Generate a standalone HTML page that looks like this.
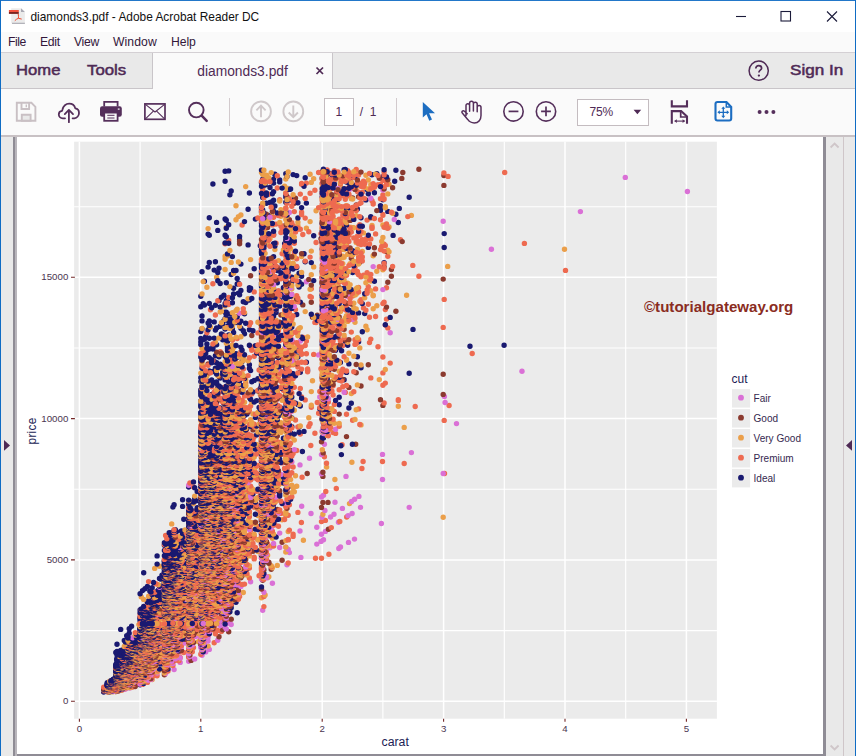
<!DOCTYPE html>
<html><head><meta charset="utf-8"><title>diamonds3.pdf - Adobe Acrobat Reader DC</title>
<style>
*{box-sizing:border-box;margin:0;padding:0}
html,body{width:856px;height:756px;overflow:hidden;background:#fff;font-family:"Liberation Sans",sans-serif}
.a{position:absolute}
.t{position:absolute;white-space:nowrap;line-height:1}
#win{position:absolute;left:0;top:0;width:856px;height:756px;overflow:hidden;background:#fff}
</style></head><body>
<div id="win">
<!-- title bar -->
<div class="a" style="left:0;top:0;width:856px;height:32px;background:#fff"></div>
<svg class="a" style="left:8px;top:7px" width="18" height="18" viewBox="8 7 18 18">
<path d="M11.200 8.200h9.800l3.900 3.900v11.200h-13.700z" fill="#ebebeb"/>
<path d="M21 8.200v3.900h3.900z" fill="#a9a9b3"/>
<path d="M12 23.300h12.900" stroke="#8c8c96" stroke-width=".800"/>
<rect x="8.900" y="10" width="9.900" height="2" fill="#f0503c"/><rect x="8.900" y="12" width="9.900" height="1.900" fill="#7a2420"/>
<path d="M18.200 13.900c.300 1.600 .400 3 .200 4.400-1.300 .500-2.700 1.300-3.600 2.400M18.400 18.300c1 .300 2.100 .600 3.300 .800" fill="none" stroke="#ee4a2e" stroke-width="1"/>
</svg>
<div class="t" style="left:30.5px;top:11.8px;font-size:11.9px;color:#111">diamonds3.pdf - Adobe Acrobat Reader DC</div>
<svg class="a" style="left:730px;top:6px" width="112" height="20" viewBox="0 0 112 20" fill="none" stroke="#1b1b3a" stroke-width="1.1">
<path d="M6 10.500h10"/><rect x="51" y="5.500" width="9.500" height="9.500"/><path d="M97 5.500l10 10M107 5.500l-10 10"/>
</svg>
<!-- menu bar -->
<div class="a" style="left:0;top:32px;width:856px;height:21px;background:#fafafa;border-bottom:1px solid #d4d0d4"></div>
<div class="t" style="left:8px;top:36px;font-size:12.2px;color:#33173a;letter-spacing:-.45px">File</div>
<div class="t" style="left:40px;top:36px;font-size:12.2px;color:#33173a;letter-spacing:-.3px">Edit</div>
<div class="t" style="left:74px;top:36px;font-size:12.2px;color:#33173a;letter-spacing:-.3px">View</div>
<div class="t" style="left:113px;top:36px;font-size:12.2px;color:#33173a;letter-spacing:.07px">Window</div>
<div class="t" style="left:171px;top:36px;font-size:12.2px;color:#33173a;letter-spacing:-.1px">Help</div>
<!-- tab bar -->
<div class="a" style="left:0;top:53px;width:856px;height:36px;background:#e9e9e9;border-bottom:1px solid #c9c5c9"></div>
<div class="a" style="left:152px;top:53px;width:181px;height:36px;background:#fafafa;border-left:1px solid #c9c5c9;border-right:1px solid #c9c5c9"></div>
<div class="t" style="left:16px;top:62.900px;font-size:14.600px;color:#4f2a55;-webkit-text-stroke:.5px #4f2a55;transform:scaleX(1.14);transform-origin:0 0">Home</div>
<div class="t" style="left:86.500px;top:62.900px;font-size:14.600px;color:#4f2a55;-webkit-text-stroke:.5px #4f2a55;transform:scaleX(1.15);transform-origin:0 0">Tools</div>
<div class="t" style="left:197.300px;top:65.200px;font-size:13.800px;color:#4f2a55">diamonds3.pdf</div>
<svg class="a" style="left:315px;top:66px" width="10" height="10" viewBox="0 0 10 10"><path d="M1.500 1.500l6.500 6.500M8 1.500l-6.500 6.500" stroke="#4f2a55" stroke-width="1.750"/></svg>
<svg class="a" style="left:747px;top:59px" width="24" height="24" viewBox="0 0 24 24"><circle cx="11.700" cy="11.700" r="9.600" fill="none" stroke="#4f2a55" stroke-width="1.500"/><path d="M8.800 9.400c0-1.700 1.300-2.700 2.900-2.700s2.900 1 2.900 2.500c0 2-2.700 2-2.700 4.200" fill="none" stroke="#4f2a55" stroke-width="1.700"/><circle cx="11.900" cy="16.600" r="1.150" fill="#4f2a55"/></svg>
<div class="t" style="left:789.500px;top:62.900px;font-size:14.600px;color:#4f2a55;-webkit-text-stroke:.5px #4f2a55;transform:scaleX(1.17);transform-origin:0 0">Sign In</div>
<!-- toolbar -->
<div class="a" style="left:0;top:89px;width:856px;height:48px;background:#fafafa;border-bottom:2px solid #c8c1c4"></div>
<!-- save (disabled) -->
<svg class="a" style="left:14px;top:100px" width="24" height="24" viewBox="14 100 24 24" fill="none" stroke="#c9c0c4" stroke-width="1.9">
<path d="M16.8 102.8h14.6l4 4v14h-18.6z"/><path d="M21.5 102.8v6.2h7.6v-6.2"/><path d="M26.3 104.4v2.8" stroke-width="1.4"/><path d="M21.8 120.8v-6h8.8v6z" fill="#e9e9e9"/>
</svg>
<!-- cloud upload -->
<svg class="a" style="left:56px;top:100px" width="26" height="24" viewBox="56 100 26 24" fill="none" stroke="#552f5b" stroke-width="1.8" stroke-linecap="round" stroke-linejoin="round">
<path d="M65 118.3h-2.200c-2.300 0-4-1.700-4-3.800 0-1.900 1.400-3.500 3.300-3.700 .1-.3 .2-.700 .300-1 .9-3.500 3.500-6.200 6.800-6.200 3 0 5.400 2 6.100 4.800 2.200 .300 3.700 2.200 3.700 4.500 0 2.700-2 5-4.600 5.400h-1.800"/>
<path d="M68.900 122.200v-11.800M64.800 114.100l4.100-4.200 4.100 4.200"/>
</svg>
<!-- print -->
<svg class="a" style="left:98px;top:99px" width="26" height="25" viewBox="98 99 26 25">
<path d="M104.200 106.500v-4.600h13.400v4.600" fill="none" stroke="#552f5b" stroke-width="1.800"/>
<rect x="100" y="106.300" width="21.800" height="10.400" rx="2.200" fill="#552f5b"/>
<rect x="104.200" y="112.600" width="13.400" height="8.200" fill="#fafafa" stroke="#552f5b" stroke-width="1.800"/>
<path d="M107.300 115.300h7.200M107.300 118h7.200" stroke="#552f5b" stroke-width="1"/>
<rect x="117.800" y="108.500" width="1.800" height="1.200" fill="#fafafa"/>
</svg>
<!-- mail -->
<svg class="a" style="left:142px;top:101px" width="26" height="22" viewBox="142 101 26 22" fill="none" stroke="#552f5b">
<rect x="144.900" y="103.900" width="20.100" height="15.400" stroke-width="1.700"/>
<path d="M145.400 104.400l9.600 7.600 9.600-7.600M145.400 118.800l8-7.600M164.600 118.800l-8-7.600" stroke-width="1.100"/>
</svg>
<!-- search -->
<svg class="a" style="left:185px;top:100px" width="25" height="24" viewBox="185 100 25 24" fill="none" stroke="#552f5b" stroke-linecap="round">
<circle cx="196.300" cy="110.100" r="7.300" stroke-width="1.900"/><path d="M201.700 115.700l5 5.200" stroke-width="2.500"/>
</svg>
<div class="a" style="left:229px;top:98px;width:1px;height:28px;background:#d2cacd"></div>
<!-- up / down -->
<svg class="a" style="left:249px;top:100px" width="57" height="23" viewBox="249 100 57 23" fill="none" stroke="#cfc8ca" stroke-width="1.900">
<circle cx="261" cy="111.400" r="9.900"/><path d="M261 117.200v-11.200M256.400 110.300l4.600-4.600 4.600 4.600"/>
<circle cx="293.300" cy="111.400" r="9.900"/><path d="M293.300 105.600v11.200M288.700 112.500l4.600 4.600 4.600-4.600"/>
</svg>
<div class="a" style="left:324px;top:98px;width:30px;height:27.500px;background:#fff;border:1px solid #c4bcc0"></div>
<div class="t" style="left:335.500px;top:105.500px;font-size:12px;color:#4f2a55">1</div>
<div class="t" style="left:359.800px;top:105.500px;font-size:12px;color:#4f2a55;word-spacing:3.400px">/ 1</div>
<div class="a" style="left:396px;top:98px;width:1px;height:28px;background:#d2cacd"></div>
<!-- arrow -->
<svg class="a" style="left:421px;top:100px" width="16" height="23" viewBox="421 100 16 23"><path d="M422.800 102.100v15.400l3.700-3.300 2.800 6.600 2.700-1.200-2.900-6.400h5.900z" fill="#1c6dc1"/></svg>
<!-- hand -->
<svg class="a" style="left:458px;top:99px" width="26" height="26" viewBox="458 99 26 26" fill="none" stroke="#552f5b" stroke-width="1.500" stroke-linecap="round" stroke-linejoin="round">
<path d="M466 115.400V105.600a1.800 1.800 0 0 1 3.600 0V111.300M469.600 111V103.100a1.900 1.900 0 0 1 3.800 0V111M473.400 111V104.100a1.900 1.900 0 0 1 3.800 0V111.400M477.200 111.800V107.400a1.900 1.900 0 0 1 3.800 0V115.600c0 4.500-2.700 7.300-6.700 7.300-3.200 0-5-1.200-6.600-3.500l-5.400-6.300c-1.300-1.600 .700-3.200 2.200-1.900l2.700 2.600"/>
</svg>
<!-- minus / plus -->
<svg class="a" style="left:501px;top:99px" width="58" height="25" viewBox="501 99 58 25" fill="none" stroke="#552f5b" stroke-width="1.600">
<circle cx="513.500" cy="111.400" r="9.700"/><path d="M508.600 111.400h9.800" stroke-width="1.700"/>
<circle cx="546" cy="111.400" r="9.700"/><path d="M541.100 111.400h9.800M546 106.500v9.800" stroke-width="1.700"/>
</svg>
<!-- zoom box -->
<div class="a" style="left:577px;top:98.500px;width:72px;height:27px;background:#fff;border:1px solid #c4bcc0"></div>
<div class="t" style="left:589.500px;top:106px;font-size:12px;color:#4f2a55;letter-spacing:-.2px">75%</div>
<svg class="a" style="left:633px;top:109px" width="9" height="6" viewBox="0 0 9 6"><path d="M.6 .7h7.600l-3.800 4.600z" fill="#4f2a55"/></svg>
<!-- fit width -->
<svg class="a" style="left:669px;top:99px" width="22" height="26" viewBox="669 99 22 26" fill="none" stroke="#552f5b" stroke-width="2.100">
<path d="M671.800 100.200v6.200h15.200v-6.200"/><path d="M671.800 123.800v-12.700h9.300l5.900 5.400v7.300"/><path d="M680.700 111.400v5.600h6" stroke-width="1.700"/>
<path d="M674.600 121.100h10.200" stroke-width="1.100"/><path d="M676.800 119.200l-2.400 1.900 2.400 1.900zM682.600 119.200l2.400 1.900-2.400 1.900z" fill="#552f5b" stroke="none"/>
</svg>
<!-- blue page -->
<svg class="a" style="left:713px;top:100px" width="21" height="23" viewBox="713 100 21 23" fill="none" stroke="#1c6dc1">
<path d="M715.500 104v14.500c0 1.200 .800 2 2 2h11.700c1.200 0 2-.800 2-2v-11.600l-4.700-4.900h-9c-1.200 0-2 .800-2 2z" stroke-width="2.100"/>
<path d="M726.300 102.300v4.800h4.700" stroke-width="1.500"/>
<path d="M723.300 108v8.600M719 112.300h8.600" stroke-width="1.300"/>
<path d="M721.300 108.800l2-2.400 2 2.400zM721.300 115.800l2 2.400 2-2.400zM719.800 110.300l-2.400 2 2.400 2zM726.800 110.300l2.400 2-2.400 2z" fill="#1c6dc1" stroke="none"/>
</svg>
<svg class="a" style="left:756px;top:108px" width="22" height="8" viewBox="756 108 22 8" fill="#552f5b"><circle cx="759.600" cy="111.900" r="2"/><circle cx="766.500" cy="111.900" r="2"/><circle cx="773.400" cy="111.900" r="2"/></svg>

<!-- doc area -->
<div class="a" style="left:0;top:137px;width:856px;height:619px;background:#e9e9e9"></div>
<div class="a" style="left:13px;top:137px;width:813px;height:619px;background:#8f8c95"></div>
<div class="a" style="left:15px;top:137px;width:2px;height:619px;background:#b9b6bc"></div>
<div class="a" style="left:16.500px;top:137px;width:806px;height:617px;background:#fff"></div>
<div class="a" style="left:843px;top:137px;width:1px;height:619px;background:#cfc6c9"></div>
<svg class="a" style="left:0;top:0" width="856" height="756" viewBox="0 0 856 756">
<rect x="74.1" y="141.7" width="642.8" height="577" fill="#ebebeb"/>
<path d="M140.1 141.7V718.7M261.5 141.7V718.7M382.9 141.7V718.7M504.3 141.7V718.7M625.7 141.7V718.7M74.1 630.6H716.9M74.1 489.2H716.9M74.1 348H716.9M74.1 206.7H716.9" stroke="#fff" stroke-width="1.15" fill="none"/>
<path d="M79.4 141.7V718.7M200.8 141.7V718.7M322.2 141.7V718.7M443.6 141.7V718.7M565 141.7V718.7M686.4 141.7V718.7M74.1 701.2H716.9M74.1 559.9H716.9M74.1 418.6H716.9M74.1 277.3H716.9" stroke="#fff" stroke-width="1.5" fill="none"/>
<style>.f{stroke:#DA70D6}.g{stroke:#8B3A2F}.v{stroke:#EB9F4A}.p{stroke:#EE6A50}.i{stroke:#191970}</style><g fill="none" stroke-width="5.4" stroke-linecap="round">
<path class=v d="M185 622.5h0"/>
<path class=p d="M195.9 622.5h0"/>
<path class=f d="M228.7 623.1h0"/>
<path class=v d="M188.7 621.6h0"/>
<path class=g d="M182.6 621.5h0m37.6 0h0"/>
<path class=v d="M200.8 621.8h0"/>
<path class=i d="M140.1 620.8h0"/>
<path class=v d="M200.8 620.5h0"/>
<path class=g d="M221.4 620h0"/>
<path class=f d="M220.2 620.8h0"/>
<path class=v d="M217.8 619.5h0"/>
<path class=p d="M214.2 619.9h0"/>
<path class=f d="M188.7 620.5h0m3.6-.6h0m25.5-.5h0m-1.2 .9h0"/>
<path class=p d="M226.3 619.7h0m-37.6 0h0"/>
<path class=v d="M159.5 619.5h0m48.6 .7h0m-49.8-.3h0"/>
<path class=i d="M188.7 619.3h0"/>
<path class=g d="M157.1 619.2h0m68 .5h0"/>
<path class=f d="M215.4 619h0"/>
<path class=g d="M231.2 619.3h0"/>
<path class=i d="M200.8 619.4h0m-44.9-.1h0"/>
<path class=p d="M208.1 618.7h0m2.4 1.2h0m-69.2-.9h0"/>
<path class=v d="M191.1 619.6h0m-7.3-.1h0m27.9-.7h0m6.1 .2h0m-57.1-.4h0"/>
<path class=p d="M205.7 618.9h0m-7.3-.5h0m2.4 .3h0m-55.8 .2h0m43.7 .1h0m36.4-.8h0"/>
<path class=g d="M177.7 618.7h0m4.9 0h0"/>
<path class=p d="M155.9 618.9h0m24.3-.3h0m-15.8 .7h0m15.8-1h0m-25.5 .7h0"/>
<path class=f d="M191.1 618.7h0m-7.3-.8h0m30.4 .8h0m12.1-.6h0"/>
<path class=i d="M200.8 618.4h0m-54.6 .8h0m55.8-.2h0m-61.9-.2h0m0-.9h0"/>
<path class=g d="M176.5 618.8h0"/>
<path class=v d="M188.7 618.7h0m-11-.6h0m8.5-.3h0m-37.6 .6h0m52.2-.6h0"/>
<path class=i d="M140.1 617.8h0m30.4 .4h0m9.7-.1h0m-26.7 .5h0m23-.4h0m19.4 .3h0m-41.2-1h0m-8.5 .4h0"/>
<path class=p d="M164.4 618.8h0m8.5-.5h0m29.1-.1h0m-24.3-.3h0m13.4 .3h0m-26.7-.2h0"/>
<path class=g d="M168 618.3h0m27.9-1h0m-44.9 1.1h0"/>
<path class=p d="M208.1 617.9h0m-40.1 .3h0m30.4-.4h0m-29.2 .1h0m42.5 .3h0m8.5-.8h0"/>
<path class=f d="M175.3 618.3h0"/>
<path class=g d="M209.3 617.5h0m-7.3 .4h0m-12.1-.1h0m1.2-.4h0"/>
<path class=i d="M149.8 617h0m0-.3h0m-2.4 1.1h0"/>
<path class=v d="M165.6 618h0m-3.6-.4h0m15.7-.4h0m-13.3 .5h0m24.3 .1h0m-21.9 .4h0m35.2-.7h0m2.4 .5h0m-32.7-.1h0m-6.1-.1h0m-4.9-.8h0m9.8 1h0m21.8-.4h0m-1.2-.9h0"/>
<path class=p d="M204.4 617.6h0m-14.5-.4h0m14.5-.5h0m-31.5 .6h0m36.4-.5h0"/>
<path class=i d="M188.7 617.5h0m-7.3-.1h0m-37.7 .7h0m2.5-.8h0m49.7-.4h0m-29.1 .3h0m4.9 .2h0"/>
<path class=f d="M200.8 617.4h0"/>
<path class=i d="M180.2 616.3h0m-37.7 .6h0m31.6-.1h0m27.9 .5h0m-13.3-.2h0m-45-.2h0m57.1-.4h0m2.4-.4h0"/>
<path class=v d="M185 616.3h0m4.9 .5h0m12.1 .1h0m-26.7-.2h0m-6.1 .7h0m-1.2-.4h0"/>
<path class=g d="M226.3 616.3h0"/>
<path class=p d="M140.1 616.4h0m17 .7h0m7.3 .4h0m1.2-.4h0m-6.1 0h0m18.2 0h0m30.4-.5h0m-51-1.1h0m7.3 1.5h0m-19.4-.2h0m70.4 .1h0m-42.5-.1h0m15.8-.4h0"/>
<path class=v d="M172.9 616.5h0m-18.2 .3h0m10.9 .1h0m35.2-.8h0m0-.1h0"/>
<path class=g d="M208.1 615.9h0"/>
<path class=p d="M164.4 616.7h0m-13.4-.3h0m25.5 .5h0m-9.7-.1h0m-21.8-.5h0m43.7-.1h0"/>
<path class=i d="M171.7 616.8h0m-25.5-.5h0m55.8 .5h0m-41.3-.6h0m-15.7-.4h0m4.8 .3h0m21.9 .2h0m1.2-.1h0m40-.5h0m-47.3 .9h0m23.1-.6h0"/>
<path class=p d="M189.9 616.1h0"/>
<path class=v d="M176.5 616h0m-24.3-.1h0m15.8 .9h0m3.7-.8h0m37.6 .2h0m-68-.9h0m25.5 1.1h0m35.2-.4h0m-35.2 .1h0m12.1-.1h0"/>
<path class=i d="M172.9 616.1h0m15.8-.1h0m-38.9-.5h0m14.6 .6h0m18.2 .2h0m-10.9-.9h0m-24.3 .6h0m18.2 .1h0"/>
<path class=g d="M193.5 615.8h0m-2.4 .2h0m-24.3-.1h0m7.3-.3h0"/>
<path class=i d="M164.4 615.7h0m18.2-.6h0m-21.9 .6h0m31.6-.8h0m-40.1 .6h0"/>
<path class=v d="M170.5 615.3h0m43.7 .1h0m-34 .3h0m21.8 0h0m-36.4 .4h0"/>
<path class=g d="M210.5 615.6h0m-23.1-.2h0"/>
<path class=p d="M154.7 616.1h0m23-1.1h0m28 .2h0m-17 .5h0m12.1-.2h0m-9.7-.6h0m9.7 .5h0m-4.9 .2h0m-27.9-.3h0m21.9 .4h0m-13.4-.3h0m-10.9 .3h0m42.5-.1h0m-12.2-.4h0m0-.5h0m-19.4 .2h0m32.8-.4h0m-69.2-.4h0"/>
<path class=i d="M164.4 615.6h0m-21.9 .2h0m11-.9h0m41.2-.2h0m-36.4-.1h0m10.9 .8h0m-19.4-.3h0m21.9 0h0m8.5-.4h0m-36.5 .2h0"/>
<path class=f d="M212.9 614.7h0"/>
<path class=v d="M188.7 615.5h0m3.6-1.2h0m-21.8 .7h0m-3.7 .4h0m-24.3-1.3h0m61.9 .3h0m-2.4 .9h0"/>
<path class=p d="M165.6 615.1h0m24.3 0h0m-8.5-.3h0m-23.1-.3h0m18.2 .2h0m-15.8 0h0"/>
<path class=g d="M214.2 614.1h0m-41.3 1h0m-8.5 .1h0m2.4-.4h0"/>
<path class=v d="M182.6 614.3h0m-10.9-.2h0m18.2 .9h0m-24.3-.2h0m13.3-.2h0m-14.5 .3h0m27.9-.7h0"/>
<path class=f d="M225.1 614h0"/>
<path class=i d="M206.9 614.3h0m-6.1 .8h0m-8.5-1.1h0m-37.6 .5h0m0-.9h0m-9.7 1.4h0m4.8-.6h0m-2.4 .3h0"/>
<path class=p d="M169.2 615h0m28-.8h0m-26.7-.1h0m3.6 .2h0m14.6 .2h0m26.7-.5h0m-9.7 0h0m-28 .1h0"/>
<path class=v d="M164.4 614.6h0m3.6-.1h0m14.6-.6h0m6.1 .5h0m15.7-.7h0m-2.4 .8h0m-35.2 .1h0"/>
<path class=f d="M157.1 614.1h0m69.2-.4h0"/>
<path class=i d="M143.7 614.4h0m3.7-.3h0m53.4 .6h0m-31.6-.5h0m19.5-.2h0m1.2 .1h0m-25.5 .2h0m-21.9-.9h0m25.5 .4h0"/>
<path class=g d="M208.1 614.3h0m-6.1-.5h0m19.4 0h0m-46.1 .5h0"/>
<path class=f d="M200.8 614h0m8.5-.5h0"/>
<path class=g d="M172.9 613.7h0m-8.5 .5h0"/>
<path class=v d="M206.9 613.4h0m-18.2 .6h0m-11-.5h0m-7.2 .4h0m9.7-.2h0m-11-.1h0m26.7 .4h0m8.5-.5h0m-57-.8h0"/>
<path class=p d="M165.6 614.1h0m44.9-.7h0m-7.3 .2h0m-37.6 .2h0m1.2 0h0m-10.9-.3h0m30.3-.5h0m-18.2 .5h0m9.7-.4h0m35.2 .6h0m-21.8-.2h0m-10.9-.1h0m27.9 0h0m-6.1-.1h0m-1.2 .3h0m-12.1 .1h0"/>
<path class=i d="M164.4 613.7h0m-12.2 .3h0m20.7-.3h0m34-.6h0m-58.3 .1h0m25.5 .4h0m49.8-.2h0"/>
<path class=v d="M153.5 612.7h0m47.3 .5h0m-29.1 .4h0m17 0h0"/>
<path class=i d="M176.5 613.2h0m-3.6-.2h0m-23.1 .4h0m14.6-.1h0"/>
<path class=f d="M226.3 613.1h0m-14.6 0h0"/>
<path class=p d="M228.7 613h0m-70.4 .4h0m8.5 .3h0m20.6-.3h0m-38.8-.8h0m34 1h0m18.2-.8h0"/>
<path class=g d="M170.5 613.2h0m9.7 .1h0m-13.4-.2h0"/>
<path class=p d="M191.1 612.7h0m-34 .4h0m70.4-.7h0m-52.2 .6h0m-30.3-.5h0m17-.8h0"/>
<path class=f d="M188.7 613.1h0"/>
<path class=i d="M149.8 612.9h0m0-.7h0m52.2 1.1h0m-61.9-.6h0m37.6-.1h0m0-.3h0m34 .7h0m25.5-.3h0m-29.1-.4h0m-59.5-.3h0m30.3 .1h0"/>
<path class=g d="M204.4 612.7h0m2.5-.2h0"/>
<path class=v d="M188.7 612.9h0m-14.6-.4h0m27.9 .7h0m-31.5-.4h0m40-.4h0m-37.6 .3h0m15.8 0h0m-24.3 .5h0m0-.4h0m3.6-.1h0m15.8 .2h0m19.4-.1h0m-43.7-.8h0m52.2 .3h0"/>
<path class=p d="M169.2 613h0m12.2-.2h0m6-.1h0m-7.2-.7h0m-15.8 .6h0m36.4 0h0m3.6-.3h0m14.6-.8h0m-30.3 .9h0"/>
<path class=g d="M163.2 611.6h0"/>
<path class=i d="M205.7 612.6h0m-40.1 .4h0m3.6-.3h0m2.5-.4h0m-18.2-.3h0m38.8 .4h0m-24.3-.3h0m3.7 0h0m-20.7-.9h0"/>
<path class=g d="M155.9 612.2h0m35.2-.4h0"/>
<path class=f d="M222.7 612.1h0m-14.6-.4h0"/>
<path class=v d="M210.5 612.2h0m-58.3-.1h0m70.5-.7h0m-26.8 .3h0m25.5-.7h0m-48.5 1.4h0"/>
<path class=p d="M176.5 611.5h0m-12.1 1h0m36.4-.3h0m10.9 .1h0m-26.7-1.2h0m-21.8 .3h0m12.1 .4h0"/>
<path class=i d="M168 611.8h0m-2.4 1.1h0m-24.3-1.7h0m24.3 1h0m24.3-.2h0m-9.7-.1h0m8.5-.1h0m-43.7 .1h0m84.9-.1h0m-55.8-.2h0m37.6-.6h0m-47.3 1.3h0m-12.2-.8h0m-4.8 .3h0m-1.2-.6h0m71.6 .6h0m-70.4-.9h0m23.1 .6h0m-18.3-.1h0"/>
<path class=f d="M225.1 611.1h0"/>
<path class=v d="M166.8 611.6h0m31.6-.1h0m2.4 .3h0"/>
<path class=g d="M193.5 611.3h0m-2.4-.2h0m-7.3 .6h0"/>
<path class=p d="M202 612.4h0m-32.8-.9h0m34 .3h0m-27.9-.8h0m31.6 .4h0m-28 .2h0m-2.4-.3h0m24.3 .2h0m-25.5-.9h0m14.6 .6h0m15.8 .3h0m1.2-.9h0"/>
<path class=g d="M168 611.3h0"/>
<path class=v d="M171.7 611.1h0m23-.3h0m-21.8 .2h0m7.3-.1h0m-9.7 .2h0m-6.1 .6h0"/>
<path class=i d="M148.6 610.6h0m40.1 .8h0m-45-.1h0m21.9 .1h0m-10.9-.5h0m46.1 .2h0m-24.3-.5h0m31.6 .1h0m-55.9 .1h0m53.5-.4h0m8.5-.1h0m-36.5 .2h0"/>
<path class=p d="M188.7 611.3h0m-24.3 .2h0m19.4-.4h0m-19.4-.1h0m18.2 0h0m26.7 0h0m-29.1-.3h0m-4.9-.4h0m17 .7h0"/>
<path class=g d="M215.4 610.5h0m-46.2 .3h0m30.4-.4h0m1.2 .6h0"/>
<path class=p d="M164.4 610.8h0m-10.9-.2h0m64.3 .2h0m-40.1-.8h0m-8.5 .4h0m3.7 .5h0"/>
<path class=v d="M166.8 611h0m-1.2 .1h0m-7.3-.1h0m13.4-.2h0m-7.3-.2h0m18.2-.2h0m32.8-.3h0m-11-.3h0"/>
<path class=f d="M200.8 610.6h0m26.7 .2h0m35.2-.5h0"/>
<path class=i d="M181.4 610.5h0m7.3 .4h0m-45-.2h0m48.6-.5h0m9.7 .7h0m-35.2-.5h0"/>
<path class=v d="M176.5 610.2h0m25.5 .3h0m1.2-.3h0m0-.4h0m-12.1 .1h0"/>
<path class=i d="M194.7 610.1h0m-29.1 .5h0m3.6-.3h0m-14.5 .1h0m52.2-.4h0m-4.9 .2h0m-53.4 .1h0m21.9 .2h0m-30.4-.6h0m48.6 .2h0m-37.7 .2h0m-4.8-.3h0"/>
<path class=g d="M217.8 609.6h0m10.9 0h0m-26.7 .4h0"/>
<path class=p d="M180.2 610.3h0m-9.7 0h0m26.7-.6h0m-32.8 .9h0m1.2-.4h0m36.4-.3h0m-12.1-.1h0m10.9 .3h0m-55.8-.4h0m72.8-.3h0m-41.3 .5h0"/>
<path class=i d="M147.4 609.7h0m-2.4-.7h0m43.7 .9h0m-36.5-.4h0m-2.4 .2h0"/>
<path class=f d="M193.5 609.2h0"/>
<path class=v d="M165.6 610h0m-1.2 .1h0m61.9-.7h0m-61.9 .5h0m14.5 .2h0m-1.2-.2h0"/>
<path class=p d="M151 609.2h0m51 .5h0m3.7-.1h0m-32.8 .5h0m-31.6-.7h0m63.1 .2h0m-23-.3h0m23-.2h0m-15.7 .7h0"/>
<path class=g d="M146.2 609.1h0m63.1 .1h0m-20.6 .4h0"/>
<path class=i d="M146.2 608.8h0m21.8 1h0m-23-.8h0m13.3-.4h0m-17 .4h0"/>
<path class=v d="M191.1 609.3h0m4.8 .3h0m-24.2 .3h0m17-.4h0m-6.1-.8h0m-6.1 .6h0m20.7-.4h0"/>
<path class=p d="M169.2 609.8h0m-3.6 0h0m-1.2-.3h0m26.7-.5h0m-18.2 .4h0m1.2 0h0m36.4 .4h0m3.7-1.2h0m-37.7 .6h0m-1.2 0h0m37.6 .1h0m-41.2 0h0m4.8-.4h0m-9.7 .8h0m0-.6h0"/>
<path class=g d="M188.7 609.4h0m12.1-.3h0m2.4 .2h0m-1.2 .2h0"/>
<path class=v d="M202 609h0m1.2-.1h0"/>
<path class=g d="M226.3 608.9h0m-8.5-.5h0m-9.7-.2h0"/>
<path class=i d="M151 609h0m18.2-.2h0m-3.6 .6h0m-1.2-.3h0m4.8-.4h0"/>
<path class=f d="M228.7 608.2h0m-7.3 .1h0"/>
<path class=p d="M178.9 608.8h0m-10.9-.2h0m36.4 .1h0m-20.6-.4h0m-18.2 .5h0m24.3 .2h0m4.8 .1h0m-6-.4h0m-12.2 0h0m-12.1-.1h0m24.3 .1h0m-15.8 .2h0"/>
<path class=v d="M171.7 608.2h0m17 .4h0m-12.2-.2h0"/>
<path class=p d="M157.1 607.7h0m-8.5 .1h0m43.7 .8h0"/>
<path class=i d="M166.8 608.7h0m6.1-.3h0m18.2-.3h0m-14.6-.1h0m27.9 .6h0m21.9-.5h0m-61.9 .4h0m10.9-.1h0m-2.4-.1h0"/>
<path class=g d="M164.4 608.4h0m15.8 .1h0m-19.5 .4h0m54.7-1h0m-28-.5h0"/>
<path class=v d="M166.8 608.2h0m-17-.9h0m38.9 1h0m-31.6-.8h0m44.9 .7h0m-10.9-.3h0"/>
<path class=i d="M231.2 607.7h0m-65.6 .3h0m23.1 .1h0"/>
<path class=p d="M181.4 607.5h0m-14.6 .3h0m-12.1 .5h0m46.1 .2h0m1.2-.7h0m-21.8-.3h0m20.6 .3h0m-47.3-.1h0m58.2 .5h0m-47.3 0h0m-19.4-1.2h0m33.9 .4h0m38.9-.3h0"/>
<path class=f d="M175.3 607.9h0"/>
<path class=v d="M212.9 606.7h0m-23 .9h0m19.4-.2h0m-32.8 .2h0m1.2 0h0m-6 .1h0"/>
<path class=i d="M168 608h0m10.9-.8h0m-13.3 .5h0m43.7-.6h0m-52.2-.1h0m12.1 .9h0"/>
<path class=g d="M226.3 607h0m-49.8 .6h0"/>
<path class=p d="M203.2 607.5h0m-29.1-.1h0m-20.6-.2h0m14.5 .5h0m32.8-.3h0m-19.4-.3h0m26.7 .2h0m-43.7 .3h0m0-.2h0m40 0h0m59.5-.8h0"/>
<path class=g d="M194.7 606.5h0"/>
<path class=i d="M174.1 607.1h0m-23.1 .1h0m-7.3-.8h0m38.9 .6h0"/>
<path class=p d="M170.5 607.2h0m9.7 0h0m10.9 .2h0m-19.4-.8h0m27.9 .5h0"/>
<path class=v d="M166.8 607.4h0m-2.4-.3h0m12.1 .3h0m25.5 .2h0m9.7-.8h0m-8.5 .2h0m-35.2 .4h0m23.1-.7h0m-10.9-.2h0m8.5 1h0m-11-.6h0"/>
<path class=g d="M229.9 606.6h0m-21.8 .2h0"/>
<path class=p d="M200.8 607.2h0m-1.2-1h0m21.8 0h0m-57 .7h0m24.3-.3h0m-24.3 0h0m3.6-.3h0m32.8 .1h0m19.4-.1h0m-18.2 0h0"/>
<path class=v d="M176.5 606.7h0m26.7-.2h0m12.2-.2h0m-59.5-.2h0m34 .8h0m-20.7-.5h0m41.3 .5h0m-14.6-.2h0m24.3-.9h0m-43.7-.1h0m-6 .6h0m33.9-.3h0"/>
<path class=i d="M172.9 606.8h0m-7.3-.1h0m1.2-.2h0m-2.4 0h0m14.5-.7h0"/>
<path class=g d="M225.1 606h0"/>
<path class=v d="M166.8 606.1h0m4.9 .1h0m36.4-.5h0m-34 .8h0m-12.1-.9h0m21.8-.2h0"/>
<path class=f d="M223.9 606.1h0m-58.3 .3h0"/>
<path class=i d="M202 606.3h0m-35.2-.4h0m-10.9-.2h0m8.5 .3h0"/>
<path class=p d="M180.2 605.9h0m13.3 .3h0m-20.6-.4h0m32.8 .4h0m6-.3h0m13.4-.1h0m-59.5 .3h0m8.5-.4h0m17 .3h0m-2.4 .2h0m-7.3 0h0m-10.9-.4h0m31.5 .1h0m-6.1-.6h0m-23 0h0"/>
<path class=g d="M214.2 604.9h0m-60.7 1h0m20.6-.7h0"/>
<path class=v d="M188.7 605.8h0m-15.8-.5h0m34 .4h0m0-.4h0m-29.2-.2h0m19.5 .2h0m-6.1 .2h0m-10.9-.3h0m-11 .3h0m15.8-.4h0"/>
<path class=p d="M208.1 605.5h0m-42.5 .3h0m36.4-.1h0m23.1-.3h0m-36.4 0h0m-19.5-.2h0m38.9-.4h0m-19.4 .4h0"/>
<path class=i d="M168 605.1h0m4.9 0h0m27.9 .7h0m-36.4 0h0m7.3-1.1h0m-6.1 .8h0m-1.2-.1h0m-13.4-.6h0m15.8 .6h0m43.7-.8h0m-53.4 0h0m40.1 .2h0"/>
<path class=v d="M192.3 605.3h0m3.6-.8h0m4.9 .3h0m-9.7 0h0m-21.9 0h0m7.3 .6h0m41.3 0h0m-34-.7h0m-13.3 .1h0m33.9 .6h0m-23-.6h0m-8.5 .1h0"/>
<path class=p d="M166.8 605.3h0m35.2 .3h0m2.4-.5h0m-14.5 0h0m25.5-.3h0m-30.4-.3h0m18.2 .7h0m-30.3-.9h0m1.2 .5h0m29.1 .2h0m-36.4-.3h0"/>
<path class=g d="M164.4 605.4h0m37.6-.3h0m3.7-.1h0m25.5-.3h0m-62-.2h0m14.6 0h0"/>
<path class=i d="M192.3 604.2h0m-40.1 .3h0m0-.3h0"/>
<path class=g d="M189.9 604.9h0m-15.8-.4h0m-15.8-1.2h0"/>
<path class=p d="M203.2 604.6h0m-37.6 .1h0m23.1 .3h0m-21.9-.5h0m3.7-.5h0m21.8-.1h0m-7.3 0h0m26.7 0h0"/>
<path class=v d="M200.8 604.2h0m24.3 .8h0m-60.7 .1h0m0-.8h0m15.8 .7h0m-14.6-.8h0m57.1 .1h0m-7.3-.3h0m-46.2 .4h0m37.7-.2h0"/>
<path class=f d="M208.1 603.7h0m18.2-.3h0m2.4 .8h0"/>
<path class=v d="M219 603.7h0"/>
<path class=p d="M210.5 604.4h0m-61.9 .3h0m21.9-1.2h0m4.8 .6h0m55.9-.4h0m-42.5 1.1h0m-24.3-.5h0m53.4-.6h0m-43.7 0h0m3.6 .7h0m11-.6h0m15.7 .6h0m3.7-.9h0"/>
<path class=i d="M164.4 603.7h0m-13.4 0h0"/>
<path class=g d="M189.9 604.2h0m0-.4h0m-1.2-.3h0m-8.5 0h0"/>
<path class=p d="M227.5 603.3h0m-54.6-.2h0m29.1 1.1h0m21.9-.6h0m-76.5-.9h0m27.9 1.2h0m1.2-.5h0m10.9-.6h0m-15.7 .1h0"/>
<path class=i d="M160.7 603.4h0m13.4-.5h0m36.4 .3h0m-41.3 .9h0m1.3-1.1h0m-13.4 .3h0m52.2-.1h0"/>
<path class=g d="M192.3 602.8h0"/>
<path class=f d="M204.4 603.5h0"/>
<path class=v d="M168 604.1h0m32.8-.1h0m15.8 .1h0m-25.5-.6h0m-1.2 0h0m-24.3 .4h0m-1.2-.4h0m4.8 .3h0m26.7-.7h0m1.3-.4h0m-31.6 .9h0m4.9-1.1h0"/>
<path class=p d="M177.7 603.2h0m11-.3h0m36.4-.1h0m-21.9 .3h0m-38.8 .2h0m24.3-.5h0m6-.9h0m-35.2 .5h0m0-1h0"/>
<path class=v d="M205.7 603.3h0m-54.7-.4h0m-1.2 .1h0m31.6-.3h0"/>
<path class=i d="M176.5 603.2h0m13.4-.3h0m-24.3 .5h0m2.4-.3h0m-3.6-.2h0m-13.4-.2h0m18.2 0h0m-18.2-.3h0m18.2 0h0"/>
<path class=f d="M227.5 602.6h0m-25.5 .2h0"/>
<path class=g d="M221.4 603.1h0m-14.5 .4h0"/>
<path class=f d="M205.7 602.2h0m6 0h0m8.5-.5h0"/>
<path class=v d="M170.5 602.2h0m44.9 0h0m-2.5 .3h0m-6-.8h0m-37.7 .3h0"/>
<path class=p d="M188.7 602.6h0m14.5 0h0m-30.3-.4h0m36.4 .3h0m-54.6-.5h0m70.4 0h0m-54.6 0h0m-3.7 .5h0m0-.1h0"/>
<path class=g d="M180.2 602.8h0m12.1-.7h0m9.7 .5h0"/>
<path class=i d="M165.6 602.7h0m0-.3h0m0-.2h0m-18.2 0h0m20.6-.6h0m32.8 1.1h0m35.2-.5h0m-61.9-.5h0"/>
<path class=v d="M176.5 602h0m-12.1 .5h0m29.1-.9h0m35.2-.4h0"/>
<path class=p d="M189.9 602.4h0m36.4-.7h0m-64.3-.5h0m63.1 .2h0m-42.5 .3h0m1.2 .2h0"/>
<path class=f d="M197.2 601h0m29.1 .3h0"/>
<path class=i d="M164.4 602h0m36.4 .1h0m-10.9-.1h0m-7.3-1.6h0m25.5 1h0m-35.2 .6h0m-7.3 0h0m12.1-.3h0m41.3-.3h0"/>
<path class=g d="M176.5 601.6h0m3.7-.1h0m8.5 .9h0m0-.5h0"/>
<path class=f d="M203.2 601.8h0m2.5-.4h0"/>
<path class=i d="M153.5 601.4h0m71.6-.6h0m-76.5-.1h0m47.3 .6h0"/>
<path class=g d="M168 601.4h0"/>
<path class=p d="M158.3 601.6h0m68-.8h0m-24.3 .9h0m0-.2h0m2.4 0h0m-25.5-.2h0m-4.8 0h0m14.6 .2h0m6-.6h0m-18.2 .5h0"/>
<path class=v d="M200.8 601.4h0m-34 .3h0m19.4-.3h0m-21.8 0h0m2.4 .1h0m3.7 0h0m2.4-.1h0m30.3 .2h0"/>
<path class=g d="M200.8 601.4h0m-10.9-.3h0"/>
<path class=p d="M164.4 600.9h0m57-.6h0m-54.6 1h0m3.7-.6h0m30.3 .5h0m-31.6-.4h0m-8.5-.3h0m28 .7h0m35.2-.9h0"/>
<path class=i d="M154.7 601.2h0m12.1-.3h0m24.3 .2h0m-18.2 .2h0"/>
<path class=v d="M181.4 600.8h0m20.6 .3h0m-29.1-.2h0m3.6-.1h0m26.7-.2h0m-40-.2h0m38.8 .4h0m-36.4 0h0m36.4-.1h0"/>
<path class=p d="M212.9 600.4h0m-3.6 .4h0m-30.4 .1h0m-9.7-.3h0m7.3-.2h0m32.8-.1h0m29.1-1h0"/>
<path class=v d="M192.3 600.8h0m-15.8-.6h0m6.1-.1h0m-6.1-.1h0m57.1 .1h0m-27.9 1.1h0m-40.1-.7h0m35.2-.1h0m-32.8 .4h0m34-.4h0m-23.1-.3h0m17-.4h0"/>
<path class=i d="M188.7 600.8h0m-24.3-.1h0m0-.3h0m20.6 .4h0m-14.5-.7h0m55.8-.1h0m-25.5 .3h0m-40.1-.7h0"/>
<path class=g d="M174.1 600.4h0m17 .1h0"/>
<path class=f d="M186.2 599.5h0"/>
<path class=g d="M202 600.2h0m27.9-.5h0m-63.1 .6h0m68-.8h0m-25.5 .2h0"/>
<path class=p d="M225.1 599.7h0m-49.8 .7h0m27.9-.3h0m8.5-.9h0m-36.4 .4h0m38.9-.1h0m-4.9 0h0"/>
<path class=v d="M192.3 599.6h0m-3.6 .6h0m-14.6-.3h0m26.7 0h0m-13.4-.8h0m-9.7 .3h0m-6 .7h0m17-.1h0"/>
<path class=i d="M182.6 599.2h0m8.5 1h0m15.8-.2h0m-3.7-.4h0m-46.1 .8h0m7.3-.3h0m2.4-.2h0m49.8-.9h0m-58.3 0h0"/>
<path class=p d="M200.8 599.5h0m-32.8 .2h0m38.9-.4h0m-26.7 1.1h0m32.7-1h0m-40-.4h0m57-.1h0m-9.7 .4h0"/>
<path class=g d="M215.4 599h0"/>
<path class=v d="M192.3 599.5h0m32.8-.5h0m-55.9 .6h0m32.8 0h0m25.5-.2h0m-12.1-.7h0m-26.7 .8h0m-19.5-.2h0m-25.5 .1h0m35.2-.4h0"/>
<path class=i d="M171.7 599.2h0m-9.7-.1h0m2.4 .4h0m25.5 .8h0m-17-1.4h0m4.8 .4h0m-24.2-.1h0m21.8 0h0m15.8-.1h0"/>
<path class=v d="M166.8 599.6h0m42.5-.4h0m-17 0h0m18.2-.5h0m-21.8 .3h0m17 .2h0m2.4-.2h0m-18.2-.1h0"/>
<path class=i d="M203.2 599.2h0m-52.2-.8h0m13.4 .7h0m0-.4h0m-10.9-.8h0"/>
<path class=g d="M212.9 599.1h0m11-.9h0m-41.3 .6h0m27.9-.4h0"/>
<path class=f d="M212.9 598.8h0m-4.8-.2h0m12.1 .2h0m-43.7 .1h0"/>
<path class=p d="M202 599.2h0m-27.9-.6h0m3.6 .2h0m23.1 .1h0m-12.1 .1h0m0-.2h0m-14.6-.5h0m3.6-.2h0m-8.5 .8h0m1.3-.2h0m25.4 0h0m9.8-.3h0m-26.8-.5h0m23.1 .8h0m-20.6-.6h0m-8.5-.2h0m-4.9 .8h0"/>
<path class=i d="M165.6 598.7h0m1.2 .1h0m36.4-.2h0m-47.3 .5h0m4.8-1h0m64.4 .4h0m6.1-.2h0"/>
<path class=v d="M200.8 598.8h0m-24.3-.6h0m-12.1 .5h0m24.3 0h0m-11-.9h0m-12.1 .7h0m51-.4h0m-51 .2h0m2.4 .2h0m4.9-.8h0m29.1 .9h0m59.5-.9h0"/>
<path class=p d="M214.2 597.7h0m-43.7 .1h0m-6.1 .4h0m41.3-.3h0m20.6-.3h0m-72.8 .1h0m83.7 .1h0m-41.3 .4h0m-8.5-.5h0m3.7 .6h0m-26.7-.2h0m36.4 .2h0m17-.6h0m-25.5-.2h0m-26.7 .3h0"/>
<path class=g d="M204.4 598.3h0m-36.4-.3h0m21.9 .4h0m25.5-.5h0"/>
<path class=i d="M153.5 596.9h0m10.9 1h0m6.1-.6h0m20.6 0h0"/>
<path class=f d="M209.3 597.7h0"/>
<path class=v d="M202 598.3h0m-25.5-.3h0m24.3-.1h0m-36.4-.1h0m-9.7-.2h0m34 .8h0m14.5-.3h0m-7.3-1.2h0m-20.6 1.1h0m47.4-1h0"/>
<path class=p d="M188.7 597.8h0m19.4 .1h0m7.3-.8h0m-41.3 .3h0m65.5-.9h0"/>
<path class=i d="M204.4 597.5h0m-1.2 .1h0m4.9-.5h0m-42.5 .6h0m12.1-.2h0"/>
<path class=g d="M223.9 596.9h0m-43.7 .7h0"/>
<path class=v d="M210.5 597.4h0m-54.6-.5h0m53.4 .2h0m-27.9 .2h0m24.3-.1h0m23 0h0m-38.8 .1h0m10.9 .4h0m1.2-.4h0m-27.9-.1h0m-2.4 0h0m36.4-.4h0m-41.3 .7h0m14.6-.9h0m-13.4 .6h0m17-.1h0m30.4-.5h0"/>
<path class=g d="M176.5 597h0"/>
<path class=i d="M204.4 597.3h0m-35.2-.7h0m31.6 .2h0"/>
<path class=p d="M164.4 597.4h0m61.9-1.9h0m-20.6 1.3h0m-25.5-.3h0m9.7 .4h0m2.4-.3h0m12.1 .1h0"/>
<path class=v d="M206.9 596.4h0m-65.6 .5h0m59.5-.4h0m-30.3 .4h0m8.4-.1h0m31.6 0h0m-36.4 .2h0m3.6-1h0"/>
<path class=f d="M192.3 596.3h0m-3.6 1.2h0"/>
<path class=p d="M165.6 597h0m47.3 .5h0m0-.7h0m-4.8-.7h0"/>
<path class=g d="M198.4 596h0m-23.1 .6h0"/>
<path class=i d="M165.6 596.5h0m24.3 .1h0m-29.2 .3h0"/>
<path class=v d="M188.7 597.1h0m0-.1h0m31.5-1h0m-18.2 1.1h0m25.5-1h0m-31.6 .5h0m11-.4h0m-42.5 1h0m8.5-.5h0m-1.2-.1h0m37.6-1h0m-44.9 .4h0"/>
<path class=p d="M263.9 596.6h0m-46.1-.1h0m-29.1 .2h0m41.2-.8h0m-2.4-.1h0m-47.3-.2h0"/>
<path class=g d="M169.2 596.4h0m7.3 .1h0m52.2-1.1h0"/>
<path class=v d="M194.7 595.7h0m11 0h0m-3.7 .5h0m-19.4-.7h0m52.2 .7h0m-86.2 .1h0"/>
<path class=i d="M165.6 596.3h0m46.1-.6h0m-9.7 .4h0m-1.2-.2h0m-30.3 0h0m-4.9-.2h0m-7.3-.3h0m21.9-.4h0m8.5 1.1h0"/>
<path class=g d="M188.7 595.8h0m42.5-.9h0"/>
<path class=v d="M222.7 595.1h0m15.7-.3h0"/>
<path class=f d="M180.2 594.8h0m17 .3h0"/>
<path class=p d="M189.9 595.6h0m12.1 .1h0m10.9-.2h0m-43.7 .3h0m38.9-.3h0m8.5 .4h0m8.5-1h0"/>
<path class=i d="M189.9 595.3h0m-14.6 .6h0m1.2-.1h0m-12.1 0h0m0-.4h0m8.5 .8h0m0-.8h0m31.5 .5h0m-13.3-1h0m-26.7 .3h0m1.2 .2h0m-7.3-.9h0m46.1 .6h0m-38.8 .1h0m37.6 .1h0m-38.8-.5h0m51 .6h0m-49.8-.4h0m-8.5-.1h0"/>
<path class=f d="M206.9 595.5h0"/>
<path class=v d="M175.3 595.4h0m-7.3-.2h0m46.2 .2h0m50.9-.4h0m-64.3 .6h0m-12.1 0h0m2.4-.8h0m38.8-.5h0m-18.2 .7h0m-40 .1h0"/>
<path class=g d="M200.8 595.4h0m14.6-1.1h0m-40.1 .7h0m30.4 0h0"/>
<path class=p d="M166.8 595.5h0m9.7-.3h0m31.6-.2h0m-19.4-.3h0m13.3 .7h0m-29.1-.9h0m-4.9 0h0m12.2-.1h0m27.9 .2h0m4.8 .5h0"/>
<path class=i d="M204.4 594.8h0m-13.3-.2h0m-25.5 .2h0m40.1-.3h0m-15.8 .3h0m-12.2 .7h0m-25.5-1h0m19.5-.1h0"/>
<path class=g d="M195.9 594.2h0m-6 .3h0m27.9 0h0"/>
<path class=v d="M170.5 594.7h0m7.2-.1h0m23.1 .1h0m-12.1-.2h0m24.2 .3h0m-48.5-.4h0m2.4 .3h0m42.5 .4h0m-30.4-.7h0m-9.7-.1h0m0-.4h0m52.2-.2h0m-26.7 .6h0"/>
<path class=p d="M178.9 594h0m-3.6 .2h0m17 .1h0m9.7 .6h0m-21.8-1.2h0m-6.1 .7h0m14.6-.1h0m-2.5-.9h0m42.5 .4h0m-9.7 .7h0m-35.2-.7h0m49.8-.1h0m-7.3 .3h0"/>
<path class=g d="M234.8 593.7h0m-54.6-.1h0"/>
<path class=v d="M188.7 594.1h0m9.7 .1h0m25.5-.3h0m-34 .3h0m14.5 .3h0m3.7-.4h0m-26.7-.3h0m-9.7 0h0"/>
<path class=i d="M165.6 594.6h0m35.2-.5h0m-60.7-.4h0m24.3 .6h0m37.6 .1h0m-1.2-.7h0m-36.4 .4h0m24.3-.2h0m37.6-.1h0m-59.5 .7h0"/>
<path class=p d="M164.4 593.7h0m41.3-.4h0m10.9-.2h0m-2.4 .9h0m-2.5-.2h0m-3.6-.2h0m-19.4 .2h0m-12.2-.5h0m20.7 0h0m37.6-.9h0"/>
<path class=v d="M168 594.1h0m-1.2-.2h0m24.3 .2h0m-13.4-.7h0m11 .1h0m-20.7 .2h0m46.2-.6h0m-13.4 .2h0m-10.9 .7h0m-25.5-.5h0m25.5-.2h0m-20.7-.1h0"/>
<path class=g d="M233.6 592.4h0m-31.6 1.8h0m-13.3-1h0m-7.3 .1h0"/>
<path class=f d="M194.7 592.8h0"/>
<path class=i d="M185 593.4h0m-13.3 .1h0m48.5-.6h0m-17 1.5h0m-37.6-1.2h0m8.5 .9h0m-1.2-.4h0"/>
<path class=v d="M171.7 593.2h0m54.6 .3h0m-21.9-.7h0m-31.5-.3h0m7.3 .7h0m40-.9h0m-7.3 1.3h0m-12.1-.4h0m37.6-.8h0"/>
<path class=f d="M239.6 592.7h0"/>
<path class=i d="M170.5 593h0m33.9-.3h0m-35.2 .1h0m3.7-.5h0m-2.4 .6h0m-6.1 .5h0m14.5-.4h0m-12.1-.1h0"/>
<path class=g d="M210.5 593h0m3.7 .1h0m10.9 0h0m-18.2-.5h0"/>
<path class=p d="M226.3 592.7h0m-37.6 .4h0m0-.1h0m13.3 .5h0m29.2 0h0m-40.1-.6h0m-6.1-.7h0m8.5 .3h0m32.8 0h0m-75.3 .2h0m30.4-.3h0m20.6 .5h0m-12.1-.2h0m31.5 .2h0m-15.7-.3h0m-28 .6h0m-25.5-1.1h0m14.6 .6h0m34 .1h0m25.5-.8h0m-3.6 .4h0m-45 0h0m-8.5-.1h0"/>
<path class=g d="M210.5 592.8h0m-18.2-.7h0m27.9-.2h0"/>
<path class=i d="M162 592.1h0m2.4 1h0m3.6-.6h0m-12.1-.6h0m18.2 .5h0m-3.6-.6h0m63.1 0h0m-75.3-.3h0"/>
<path class=v d="M189.9 592.4h0m53.4 .1h0m-66.8-.3h0m-9.7 .2h0m58.3-.6h0m-23.1 .7h0m-27.9-.7h0m37.6 .7h0m-3.6-.5h0m-43.7 .4h0m60.7-.8h0"/>
<path class=f d="M188.7 592.8h0m14.5-.7h0m60.7 .1h0m-63.1 .5h0m-26.7-1h0"/>
<path class=g d="M176.5 591.9h0"/>
<path class=p d="M191.1 592h0m12.1-.2h0m-1.2 .3h0m10.9-.4h0m-7.2 .5h0m-51 0h0m19.4-.8h0m3.6 .2h0m15.8 .4h0m-13.3-.3h0m26.7 .1h0"/>
<path class=i d="M151 592.1h0m20.7-.4h0m59.5 .3h0m-59.5-.6h0m-3.7 .9h0"/>
<path class=v d="M166.8 591.7h0m21.9 .4h0m25.5-.4h0m-37.7 0h0m-3.6-.2h0m49.8 .1h0m-43.8 .1h0m45-.1h0m-19.5-.2h0"/>
<path class=i d="M202 591.7h0m-36.4 .1h0m0-.3h0m-15.8-.6h0m18.2 .7h0m-2.4-.2h0m-2.4 0h0m41.2-.4h0m-46.1-.7h0"/>
<path class=f d="M189.9 591.6h0m12.1 0h0"/>
<path class=g d="M223.9 591.3h0"/>
<path class=v d="M164.4 591.8h0m3.6-1h0m31.6 1.4h0"/>
<path class=p d="M200.8 591.5h0m-8.5 .3h0m19.4-.1h0m-41.2-.3h0m12.1-.3h0m18.2 .2h0m-15.8 .1h0m24.3-.4h0m0-.2h0m-12.1 .5h0m4.8-.1h0m-13.3 .7h0m31.5-.6h0m-38.8 0h0m-8.5-.1h0m17 .2h0m-9.7-.6h0m13.3-.6h0m-15.8 .7h0m36.5 .1h0m-19.5-.7h0m-30.3 .4h0m55.8-.5h0m-26.7-.3h0m36.4 .8h0"/>
<path class=i d="M142.5 590.6h0m23.1 .5h0m8.5-.3h0m1.2 0h0m29.1 .1h0m-3.6 .1h0m-35.2-.3h0m23.1 .3h0m-2.5-.6h0m-2.4 0h0m-6.1-.3h0"/>
<path class=f d="M217.8 590.4h0"/>
<path class=v d="M202 590.9h0m-32.8-.2h0m1.3-.2h0m53.4-.4h0m-59.5 .5h0m4.8-.1h0m57.1 .1h0m0-.2h0"/>
<path class=g d="M211.7 590.3h0m26.7 .1h0m-35.2 0h0m-1.2 .2h0"/>
<path class=i d="M164.4 590.3h0m4.8-.3h0m55.9-.1h0m-12.2 .5h0"/>
<path class=g d="M187.4 590.3h0m21.9-.4h0m-13.4 .3h0"/>
<path class=p d="M200.8 590.8h0m-19.4-.7h0m9.7 .4h0m14.6 .2h0m-30.4-.1h0m3.6-.4h0m-13.3 .3h0m0-.2h0m38.8 0h0m-25.5-.3h0m32.8-.2h0"/>
<path class=v d="M171.7 590h0m35.2 .7h0m21.8-.5h0m-64.3-.4h0m42.5 .5h0m-13.4-.8h0m7.3 .7h0m-10.9 .2h0"/>
<path class=f d="M202 590h0"/>
<path class=v d="M188.7 590.4h0m30.3-.7h0"/>
<path class=f d="M182.6 589.5h0"/>
<path class=p d="M172.9 590h0m29.1-.2h0m13.4 .2h0m-26.7-.3h0m41.2 .4h0m-29.1-.3h0m-9.7 0h0m0-.5h0m13.3 .4h0m-2.4-.3h0m12.2-.3h0"/>
<path class=i d="M175.3 590h0m3.6-.1h0m-8.4-.4h0m-1.3 .4h0m-3.6-.5h0m12.1 0h0m48.6 .5h0m-23.1-.3h0m-29.1-.5h0m-9.7 .6h0m3.6 .1h0m3.7-.8h0"/>
<path class=g d="M183.8 589.5h0"/>
<path class=f d="M225.1 588.9h0"/>
<path class=p d="M170.5 589h0m19.4 .8h0m29.1-1.2h0"/>
<path class=v d="M228.7 589.6h0m-27.9-.5h0m-12.1 .3h0m-19.5 .1h0m41.3-.1h0m-3.6 .4h0m-30.4-.7h0m47.4-.7h0m-7.3 .4h0m-29.2 .6h0m13.4-.4h0m-31.6 .2h0"/>
<path class=g d="M189.9 589.1h0m24.3-.2h0m-41.3-.4h0"/>
<path class=i d="M164.4 589.6h0m2.4-.5h0m1.2 0h0m12.2 .8h0m-13.4-1h0m-2.4 .5h0m-19.4-.7h0m27.9-.7h0"/>
<path class=p d="M225.1 588.8h0m-52.2-.8h0m36.4 .4h0m-31.6 .5h0m-12.1-.2h0m4.9-.8h0m10.9 .6h0m36.4-.3h0"/>
<path class=f d="M227.5 587.9h0"/>
<path class=i d="M197.2 588.1h0m-32.8 .7h0m53.4-.9h0m-53.4 .7h0m10.9-.2h0m13.4 .9h0m-24.3-.7h0"/>
<path class=v d="M188.7 588.8h0m19.4-.3h0m18.2-.1h0m-36.4 0h0m19.4-.2h0m-8.5 .4h0m1.2 .6h0m1.2-.6h0m30.4-.6h0m-64.4 0h0m28-.4h0m-29.2 .8h0m38.9 .4h0"/>
<path class=g d="M204.4 589h0m3.7-1.1h0m53.4 1.1h0m-68-.9h0m-3.6 .2h0m-1.2 .4h0"/>
<path class=i d="M152.2 587.6h0m13.4 .7h0m18.2 .1h0m-19.4-.4h0m1.2-.1h0m13.3 .2h0"/>
<path class=p d="M200.8 588.3h0m7.3-.7h0m17-.1h0m7.3 .8h0m-65.6-.5h0m1.2 .2h0m41.3-.2h0"/>
<path class=v d="M225.1 586.9h0m-34 .6h0m-8.5 0h0m-1.2 .4h0m21.8 .1h0m-21.8-.3h0m-6.1 .3h0"/>
<path class=g d="M176.5 587.9h0m35.2-.5h0m26.7 .3h0m-42.5 0h0m6.1 .4h0"/>
<path class=p d="M164.4 587.3h0m63.1 .1h0m-26.7 .4h0m-23.1 0h0m18.2-.5h0m25.5-.4h0m-47.3 .3h0m26.7 .3h0"/>
<path class=v d="M188.7 587.8h0m14.5-.1h0m-1.2 .1h0"/>
<path class=i d="M210.5 588h0m-21.8-.5h0m-8.5 .3h0m-9.7-.4h0m1.2 0h0m-3.7-.4h0m9.7 .4h0m1.2-.4h0m48.6 .4h0m-61.9 .2h0"/>
<path class=f d="M159.5 587.3h0m71.7-.1h0"/>
<path class=g d="M189.9 588h0m15.8-.1h0"/>
<path class=v d="M186.2 586.5h0m24.3 .7h0m-23.1-.6h0"/>
<path class=f d="M232.4 586.5h0m8.5 0h0"/>
<path class=g d="M226.3 587.3h0"/>
<path class=p d="M189.9 587.8h0m-15.8-1.1h0m27.9 .6h0m6.1-.2h0m-31.6-.1h0m18.2 .2h0m12.2-.2h0m-29.2-.2h0"/>
<path class=i d="M198.4 587.3h0m-15.8-.7h0m29.1 .4h0m-4.8-.1h0m-28-.3h0m-14.5 .5h0m40-.1h0m-24.2-.8h0"/>
<path class=v d="M188.7 587.3h0m-23.1-.1h0m51-.9h0m-29.2-.2h0m-18.2 .5h0m55.9-.4h0m-26.7 .4h0"/>
<path class=i d="M191.1 586.8h0m70.4 .1h0m-114.1-.4h0m71.6 .1h0m6.1-.6h0m-60.7 .9h0m25.5-.1h0m3.6 .1h0m42.5-1.6h0"/>
<path class=p d="M188.7 586.8h0m6 .2h0m7.3 0h0m-37.6-.7h0m14.5 .3h0m9.8-.4h0"/>
<path class=g d="M165.6 586.5h0m35.2 .7h0m3.6-.5h0m-2.4-.3h0m29.2 .4h0m-59.5 .1h0m55.8-.4h0"/>
<path class=v d="M214.2 586.2h0m-25.5-.1h0m3.6-.6h0m4.9-.3h0m-28 .5h0"/>
<path class=i d="M180.2 585.7h0m-15.8 .3h0m9.7 0h0m-8.5 .3h0m7.3-.6h0m27.9 .6h0m-34 0h0m21.9-.3h0m-29.2 .2h0"/>
<path class=f d="M237.2 584.9h0"/>
<path class=p d="M208.1 586.8h0m-4.9-.5h0m-37.6-.3h0m1.2-.3h0m41.3 .5h0m-7.3 0h0m-34-.6h0m10.9 0h0m26.7 .5h0m-27.9 0h0m25.5-.3h0m1.2-.1h0"/>
<path class=v d="M171.7 585.5h0m3.6 .1h0m53.4-.5h0m-60.7 .1h0m37.7 .3h0m-25.5-.5h0"/>
<path class=f d="M204.4 585.6h0"/>
<path class=p d="M188.7 585.8h0m-24.3 0h0m7.3-.4h0m29.1 .4h0m-10.9 0h0m6-.6h0m15.8 .5h0m-7.3-.5h0m4.9 0h0"/>
<path class=g d="M202 585.5h0m-31.5-.8h0"/>
<path class=i d="M222.7 585.9h0m-6.1-.1h0m-24.3-.7h0m-19.4 .1h0m30.3 .4h0m-15.8-.5h0m-12.1-.5h0m-8.5 .6h0m-2.4 .4h0m36.4-.4h0"/>
<path class=f d="M233.6 584.4h0"/>
<path class=p d="M206.9 585.1h0m8.5-.5h0m-20.7-.3h0m-6 1.3h0m42.5-1.1h0m-2.5 .1h0m15.8-.5h0m-29.1 .1h0m-38.9 .7h0m7.3-.4h0"/>
<path class=v d="M189.9 584.8h0m-31.6-.1h0m20.6 0h0m13.4 .2h0m15.8 .1h0m-4.9 .3h0m-1.2-.5h0m3.7-.1h0m0 0h0"/>
<path class=i d="M171.7 584.7h0m-3.7 0h0m42.5 .2h0m-21.8 .2h0m-19.5-.5h0m-4.8 .4h0m2.4-.2h0m52.2-.4h0m3.7 .1h0m-20.7 .1h0"/>
<path class=g d="M200.8 584.9h0m25.5 .2h0m-21.9-.4h0m15.8-.7h0m-9.7 .6h0"/>
<path class=f d="M214.2 584.7h0"/>
<path class=p d="M200.8 584.8h0m-10.9-.3h0m34 0h0m18.2-.1h0m-60.7-.6h0m-17 .9h0m13.3-.2h0m-3.6-.3h0"/>
<path class=g d="M191.1 584.3h0"/>
<path class=v d="M222.7 584.1h0m-25.5-.1h0m14.5 .6h0m14.6-.7h0m-25.5 .7h0m1.2-.5h0m-2.4-.3h0m1.2 .3h0m12.1 .9h0m-9.7-.9h0"/>
<path class=i d="M188.7 584.5h0m17-.2h0m-29.2-.2h0m12.2 .3h0m-19.5-.6h0m42.5 0h0m-40 .7h0m-4.9 .1h0"/>
<path class=g d="M225.1 584h0m-32.8 .1h0"/>
<path class=v d="M189.9 584.3h0m32.8-.5h0"/>
<path class=p d="M228.7 584h0m-27.9-.2h0m3.6 .2h0m-48.5-.2h0m24.3-.3h0m23 .3h0m-14.5 .1h0m3.6-.2h0m24.3-.3h0m-38.9 .6h0m46.2 0h0m-55.9-.5h0m6.1-.4h0"/>
<path class=i d="M208.1 583.9h0m-43.7-.3h0m24.3 0h0m-21.9-.1h0m38.9 .5h0m-17-.7h0m-12.2-.2h0m26.7 .5h0"/>
<path class=f d="M272.4 583.3h0"/>
<path class=p d="M209.3 583.5h0m2.4-.2h0m6.1-.7h0m2.4 .3h0m-13.3 .4h0m-26.7 0h0m4.8-1.1h0m-12.1 .7h0"/>
<path class=f d="M208.1 583.1h0m-8.5 .2h0"/>
<path class=v d="M231.2 583h0m-29.2 .8h0m7.3-.7h0m9.7-.2h0m-29.1 .3h0m14.5 0h0"/>
<path class=i d="M192.3 583h0m-23.1 .2h0m-4.8 .1h0m0-.1h0m0-.5h0m63.1 .8h0"/>
<path class=g d="M210.5 583h0m3.7 .8h0m-11-.9h0m2.5 0h0m-8.5 .1h0"/>
<path class=p d="M226.3 583.1h0m-52.2-.6h0m20.6 1.1h0m7.3-.4h0m-31.5-.4h0m59.4-.4h0m-21.8 .6h0m30.3-.2h0"/>
<path class=f d="M225.1 583.3h0m25.5-1.5h0"/>
<path class=i d="M165.6 583.2h0m-12.1-.7h0m53.4 0h0m-34 .2h0m8.5 .1h0m-14.6 0h0m3.7-.6h0m-4.9 .7h0"/>
<path class=v d="M188.7 583.1h0m-11-.2h0m43.7-.3h0m-20.6 .8h0m-24.3-.6h0m25.5-.1h0m-1.2 .4h0m9.7-.4h0m-19.4-.7h0m23.1 .8h0"/>
<path class=g d="M203.2 582.7h0m29.2-.1h0m-13.4-.8h0"/>
<path class=p d="M194.7 582.1h0m3.7 .6h0m-19.5-.4h0m9.8 .1h0m7.2 0h0m-47.3-.8h0"/>
<path class=v d="M211.7 581.9h0m-9.7 .7h0m25.5-.5h0m-18.2 .4h0m7.3-.5h0m1.2-.2h0m7.3 .3h0m-29.2-.4h0"/>
<path class=f d="M206.9 582.1h0"/>
<path class=i d="M200.8 582.8h0m-10.9-.3h0m-1.2-.5h0m-23.1 .7h0m2.4-.6h0m-3.6 .3h0m0-.2h0m40 .4h0m-33.9-.7h0"/>
<path class=f d="M219 581.5h0"/>
<path class=i d="M237.2 581.1h0m-71.6 1.4h0m44.9-.5h0m9.7-.2h0m-37.6-.7h0m-14.6 .6h0"/>
<path class=p d="M164.4 582h0m37.6 .3h0m-15.8 .2h0m15.8-.3h0m-25.5-.2h0m20.7 0h0m25.5-.8h0m-36.5 .2h0"/>
<path class=v d="M226.3 581.9h0m-25.5 .3h0m6.1-.5h0m-14.6-.1h0m-3.6 .3h0m17-.1h0m1.2-.3h0m-15.8 .1h0m-18.2 .4h0m-8.5-.7h0m15.8 .2h0"/>
<path class=g d="M182.6 581h0m7.3 .7h0"/>
<path class=i d="M172.9 581.2h0m-4.9 .3h0"/>
<path class=f d="M236 580.6h0"/>
<path class=v d="M203.2 582h0m9.7-.6h0m-47.3 0h0m12.1 .9h0m0-.4h0m-13.3-.7h0m36.4 .6h0m-12.1-.1h0m37.6-.1h0m-1.2-.4h0"/>
<path class=p d="M180.2 581.3h0m27.9 .2h0m6.1-.1h0m-3.7 .3h0m-42.5-.3h0m64.4-1.2h0m-26.7 1.1h0m-4.9 .2h0m-35.2-.2h0"/>
<path class=g d="M262.7 580.3h0"/>
<path class=f d="M204.4 581.3h0"/>
<path class=v d="M228.7 580.7h0m-40 .6h0m-14.6-.4h0m17-.2h0m25.5 .6h0"/>
<path class=i d="M164.4 580.7h0m36.4 .4h0m7.3-.2h0m-36.4-.2h0m1.2-.2h0m-8.5 0h0m10.9 .2h0m-6.1-.3h0m37.7 .3h0m19.4-.3h0"/>
<path class=p d="M237.2 580.2h0m-35.2 1h0m-13.3-.2h0m-4.9-.2h0m25.5-.2h0m-31.6-.2h0m14.6 .4h0m15.8-.2h0m-7.3 .1h0m2.4 .2h0m2.5-.5h0m12.1-.7h0m-36.4 .4h0m20.6 .9h0m27.9-.3h0m-7.2-.9h0m-42.5 .4h0m17-.2h0m8.5 .4h0m-15.8 .2h0m6-.5h0"/>
<path class=f d="M200.8 580.6h0m1.2 .2h0"/>
<path class=v d="M172.9 580.2h0m-9.7 .1h0m10.9-.5h0m29.1 .5h0m-14.5 .2h0m24.2-.3h0m-8.5-.2h0"/>
<path class=i d="M225.1 580.4h0m-59.5 .4h0m35.2-.3h0m-32.8-.1h0m46.2-.3h0m-37.7-.1h0m24.3 .3h0m-29.1 0h0m3.6-.6h0"/>
<path class=g d="M228.7 580.3h0m-49.8 .1h0m21.9-.4h0m4.9 .1h0m1.2-.5h0"/>
<path class=p d="M202 580.1h0m0-.1h0m-15.8-.3h0m36.5-.2h0m-34 .6h0m-7.3-.4h0m7.3 .3h0"/>
<path class=v d="M215.4 579.8h0m-24.3-.1h0m34 .5h0m-34-.8h0m-2.4 .3h0m-24.3-.1h0m51 .1h0m-19.5-.4h0m18.3 .8h0m-6.1-.6h0m3.6 .3h0m-35.2-.2h0m3.7 0h0m8.5-.1h0m-24.3 0h0m0-.1h0m12.1 0h0"/>
<path class=i d="M166.8 579.5h0m26.7 .6h0m-20.6-.7h0m-12.2-.3h0m42.5 .8h0"/>
<path class=p d="M177.7 579.8h0m-3.6-.6h0m89.8 0h0m-81.3-.7h0m29.1 .6h0m8.5 .6h0m-25.5-.5h0"/>
<path class=g d="M225.1 579h0"/>
<path class=i d="M164.4 579.3h0m2.4-.2h0m21.9 .2h0m-20.7 0h0m21.9 .1h0m2.4-.7h0m-21.8 .1h0"/>
<path class=v d="M205.7 579h0m-2.5 .6h0m26.7-1.1h0m-58.2 .1h0m37.6 .7h0m-1.2-.4h0m-7.3 .9h0m18.2-.9h0m-8.5 .2h0m-23.1-.3h0m-7.2 .1h0m12.1-.2h0m9.7 .4h0"/>
<path class=f d="M261.5 579h0"/>
<path class=v d="M188.7 579.2h0m34 0h0m-41.3-.5h0m20.6 .3h0m14.6-.9h0m-46.1 0h0"/>
<path class=g d="M225.1 578.4h0m-18.2 .4h0"/>
<path class=p d="M189.9 578.8h0m8.5 .1h0m12.1-.4h0m52.2 .2h0m-34-.2h0m-57-.5h0m60.7 .6h0m-6.1-.5h0m-12.1 .9h0m-30.4-1h0m23.1 .1h0m-6.1 .8h0m4.9-.7h0m14.5 .1h0"/>
<path class=i d="M164.4 578.6h0m3.6-.2h0m-2.4 .3h0m10.9-.2h0m24.3-.1h0m3.6 .3h0m-1.2-.1h0m-14.5 .2h0m13.3-.4h0m-32.8-.1h0m15.8-.4h0m-18.2 .1h0m-7.3 .5h0m14.6 .2h0m-9.7-.2h0m32.8-.4h0"/>
<path class=g d="M208.1 578h0m32.8-.3h0m-36.5 .5h0"/>
<path class=v d="M215.4 577.5h0m-35.2 .4h0m30.3 .2h0m-3.6-.4h0m-2.5 .1h0m59.5-.3h0"/>
<path class=i d="M174.1 578.3h0m14.6 .1h0m-19.5-.6h0m34 .3h0m-38.8-.2h0m2.4-.2h0m17-.2h0m-10.9 0h0m37.6 .4h0"/>
<path class=f d="M228.7 578.1h0m38.9-.3h0"/>
<path class=p d="M191.1 578.2h0m9.7 0h0m-12.1 0h0m6-1h0m-15.8 1h0m-1.2-.1h0m26.7-.4h0m-15.7 .1h0m-18.2 0h0m54.6 .4h0m-3.7-1.1h0m-14.5 .3h0m-40.1 .1h0m-2.4 .2h0m24.3 0h0"/>
<path class=i d="M223.9 577.5h0m-46.2 .1h0m-7.2 0h0m3.6-.4h0m-9.7-.1h0"/>
<path class=v d="M200.8 577.7h0m-8.5-.3h0m-24.3 .4h0m34 .5h0m66.8-1.5h0m-88.6 .4h0m37.6 0h0m-10.9 0h0"/>
<path class=p d="M211.7 577.9h0m-3.6-.5h0m41.3 .5h0m-23.1-.4h0m-40.1-.5h0m38.9 .4h0m-46.2-.4h0m24.3 .6h0m-6-.8h0m-26.7-.1h0"/>
<path class=f d="M265.1 577.1h0m1.3-.3h0"/>
<path class=g d="M188.7 577.6h0m13.3-.1h0m-12.1 .3h0"/>
<path class=i d="M221.4 577h0m11-.4h0m-30.4 .8h0m-36.4-.4h0m59.5-.2h0m-17 .2h0m-34-.5h0"/>
<path class=g d="M210.5 577.5h0"/>
<path class=p d="M223.9 577h0m-12.2 0h0m-10.9 .2h0m-21.9-.3h0m17-.2h0m6.1 .6h0m-12.1 .2h0"/>
<path class=v d="M211.7 576.8h0m-7.3 .5h0m23.1-.3h0m-44.9 .2h0m27.9 .1h0m-17 .2h0m15.8-.5h0m-32.8 .2h0m86.2-.8h0m-88.6-.1h0"/>
<path class=g d="M212.9 576.5h0m-44.9 .5h0m74.1-1.3h0m-18.2 .7h0"/>
<path class=v d="M215.4 577.2h0m25.5-1.1h0m-37.7 .7h0m-36.4 .3h0m72.8-.4h0m-52.2-.8h0m6.1 .2h0"/>
<path class=p d="M166.8 576.5h0m49.8 .8h0m17-1.1h0m-6.1 .2h0m-19.4 .1h0m-6.1 .3h0m4.9-.1h0m-6.1 .2h0"/>
<path class=i d="M228.7 576.4h0m34-.5h0m-70.4 1.3h0m-17-.4h0m14.6-.3h0m-7.3 .1h0m20.6-.1h0m36.4-.2h0m-75.2 .2h0m0-.2h0m24.3 .9h0m-12.2-.4h0"/>
<path class=g d="M214.2 576.7h0m3.6-.2h0m6.1-.5h0m2.4 .2h0"/>
<path class=v d="M205.7 576.6h0m-3.7-.1h0m-1.2 0h0m38.8-.6h0m-13.3 0h0m-44.9 0h0m30.3-.2h0"/>
<path class=p d="M208.1 576.2h0m-30.4 .1h0m43.7 .1h0m8.5-.6h0m-61.9 .5h0m20.7 .1h0m70.4-.6h0m-30.4 .3h0m-52.2-.1h0"/>
<path class=i d="M176.5 575.8h0m24.3 .6h0m-32.8-.6h0m2.5-.4h0m4.8 .7h0m37.6-.5h0m-32.7 .6h0m-13.4-.6h0m48.6 0h0m-24.3 .2h0m1.2-.1h0"/>
<path class=v d="M165.6 576.2h0m54.6-.9h0m17 .5h0m24.3-1.1h0m-32.8 .4h0m2.5 .1h0m-1.3-.1h0m-49.7 .1h0"/>
<path class=f d="M212.9 575.5h0"/>
<path class=p d="M204.4 576.2h0m4.9-.5h0m-32.8-.2h0m24.3 .5h0m18.2-.4h0m-13.3 .3h0m-18.3-.8h0"/>
<path class=g d="M188.7 576.2h0m13.3 0h0m12.2-.3h0m-6.1 .1h0m-1.2-.2h0m-15.8-.8h0"/>
<path class=i d="M206.9 575h0m-9.7 .8h0m4.8 .4h0m-40-.9h0m42.4 .3h0m-6 .1h0m27.9-.2h0m-59.5-.3h0m23.1 .2h0m10.9 0h0m31.6-.6h0m-55.9 .4h0m18.2-.6h0"/>
<path class=v d="M165.6 575.4h0m25.5-.7h0m55.8 .4h0m-23-.1h0m1.2 .6h0m-4.9-1.3h0m-46.1 .5h0m-8.5-.2h0"/>
<path class=g d="M172.9 575.5h0m65.5-.1h0"/>
<path class=f d="M208.1 575.1h0m17 0h0m-1.2-.6h0m-12.2 .2h0"/>
<path class=p d="M202 575.7h0m7.3-.8h0m-7.3 .7h0m-13.3 .1h0m44.9-.8h0m-32.8 .3h0m2.4-.1h0"/>
<path class=i d="M229.9 574.2h0m-51 .7h0m17-.7h0m12.2 .4h0m54.6 .3h0"/>
<path class=g d="M188.7 574.8h0"/>
<path class=v d="M200.8 574.9h0m-8.5-.1h0m-19.4-.6h0m32.8 1h0m26.7-.9h0m-35.2 .3h0"/>
<path class=f d="M202 575.2h0m15.8 0h0m7.3-1.4h0m-8.5 .8h0"/>
<path class=p d="M189.9 574.6h0m14.5-.2h0m-35.2 .6h0m19.5-.4h0m30.3-.2h0m4.9-.2h0m7.3 .2h0m-53.5 .5h0m-2.4-.7h0m31.6 .2h0m-4.9 .3h0m14.6-.5h0"/>
<path class=v d="M182.6 575h0m57-.1h0m-50.9-.7h0m19.4 0h0m3.6 .1h0"/>
<path class=p d="M261.5 574.5h0m-51 .2h0m13.4-1h0m-2.5 .1h0m-19.4 .6h0m60.7-.6h0m-46.1-.1h0m-25.5 .3h0"/>
<path class=g d="M205.7 574.2h0m-1.3 .1h0"/>
<path class=i d="M166.8 574.4h0m-2.4-.4h0m12.1 .5h0m-2.4-.9h0m6.1 .7h0m20.6 .3h0m-35.2-.7h0m24.3 .1h0m-21.9 .1h0m32.8 0h0m-12.1 0h0m3.6 .1h0m-25.5-.3h0m35.2 .2h0m-32.8-.3h0m7.3 0h0m14.6-.2h0m72.8-.2h0"/>
<path class=v d="M211.7 573.8h0m-15.8 0h0m-29.1-.4h0m30.4-.3h0m-26.7 .5h0m38.8 .8h0m-26.7-1.1h0m24.3 .5h0"/>
<path class=g d="M204.4 574.2h0m-6-1.4h0"/>
<path class=f d="M226.3 573.5h0"/>
<path class=p d="M228.7 573.6h0m-25.5 .3h0m43.7-.5h0m14.6-.5h0m-71.6 .6h0m-1.2 .3h0m19.4-.4h0m-19.4 .1h0m18.2 .2h0m-18.2-.7h0m14.5 .3h0m8.5 .1h0m-46.1-.3h0"/>
<path class=i d="M176.5 572.8h0m29.2 .3h0m-15.8 .1h0m-4.9 .2h0m-15.8-.3h0m0-.3h0m14.6-.3h0"/>
<path class=g d="M217.8 573.7h0"/>
<path class=p d="M214.2 574h0m-12.2-.4h0m32.8-.5h0m-20.6 .6h0m25.4-.9h0m-31.5 .4h0m-43.7-.3h0m38.8 .3h0m37.7-.2h0m-30.4 .3h0m19.4-.5h0m-47.3-.6h0"/>
<path class=v d="M200.8 573.9h0m-8.5-.9h0m37.6-.4h0m-14.5 .6h0m-43.7 .3h0m17-.8h0m1.2 .1h0m21.8 .2h0m-4.8 .2h0m32.7-.7h0m-65.5 .5h0"/>
<path class=p d="M212.9 572.3h0m-8.5 .2h0m-3.6 .5h0m24.3-.4h0m12.1-.5h0m-52.2 .1h0m-8.5 .2h0m19.4 0h0m37.7-.2h0m-23.1 1h0m-31.6-1.1h0m17-.3h0"/>
<path class=v d="M206.9 572.5h0m-4.9 .2h0m12.2-.2h0m-36.5-.4h0m23.1 .4h0m-7.3-.3h0m-17 0h0m52.2 .3h0m-55.8-.2h0"/>
<path class=g d="M222.7 572.6h0m-17-.6h0m35.2-.7h0"/>
<path class=i d="M192.3 572.4h0m15.8 .3h0m-37.6 .4h0m20.6-.2h0m-26.7-.5h0m43.7-.2h0m-3.7-.2h0m-60.7 .8h0m23.1 0h0"/>
<path class=f d="M203.2 572.2h0m21.9-.3h0m-36.4 .4h0"/>
<path class=i d="M172.9 572.1h0m44.9 .6h0m-48.6-.9h0m65.6 .2h0m-52.2-.4h0m-6.1 .4h0m30.4 .1h0m-31.6-.4h0m-2.4 .2h0"/>
<path class=p d="M237.2 571.9h0m-21.8-.1h0m-12.2 .3h0m-29.1-.4h0m32.8 0h0m-9.7-.1h0m-17 .1h0"/>
<path class=g d="M226.3 572.6h0"/>
<path class=v d="M191.1 571.8h0m-2.4 .3h0m1.2 .4h0m9.7-.1h0m2.4-.2h0m-24.3-.4h0m49.8 .6h0m-21.8-.8h0m6 .6h0m15.8-.1h0m-27.9-.7h0m-32.8 .2h0m76.5 0h0m-20.6-.3h0m-11 0h0"/>
<path class=i d="M211.7 571.1h0m-25.5 .2h0m58.3 .2h0m-36.4 .1h0m21.8-.8h0m-54.6 .6h0m6.1-.2h0m38.8-.1h0m-24.3-.1h0"/>
<path class=p d="M200.8 571.8h0m-10.9 .3h0m46.1-1.2h0m-10.9 .4h0m-24.3 .1h0m17 .2h0m-15.8 0h0"/>
<path class=g d="M209.3 571.8h0m-32.8-.8h0"/>
<path class=p d="M170.5 571.8h0m7.2-1.4h0m23.1 .9h0"/>
<path class=f d="M226.3 571.3h0m-14.6-.5h0"/>
<path class=g d="M220.2 570.8h0m-31.5 .6h0m26.7-.4h0"/>
<path class=v d="M166.8 571.3h0m21.9-.2h0m17 .1h0m1.2 .1h0m24.3-.6h0m-26.8 .2h0m-35.2 .5h0m45-.1h0m2.4-.9h0m-27.9 .3h0m-11-.4h0m25.5 1.1h0"/>
<path class=i d="M164.4 571.5h0m4.8-.5h0m24.3 .1h0m-15.8-1.1h0m-9.7 .8h0m34 .1h0m-9.7-.5h0m-13.4-.2h0m-9.7 .6h0m20.7 .1h0m42.5 0h0m-66.8-.4h0m48.6-.1h0m4.8-.1h0m-49.8 .2h0m26.7 .2h0"/>
<path class=f d="M233.6 570.9h0"/>
<path class=i d="M233.6 570.2h0m-8.5 .4h0m-52.2 .4h0m60.7-1.6h0m-29.2 1.3h0"/>
<path class=g d="M225.1 570.1h0"/>
<path class=p d="M177.7 569.9h0m30.4 1h0m-19.4-.3h0m20.6-.3h0m-35.2 .5h0m46.1-.6h0m4.9-.2h0m3.6 .3h0m-21.8-.1h0m12.1-.4h0m15.8-.1h0m-43.7 .4h0"/>
<path class=v d="M165.6 570.3h0m23.1 .1h0m50.9 .3h0m-37.6-.2h0m-1.2 .5h0m29.1-1.4h0m-34 .5h0m30.4 .1h0m-25.5 .6h0m3.6-.3h0m-15.7-.5h0m18.2 .1h0"/>
<path class=f d="M215.4 569.8h0m-24.3 .1h0m19.4 0h0m52.2-.1h0"/>
<path class=g d="M203.2 570.3h0m60.7-.6h0m-38.8-.3h0"/>
<path class=i d="M170.5 570.4h0m33.9-.3h0m-27.9-.3h0m35.2 0h0m35.2-.7h0m-70.4 .1h0"/>
<path class=p d="M185 570.2h0m36.4-.7h0m-53.4 .8h0m10.9-.6h0m63.2 .4h0m-55.9-.2h0m75.3-.2h0m-60.7 .1h0"/>
<path class=v d="M227.5 569.1h0m-30.3 .3h0m4.8 .7h0m10.9 0h0m-34-.4h0m26.8 .3h0m-17 0h0m21.8-.5h0m-8.5 .3h0"/>
<path class=g d="M271.2 569.2h0m-102 0h0"/>
<path class=f d="M240.9 569.4h0"/>
<path class=v d="M214.2 570.2h0m2.4-1h0m-35.2-.1h0m29.1-.1h0m-2.4 .3h0m-53.4-.9h0"/>
<path class=p d="M205.7 569.4h0m-11 .1h0m35.2-.1h0m-63.1-.7h0m41.3 .5h0m-23.1 .1h0m3.7 .4h0m34-.2h0m-19.5 .2h0"/>
<path class=i d="M192.3 569.8h0m20.6-.5h0m8.5 0h0m-32.7 0h0m-24.3 .1h0m24.3-.3h0m14.5 .4h0m-29.1 0h0"/>
<path class=p d="M188.7 568.9h0m46.1-.6h0m-6.1 .5h0m-38.8 .2h0m15.8 .3h0m40-.7h0m0-1h0"/>
<path class=i d="M200.8 569.5h0m8.5-1h0m-44.9 .2h0m75.2-1.1h0m-50.9 1.1h0m-24.3-.3h0m7.3 .7h0m20.6-.1h0"/>
<path class=g d="M217.8 569.4h0m23.1-.5h0m-75.3-.2h0"/>
<path class=v d="M189.9 568.7h0m-11 .8h0m35.3-.4h0m25.4-.3h0m-26.7 .3h0m-9.7 .2h0m15.8-.7h0m-8.5 .2h0m-9.7 .2h0m23.1-.8h0m-28 .2h0m3.7-.4h0m-6.1 .3h0m-10.9 .1h0m31.6 .2h0m15.7 .1h0m3.7 .2h0m-38.9-1h0m77.7-.1h0"/>
<path class=f d="M232.4 569h0m-6.1 .1h0"/>
<path class=v d="M206.9 568.4h0m8.5 .3h0m-14.6-.3h0m-9.7 .5h0m-15.8-1.1h0m-3.6-.3h0m36.4 .6h0m4.8 0h0"/>
<path class=i d="M216.6 567.8h0m-40.1 .7h0m34 .1h0m-24.3-.5h0"/>
<path class=f d="M262.7 568.3h0"/>
<path class=p d="M204.4 568.8h0m20.7-.1h0m-23.1-.3h0m13.4 0h0m4.8 .2h0m-19.4-.3h0m19.4-.5h0m-17 .6h0m58.3-.1h0m-72.8 .1h0m24.2-.5h0m36.5 .2h0m-70.5 .3h0"/>
<path class=g d="M195.9 568.2h0m20.7-.8h0m-10.9 1h0m4.8-.3h0"/>
<path class=i d="M181.4 567.9h0m-15.8 .2h0m65.6 .5h0m-62-1.3h0m7.3 .6h0m12.2 0h0"/>
<path class=v d="M164.4 567.6h0m27.9 .2h0m12.1 .5h0m-21.8-.9h0m44.9 .7h0"/>
<path class=p d="M209.3 568.4h0m-31.6-.9h0m23.1 .8h0m-9.7-.1h0m-14.6-.5h0m34 .3h0m4.9 .2h0m1.2-1h0m-14.6 1.1h0m-18.2-.5h0"/>
<path class=v d="M231.2 567.6h0m-59.5-.8h0m19.4 .7h0m-6.1-.6h0m8.5 0h0"/>
<path class=g d="M203.2 567.8h0"/>
<path class=f d="M245.7 566.9h0"/>
<path class=p d="M206.9 567.8h0m13.3-.4h0m-6 0h0m-4.9 .4h0m-8.5-.3h0m-10.9-.2h0m14.5 .4h0m-3.6-.5h0m10.9 .5h0m-15.8-.5h0m-7.2 .1h0m0 0h0m40-.1h0m-1.2 0h0m-10.9-.6h0m-10.9 .7h0m-29.2 .3h0m-4.8-1.2h0m35.2 .6h0m64.3-.3h0"/>
<path class=i d="M164.4 567.3h0m68 .5h0m-64.4-.1h0m-2.4 .1h0m10.9-.6h0m35.2-.3h0m-43.7 0h0m4.9-.4h0m65.5 1.3h0m-37.6-.7h0"/>
<path class=v d="M209.3 567.4h0m-4.9 0h0m-2.4 0h0m-26.7-1.4h0m53.4 .7h0"/>
<path class=f d="M245.7 565.7h0"/>
<path class=p d="M238.4 566.9h0m-30.3 .3h0m-4.9 .3h0m-37.6-.9h0m95.9 1h0m-58.3-.5h0m-24.3-.9h0m17 .4h0m-7.2 .5h0m13.3 0h0m-13.3-.3h0m1.2 0h0m4.8-.9h0m32.8 1h0"/>
<path class=g d="M212.9 566.7h0m12.2 .8h0m-60.7-1h0"/>
<path class=i d="M188.7 566.6h0m25.5 .2h0m-46.2-.3h0m23.1 0h0m6.1-.3h0m21.8 .1h0m-49.8-.5h0m11 1.3h0"/>
<path class=v d="M159.5 566.3h0m32.8 .2h0m10.9 .2h0"/>
<path class=i d="M225.1 566.5h0m-51-.2h0m-2.4-.4h0m41.2 .7h0"/>
<path class=p d="M226.3 566.9h0m-10.9-.3h0m-14.6 .2h0m-12.1-.3h0m26.7-.3h0m-42.5-.4h0m27.9 .4h0m17 0h0"/>
<path class=g d="M217.8 565.8h0m-15.8 .7h0m12.2 .1h0m-12.2-.4h0"/>
<path class=v d="M271.2 565.8h0m-61.9 .2h0m-3.6 .7h0m43.7-1.1h0m-1.3-.5h0m-58.2 1h0m40-.6h0"/>
<path class=p d="M165.6 565.9h0m51-.1h0m44.9-.3h0m-34 .4h0m-38.8 .1h0m1.2-.2h0m17 .4h0m-26.7 .2h0m48.5-.8h0m-36.4 .2h0m40.1-.9h0"/>
<path class=i d="M164.4 565.7h0m41.3-.4h0m-40.1 .1h0m59.5 .3h0m-21.9-.1h0m-7.3 .2h0m-21.8-.3h0m2.4 .1h0m-4.8-.4h0m36.4 .9h0"/>
<path class=v d="M223.9 565.9h0m-4.9-.7h0m-4.8 .3h0m63.1-.1h0m-68 .4h0m-43.7-.5h0m23.1 .3h0m12.1 .3h0"/>
<path class=p d="M227.5 565.4h0m-49.8 0h0m40.1-.3h0m-41.3-.3h0m70.4-.4h0m-20.6 .8h0m1.2-.5h0"/>
<path class=f d="M206.9 565.2h0"/>
<path class=g d="M262.7 565.2h0"/>
<path class=i d="M168 564.8h0m34 1.1h0m9.7 .3h0m-47.3-1.1h0m0-.3h0m38.8 .6h0m-12.1 0h0m1.2-.7h0m-13.4 .5h0m1.3-.8h0m-1.3 .5h0m9.8 .5h0m0-.4h0"/>
<path class=f d="M287 564.7h0m-71.6-.2h0"/>
<path class=p d="M212.9 564h0m21.9 1.1h0m-17-.6h0"/>
<path class=v d="M216.6 564.6h0m-8.5 .6h0m-4.9 0h0m-20.6-.7h0m43.7 0h0m-37.6 .2h0m18.2-.6h0m3.6 .8h0m17-1h0m-26.7 1h0m3.6-.3h0m-14.5 .2h0"/>
<path class=i d="M157.1 564.1h0m47.3 .5h0m-27.9-.1h0m26.7 .2h0m-25.5-.5h0m53.5 0h0m-54.7-.6h0m13.4 .9h0m-20.7 .3h0"/>
<path class=g d="M202 564.9h0m27.9-.7h0m-4.8 .8h0m-14.6-.5h0"/>
<path class=f d="M211.7 564.5h0"/>
<path class=p d="M212.9 563.9h0m-24.2 .7h0m35.2-.6h0m-43.7-.4h0m19.4 .9h0m37.6-.7h0m-36.4 .4h0m-19.4-.9h0m53.4 .2h0m-15.8 0h0"/>
<path class=g d="M216.6 564.1h0m52.2-.9h0m-77.7 .8h0m31.6-.2h0"/>
<path class=v d="M191.1 563.7h0m-13.4-.1h0m30.4 .6h0m-30.4-.7h0m48.6 .3h0m-37.6 .6h0m13.3 .1h0m-10.9-1h0m13.3 .9h0m20.7-.4h0"/>
<path class=i d="M205.7 563.9h0m-4.9 .1h0m-34 .6h0m-2.4-.2h0m8.5-.8h0m29.1 .9h0m9.7-.2h0m-2.4-.4h0m-7.3 .2h0m9.7-1h0"/>
<path class=v d="M203.2 564h0m-25.5-.7h0m60.7-.4h0m-48.5 .7h0m35.2-.4h0"/>
<path class=i d="M187.4 564h0m74.1-.7h0m-87.4 .4h0m4.8-.3h0m-14.5 .2h0m14.5-.6h0m-2.4-.1h0m24.3 .7h0"/>
<path class=p d="M228.7 563.6h0m-40 .6h0m99.5-1.2h0m-85 .7h0m13.4 .1h0m-51-.5h0m36.4 .4h0m6.1 .1h0m-9.7-.2h0m6-.2h0m18.3-.3h0m-8.5 .4h0m19.4 .3h0m-32.8-.6h0m1.2 .3h0m1.2-.2h0"/>
<path class=g d="M220.2 563.2h0m-13.3 .3h0m-14.6-.3h0m-24.3-.2h0m6.1 .2h0"/>
<path class=p d="M214.2 563.1h0m-6.1 .1h0m54.6-.3h0m-21.8-.3h0m-63.2 .1h0m12.2 .3h0m12.1 .2h0m-29.1-1.2h0"/>
<path class=v d="M227.5 562.7h0m-14.6 .4h0m-12.1 0h0"/>
<path class=f d="M211.7 562.5h0m2.5 .2h0m15.7 .4h0"/>
<path class=g d="M209.3 563.5h0m7.3-.3h0m9.7-.6h0"/>
<path class=i d="M188.7 563.5h0m17-.1h0m-8.5-.5h0m-25.5-.4h0m12.1 .6h0m-17-.1h0m9.7-.9h0m42.5 1.1h0m-51-.7h0"/>
<path class=g d="M268.8 562.2h0m-63.1 .5h0m21.8-.1h0"/>
<path class=v d="M232.4 562.5h0m-66.8-.9h0"/>
<path class=i d="M169.2 562.4h0m37.7 .2h0m-24.3-.6h0m81.3-.1h0m-93.4 .9h0m6-1h0m1.2 .8h0m23.1 .2h0m15.8-.8h0"/>
<path class=p d="M195.9 562.6h0m13.4 .6h0m7.3-1.3h0m-21.9 .1h0m2.5 .1h0m17 .4h0m-12.2 .6h0m27.9-.9h0m-20.6 .3h0m0-.4h0m-27.9 .4h0m21.8 .1h0m26.7-.7h0m-29.1 .7h0"/>
<path class=i d="M236 561.1h0m-29.1 .9h0m-1.2 .2h0m-35.2-.3h0m42.4 .5h0m-36.4-.9h0m14.6 .3h0m-10.9-.9h0"/>
<path class=v d="M244.5 561.5h0m-31.6 .1h0m11-.2h0m6-.1h0m-29.1 .6h0m25.5-.2h0"/>
<path class=g d="M233.6 561.6h0m31.5-.6h0"/>
<path class=p d="M228.7 561.9h0m-25.5 .1h0m-1.2-.3h0m-8.5 .5h0m-4.8 .5h0m31.5-.7h0m-30.3-.2h0m10.9-.3h0m8.5 .2h0m19.4-.3h0m-40 1h0m40-1.4h0m-40 .8h0m-11-.6h0m25.5 .4h0m12.2-.2h0m-11-.3h0m-14.5 .3h0m44.9-.4h0"/>
<path class=i d="M217.8 561.5h0m7.3-.1h0m-60.7 .6h0m32.8-1h0m-25.5 .8h0m71.6-1.4h0m-69.2 .5h0m-2.4-.5h0m55.8 .3h0"/>
<path class=g d="M169.2 561.1h0m37.7 .5h0"/>
<path class=v d="M192.3 560.9h0m14.6 .5h0m-18.2-.2h0m75.2-.8h0m-85 .1h0m24.3 .6h0m17 .5h0m-4.8-.8h0m-2.5 .4h0"/>
<path class=p d="M200.8 561.3h0m-9.7-.2h0m14.6-.3h0m-3.7 .6h0m-1.2-.7h0m-18.2-.1h0m25.5 .4h0m-13.4 0h0m-17-.5h0m11 .5h0"/>
<path class=i d="M212.9 560.8h0m-44.9 .1h0m34 0h0m42.5-.3h0m-29.1-.3h0m-17 .2h0m-34 .5h0m1.2-1h0"/>
<path class=v d="M209.3 560.9h0m-6.1 .1h0m6.1-.7h0m9.7 .3h0m-25.5-.5h0m18.2 .2h0m15.8 .3h0m-53.4-.7h0"/>
<path class=f d="M206.9 560.4h0m59.5 0h0m0-.4h0"/>
<path class=g d="M205.7 560.5h0m-15.8 .3h0m23-.6h0m-24.2 .5h0m49.7-.5h0m-3.6-.2h0m-36.4-.7h0"/>
<path class=i d="M164.4 560.4h0m46.1-.6h0m-21.8 .8h0m-12.2-.5h0m15.8-.3h0m19.4-.8h0"/>
<path class=p d="M189.9 560.5h0m35.2-.3h0m-15.8-.4h0m-8.5 .4h0m4.9-.2h0m-35.2-.7h0m52.2 .5h0"/>
<path class=g d="M282.1 560.3h0"/>
<path class=f d="M262.7 560.2h0"/>
<path class=v d="M202 560.8h0m6.1-.6h0m-17-.1h0m25.5-.4h0m15.8 .8h0m-6.1-.1h0m-44.9-.4h0m29.1-1h0m-8.5 1.3h0m18.2 0h0m19.4 .1h0m-37.6-.4h0m-24.3-.1h0m3.7-.6h0m-6.1 .2h0"/>
<path class=f d="M263.9 559.5h0"/>
<path class=g d="M188.7 560.3h0m57-.8h0"/>
<path class=v d="M188.7 559.8h0m4.8-.2h0m32.8-.1h0m-4.9 0h0m6.1 .1h0m-23.1-.2h0"/>
<path class=p d="M254.2 558.9h0m-40 .9h0m14.5-.2h0m1.2-1h0m-6 .9h0m13.3-.1h0m-64.3-.8h0m49.8 .5h0m-26.8 .2h0"/>
<path class=i d="M200.8 560h0m4.9-.7h0m-4.9 .4h0m18.2 .5h0m-10.9-.4h0m-1.2-.3h0m-6.1-.1h0m2.4 .2h0m-32.7-1h0"/>
<path class=v d="M188.7 558.8h0m38.8-.1h0"/>
<path class=g d="M239.6 558.9h0m-27.9 0h0"/>
<path class=i d="M169.2 559.2h0m53.5-.3h0m-20.7 .4h0m-21.8-.6h0m-13.4-.5h0m20.6 0h0m7.3-.1h0m-4.8 1.2h0"/>
<path class=p d="M222.7 558.7h0m-13.4-.1h0m-44.9 .8h0m53.4-.3h0m10.9-.3h0m-59.5-.2h0m45 1h0m-4.9-1.2h0m10.9-.1h0m-18.2 .8h0m4.9 .1h0m8.5-.8h0m51 .5h0m-62-.2h0m-30.3 .1h0m87.4-.5h0m60-.1h0m-125.6 .3h0m32.8-.3h0m-37.6 .6h0m17-.5h0"/>
<path class=i d="M244.5 558.4h0m-65.6 .2h0m-3.6-.1h0m43.7-.3h0m-46.1-.3h0m89.8-.1h0m-93.5 .3h0m31.6 .8h0"/>
<path class=f d="M300.9 557.4h0m-39.4-.4h0m0 1.1h0"/>
<path class=g d="M189.9 558.8h0"/>
<path class=v d="M202 558.9h0m35.2-.2h0m-36.4-.1h0m24.3 .4h0m-36.4-.8h0m-7.3-.3h0m36.4 .2h0m-6.1 .3h0m18.2-.4h0m-27.9 .2h0m-13.3-.1h0m15.7 .4h0m6.1-.6h0"/>
<path class=p d="M204.4 558.2h0m49.8-.9h0m-35.2 .4h0m7.3 .7h0m89.2-.2h0m-95.3-.9h0m11 .6h0m0-.6h0"/>
<path class=g d="M191.1 557.7h0m9.7 .7h0m27.9-.7h0m-24.3 0h0m2.5 0h0"/>
<path class=v d="M204.4 557.5h0m-14.5 .4h0m37.6-.1h0m10.9 0h0m-54.6-1.4h0"/>
<path class=f d="M214.2 558.2h0m8.5-.7h0"/>
<path class=i d="M168 557.7h0m29.2 .1h0m-3.7 0h0m-23-.2h0m18.2 .2h0m-11-.5h0m24.3 .5h0m9.7 .3h0m-9.7-.8h0m-29.1 .3h0"/>
<path class=g d="M165.6 557.3h0m59.5 .5h0m-6.1-.3h0"/>
<path class=i d="M189.9 557.6h0m-23.1-1.1h0m52.2 .6h0m-30.3 0h0m-12.2-.3h0"/>
<path class=p d="M231.2 556.9h0m-3.7 .5h0m10.9-.2h0m-46.1 .5h0m24.3 .4h0m-3.7-.8h0m-9.7 0h0m59.5-.3h0m-25.5-.3h0m0-.6h0m-47.3 .8h0"/>
<path class=v d="M216.6 557.1h0m-8.5 .7h0m-2.4-.5h0m-4.9 .1h0m3.6-.4h0m21.9 .4h0m0-.1h0m-46.1-.8h0m8.5 .4h0m15.7 0h0m36.5-.1h0m-40.1 .1h0m2.4 .2h0m-14.5-.3h0m24.2 0h0m12.2-.1h0m-9.7-.3h0m34-.5h0m13.3 0h0"/>
<path class=g d="M172.9 555.8h0m88.6-.4h0"/>
<path class=f d="M226.3 556.4h0m40.1-.5h0"/>
<path class=p d="M188.7 556.7h0m19.4-.7h0m-38.9 0h0m43.7 .6h0m30.4 .1h0m-36.4-.5h0m24.3-.1h0m-31.6 .6h0m-29.1-.8h0m52.2 .1h0m-3.7-.1h0m-2.4 .4h0"/>
<path class=i d="M205.7 556.5h0m29.1-.2h0m-57.1 .3h0m23.1 .1h0m-43.7-.8h0m14.6 .4h0m38.8 .3h0m-38.8-1h0m-7.3 .2h0"/>
<path class=p d="M200.8 556.6h0m-8.5-.3h0m9.7 .3h0m29.2-.9h0"/>
<path class=v d="M227.5 556.6h0m-24.3-.2h0m3.7-.5h0m32.7-1h0m-35.2 1.1h0m-2.4 .1h0m-18.2-.6h0m52.2-.3h0m-26.7 .7h0m-20.6 .3h0m2.4-.8h0"/>
<path class=g d="M223.9 555.7h0m-9.7 .2h0m3.6 .3h0m-13.4-.4h0"/>
<path class=i d="M210.5 556h0m4.9-.1h0m-14.6 .3h0m-12.1-.1h0m40-.2h0m-60.7-.7h0m49.8 .1h0m-27.9 .3h0m23-.2h0m-12.1 .4h0"/>
<path class=f d="M228.7 555.7h0m-34-.8h0"/>
<path class=p d="M191.1 555.2h0m42.5 .2h0m-3.7-.4h0m-27.9 .8h0m10.9-.6h0m-24.2 .3h0m2.4-.7h0m-20.6 .4h0m67.9 0h0m-29.1-.2h0m-1.2 0h0m7.3 .6h0"/>
<path class=v d="M225.1 555.2h0m-35.2 .1h0m6 .1h0m71.7-.1h0m-65.6 .3h0m-26.7-.1h0m24.3-1h0m15.8 .3h0m-9.7 1h0"/>
<path class=i d="M261.5 554.9h0m-44.9 1h0m-13.4-.4h0m-2.4-.2h0m1.2 0h0m-13.3 0h0m57-1.1h0m-37.6 .6h0m-35.2 0h0"/>
<path class=g d="M226.3 554.9h0"/>
<path class=v d="M221.4 554.3h0m-20.6 .8h0m30.4-.4h0m-30.4 .1h0m7.3-.4h0m24.3 .2h0m-43.7 .2h0m23 .3h0m18.2-.6h0"/>
<path class=p d="M200.8 554.7h0m2.4 .2h0m8.5-.5h0m35.2-.3h0m-30.3 .8h0m-12.2-.2h0m62-.7h0m-76.5 .5h0m139-.2h0m-137.8 .1h0m47.3 .2h0m-8.5-.4h0"/>
<path class=i d="M180.2 554.9h0m21.8-.1h0m-10.9-.5h0m15.8 .2h0m-32.8-.3h0m-6.1-.3h0"/>
<path class=f d="M203.2 554.4h0m63.2-.5h0m-47.4 .4h0"/>
<path class=i d="M200.8 554.3h0m-21.9 .4h0m9.8-.2h0m4.8-.8h0m8.5 .8h0m-36.4-1.3h0m53.4 .2h0m-29.1 .7h0m0-.2h0m-18.2-1h0m10.9 1h0"/>
<path class=f d="M265.1 553.9h0"/>
<path class=p d="M205.7 554.5h0m43.7-.9h0m-35.2 .2h0m-9.8 .4h0m-8.5 0h0m-3.6-.5h0m32.8 .7h0m-34-.7h0m43.7-.8h0"/>
<path class=g d="M200.8 554.2h0m14.6-.6h0m12.1 .3h0"/>
<path class=v d="M186.2 554.3h0m17-.2h0m6.1 .2h0m-1.2-.5h0m0-.1h0m23.1 .8h0m-4.9-.8h0m3.6-.7h0m-41.2 .7h0m15.7 .2h0m-2.4 0h0m59.5 0h0m-78.9-.9h0m48.6 .7h0m-29.2 0h0m-13.3-.3h0m15.7 .4h0m18.3-1h0m-37.7 0h0"/>
<path class=i d="M178.9 553.6h0m52.3-.4h0m-58.3 .3h0m15.8-.4h0m-20.7-.6h0m20.7 .3h0m-14.6-1h0"/>
<path class=p d="M210.5 553h0m-15.8 0h0m25.5 .1h0m24.3 .2h0m-12.1-.1h0m-6.1 .4h0m0-1h0m-23.1 .9h0"/>
<path class=g d="M225.1 553.8h0m-27.9-.1h0m10.9-.1h0m54.6 .3h0"/>
<path class=f d="M262.7 553.2h0m26.7-.6h0m-78.9 .2h0m51 .2h0"/>
<path class=g d="M233.6 552.5h0m-2.4 .2h0m-42.5-.2h0m52.2 .4h0"/>
<path class=p d="M202 553.5h0m14.6 0h0m-26.7-.7h0m4.8-.4h0m24.3-.2h0m30.4-.3h0m-24.3 .7h0m-32.8 .1h0"/>
<path class=v d="M200.8 553.5h0m7.3-.8h0m35.2-.3h0m-52.2 .4h0m0-.1h0m47.3 .4h0m-32.7 0h0m80.1-1.1h0"/>
<path class=i d="M178.9 553.2h0m-2.4-.7h0m88.6 .3h0m-53.4 .4h0m6.1-.2h0m-15.8 .3h0m-12.1-.8h0m6-.2h0m18.3 .6h0m-9.8 0h0m-24.2-1.2h0m23 .8h0m9.7-.2h0m-35.2-.4h0m-7.2-.1h0m55.8 .2h0m-29.1-.4h0"/>
<path class=f d="M266.4 551.4h0"/>
<path class=p d="M200.8 552.4h0m15.8 .1h0m-14.6 .1h0m6.1-.1h0m3.6 0h0m-20.6-.1h0m13.3-.1h0m62-.1h0m-41.3 0h0m-19.4 .1h0"/>
<path class=v d="M217.8 552.1h0m-15.8 .1h0m2.4-.1h0m31.6 .2h0m-35.2-.1h0m24.3-.1h0m0-.1h0m36.4-.2h0m-71.6 .3h0m-1.2 .1h0m0 0h0"/>
<path class=g d="M265.1 551.6h0m-63.1 .2h0m10.9 0h0m48.6-.2h0m-53.4 .7h0"/>
<path class=v d="M229.9 550.9h0m-34 1h0m48.6-.4h0m-43.7 .5h0m21.9 .1h0m-7.3-.1h0m-6.1 .3h0m-10.9-1.5h0m-6.1 1.4h0m65.6-.6h0m-31.6 0h0m-6.1-.6h0"/>
<path class=p d="M210.5 551.5h0m52.2 .5h0m-49.8-.5h0m-24.2 .1h0m61.9-.6h0m-43.7 1.1h0m-4.9-.6h0m-1.2-.1h0m7.3 .2h0m29.1-.4h0m-53.4-.7h0m77.7 .8h0"/>
<path class=i d="M210.5 551.4h0m-21.8 0h0m25.5 .5h0m-9.8 .2h0m-1.2-.8h0m-31.5-.3h0m54.6 .5h0m-6.1-.9h0m-55.8-.2h0m41.3 1.1h0m-17-.3h0m36.4 0h0m0-1.1h0m-10.9 1.6h0m36.4-1.1h0m-72.9 0h0"/>
<path class=v d="M200.8 551.1h0m1.2 0h0"/>
<path class=f d="M261.5 551h0"/>
<path class=g d="M194.7 551.4h0m-1.2-.4h0m59.5 .2h0m-63.1 .2h0m26.7-.6h0"/>
<path class=p d="M204.4 551h0m24.3-.6h0m-27.9 .6h0m29.1-.4h0m-18.2 .3h0m37.7-.3h0m-59.5 .4h0m10.9-.2h0m6.1-.3h0m32.7-.3h0m-44.9 .3h0m35.2 0h0m-34-.6h0m47.4 .5h0m-35.2 .3h0m-42.5-.4h0m31.6 .4h0"/>
<path class=g d="M204.4 550.8h0"/>
<path class=v d="M192.3 550.1h0m17 .8h0m8.5 .1h0m-17-.6h0m24.3-.4h0m-44.9-.1h0m36.4 .2h0m-8.5 .3h0"/>
<path class=f d="M262.7 550.5h0m-19.4-.6h0"/>
<path class=i d="M188.7 550.8h0m29.1-1h0m-12.1 .3h0m-24.3 .4h0m-6.1-.1h0m-1.2-.7h0m38.8 .3h0m-24.2 .2h0"/>
<path class=p d="M191.1 550.3h0m71.6 .1h0m-60.7 .4h0m41.3-.9h0m-35.2 .2h0m34-.2h0m-36.4-.1h0m1.2-.4h0m30.3 .4h0m-34 .6h0"/>
<path class=i d="M262.7 550h0m-6.1 .1h0m-70.4-.5h0m-17 0h0m40.1 .1h0m14.6-.4h0"/>
<path class=p d="M168 550.3h0m61.9-.1h0m-25.5-.1h0m-13.3-.4h0m43.7 .1h0m-34 .5h0m26.7-.2h0m-19.4-1h0m53.4 .8h0m-65.6-.4h0"/>
<path class=f d="M237.2 549.6h0"/>
<path class=v d="M225.1 549.4h0m-23.1 1.2h0m-13.3-.7h0m14.5 .2h0m-2.4-.5h0m3.6-.1h0"/>
<path class=g d="M216.6 549.8h0m44.9-.1h0m-32.8 .5h0m14.6-.8h0m2.4-.7h0"/>
<path class=f d="M288.2 549.5h0"/>
<path class=v d="M203.2 549.5h0m35.2-.8h0"/>
<path class=g d="M188.7 549.5h0m31.5-.9h0"/>
<path class=i d="M202 549.7h0m-7.3-.8h0m-6 .4h0m23 .5h0m2.5 .4h0m-23.1-.7h0m-15.8-.9h0m13.4 .5h0m3.6-.7h0"/>
<path class=p d="M209.3 549.1h0m-41.3 1.1h0m13.4-1h0m43.7-.1h0m-9.7 .8h0m31.5-1.2h0m-20.6 .6h0m-36.4 0h0m25.5-.6h0m-24.3 .3h0m14.6 .1h0m20.6-.7h0m15.8-.1h0m-41.3 .9h0m32.8-.3h0m-31.6 .8h0m9.7-1h0m-4.8 .3h0m-3.7 .1h0"/>
<path class=i d="M217.8 548.6h0m13.4 .4h0m-52.3-.1h0m69.2 0h0m-76.4-.9h0m17 1h0m24.2-.1h0m-12.1 .2h0m4.9-.3h0m21.8-.4h0m-2.4 0h0m-57.1-.6h0"/>
<path class=v d="M212.9 548.5h0m-3.6 .5h0m31.6-.7h0m-3.7-.2h0m-12.1-.1h0m-17 .5h0m3.6-.1h0"/>
<path class=g d="M232.4 548.8h0m-9.7-.1h0"/>
<path class=f d="M221.4 548.7h0"/>
<path class=p d="M204.4 548.4h0m-2.4 1.2h0m60.7-.9h0m-55.8-.2h0m19.4-.2h0m-36.4 .6h0m24.3-1h0m-21.9 .3h0m18.2 0h0m25.5 0h0m-47.3 .6h0m2.4-1.2h0m32.8 .2h0m38.8 .7h0m-53.4-.6h0m24.3 0h0"/>
<path class=f d="M338.8 548.5h0m-53-1.3h0m-6.1 .3h0"/>
<path class=g d="M220.2 548.3h0m-20.6-.5h0"/>
<path class=v d="M203.2 548.6h0m29.2-1.1h0m-43.7 .5h0m42.5-.4h0m-23.1 .1h0"/>
<path class=p d="M221.4 547.5h0m-18.2 .8h0m-2.4 .4h0m15.8-.2h0m-48.6-1h0m44.9 .2h0m14.6 .1h0m-37.6 0h0m23-.1h0m4.9 .3h0m20.6-.2h0m-10.9-.5h0"/>
<path class=i d="M209.3 547.7h0m-20.6 .2h0m17 .4h0m-26.8-.5h0m14.6-.3h0m31.6 0h0"/>
<path class=f d="M270 547.7h0m-89.8-.1h0m160.3-.6h0"/>
<path class=p d="M206.9 547.7h0m-6.1 .5h0m54.6-.8h0m-48.5 .1h0m-17 .2h0m44.9 .2h0m2.4-.2h0m-36.4 .2h0m-18.2-1.7h0"/>
<path class=g d="M228.7 547.6h0m-8.5-.1h0m12.2-.3h0"/>
<path class=i d="M203.2 547.8h0m31.6-.2h0m-49.8-.4h0m9.7 .4h0m2.5-.5h0m17 .3h0m-2.5-.3h0m18.2 0h0m-37.6-.2h0"/>
<path class=v d="M202 547.4h0m46.1 .4h0m-4.8-.3h0m18.2-.1h0m-60.7 .1h0m40.1-.6h0m-36.5 .1h0m26.8-.2h0m-6.1 .6h0m60.7-.3h0m-14.6-1h0m-4.8 .5h0m-47.4 .7h0"/>
<path class=i d="M225.1 546.8h0m-21.9 .4h0m-7.3-.6h0m-12.1 .2h0m-14.6-.4h0m8.5 0h0m37.7 .3h0m-19.5-.5h0"/>
<path class=g d="M174.1 546.6h0m64.3 .6h0m-41.2-.8h0m-8.5 .8h0"/>
<path class=p d="M205.7 547h0m-17 .1h0m34-.5h0m12.1 .4h0m-13.4 .1h0m-17-.4h0m42.5-.7h0m-58.2 .7h0m17-.4h0m-3.7 .7h0m71.6-1h0"/>
<path class=v d="M211.7 546.3h0m-10.9 .9h0m8.5 .2h0m18.2-.6h0m-23.1-.2h0m-19.4 .2h0m17-.4h0m-12.1 .2h0"/>
<path class=g d="M220.2 546.4h0m-17-.1h0"/>
<path class=v d="M223.9 546.2h0m-11 .2h0m-3.6-.4h0m-6.1 0h0m-9.7-.3h0m48.6 .3h0"/>
<path class=f d="M263.9 546h0"/>
<path class=i d="M206.9 546.2h0m8.5 .1h0m-3.7-.8h0m26.7 .6h0m-72.8-.5h0m64.3 .6h0"/>
<path class=p d="M226.3 547.1h0m2.4-.7h0m-14.5 .1h0m10.9-.7h0m-24.3 .7h0m26.7 0h0m-52.2-.4h0m87.4-.6h0m-36.4 .4h0m-37.6 .7h0m14.5-.6h0m-2.4-.2h0m1.2 .2h0m12.2-.5h0"/>
<path class=f d="M248.1 545.1h0"/>
<path class=i d="M262.7 545.4h0m-61.9 .2h0m-36.4-.4h0m41.3 .2h0m-1.3 .2h0"/>
<path class=g d="M262.7 545h0"/>
<path class=p d="M222.7 545.4h0m-34 .5h0m29.1-.6h0m27.9 .1h0m-10.9 .2h0m-6.1 .2h0m0-.5h0m-20.6-.2h0m18.2 .3h0m-36.4 .4h0m24.3-.5h0m-13.4 .1h0m8.5 .1h0m-25.5-.7h0m81.3 .4h0m-13.3 0h0m15.8-.1h0m-54.7 .4h0"/>
<path class=v d="M192.3 545.6h0m-25.5 0h0m60.7-.5h0m-18.2 .1h0m-8.5-.1h0m32.8 .5h0m3.6-.6h0m-20.6 .5h0m-14.6-.2h0m-7.3 0h0m8.5 .4h0m18.2-1.4h0m7.3 .6h0"/>
<path class=p d="M203.2 545.5h0m7.3-1h0m-21.8 .8h0m72.8-.3h0m-97.1-.6h0m51 .7h0m34-.5h0m-40.1 0h0m58.3-.8h0m-29.2 1h0"/>
<path class=f d="M261.5 544.6h0m55.3-.5h0m-78.4-.4h0"/>
<path class=i d="M219 544.9h0m-13.3 .2h0m-20.7 0h0m29.2-.7h0m-13.4 .4h0"/>
<path class=g d="M231.2 544.8h0m-23.1 0h0m0-.4h0m53.4-.5h0"/>
<path class=v d="M206.9 544.6h0m23 1h0m-4.8-.2h0m-24.3-.7h0m-12.1 .1h0m14.5 .5h0m-27.9 0h0m57.1-1.1h0m-7.3 1.1h0"/>
<path class=p d="M219 544.8h0m-30.3-.4h0m31.5-.2h0m32.8-.7h0m-60.7 .8h0m46.1-.9h0"/>
<path class=f d="M273.6 543.4h0m-36.4 .5h0"/>
<path class=g d="M238.4 543h0"/>
<path class=v d="M248.1 543.8h0m-36.4 .5h0m11 .2h0m6-.8h0m-34 .3h0m-8.5-.7h0m80.2 .5h0m-49.8 0h0m-40.1-.2h0"/>
<path class=i d="M202 544.7h0m-29.1-.3h0m24.3 1h0m25.5-1.7h0m-57.1 .6h0m59.5-.5h0m2.4 0h0m-57 .8h0m55.8-.3h0m-37.6-.1h0m2.4 .4h0m74-1h0m-58.2 .1h0m-4.9 .7h0"/>
<path class=f d="M263.9 544h0"/>
<path class=i d="M174.1 544.1h0m26.7-.3h0m29.1-.4h0m-58.2-.3h0m9.7-.1h0"/>
<path class=p d="M210.5 544.2h0m-6.1-.6h0m-13.3-.1h0m-1.2 .1h0m18.2 .5h0m9.7-.4h0m10.9-.4h0"/>
<path class=v d="M233.6 544.1h0m-25.5-.7h0m-4.9 .2h0m12.2 .1h0m8.5-.6h0m-21.9 .9h0m27.9-.8h0m-21.8-.2h0m2.4 .4h0"/>
<path class=g d="M188.7 543.8h0m25.5-.1h0"/>
<path class=p d="M210.5 543.2h0m4.9 .1h0m-25.5 0h0m10.9 .2h0m60.7-.1h0m-49.8-.1h0m7.3-.9h0m17 .3h0m26.7 0h0m-66.8-.5h0"/>
<path class=f d="M348.5 542.4h0"/>
<path class=i d="M191.1 543.1h0m10.9 .4h0m-9.7-.6h0m6.1 0h0m-32.8 .2h0m3.6-1.1h0"/>
<path class=v d="M200.8 542.9h0m20.6 .6h0m-31.5-.8h0m12.1 .1h0m23.1 .2h0m-19.4-.5h0m36.4-.2h0m-4.9-.2h0m-27.9 .9h0m3.6 .2h0m13.4 0h0m-21.9 0h0"/>
<path class=g d="M231.2 543.6h0m-28-.9h0m12.2-.2h0m66.7-.3h0m-37.6 .1h0m-52.2 .2h0"/>
<path class=f d="M321 541.4h0"/>
<path class=v d="M210.5 542.4h0m-9.7-.1h0m12.1 .3h0m-10.9-.1h0"/>
<path class=i d="M226.3 542.6h0m-24.3-.6h0m15.8 0h0m3.6 0h0m-6-.3h0m13.3 .5h0m-12.1-.4h0m-4.9 .3h0m-47.3 .7h0m25.5-.8h0m71.6 .6h0m-87.4-.7h0"/>
<path class=p d="M188.7 542.9h0m36.4-.1h0m4.8-.4h0m-12.1-.6h0m-9.7 .3h0m55.8-.1h0m-58.2-.2h0m35.2 .6h0m-40.1-.3h0m-12.1 .4h0m24.2-.2h0m4.9-.8h0m26.7-.5h0m-17 1h0"/>
<path class=f d="M263.9 541.1h0"/>
<path class=v d="M204.4 542.2h0m-1.2-.5h0m15.8-.4h0m-9.7 .3h0m-34-.2h0m55.9 .9h0m-28-1h0m13.4-.4h0m12.1 .6h0m57.1-.9h0m-97.1 1.2h0m17-.3h0m57-.5h0"/>
<path class=i d="M212.9 541.3h0m-1.2 0h0m-10.9 .6h0m37.6-.6h0m-37.6 .3h0m20.6-.3h0m3.7 .4h0m41.3 .2h0m-77.7-.7h0m38.8 .2h0m-3.6-.7h0m-19.5 .6h0"/>
<path class=g d="M199.6 541.5h0m12.1-.4h0m-9.7 .4h0m64.4 .1h0m-63.2-.6h0"/>
<path class=i d="M262.7 540.8h0m-77.7 .9h0m15.8-.7h0m10.9-.3h0m-23 .1h0"/>
<path class=v d="M231.2 541.1h0m-11-.3h0m-6-.1h0m-8.5-.2h0m21.8 .5h0m-18.2-.3h0m55.8-.4h0m-57 .2h0m2.4 0h0m-21.8-.1h0m40 .1h0"/>
<path class=f d="M232.4 540.4h0"/>
<path class=p d="M203.2 540.9h0m15.8 0h0m-20.6-.3h0m3.6 .5h0m-1.2-.2h0m34-.5h0m-8.5 .1h0m-34 .6h0m25.5-.9h0m70.4-.3h0m-64.3 .6h0m-24.3 .1h0m27.9 .3h0m-21.8-.7h0m6-.2h0"/>
<path class=g d="M215.4 540.9h0m-24.3 .1h0m51 .5h0m-40.1-.6h0m59.5-.3h0m-29.1-.4h0m12.1 .5h0m-7.3-.4h0"/>
<path class=f d="M323.5 539.7h0"/>
<path class=p d="M200.8 540.2h0m1.2 .2h0m36.4 .1h0m19.5-.8h0m-43.7-.2h0m6 1.1h0m68-1.2h0"/>
<path class=g d="M189.9 540.3h0m24.3-1h0m24.2 .4h0m25.5 .2h0m-46.1-.3h0"/>
<path class=v d="M198.4 539.8h0m37.6 .5h0m-26.7-.2h0m1.2-.5h0m-2.4 .4h0m95.3 .2h0m-45.5-.4h0m-69.2 .3h0"/>
<path class=i d="M171.7 540.7h0m17-1.1h0m14.5 1h0m-30.3-.4h0m29.1 .1h0m2.4 .2h0m20.7-.9h0m-35.2 .4h0m40-.6h0"/>
<path class=v d="M212.9 539.3h0m-7.2 .4h0m-15.8-.2h0m37.6 .2h0m3.7-.4h0m41.2-1h0m-75.2 .4h0m42.4 .4h0"/>
<path class=i d="M188.7 539.5h0m-20.7-.2h0m20.7 .1h0m36.4 0h0m-55.9-.3h0m11 .5h0"/>
<path class=f d="M221.4 539.8h0"/>
<path class=p d="M219 539.2h0m-40.1 .1h0m72.9-.3h0m-10.9 0h0m-12.2 .4h0m-20.6 .5h0m-6.1-.2h0m-35.2-.9h0m38.9 .7h0m2.4 0h0m54.6-.1h0m-25.5-.5h0m-34 1.1h0m0-.5h0m-2.4 .2h0m-4.9-1h0m-6 .3h0"/>
<path class=g d="M223.9 539.8h0m-17-.7h0m18.2-.1h0"/>
<path class=v d="M212.9 539.1h0m3.7 .2h0m-18.2-.3h0m2.4 .2h0m60.7-.7h0m-35.2 .3h0m-37.6 .1h0m63.1 0h0m-15.8-.9h0m-15.8 .5h0m-29.1-.7h0m10.9 1.4h0"/>
<path class=p d="M202 539.1h0m14.6-.5h0m27.9 .5h0m2.4-.1h0m-20.6-.3h0m-14.6 .3h0m-8.5-.4h0m-17-.6h0m42.5 1.3h0m-10.9-1.2h0m-10.9 .3h0m58.2 .1h0m-61.9-.1h0"/>
<path class=f d="M354.5 539.1h0"/>
<path class=g d="M205.7 538.4h0"/>
<path class=i d="M189.9 538.9h0m24.3 .4h0m18.2 0h0m-19.5-.6h0m-10.9 0h0m60.7 .5h0m-43.7-.4h0m29.1 .1h0m-23-.5h0m-23.1 .1h0"/>
<path class=v d="M250.6 538.2h0m-29.2 .1h0m-31.5-.1h0m17 0h0m12.1-.7h0m-4.8 .9h0m8.5 0h0m0-.4h0"/>
<path class=f d="M265.1 537.6h0"/>
<path class=p d="M228.7 537.8h0m-25.5 .5h0m-7.3 .2h0m14.6 .7h0m-9.7-.4h0m14.6-1.4h0m37.6 .6h0m-20.6 .5h0m-20.7 0h0m12.2 0h0m40-1h0m-64.3 .1h0m17-.2h0"/>
<path class=i d="M188.7 538.4h0m21.8 .2h0m-14.6-1.4h0m9.8 1.1h0m6-.6h0m19.5 .6h0"/>
<path class=g d="M202 538.3h0"/>
<path class=p d="M211.7 537.1h0m51 .8h0m-1.2-.6h0m-26.7 0h0m-20.6 .2h0m78.9-1.1h0m-66.8 1.4h0"/>
<path class=f d="M223.9 538.2h0m-15.8-.7h0"/>
<path class=g d="M175.3 537.2h0m26.7 .8h0m44.9-.9h0m-46.1 .6h0m37.6-.9h0"/>
<path class=i d="M220.2 537.3h0m-17 .6h0m-20.6-.5h0m93.5-.4h0"/>
<path class=v d="M227.5 537.7h0m-21.8 0h0m3.6 .1h0m-20.6-.5h0m36.4-.2h0m-7.3 .6h0m0-.4h0m-15.8 .4h0m-21.8-1.4h0m42.5 .4h0m-21.9 1h0m-10.9 .1h0m34-1.1h0m37.6 .2h0m-72.8 .3h0m29.1-.5h0m-14.6 .9h0m29.2-.8h0m-35.2 .4h0m46.1-1h0m-4.9 .5h0m-17 0h0m-13.3-.3h0m4.8 .7h0m24.3-.7h0"/>
<path class=i d="M191.1 536.5h0m43.7-.1h0m-46.1-.1h0"/>
<path class=p d="M206.9 536.4h0m-2.5 .8h0m-4.8-.9h0m10.9 .1h0m2.4 .4h0m7.3 .1h0m-30.3-.3h0m6 0h0m31.6 .5h0m6.1-1.2h0m-24.3 .2h0m6.1 .7h0m-11 .2h0m28-.4h0m31.5-.5h0m-48.5 .4h0m-9.7 .1h0"/>
<path class=g d="M214.2 536.5h0m3.6-.1h0m10.9 .7h0m-26.7 .1h0m42.5-.9h0m-14.6-.8h0m41.3 0h0m-20.6-.1h0"/>
<path class=i d="M217.8 536.2h0m20.6-1.2h0m-48.5 1.3h0m-19.4-1h0"/>
<path class=p d="M203.2 536.3h0m8.5-.1h0m17 0h0m-27.9 .5h0m3.6-.6h0m57.1-.1h0m-7.3 0h0m15.8 0h0m-60.7-.2h0m-43.7-.3h0m60.7 .6h0m-35.2-.5h0m1.2-.3h0m31.6 .7h0m1.2-.4h0"/>
<path class=f d="M220.2 536.2h0"/>
<path class=v d="M202 536.2h0m-1.2 .3h0m12.1-.3h0m13.4-.5h0m-25.5 .2h0m7.3 .2h0m12.1-.5h0m-8.5 .3h0m-15.8-.1h0m-7.2 0h0m38.8 .2h0"/>
<path class=p d="M175.3 535.1h0m87.4 .8h0m-60.7 .1h0m23.1-.7h0m-18.2 .4h0m34-.3h0m-11-.2h0m2.5-.1h0m9.7-.3h0m-3.7-.1h0m-32.7 1h0m43.7-.7h0"/>
<path class=g d="M204.4 535.5h0m-8.5-.8h0m15.8 .4h0"/>
<path class=i d="M216.6 536.1h0m-14.6-.3h0m6.1-.3h0m13.3-.3h0m-30.3-.1h0m38.8-.2h0m-17 .3h0m-4.8 .1h0m17-.2h0m-36.4 .3h0m1.2-.6h0"/>
<path class=v d="M200.8 535.6h0m17 0h0m15.8-.1h0m-4.9 0h0m-21.8-.2h0m59.5-.4h0m-74.1 .1h0m9.7 .7h0"/>
<path class=f d="M321.5 534.2h0"/>
<path class=g d="M244.5 534.4h0"/>
<path class=f d="M262.7 534.5h0"/>
<path class=i d="M233.6 534.7h0m-23.1 .1h0m59.5 .3h0m-81.3-.4h0m32.7 .1h0"/>
<path class=v d="M204.4 534.7h0m1.3 .1h0m12.1 .4h0m-9.7-.6h0m53.4-.4h0m-32.8-.1h0m-24.3 .5h0m60.7-.4h0m-24.2 0h0m21.8-.3h0"/>
<path class=p d="M202 535.1h0m-1.2-.1h0m61.9-1.4h0m-57 .8h0m-3.7 .6h0m-13.3-.4h0m31.5 .7h0m-6-.8h0m-15.8 .8h0m-2.5-1h0m7.3 .2h0m-10.9-.3h0m19.4 .7h0m81.4-.8h0m-104.4 .2h0m72.8-.2h0m-59.5 .5h0m35.2-.6h0"/>
<path class=v d="M225.1 533.9h0m9.7 .1h0m-4.9 .4h0m-29.1-.3h0m14.6 .2h0m58.2-.2h0m-99.5 .2h0"/>
<path class=i d="M189.9 534.3h0m72.8-.9h0m-36.4 .7h0m-35.2-.1h0m-8.5-.4h0m6.1 .2h0m1.2 .3h0"/>
<path class=p d="M222.7 534h0m4.8 0h0m17-.1h0m-70.4-.4h0m47.3 .3h0m11 .1h0m2.4-.4h0m4.8 .3h0m-7.2-.1h0"/>
<path class=g d="M217.8 534.3h0m-14.6 0h0m2.5-.7h0"/>
<path class=f d="M279.7 533.1h0"/>
<path class=p d="M209.3 534.1h0m4.9-.2h0m-25.5-.4h0m53.4-.3h0m-34 0h0m-21.9-.5h0m42.5 .3h0m-17 .6h0m-4.8-.3h0"/>
<path class=f d="M262.7 533h0"/>
<path class=g d="M204.4 533.6h0m-12.1-.8h0m30.4 .7h0m3.6 0h0"/>
<path class=v d="M210.5 533.3h0m43.7 .8h0m-63.1-1.2h0m14.6 .4h0m15.7-.1h0"/>
<path class=i d="M200.8 533.9h0m18.2-1.2h0m-18.2 .3h0m24.3 .6h0m7.3-.6h0m29.1 .2h0m-18.2 .3h0m-26.7-.5h0m-14.6 .3h0m-1.2-.3h0m-12.1 .2h0m-19.5-.5h0"/>
<path class=p d="M189.9 532.5h0m40 .8h0m8.5-.5h0m-41.2-.8h0m-1.3-.5h0m42.5 .9h0"/>
<path class=i d="M214.2 533h0m49.7-.4h0m-92.2 0h0m2.4-.4h0m89.8 .1h0m-87.4-.7h0"/>
<path class=g d="M215.4 533.2h0m4.8-.5h0m20.7 .3h0"/>
<path class=v d="M229.9 532.9h0m-20.6-.3h0m20.6-.2h0m-14.5 .1h0m-25.5-.1h0m15.8 .4h0m9.7-.4h0m-8.5-.6h0m4.8 .8h0m15.8 .1h0m0-.9h0m-1.2 .5h0"/>
<path class=f d="M223.9 531.8h0m-20.7 .7h0m122.2-1.1h0m-25.4-.4h0"/>
<path class=p d="M200.8 532.7h0m-26.7-.9h0m44.9 0h0m-7.3 .2h0m13.4 .4h0m36.4 0h0m2.4-.2h0m-63.1-.5h0m2.4 .7h0m66.8-.6h0m-61.9-.4h0m12.1 .2h0m52.2-.5h0"/>
<path class=i d="M232.4 531.9h0m-43.7 .4h0m21.8-.5h0m15.8-.4h0m-36.4 .7h0m24.3 0h0m53.4-1.6h0m-75.3 1.5h0"/>
<path class=v d="M205.7 532.1h0m38.8 .4h0m-36.4-1.3h0m23.1 .9h0m-40.1 .1h0m97.1-.6h0m-71.6 .1h0m46.1-.6h0m-1.2-.2h0m-69.2 1.1h0m71.6-.6h0m-75.2 .7h0m48.5-.1h0"/>
<path class=g d="M204.4 531.5h0m20.7 .1h0m0-.2h0m-21.9-.1h0"/>
<path class=f d="M217.8 531.4h0"/>
<path class=v d="M209.3 531.2h0m3.6 .8h0m57.1-.7h0m-81.3 .1h0m21.8-.1h0m24.3 .2h0m-7.3-.8h0m-31.6-.2h0"/>
<path class=p d="M212.9 530.8h0m12.2 .4h0m-18.2-.3h0m54.6-.5h0m-35.2 .5h0m-13.4-.5h0m2.5 .6h0m74-.9h0m-72.8 .7h0m1.2-.5h0"/>
<path class=i d="M188.7 531.3h0m1.2-.3h0m7.3-.7h0m3.6 1.2h0m30.4-.6h0m-29.2 .9h0m-27.9-1.4h0m14.6 .7h0m-7.3-.2h0m43.7 .1h0m-1.2-.4h0m-20.7 .1h0"/>
<path class=g d="M266.4 530.4h0m-52.2 .4h0"/>
<path class=p d="M188.7 530.7h0m25.5-.5h0m7.2 .2h0m49.8 .4h0m-20.6-.5h0"/>
<path class=i d="M200.8 531.2h0m61.9-.2h0m-53.4 0h0m-6.1-.6h0m12.2-.3h0m-14.6 .5h0m-25.5-.8h0"/>
<path class=f d="M236 530.5h0"/>
<path class=v d="M223.9 530.3h0m40 .3h0m-38.8-.3h0m-19.4 .5h0m19.4-.9h0m3.6 .6h0m-19.4-.3h0m6.1-.3h0m24.2 .2h0m-9.7 .3h0m-23-.3h0m59.5-.2h0m-60.7 .1h0m24.2-.3h0m-13.3 .1h0m-24.3 .2h0m17-.1h0m-2.4 .1h0m13.3 .4h0"/>
<path class=f d="M249.4 529.4h0"/>
<path class=p d="M219 530.4h0m-4.8-.7h0m9.7-.4h0m-11 .6h0m8.5-.4h0m40.1 .3h0m-87.4 0h0m88.6 0h0"/>
<path class=v d="M240.9 529.8h0m-55.9 .1h0m43.7 .2h0m-24.3 0h0m23.1-.1h0m-2.4-.5h0m18.2 .3h0m-3.7-.3h0m-25.4-.3h0m-25.5 1.2h0m48.5-1.1h0m7.3-.1h0m-42.5 1.4h0m23.1-1.5h0"/>
<path class=i d="M232.4 529.7h0m-13.4 .6h0m-18.2-.2h0m2.4-.5h0m-1.2-.1h0m55.9 .1h0m-69.2 .3h0m25.5-1h0m-4.9 .6h0m3.6 0h0m48.6-.7h0m-60.7 .4h0m27.9 0h0m26.7-.1h0"/>
<path class=g d="M238.4 530.4h0m-17-1.2h0m12.2 .1h0m-30.4 0h0m-2.4-.2h0m61.9 .4h0"/>
<path class=f d="M271.2 528.1h0"/>
<path class=p d="M210.5 529.3h0m21.9-.3h0m-3.7-.3h0m-7.3 .1h0m-9.7-.3h0m-6 1.2h0m31.5-1.3h0m-2.4-.3h0m27.9 .5h0m-34 0h0m-2.4 .1h0m-1.2 .3h0"/>
<path class=g d="M328.4 529.3h0m-119.1-.4h0"/>
<path class=i d="M188.7 529.6h0m1.2-.6h0m40-.4h0m-24.2 .5h0m-11 .1h0m12.2-.3h0m1.2 .1h0m-15.8 .1h0m10.9-.1h0m58.3-1.1h0m-32.8 .1h0m-10.9 .1h0"/>
<path class=v d="M233.6 528.6h0m-19.4 0h0m-4.9 0h0m17 .1h0m-25.5 .3h0m-12.1 .3h0m34-.5h0m44.9-.5h0m-61.9 0h0m-17 .3h0"/>
<path class=i d="M214.2 528.3h0m-23.1 .1h0m-2.4-.1h0m12.1-.3h0m13.4-.1h0m-19.5 .3h0m26.7 .2h0"/>
<path class=g d="M226.3 528.5h0m-14.6-.5h0m47.4-1.1h0"/>
<path class=f d="M316.8 527.3h0"/>
<path class=p d="M215.4 528h0m46.1-.4h0m-36.4 .8h0m-9.7-.8h0m-13.4 1.1h0m3.7-.7h0m6-.2h0m11-1h0m2.4 .8h0m-18.2 .4h0"/>
<path class=v d="M203.2 528.5h0m35.2-.4h0m-36.4-.1h0m7.3 .2h0m-4.9-.3h0m29.2 .5h0m34-.5h0m-6.1-.7h0m-51 .6h0m17-.1h0m-24.3-.1h0m11-.1h0m17-.1h0m-18.3-.1h0"/>
<path class=f d="M217.8 527.8h0"/>
<path class=v d="M228.7 527.9h0m-27.9-.1h0m41.3 .1h0m-53.4-.2h0m36.4-.3h0m-20.7 0h0"/>
<path class=i d="M227.5 527.4h0m-20.6 .5h0m55.8-.3h0m-55.8-.1h0m1.2-.2h0m60.7-.1h0m-51-.1h0m-27.9 .3h0"/>
<path class=g d="M236 526.9h0m-26.7 .4h0m17-.1h0m-12.1-.6h0m3.6 .3h0"/>
<path class=p d="M200.8 527.7h0m1.2-.2h0m-10.9-.1h0m74 .5h0m-58.2-1.2h0m-13.4 .6h0m46.1 .5h0m91.7-.2h0m-89.2-.6h0m-9.7-.2h0m46.1-.5h0m-15.8 .6h0m-66.8 .1h0m6.1 .2h0m57.1-.6h0m-66.8-.1h0m8.5 .8h0m1.2-.4h0"/>
<path class=i d="M212.9 527.1h0m-17-1h0m15.8 .5h0m51-.2h0m-68 .4h0m-6-.2h0m15.7-.3h0m-15.7-.2h0m0-.8h0m54.6-.1h0"/>
<path class=g d="M226.3 526.9h0m23.1-.5h0m-12.2 .2h0m-2.4-.9h0"/>
<path class=p d="M212.9 526.7h0m12.2 .2h0m-24.3-.1h0m0-.2h0m10.9-.4h0m15.8 .3h0m-15.8-.7h0m-6 .5h0m55.8 .5h0m-38.8-1.1h0m43.7 .4h0m-48.6-.1h0m32.8-.5h0"/>
<path class=v d="M261.5 526.2h0m-53.4 .6h0m20.6-.4h0m1.2-.7h0m-29.1 .8h0m24.3-.3h0m7.3-.6h0m32.7 .7h0m-60.7-.6h0m12.2 .2h0m49.8-.5h0m-52.2 .4h0m2.4 .1h0"/>
<path class=f d="M189.9 525.9h0"/>
<path class=g d="M220.2 525.6h0m-3.6-.6h0"/>
<path class=v d="M205.7 525.6h0m4.8 .4h0m44.9-1.9h0m-59.5 .3h0"/>
<path class=p d="M242.1 525.3h0m-6.1-.3h0m-25.5 .8h0m0-.4h0m15.8 .6h0m19.4-.3h0m-7.3-.3h0m-26.7-.4h0m17 .5h0m-8.5-.3h0m0-.5h0m54.7 0h0m-70.5 .1h0m57.1 .3h0"/>
<path class=i d="M265.1 525.4h0m-47.3-.7h0m8.5 .9h0m-12.1 .1h0m-7.3-.6h0m-4.9 1.2h0m63.1-1.6h0m-61.9 .3h0m-2.4 .3h0m-6.1 .1h0m32.8-.2h0m-38.8-.5h0m41.2 .5h0m-21.8 0h0m-18.2-.8h0m71.6 .3h0m-42.5-.3h0m9.7 .7h0"/>
<path class=p d="M208.1 525.1h0m20.6-.3h0m-23-.1h0m25.5-.4h0m-29.2 1h0m35.2-1.4h0m36.4 1.2h0m-41.2-.6h0m34-.6h0m-32.8 .1h0"/>
<path class=v d="M227.5 524.8h0m19.4-.5h0m-31.5 .5h0m1.2-.3h0m-4.9 0h0m31.6-.2h0m-40.1 .4h0m6.1-.2h0m3.6-.5h0m49.8 .6h0m-32.8-.3h0m-4.8 .3h0m-53.4-.7h0"/>
<path class=g d="M191.1 524.1h0m71.6 0h0"/>
<path class=i d="M265.1 524.6h0m-76.4 0h0m36.4-.3h0m-10.9 .4h0m18.2-.7h0m-30.4 .7h0m-13.3-.5h0m17-.5h0m24.2 .4h0m-21.8 .6h0m7.3-.4h0m-26.7-.2h0m84.9-.8h0m-58.2 .6h0"/>
<path class=f d="M200.8 524.7h0m0-.6h0m180.6-.6h0"/>
<path class=g d="M242.1 524.6h0"/>
<path class=p d="M262.7 523.8h0m-74 .2h0m30.3 0h0m24.3-.2h0m8.5-1.2h0m-25.5 1h0m18.2-.4h0m-15.8 .5h0m-3.6 0h0m-32.8-.6h0m21.9 0h0m-23.1-.1h0m35.2 .1h0"/>
<path class=i d="M202 523.7h0m-13.3 .2h0m31.5 .5h0m26.7-1.1h0m-13.3 .5h0m-21.9-1h0m-10.9 .6h0m20.6-.2h0m-31.5 .1h0m10.9 0h0m-12.1-.2h0"/>
<path class=v d="M237.2 523.5h0m-7.3 .4h0m-24.2-.6h0m63.1-.3h0m-60.7 .6h0m-2.4-.3h0m19.4-.5h0m-8.5 .5h0m-13.4 .3h0m35.2-.6h0m-3.6 0h0m-30.4 .3h0"/>
<path class=p d="M229.9 523.1h0m-20.6-.1h0m-20.6-.5h0m27.9 .4h0m84.8-.4h0m-38.7 .5h0m-35.2 0h0m-25.5 0h0"/>
<path class=f d="M338.5 522.2h0"/>
<path class=v d="M237.2 522.9h0m-8.5-.2h0m41.3 .3h0m-34-.3h0m-23.1-.4h0m-6 .5h0m43.7-.5h0"/>
<path class=i d="M188.7 522.4h0m25.5 0h0m12.1 .4h0m0-.2h0m-36.4-.6h0m37.6 .5h0m-26.7 .4h0m1.2-.5h0m2.4 .6h0m0-.9h0m29.2 .9h0m27.9-1h0m-63.1-.5h0m-6.1 .8h0m41.3-.2h0m27.9-.3h0m-60.7 .4h0m42.5 .1h0"/>
<path class=g d="M255.4 522.3h0m-26.7-.1h0m32.8-.5h0"/>
<path class=p d="M234.8 521.9h0m-9.7 .5h0m37.6-.2h0m-42.5-.4h0m43.7 0h0m-53.4 .4h0m129.3-.8h0m-132.9 .3h0m19.4 .3h0m95.2-.4h0m-102.5 .4h0m-29.1-.6h0m38.8 0h0"/>
<path class=v d="M240.9 522.6h0m-23.1-.6h0m-12.1-.1h0m3.6 .2h0m-3.6-.4h0m10.9 .3h0m10.9-.5h0"/>
<path class=g d="M226.3 521.7h0m-10.9-.2h0m6 .2h0m4.9-.1h0"/>
<path class=i d="M212.9 521.9h0m6.1-.6h0m43.7 .6h0m-74 .2h0m12.1 0h0m2.4 .2h0m20.7 .3h0m-23.1-1.5h0m-8.5 0h0m3.6 .1h0m-2.4 .1h0m25.5-.2h0"/>
<path class=f d="M206.9 521.6h0m-1.2-.2h0"/>
<path class=g d="M271.2 520.2h0"/>
<path class=v d="M209.3 522h0m52.2-.8h0m-13.4-.9h0m14.6 .5h0m-44.9 0h0m0-.4h0m12.1 .9h0"/>
<path class=p d="M234.8 521.7h0m-9.7-.4h0m1.2-.3h0m-13.4 .6h0m-18.2-.6h0m66.8-.5h0m-37.6 .4h0m-7.3-.3h0"/>
<path class=i d="M225.1 520.9h0m-24.3 .1h0m8.5 .4h0m-20.6 .4h0m0-1.1h0m42.5 .9h0m-34-.7h0m-7.3 0h0m18.2 .3h0m-4.9-.1h0m-7.3-.4h0m1.3-.3h0m-8.5-.2h0"/>
<path class=v d="M217.8 520h0m-8.5 .4h0m18.2 .7h0m-21.8-.5h0m76.4-.9h0m-43.7 .2h0"/>
<path class=f d="M237.2 520.7h0"/>
<path class=i d="M211.7 520.5h0m-9.7 1h0m74.1-1.8h0m-52.2 .7h0m-23.1 .1h0m-12.1-.5h0m31.5-.1h0m41.3 0h0m-72.8 0h0m1.2-.2h0m88.6-.4h0m-60.7 .6h0m12.1 .3h0"/>
<path class=p d="M228.7 520.1h0m-30.3 .3h0m6 .3h0m20.7-.4h0m-19.4 .1h0m9.7 .9h0m-2.5-.7h0m13.4-.4h0m99.1 .2h0m-124.6-.4h0m3.6 .4h0m68-.1h0m-58.2-.8h0m20.6 .6h0"/>
<path class=g d="M227.5 520.4h0m-21.8-.5h0m61.9-.1h0m-58.3 .1h0m53.4 .5h0"/>
<path class=p d="M284.6 519.5h0m-66.8-.3h0m-13.4 .2h0m3.7 .2h0m14.6-.3h0m2.4 .7h0m8.5-.6h0m-25.5 0h0m17 .5h0m13.3-.9h0m-8.5 .7h0m31.6-.5h0m-41.3-.1h0m20.7 0h0m-34-.1h0"/>
<path class=f d="M231.2 519.5h0"/>
<path class=i d="M202 520h0m25.5 0h0m-38.8-.6h0m0-.8h0m43.7 1h0m-24.3-.3h0m-4.9 .1h0m20.7-.5h0m-40.1 .4h0m52.2-.5h0m-26.7 .1h0m10.9-.1h0"/>
<path class=v d="M215.4 519.7h0m-3.7 .1h0m17 0h0m-23-.9h0m-4.9 .8h0m3.6-.9h0m30.4-.1h0m-8.5 .3h0m-9.7 .3h0"/>
<path class=g d="M202 519.4h0m20.7-.3h0m42.4 .1h0m-63.1-.4h0m12.2 0h0m47.3 0h0m-41.3-.7h0"/>
<path class=v d="M194.7 518.3h0m35.2 .3h0m-20.6-.2h0m-2.4 0h0m24.3 0h0m-30.4 .1h0m65.6-1h0"/>
<path class=p d="M195.9 518.6h0m14.6 0h0m17 .4h0m-12.1-.4h0m25.5-.2h0m-52.2-.3h0m17 .2h0m-14.6 .4h0m37.6-.4h0m-19.4-.2h0m-14.6 0h0m26.7-.2h0m4.9 0h0m-1.2 .2h0m13.3-.3h0"/>
<path class=i d="M215.4 518.4h0m26.7 .1h0m21.8 0h0m-26.7-.2h0m-35.2 .5h0m0-.4h0m31.6 .3h0m-2.4-.5h0m-28 .1h0m11 .2h0m-12.2-.3h0m2.4-.2h0m-1.2-.4h0"/>
<path class=v d="M200.8 517.9h0m19.4-.3h0m-10.9-.2h0m27.9 0h0m-35.2 .3h0m241.2-.4h0m-204.8-.3h0m-41.2-.1h0"/>
<path class=i d="M205.7 517.8h0m8.5-.1h0m-11-.4h0m-14.5 .1h0m34 .1h0m41.2-.7h0m-58.2 .8h0m31.5-.3h0"/>
<path class=p d="M261.5 518.2h0m-44.9-.6h0m57 .1h0m-64.3-.5h0m40.1-.5h0m-24.3 .6h0m-8.5-.2h0m130.1-.1h0m-118 0h0m-24.3 .2h0m-2.4 0h0m-1.2 .5h0m61.9-1.3h0"/>
<path class=g d="M211.7 518.1h0m18.2-.8h0m-15.7 .2h0"/>
<path class=f d="M206.9 517.7h0m115.1-.4h0m-81.1-1.1h0m89.7 .8h0"/>
<path class=p d="M211.7 516.3h0m-14.5-.2h0m4.8 1h0m-9.7-1.1h0m25.5 1h0m21.8-.5h0m-9.7-.1h0m-2.4-.1h0m3.7-.4h0m1.2-.5h0m55.8-.1h0"/>
<path class=i d="M219 516.2h0m-4.8 .4h0m0-.5h0m-9.8 .5h0"/>
<path class=g d="M234.8 516h0m-18.2 0h0m58.3-.4h0"/>
<path class=f d="M348.1 515.6h0"/>
<path class=v d="M225.1 516.6h0m-35.2 .5h0m13.3-.8h0m11-.4h0m49.7 .5h0m-61.9 .2h0m59.5-.1h0m-37.6-.6h0m-18.2 .5h0m-4.9 .1h0m1.2-.1h0m38.9-.4h0m-9.7-.5h0m6 .7h0m-30.3 .2h0m21.8-.7h0m34 .3h0m-4.8-.5h0m-40.1 .8h0m23.1-1.3h0m-13.4 .4h0m36.4 0h0m-48.5-.1h0m-6.1 1.2h0m8.5-.9h0m-29.1-.7h0m41.2 .7h0m14.6-.7h0m-8.5 .2h0"/>
<path class=i d="M202 515.7h0m6.1-.2h0m35.2 .9h0m-42.5-.5h0m-7.3-1.7h0m2.4 .4h0m26.8 .8h0m10.9-.3h0"/>
<path class=g d="M195.9 515.9h0m66.8-.1h0m-61.9-.7h0"/>
<path class=p d="M211.7 516h0m13.4 0h0m-20.7-.4h0m30.4-.4h0m26.7 .3h0m-36.4-.1h0m44.9-.3h0m-40.1 .4h0m-3.6 .1h0m-17-.4h0m4.9-.4h0m71.6 .5h0m-77.7-.6h0m4.8 .5h0m12.2 .1h0m18.2-.7h0m-37.6 .7h0m0-.3h0"/>
<path class=v d="M200.8 514.9h0m34-.7h0m-18.2 .3h0m23-.3h0m-32.7 .5h0m57 .5h0m-55.8-.6h0m-7.3-.2h0m48.6-.9h0"/>
<path class=i d="M215.4 514.5h0m49.7 .4h0m-59.4-.6h0m49.7-.1h0m-35.2 .1h0m-15.8 .4h0m-2.4 0h0"/>
<path class=g d="M261.5 515.1h0m-59.5-.4h0"/>
<path class=f d="M267.6 514.1h0m66.4 .1h0m-23-.7h0"/>
<path class=p d="M226.3 515.1h0m7.3-.6h0m27.9 .1h0m-58.3 .1h0m21.9 0h0m3.6 .2h0m35.2-.4h0m-36.4 .1h0m-4.8-.1h0m-1.3-.5h0m-12.1-.1h0m20.6 .3h0m-10.9 .2h0m6.1 0h0m-36.4 0h0m38.8-.4h0m-15.8-.1h0"/>
<path class=i d="M188.7 513.5h0m14.5 .3h0m2.5 .3h0m20.6-.3h0m-23.1-.1h0m-10.9-.6h0m54.6-.1h0m-52.2 .2h0"/>
<path class=p d="M265.1 513.6h0m-48.5 .1h0m64.3-.3h0m-18.2 .3h0m-43.7-.6h0m-10.9-.3h0m34 .6h0m31.5-.8h0m-82.5 .6h0"/>
<path class=f d="M278.5 513.1h0m73.6 .4h0"/>
<path class=g d="M200.8 514h0m6.1-1.1h0m18.2 .8h0m-36.4-1.3h0"/>
<path class=v d="M228.7 514.1h0m94.2 .1h0m-133-.3h0m95.9 .2h0m-24.3 .2h0m2.4-1.2h0m-51 1h0m19.5-.7h0m1.2-.7h0m-14.6 .3h0m-13.3-.1h0m0-.4h0m7.2 .9h0"/>
<path class=p d="M208.1 512.4h0m14.6 .3h0m12.1-.3h0m1.2-.4h0m-10.9 1.1h0m37.6-.3h0m-53.4-.1h0m88.6-.3h0m-69.2-.1h0m12.2 .4h0"/>
<path class=i d="M238.4 513.3h0m-34-.5h0m17-.1h0m-19.4 .5h0m1.2-.2h0m68-.3h0m-70.4 .2h0m60.7 0h0m-35.2-.5h0m-17 .1h0m37.6 .4h0m-17-.5h0m-27.9 0h0m19.4-.5h0m7.3 .3h0"/>
<path class=f d="M261.5 512.5h0m2.4-.3h0m-30.3-.4h0m32.8 0h0m-3.7 .5h0"/>
<path class=v d="M204.4 512.8h0m24.3-.8h0m-3.6 1h0m-20.7-.4h0m14.6 .2h0m-6.1 .2h0m3.7-.9h0m20.6-.6h0m-36.4 1.2h0m85-.8h0"/>
<path class=g d="M215.4 513.1h0"/>
<path class=v d="M261.5 512.4h0m-47.3-.5h0m25.4-.2h0m-33.9 .5h0m-3.7 .1h0m14.6-1.3h0m9.7 1h0m3.6-.3h0m-20.6 0h0m58.3-1h0"/>
<path class=p d="M233.6 511.6h0m7.3 .8h0m-46.2-1.2h0m46.2 .3h0m-1.3 .1h0m21.9-.1h0m-35.2 .2h0m-9.7-.8h0"/>
<path class=f d="M232.4 511.4h0"/>
<path class=g d="M225.1 512.2h0m-10.9-1.1h0m47.3 0h0m2.4 .3h0"/>
<path class=i d="M211.7 511.9h0m8.5 0h0m42.5-.6h0m-59.5 .6h0m11-.9h0m10.9 .6h0m0-.6h0m18.2-.1h0m-41.3 .8h0m4.9-.4h0m23 0h0m12.2 .1h0m-34 .4h0m-4.9-.1h0m-2.4-.2h0m27.9-.4h0m-38.8-.3h0m-1.2-.5h0m29.1 .5h0m-20.6-1.1h0"/>
<path class=v d="M231.2 511h0m1.2-.2h0"/>
<path class=g d="M238.4 510.1h0m29.2 .2h0"/>
<path class=f d="M324.9 510.4h0"/>
<path class=p d="M262.7 511.1h0m-13.3 .4h0m-46.2-.2h0m-1.2-.6h0m17 .1h0m12.2 0h0m-30.4 .4h0m12.1-.2h0m49.8-.3h0m-51 .4h0m4.9-.6h0m1.2 .1h0m60.7 .8h0m-47.3-.8h0m-8.5-.7h0m-20.7 .4h0m23.1 .5h0m35.2 .2h0m-35.2-.5h0m4.8 0h0m31.6-.1h0m-59.5-.2h0m24.3 .3h0m-17 .2h0m-4.9-.6h0"/>
<path class=v d="M261.5 509.8h0m17 .5h0m-58.3 0h0m-18.2-.3h0m41.3-1.7h0m2.4 .9h0"/>
<path class=g d="M277.3 509.4h0m-71.6 .3h0"/>
<path class=p d="M212.9 510.7h0m66.8-.8h0m-40.1-.1h0m-13.3 .2h0m-24.3-.2h0m59.5-.3h0m6.1 .4h0m-64.4-.3h0m32.8 .5h0m-26.7-.1h0m23.1-.6h0m7.2-.3h0m-32.7 .4h0m-4.9 0h0"/>
<path class=i d="M212.9 510.4h0m-12.1-.3h0m29.1 .2h0m-4.8-.5h0m-23.1-.4h0m61.9 .8h0m-43.7-.3h0m20.7-.9h0m-40.1 .8h0m-12.1-.6h0m8.5 .4h0m30.3-.4h0m-10.9 .9h0m-25.5-.6h0m77.7 0h0m-58.3-.6h0m23.1-.3h0"/>
<path class=p d="M257.9 509.1h0m-49.8 0h0m17-.5h0m-19.4 .1h0m-17-.7h0m78.9 .7h0m-6.1 .6h0m8.5-.6h0m-15.8-1.5h0"/>
<path class=i d="M200.8 509.4h0m15.8-.3h0m-14.6-.1h0m10.9-.4h0m49.8 .4h0m-57-.6h0m-2.5 .2h0m-6-.8h0m50.9 .2h0m-18.2 .5h0m-32.7-.8h0m76.4 .6h0"/>
<path class=g d="M200.8 509.2h0m6.1-.8h0m8.5 .1h0m13.3 .2h0m92.8-1.2h0"/>
<path class=v d="M223.9 508.8h0m-14.6 0h0m10.9 .1h0m7.3-.5h0m34 .4h0m2.4-.2h0m-41.2-.8h0m8.5 .1h0m-28 .2h0m11 0h0m20.6 .3h0m21.8-.6h0"/>
<path class=f d="M342.4 508.4h0"/>
<path class=v d="M208.1 507.8h0m18.2-.1h0m-15.8-.5h0m55.9 .3h0"/>
<path class=i d="M200.8 508.5h0m1.2-.5h0m-29.1-.9h0m72.8 1.2h0m-42.5-.5h0m-13.3-.2h0m-7.3-1.2h0"/>
<path class=f d="M237.2 508h0m172-.6h0m-138-.4h0m89.3 .4h0"/>
<path class=p d="M216.6 507.9h0m-3.7-.3h0m52.2-.2h0m-64.3 .4h0m32.8 .6h0m1.2-.9h0m26.7-.5h0m-32.8 .8h0m-1.2-.6h0m-13.3 .7h0m10.9-.1h0m-20.7-.2h0m28-1.1h0m6 0h0"/>
<path class=g d="M262.7 507.9h0m-54.6-.2h0m59.5-.5h0m19.4 1h0m-57.1-.7h0m14.6 .1h0m-25.5-.3h0m7.3 .1h0m-21.9-.3h0m30.4-.3h0m-4.9 .2h0m31.6-.3h0m-53.4 .2h0m19.4-.1h0m29.1 0h0"/>
<path class=i d="M216.6 506.9h0m14.6-.7h0"/>
<path class=p d="M226.3 506.7h0m59.5 .1h0m-83.8 .6h0m35.2-.9h0m-8.5 .2h0m38.9 .1h0m-59.5-.3h0m17 .2h0m0-.1h0m3.6-.2h0m-10.9 .1h0m44.9-.1h0"/>
<path class=v d="M226.3 506.6h0m-25.5 1.1h0m21.9-1.1h0m-9.8 .6h0m-7.2-.2h0m66.7-.4h0m-65.5 .4h0m13.3-.3h0m-13.3-.6h0m20.6 .5h0m36.4 .5h0m-47.3-.7h0m-15.8-.3h0m65.6 .3h0m-23.1-.2h0m-34-.6h0m-8.5 .2h0m29.1 .2h0m31.6-.1h0m-60.7-.5h0"/>
<path class=f d="M301.7 506.2h0m-65.7 .2h0m-24.3-.2h0"/>
<path class=g d="M227.5 505.4h0"/>
<path class=p d="M256.6 505.4h0m-40 .1h0m15.8 .4h0m9.7-.9h0m-17 1h0m-23.1-.1h0m9.7-.5h0m-3.6-.1h0m58.3-.2h0m-45 .4h0m-6-.1h0m6-.2h0m43.7-.1h0m24.3-.4h0m-82.5 .5h0"/>
<path class=v d="M263.9 505.9h0m-34 0h0m-9.7-.4h0m-9.7-.2h0m51 .2h0m-18.2-.8h0"/>
<path class=i d="M202 505.7h0m61.9 0h0m-61.9-.1h0m35.2 .1h0m-34-.2h0m21.9 .4h0m25.5 .2h0m10.9-1.1h0m-55.8 .7h0m23-.3h0m-23-.2h0m8.5 .6h0m-40.1-1h0m26.7 .3h0m19.4-1h0m13.4 1h0m-44.9-.9h0"/>
<path class=f d="M231.2 506h0"/>
<path class=p d="M262.7 505.4h0m-36.4-.3h0m-10.9-.6h0m-9.7 .6h0m59.4-.1h0m-35.2-.4h0m-1.2 .1h0m55.9-.6h0m-75.3 0h0m8.5 .9h0m-4.9-1.1h0m24.3 .2h0m34 .4h0m-1.2-.8h0m-35.2 0h0m36.4 .5h0"/>
<path class=i d="M225.1 504.8h0m-24.3 0h0m72.8-.8h0m-44.9 .1h0m12.2 .3h0m-2.5 .3h0m-37.6-.1h0m-12.1-1h0m17 1.1h0m20.6-.6h0m-34-.3h0"/>
<path class=v d="M219 504.9h0m-2.4 0h0m15.8-.1h0m-4.9-.7h0m-24.3 0h0m-1.2 0h0m147.5-.5h0m-145.1 .6h0m20.7-.3h0m-13.4 .2h0m2.5-.5h0m-13.4 .4h0m42.5-1h0"/>
<path class=f d="M261.5 504.8h0m3.6-.5h0"/>
<path class=v d="M208.1 503.9h0m55.8-.2h0m-70.4-.2h0m51 .1h0m18.2-.6h0m-49.8 .1h0"/>
<path class=g d="M322.9 502.4h0m-119.7 1.2h0"/>
<path class=f d="M285.8 503h0"/>
<path class=p d="M226.3 503.8h0m9.7-.8h0m2.4 .4h0m35.2-.6h0m-25.5 .1h0m26.8-.6h0m-65.6 .9h0"/>
<path class=i d="M229.9 502.9h0m-29.1 .6h0m60.7 .1h0m4.9-.7h0m-63.2 .4h0m13.4 .6h0m-14.6-.7h0m12.2-.9h0m6 .7h0m4.9 .7h0m0-.9h0m-20.7 .4h0m77.7 .4h0m-49.7-.2h0m-31.6-.5h0m2.4-.1h0m3.7 .5h0"/>
<path class=v d="M240.9 502.5h0m10.9 .1h0m-51-.5h0m10.9 .3h0m3.7 0h0m23 0h0m-27.9 .1h0m3.7-.9h0m59.4 .1h0"/>
<path class=g d="M328 502.4h0"/>
<path class=f d="M335 502.2h0m-68.6-.5h0"/>
<path class=p d="M223.9 502.8h0m44.9 0h0m-4.9-.6h0m-35.2 .3h0m23.1-.1h0m-20.6-.5h0m-3.7 .8h0m-9.7-.3h0m21.8-.3h0m23.1 .6h0m-30.3-.2h0m4.8-.3h0m8.5 .3h0m-23-.1h0m-9.8-.6h0m3.7-.4h0m26.7 .5h0m-37.6 .5h0"/>
<path class=i d="M210.5 502.2h0m-6.1 .4h0m57.1 0h0m-6.1-.5h0m-47.3 .8h0m20.6-1h0m-27.9 .1h0m1.2 .5h0m86.2-.1h0m-94.7-.4h0m48.6-.2h0m-49.8 .1h0"/>
<path class=g d="M202 502.3h0m26.7-.7h0m-14.5-.2h0"/>
<path class=i d="M221.4 502.3h0m-25.5-1.4h0m9.8 1.2h0m-1.3-.2h0m63.2-.4h0m-49.8-.2h0m-9.7 .4h0m17 .4h0m20.6-.7h0m-38.8-.4h0m1.2 .1h0m34 .3h0m-36.4-.7h0"/>
<path class=v d="M263.9 501.5h0m-61.9-.2h0m70.4-.3h0m-41.2 .7h0m-17-.4h0m41.2-.9h0m20.7 .6h0m-34-.5h0"/>
<path class=p d="M228.7 501.1h0m3.7 .5h0m-4.9 0h0m-15.8-.1h0m1.2 0h0m1.3-.5h0m47.3 .2h0m2.4 .1h0m-29.1-.6h0m-9.7 .7h0m12.1-.8h0m43.7 .6h0m-68-.5h0m37.7 1h0m12.1-.1h0m-60.7-.6h0"/>
<path class=f d="M351.5 501.5h0"/>
<path class=p d="M266.4 501h0m-47.4-.5h0m8.5 .2h0m-23.1 .2h0m60.7-.2h0m-31.5-.6h0m-7.3 .9h0m-23.1-.6h0m32.8 0h0m25.5-.5h0m12.1 .3h0"/>
<path class=v d="M267.6 500.9h0m2.4-.5h0m-46.1 .5h0m-12.2 0h0m13.4 .1h0m6.1-.8h0m-18.3 .4h0m-24.2 .3h0m40-.3h0m-13.3-.2h0m-9.7 0h0m1.2-.2h0m19.4 0h0m8.5-1h0m53.4 .1h0m-65.5 .6h0"/>
<path class=i d="M188.7 500.1h0m12.1 1h0m8.5 .6h0m-8.5-1.2h0m27.9-.5h0m-24.3 .1h0m9.8 .4h0m48.5-.3h0m-61.9-.3h0m24.3 .1h0m-23.1 .4h0m13.4-.9h0"/>
<path class=g d="M239.6 501h0m-21.8-.5h0m-6.1-.4h0m40.1 .5h0m-43.7-.3h0m57-.3h0m-27.9-.2h0m-12.1-.2h0m23-.6h0"/>
<path class=p d="M226.3 499.7h0m18.2-.5h0m-35.2 .3h0m12.1-.3h0m43.7 .3h0m-25.5-.1h0m47.4-.2h0m-38.9-.9h0m-35.2 .8h0m63.2-.1h0m-35.2-.3h0"/>
<path class=f d="M354.6 499.3h0"/>
<path class=v d="M262.7 499.1h0m-61.9 .7h0m31.6-.9h0m-6.1 .6h0m-21.9 .3h0m-1.2-.1h0m30.4-1h0m9.7 0h0m-4.9 .9h0m-25.5-.7h0m3.7 .2h0m19.4-.1h0m-26.7 0h0"/>
<path class=i d="M261.5 499.7h0m-41.3-.8h0m-18.2 1h0m-1.2-.5h0m89.8-.2h0m-86.2 .2h0m24.3-.2h0m-27.9-.1h0m14.6 .2h0m-20.7-1.3h0m68 .5h0m-43.7 .8h0m-36.4 .4h0m85-.3h0m-63.2-.5h0m-2.4 .3h0m21.9-.1h0m-21.9-.5h0m4.9-.2h0m-6.1 .4h0m29.1 0h0m1.3-.3h0m32.7-.2h0"/>
<path class=g d="M237.2 499h0m-9.7-.2h0m-26.7-1.2h0m19.4 .3h0m47.4-.2h0"/>
<path class=f d="M321.5 497h0"/>
<path class=v d="M223.9 499.1h0m0-.3h0m2.4 0h0m-14.6-.7h0m-6 .7h0m26.7-.6h0m13.3 .1h0m10.9 .2h0m-31.5-.5h0m-6.1-.2h0m7.3-.4h0m24.3 .2h0m13.3 .3h0m-36.4 0h0m18.2-.5h0"/>
<path class=p d="M237.2 498.9h0m-21.8-.3h0m72.8-.7h0m-78.9 .4h0m3.6 .1h0m-8.5-.1h0m57.1 .1h0m-20.6-.2h0m0-.3h0m-7.3 0h0m-30.4 .1h0m26.7 .1h0m-14.5-.8h0m-13.4 .9h0m25.5-.9h0m-21.8 .4h0m54.6-.4h0"/>
<path class=v d="M257.9 497.4h0m-41.3 .2h0m14.6-.1h0m7.2-.5h0m40.1-.2h0m-47.3-.2h0"/>
<path class=p d="M244.5 497h0m18.2 .6h0m-40 0h0m-7.3-.9h0m17-.3h0m-4.9 .7h0m36.4 .2h0m-46.1-.3h0m-3.6-.2h0m1.2-.4h0m26.7 .4h0m-18.2 0h0m12.1-.3h0m-20.6-.3h0m21.8 .5h0"/>
<path class=i d="M220.2 497.4h0m41.3-.5h0m-51 .2h0m-3.6 .3h0m1.2-.4h0m-3.7 0h0m59.5 0h0m-42.5 .2h0m-13.3-.5h0m-6.1 .7h0m2.4-.7h0m4.9 .1h0m-7.3-.2h0m4.9 .3h0"/>
<path class=f d="M276.1 497.1h0m-8.5-1h0m-17 1.3h0"/>
<path class=g d="M211.7 497.5h0m58.3-.2h0m-27.9-.7h0m21.8 0h0m-63.1-.4h0"/>
<path class=i d="M205.7 496.4h0m74-.3h0m-68 .5h0m-3.6-.2h0m40-.8h0m-10.9 .9h0"/>
<path class=v d="M212.9 497.1h0m-9.7-.7h0m3.7-.6h0m-12.2 .3h0m66.8 .1h0m-13.4-.2h0m-13.3-.6h0m51-.4h0"/>
<path class=g d="M219 496.5h0m-18.2-.8h0m21.9 .6h0"/>
<path class=p d="M272.4 496.6h0m-52.2-.5h0m71.6 .6h0m-40-.9h0m12.1 .7h0m-34 0h0m1.3-.4h0m-3.7 .8h0m44.9-1.1h0m-47.3 1h0m14.5-.4h0m24.3-.3h0m-1.2 .5h0m-53.4-.8h0m21.9-.1h0m32.7-.3h0m-37.6 .7h0m34-.5h0m-31.6 0h0m-24.3 .5h0m68-.4h0m-55.8 0h0m-2.4 .4h0m0-.3h0m47.3-.3h0"/>
<path class=f d="M271.2 496h0m-20.6 .2h0m-48.6-.5h0m156.9 .7h0"/>
<path class=g d="M219 495.6h0"/>
<path class=i d="M216.6 495.5h0m-14.6-.1h0m3.7 .4h0m-2.5-.2h0m58.3-.3h0m-24.3 0h0m-30.3-.1h0m27.9-.2h0m-31.6 .1h0"/>
<path class=f d="M323.5 495.3h0"/>
<path class=p d="M215.4 495.2h0m-2.5 .8h0m6.1-.9h0m-18.2 .1h0m13.4-.1h0m-12.2 .2h0m61.9-.8h0"/>
<path class=v d="M226.3 495.1h0m14.6 .6h0m-19.5-.9h0m-8.5 .8h0m-12.1-.4h0m24.3 .1h0m7.3 .2h0m38.8-.6h0m-42.5 .2h0m9.7 0h0m-8.5-.2h0m-7.2 .2h0m-14.6-.3h0m4.8 .6h0m-12.1-.6h0m2.4 0h0m11-.3h0m-9.8 0h0m12.2 .1h0m-15.8-.2h0m70.4 .5h0m-44.9-.1h0m35.2-.7h0"/>
<path class=i d="M202 494.5h0m51-.7h0m-43.7 .8h0m52.2-.7h0"/>
<path class=v d="M237.2 494.4h0m1.2-.2h0m-32.7 .3h0m32.7-1.1h0m25.5 .5h0m-47.3 .1h0"/>
<path class=p d="M268.8 494.2h0m-37.6 1h0m-30.4-1.2h0m24.3 .2h0m-4.9-.2h0m13.4 .4h0m0-.6h0m-4.9 .4h0m-21.8 .6h0m2.4-1.5h0m17 .9h0m-24.3 .2h0m13.4-.8h0m-1.2-.4h0m-11 1.1h0m25.5-.3h0m-24.3-.7h0m29.2 .2h0m-20.7-.4h0m48.6 .4h0m-19.4 0h0m-30.4-.1h0m53.4-.6h0m-37.6 .7h0m35.2 .9h0m-59.5-1h0"/>
<path class=v d="M202 493.8h0m14.6-.3h0m-7.3-.5h0m52.2 .3h0m-24.3-.8h0m54.6 .1h0m-74 .2h0"/>
<path class=p d="M228.7 493.1h0m-2.4 .2h0m25.5-.5h0m-40.1-.2h0m8.5-.2h0m4.9 .4h0m-12.2-.1h0m52.2-.2h0m-31.5 .4h0m-18.2-.3h0m-1.2-.3h0"/>
<path class=i d="M200.8 493.8h0m30.4-.6h0m8.4-.5h0m40.1 1.3h0m-52.2-1.2h0m-25.5 .2h0m17-.4h0m-13.3 .2h0m3.6-.4h0m3.6 .2h0m57.1-.2h0m-8.5 .5h0m-51-.8h0m53.4 .7h0m-51-.4h0m-12.1 0h0m17-.1h0"/>
<path class=f d="M236 492.8h0m30.4-1h0"/>
<path class=g d="M226.3 493h0m6.1 0h0m54.6-.7h0m-24.3 .4h0m4.9-1.2h0m-44.9 .7h0m63.1-.7h0"/>
<path class=v d="M225.1 492.3h0m-3.7 0h0m-13.3 .2h0m64.3-.8h0m-21.8 0h0m18.2-.5h0m-57.1 .9h0m49.8-.3h0m32.8 0h0m-49.8-.4h0m-32.8-.3h0m17 .2h0"/>
<path class=p d="M203.2 492.8h0m13.4-.6h0m36.4-1.1h0m-51 1.3h0m71.6-.5h0m-35.2 .4h0m-13.3-.5h0m24.3 0h0m12.1-.2h0m1.2 .5h0m-21.8-.4h0m15.7-.4h0m-41.2 0h0m110.4 .2h0m-86.2-.2h0m2.5-.1h0"/>
<path class=i d="M233.6 492.2h0m-36.4-.6h0m12.1 .2h0m-2.4-.3h0m30.3-.3h0m-35.2 .6h0m7.3-.4h0m-7.3 .3h0m60.7-.1h0m-48.5-.3h0m6 .1h0m-13.3-.4h0m57 1.3h0m-61.9-1h0m76.5 0h0m-77.7 .4h0"/>
<path class=f d="M261.5 490.9h0"/>
<path class=g d="M236 490.7h0m30.4-.5h0m-65.6 .7h0m78.9-.2h0"/>
<path class=v d="M216.6 491.6h0m-1.2-.8h0m-4.9 .4h0m14.6-.5h0m14.5 0h0m46.2-.6h0m-24.3 .1h0m-8.5-.5h0m-19.4 .7h0"/>
<path class=p d="M236 490.6h0m-30.3 .1h0m13.3 .5h0m46.1-.7h0m-64.3 .1h0m31.6 0h0m31.5-.1h0m9.7-.4h0m-31.5-1h0m-10.9 1.6h0m8.4-1h0m-6 .4h0"/>
<path class=i d="M202 490.8h0m12.2-.1h0m4.8-.2h0m43.7 .6h0m-25.5-.4h0m-8.5 .3h0m-7.3-.1h0m-6-.4h0m23-.6h0m-12.1 .2h0m36.4 .7h0m-53.4-.2h0m15.8-.4h0m-13.4 .1h0m-8.5 .5h0m0-.7h0m70.4-.2h0m-9.7 0h0m-44.9-.1h0m-10.9 .2h0m-6.1 .2h0"/>
<path class=f d="M272.4 489.3h0"/>
<path class=v d="M209.3 489.9h0m66.8-.3h0m-48.6 0h0m-9.7-.4h0m-15.8 .2h0m49.8-.5h0m-38.9 .3h0m18.3-.5h0"/>
<path class=p d="M287 489.4h0m-24.3 .6h0m-15.8-.6h0m15.8 .1h0m-46.1-.6h0m-8.5 .3h0m55.8 0h0m-35.2 0h0m-6 .2h0m2.4 .5h0m49.8-.7h0m-58.3-.6h0m60.7 .5h0m-34 0h0m29.1-.1h0m-34-.2h0"/>
<path class=i d="M261.5 489.6h0m24.3 .2h0m-74.1 .1h0m-9.7-.6h0m24.3 .6h0m-21.9-.3h0m20.7 0h0m46.1-.1h0m-63.1-.5h0m31.5-.8h0m-14.5 .7h0m-3.7 .1h0m42.5-.3h0m-6 .6h0m-32.8-.6h0m-23.1 .3h0m3.7-.1h0m-4.9-.1h0m30.4-.3h0m-28 .1h0m29.2-.2h0m29.1 .8h0m-60.7-.6h0m66.8-.5h0m-44.9 .4h0m-34-1.4h0m99.5 0h0"/>
<path class=g d="M205.7 488.1h0"/>
<path class=p d="M208.1 488.6h0m128.2-.1h0m-73.6-.3h0m-46.1 .1h0m18.2 0h0m30.3-.3h0m-47.3-.2h0m13.4 .4h0m-24.3 0h0m6 .1h0m13.4 .5h0m10.9-1h0m-43.7-.9h0m40.1 .6h0"/>
<path class=v d="M209.3 488.2h0m-7.3 .2h0m23.1-.1h0m26.7 .2h0m-40.1 .6h0m32.8-1.2h0m6.1 1.3h0m-23.1-1.3h0m-7.3-.2h0m-19.4 .7h0m29.1 .1h0m32.8-.8h0m30.4 .1h0m-64.4-.4h0m-20.6 .4h0m27.9 .1h0m41.3-.3h0m-12.2-.4h0m-41.2 .3h0m10.9-.7h0m61.9-.6h0m-66.8 1h0m40.1-.1h0"/>
<path class=g d="M204.4 486.9h0m57.1 1h0m10.9-.3h0m3.7-1h0"/>
<path class=p d="M200.8 487.3h0m86.2-.4h0m-60.7 .2h0m7.3-.6h0m40 .5h0m-57 .6h0m18.2-1.1h0m-14.6 .2h0m9.7 .3h0m-2.4 .4h0m23.1-1.3h0m-15.8 .1h0"/>
<path class=i d="M212.9 487.6h0m-18.2 .1h0m19.5-.9h0m48.5 .6h0m-60.7-.1h0m8.5 .2h0m30.4 .3h0m26.7-.4h0m-66.8-.8h0m42.5 .3h0m-42.5-.3h0m61.9 .4h0m-55.8-.1h0m58.2 .1h0m-53.4-.4h0m49.8 0h0"/>
<path class=f d="M228.7 486.7h0m34 .2h0"/>
<path class=g d="M217.8 485.2h0"/>
<path class=f d="M188.7 485.2h0"/>
<path class=p d="M266.4 485.8h0m-52.2 .2h0m0-.3h0m50.9-.1h0m-37.6 1h0m12.1-1.3h0m-8.4 .1h0m10.9-.8h0m19.4 .5h0"/>
<path class=i d="M202 486.3h0m4.9-.4h0m-4.9 .3h0m0-.4h0m23.1 .5h0m48.5-.8h0m-59.4 .1h0m-1.3 0h0m7.3-.7h0"/>
<path class=v d="M227.5 485.6h0m6.1 .4h0m13.3-.5h0m-20.6-.1h0m-18.2 .5h0m17-.2h0m-1.2 .5h0m40 0h0m-59.5-.6h0m7.3-.1h0m26.7-.3h0m28-.1h0m20.6 .2h0m-51-.2h0m40.1 .8h0m-51-.6h0m4.8-.1h0m34 0h0m27.9-.1h0m-59.4-.3h0m53.4-.2h0m-24.3 .1h0m-31.6-.3h0"/>
<path class=i d="M203.2 485.1h0m12.2-.6h0m23 .2h0m-29.1 .2h0m58.3-.1h0m-32.8 .4h0m-20.6-.4h0m-13.4 .3h0m10.9-.4h0m25.5-.8h0m32.8-.7h0"/>
<path class=g d="M227.5 484.8h0m-23.1-.5h0m3.7 .4h0"/>
<path class=f d="M261.5 484.5h0m24.3-.9h0"/>
<path class=v d="M263.9 484.6h0m-61.9 .6h0m23.1-.5h0m-12.2 0h0m-3.6-.3h0m15.8 .1h0m3.6-.3h0m-21.8 .1h0m54.6-.2h0m17 .8h0m-54.6-.4h0m-6.1-.4h0m-17-.2h0m8.5 .2h0m20.6 .2h0"/>
<path class=p d="M208.1 483.9h0m18.2 .3h0m-24.3 .8h0m40.1-1h0m-38.9 .4h0m59.5-.4h0m-42.5 .7h0m43.7-.3h0m-24.3-.2h0m-15.7 .1h0m-21.9-.7h0m-1.2 .1h0m31.6 .5h0m-31.6-.7h0m70.4 .2h0m-37.6 .2h0m-15.8 .1h0m46.1-.2h0"/>
<path class=v d="M282.1 483.3h0m-65.5-.1h0m-9.7-.1h0m59.5-.5h0m-29.2 .5h0m-35.2 .2h0m17-.6h0"/>
<path class=i d="M225.1 483.6h0m10.9 .6h0m25.5-.5h0m-57.1-.3h0m7.3 .1h0m63.2-.6h0m-74.1 .3h0m82.6-.5h0m-40.1 0h0m-34 .7h0m-3.6-.6h0"/>
<path class=g d="M202 482.8h0"/>
<path class=f d="M285.8 483.1h0m-37.7-.3h0"/>
<path class=p d="M265.1 484h0m-60.7-1.1h0m17 .1h0m41.3 .1h0m15.8 .2h0m-69.2-.9h0m20.6 1.2h0m-4.8-.3h0m3.6-.7h0m57.1 .1h0m-95.9 .3h0m71.6 .4h0m-34 0h0m-9.7-.8h0m-14.6 .4h0m12.2-.9h0m-14.6 .5h0m12.1 .4h0"/>
<path class=g d="M263.9 481.9h0m-37.6 .2h0m38.8-.1h0m-1.2-.7h0"/>
<path class=p d="M210.5 481.9h0m-8.5 .5h0m42.5 .6h0m-15.8-.8h0m-6 .4h0m23-1.1h0m-44.9 .6h0m10.9 .1h0m-6-.4h0m32.7 .1h0m-10.9 .4h0m1.2-.6h0"/>
<path class=v d="M210.5 481.5h0m59.5 .8h0m-48.6 0h0m40.1-.1h0m-24.3 0h0m31.6-.4h0m-6.1-.4h0m-53.4-.2h0m77.7 .5h0m-49.8-.3h0m-19.4 .3h0"/>
<path class=i d="M233.6 483.1h0m34-1.6h0m-65.6 .5h0m41.3-.6h0m-49.8 .5h0m20.7 .3h0m13.3-.1h0m14.6 .2h0m-14.6-.4h0m34-.5h0m-58.3 .3h0m28-.3h0m-30.4 .4h0m71.6-.8h0m-60.7 .3h0m-6-.4h0m32.7 .4h0m-15.7-.7h0m-19.5 .6h0m21.9 .1h0m17-.6h0"/>
<path class=f d="M382.5 479.5h0"/>
<path class=p d="M214.2 481.3h0m48.5-.4h0m-43.7-.3h0m51-.5h0m-43.7 .9h0m24.3-1h0m-46.2 .7h0m29.2 .2h0m1.2-.7h0m-1.2-.1h0m-20.7 .3h0m32.8-.1h0"/>
<path class=g d="M206.9 480.9h0m60.7-.6h0m-37.7 0h0"/>
<path class=v d="M225.1 480.7h0m6.1-.5h0m54.6 .7h0m-71.6-.2h0m27.9 0h0m-24.3-.4h0m-10.9-.4h0m128-.4h0"/>
<path class=i d="M200.8 481.1h0m63.1-.3h0m-63.1-.2h0m68 .2h0m-6.1-.1h0m-61.9-.4h0m2.4 .4h0m21.9-.2h0m1.2 .2h0m-25.5-.4h0m4.9-.4h0m31.5 .2h0m3.7 .2h0m-40.1-1.5h0m82.6 .8h0m-63.2 0h0m-8.5-.2h0m23.1-.2h0m-21.9-.5h0m54.7 .6h0m7.3-.4h0m-57.1-.3h0m60.7 .2h0"/>
<path class=g d="M263.9 479.4h0m-30.3-.5h0m-32.8-.7h0m55.8 .1h0"/>
<path class=p d="M209.3 479.9h0m32.8-.3h0m26.7 .1h0m-7.3-.1h0m-35.2 .2h0m31.6-.1h0m27.9-.7h0m-68-.5h0m36.4-.6h0m-23 .8h0m31.5 .3h0m-41.3-.3h0m43.7 .1h0m-2.4-.1h0m-38.8-.1h0m40-.3h0"/>
<path class=v d="M205.7 479.7h0m-2.5 .3h0m35.2 0h0m2.5-1.4h0m38.8 .6h0m-77.7 .5h0m27.9-1h0m60.7 .7h0m-65.5 .1h0m-23.1 0h0m66.8 .2h0m-40.1-.2h0m-1.2-.6h0m38.9-.2h0m-58.3-.1h0m7.3-.1h0m-4.9 .4h0m-3.6-.6h0m64.3 .6h0m-31.6-.4h0m-15.7-.4h0m-21.9 .9h0m30.4-.8h0m-25.5-.1h0m26.7-.3h0m29.1 .1h0m-31.5-.6h0m-8.5 .6h0m14.5-.7h0m-9.7 .6h0"/>
<path class=i d="M261.5 478.1h0m-52.2 .2h0m-8.5-.5h0m15.8-.3h0m-12.2 .3h0m46.2-.3h0m-34-.5h0m-14.6 1.3h0"/>
<path class=p d="M266.4 478.3h0m-45-.6h0m-7.2 .8h0m-12.2-.5h0m42.5 .3h0m-8.5 .1h0m29.1-.4h0m4.9-.3h0m-44.9 .3h0m10.9-.9h0m26.7 .4h0m-34-.5h0m32.8 .8h0m24.3 .1h0m-53.4-.6h0m-20.7 .2h0m-8.5 .1h0m24.3-.3h0m34 .3h0m6.1-.3h0m-6.1 .1h0m-29.1-.8h0m31.5 .4h0"/>
<path class=g d="M200.8 477.6h0m34-.5h0m-32.8-.4h0m59.5-.3h0m2.4 .4h0m59-.4h0m-50.5-1.4h0"/>
<path class=p d="M215.4 476.4h0m48.5 .2h0m-38.8 .6h0m19.4-.9h0m32.8 0h0m-14.6 .8h0m-61.9-1h0m101.3 1.2h0m-80.7-1.1h0m28-1.2h0m37.6 .9h0"/>
<path class=f d="M346 476.4h0"/>
<path class=i d="M283.4 476.9h0m-80.2 .1h0m8.5 .3h0m30.4-.5h0m-25.5-.2h0m-13.4-.1h0m6.1 .3h0m54.6-1h0m-43.7 .6h0m-12.1-.2h0m31.5-.6h0m-2.4-.1h0m-30.3 0h0m14.5-.4h0"/>
<path class=v d="M226.3 477.8h0m-14.6-1.1h0m-7.3 .3h0m25.5-.3h0m-4.8 .2h0m-10.9-1h0m54.6 .7h0m-42.5 .2h0m1.2-.6h0m-12.1-.5h0m46.1 .1h0m1.2 .1h0m-60.7-.1h0m52.2-.2h0m12.2 0h0m-31.6 .5h0m27.9-.3h0m-52.2 0h0m61.9-1.2h0"/>
<path class=g d="M214.2 475.3h0"/>
<path class=i d="M227.5 474.8h0m-25.5 .3h0m3.7 .1h0m2.4 0h0m31.5-.9h0m-37.6 .5h0m40.1 0h0m-21.9-.7h0m65.6 1h0m-71.6-.8h0m35.2 .2h0m-43.7-.2h0"/>
<path class=f d="M225.1 475.3h0m55.8-.8h0"/>
<path class=p d="M200.8 475.5h0m64.3-.8h0m13.4 .4h0m7.3-.3h0m-60.7-.2h0m64.3 .6h0m-65.5-1.1h0m-8.5 .7h0m59.5-1.1h0m12.1 .6h0m-58.3 .4h0m58.3-.1h0m-38.9-.9h0m-4.8 .6h0"/>
<path class=v d="M295.5 475.8h0m-68-1.3h0m3.7 1.1h0m32.7-.9h0m-27.9 .5h0m-14.6-.3h0m40.1 0h0m8.5-1h0m-29.1 .1h0m-14.6 .7h0m-23.1-.6h0m34 .3h0m-7.3-.5h0m-1.2 .2h0m27.9 .4h0m-30.3-.2h0m-24.3 0h0m7.3-.2h0m24.3-.2h0m27.9-.1h0m-60.7 .5h0m13.4-1h0m17 .2h0m-24.3 .1h0m-3.7 0h0m32.8 .6h0m34-.6h0"/>
<path class=g d="M307.2 473.5h0m-37.2-.6h0m-3.6 0h0m-28 .2h0"/>
<path class=p d="M261.5 473.3h0m-44.9 .4h0m24.3-.2h0m-15.8 0h0m31.5 0h0m-10.9 .2h0m-19.4-.1h0m37.6 .3h0m-20.6-1h0m201.2 .6h0m-175.7-.3h0m-58.3-.3h0m35.2-.1h0m3.7-.1h0m29.1 0h0m-44.9-.2h0m58.2 .2h0"/>
<path class=i d="M228.7 473.8h0m-23-.8h0m25.5 .4h0m-2.5-.3h0m47.4-.4h0m-75.3 .6h0m61.9-.2h0m-60.7-.1h0m25.5 .2h0m3.7-.6h0m-28 .3h0m21.9 .4h0m-12.2-.1h0m-10.9-.9h0m27.9 .4h0m-2.4 0h0m-8.5-.1h0m6.1 0h0m-17-.3h0m44.9 .2h0"/>
<path class=f d="M321.5 473.8h0m121.7-.3h0"/>
<path class=i d="M205.7 472.8h0m55.8-.1h0m-24.3-.7h0m7.3-.2h0m-40.1 .2h0m13.4-.5h0m14.6 .2h0m-13.4-.3h0m-15.8 .1h0m14.6-.1h0m-14.6-.2h0"/>
<path class=p d="M225.1 472.2h0m30.3-.1h0m6.1-.5h0m-60.7 .5h0m75.3 .3h0m-58.3-1.3h0m-3.6 .6h0m-8.5-.6h0m31.5 .3h0m-14.5 .1h0m9.7-.4h0"/>
<path class=g d="M322.9 472.3h0m-111.2-.4h0m53.4-.4h0m-63.1-.7h0m4.9 .1h0m25.5 0h0"/>
<path class=v d="M262.7 472.5h0m7.3-.4h0m-44.9-.2h0m-20.7-1h0m20.7 .3h0m1.2 .5h0m1.2 .5h0m2.4-.2h0m-18.2-.5h0m15.8-.3h0m-12.1 .2h0m24.2-.3h0m-10.9-.3h0m32.8 .2h0m-51 .2h0m26.7-.5h0m40.1 .6h0m-52.2-.3h0"/>
<path class=f d="M285.8 470.7h0"/>
<path class=p d="M214.2 470.6h0m31.5 .7h0m-24.3-.6h0m42.5-.1h0m-57-.7h0m25.5 0h0m19.4-.3h0m-15.8 .4h0m-2.4-1.2h0m51-.1h0m-40.1 1h0"/>
<path class=v d="M204.4 470.5h0m14.6-.1h0m-2.4-.3h0m26.7-.5h0m-32.8-.8h0"/>
<path class=g d="M287 470.6h0m-46.1-.5h0m37.6 .6h0m-41.3-.9h0m37.7-.7h0"/>
<path class=i d="M285.8 470.6h0m-55.9 .7h0m-4.8-.7h0m37.6 .8h0m23.1-1.1h0m-85 1h0m19.4-1.3h0m4.9-.2h0m52.2 .1h0m-75.3 0h0m25.5 .3h0m34-.3h0m-55.8 .4h0m9.7-.1h0m53.4 .5h0m-52.2-.8h0m48.5-.5h0m-23 .6h0m-40.1-.4h0m29.2-.4h0m7.2 .3h0m11-.3h0m-48.6 .3h0m60.7 .1h0m-29.1-.3h0m-26.7-.3h0"/>
<path class=p d="M271.2 468.8h0m-69.2-.2h0m159.9-.1h0m-138 .1h0m60.7-.2h0m-80.2-.7h0m21.9 .8h0m66.8-1.5h0"/>
<path class=v d="M239.6 468.6h0m21.9 .4h0m-36.4-.5h0m30.3-.9h0m12.2 .8h0m-31.6-.6h0m-9.7 .5h0m-13.4-.9h0"/>
<path class=i d="M200.8 468.7h0m48.6 .4h0m-41.3-.2h0m0-.3h0m23.1 .2h0m42.4 .1h0m-54.6-.5h0m-17 0h0m42.5 .5h0m-14.6-.7h0m19.5-.4h0m13.3 .9h0m-60.7-.9h0m-1.2-.4h0m2.4 .2h0m4.9 .9h0m19.4-.6h0"/>
<path class=g d="M263.9 469.2h0m-47.3-1h0m12.1-.3h0"/>
<path class=p d="M223.9 467.5h0m-23.1-.2h0m60.7 .8h0m15.8-.7h0m-29.2 0h0m17 0h0m2.5-.4h0m-21.9-.6h0m42.5 .7h0m-52.2 0h0m-8.5 .4h0m3.7-.4h0m36.4-.2h0m-1.2 .1h0m7.2-.9h0m-35.2 0h0m-9.7 .8h0m21.9-.5h0"/>
<path class=i d="M204.4 467.4h0m12.2 .5h0m-8.5 0h0m10.9-.7h0m43.7 .8h0m-61.9-1.1h0m61.9 .6h0m-60.7-.3h0m69.2-.7h0m-70.4-.3h0m70.4-.2h0m-51-.1h0m-19.4-.2h0"/>
<path class=v d="M234.8 467.6h0m27.9-.2h0m-47.3 .1h0m-3.7 .2h0m53.4-.6h0m61.5 0h0m-85.7 0h0m-28-.2h0m20.7 .5h0m32.8-1.1h0m-53.5-.3h0m52.2 .7h0m-21.8 .5h0m-18.2 0h0m-23.1-.3h0"/>
<path class=g d="M203.2 467.4h0m58.3 0h0m-24.3-1.2h0m-12.1 .7h0m-9.7 .1h0m47.3-.3h0m-44.9-.4h0"/>
<path class=i d="M227.5 466.1h0m10.9-.5h0m4.9 .4h0m7.3-1.1h0m-36.4 .7h0m1.2-.2h0"/>
<path class=p d="M257.9 465.5h0m-47.4 .3h0m51 .1h0m3.6 .2h0m-2.4-.1h0m-37.6-.6h0m63.1 .4h0m-48.6-.3h0m-32.7 .5h0m42.5-1.1h0m7.2 .9h0m-20.6-.1h0m25.5-.1h0m0-.2h0m14.6-.2h0m-2.5 0h0m-48.5 .1h0m-8.5 0h0m29.1-.5h0m-25.5-.5h0"/>
<path class=g d="M228.7 466.6h0m32.8-1.5h0m-29.1 .2h0m30.3 .1h0"/>
<path class=v d="M210.5 465.5h0m55.9 .5h0m3.6 .1h0m-68 0h0m1.2 .1h0m9.7-.9h0m-4.8-.3h0m32.8 1.1h0m-9.7-.3h0m31.5-1h0m-60.7 .6h0m26.7 .1h0m-6-.3h0"/>
<path class=f d="M228.7 465h0"/>
<path class=i d="M229.9 464.3h0m-24.2-.1h0m1.2-.3h0m57 .5h0m-52.2 0h0m4.9 .2h0m-8.5-.5h0m12.1-.7h0"/>
<path class=g d="M203.2 463.8h0"/>
<path class=f d="M300 464.9h0"/>
<path class=v d="M270 465.2h0m-35.2-1.3h0m-15.8 .4h0m30.4-.1h0m15.7 .4h0m-37.6-.4h0m-15.8-.5h0m54.7-1h0m4.8 1.4h0m-48.5-1h0m129.2-.8h0"/>
<path class=p d="M261.5 464.5h0m-43.7-.3h0m7.3 .5h0m13.3-.5h0m-2.4 .1h0m-10.9-.1h0m36.4 0h0m-59.5-.3h0m47.4-.3h0m-20.7 .5h0m175.5-.6h0m-190 .9h0m17 0h0m50.9-1.5h0m-48.5 .3h0m-7.3 .2h0m35.2 .4h0m2.4 .4h0m-21.8-.6h0m-17 .2h0m36.4-.2h0m-58.3-.3h0m58.3 .3h0m65-.4h0m-58.9-.9h0m-28 .8h0m29.2-.6h0m-54.6 .9h0m59.4-.8h0m-25.5-.4h0m-27.9 .6h0m142.9-1.3h0m-128.3 .7h0"/>
<path class=v d="M262.7 462.8h0m-29.1 .2h0m31.5-.2h0m-1.2 .1h0m-23 .7h0m20.6-.9h0m-38.8-.8h0m26.7 .4h0m12.1 .4h0m-17-.6h0m8.5-.8h0m-37.6 .6h0m71.6-.2h0m-38.9 0h0"/>
<path class=f d="M291.8 462h0"/>
<path class=i d="M210.5 463.4h0m54.6-.7h0m15.8-.1h0m-42.5-.1h0m15.8 1h0m-27.9-.3h0m0-.6h0m1.2-.1h0m40.1-.3h0m-43.7 .4h0m-23.1 .3h0m31.6-.8h0m-6.1 0h0m-14.6 .8h0m52.2-1h0m-27.9-.3h0m-31.6 1.1h0m12.2-1.6h0m10.9 1.2h0m-25.5-.7h0"/>
<path class=g d="M208.1 463.8h0m77.7-1.2h0m-8.5-.7h0m-63.1-.1h0m48.5 0h0m-23.1 .4h0"/>
<path class=p d="M245.7 461h0m136.8 .5h0m-117.4-.2h0m7.3-.3h0m18.2 .1h0m-65.5 0h0m41.3-.3h0m-38.9-.1h0m40.1-.6h0"/>
<path class=g d="M262.7 461.6h0m-19.4 .3h0m-21.9-.7h0m9.8-.1h0m14.5-.2h0m-29.1-.7h0"/>
<path class=v d="M287 460.7h0m-43.7 .8h0m-4.9-1.4h0m47.4 0h0m1.2-.3h0"/>
<path class=f d="M265.1 460.6h0m-3.6 .4h0"/>
<path class=i d="M249.4 461.2h0m-14.6-.4h0m-8.5 .5h0m17 .1h0m-42.5 .7h0m7.3-.4h0m12.1-.6h0m51-.1h0m-66.8-.4h0m21.9 .6h0m-23.1-.3h0m8.5-.4h0m49.8 .4h0m1.2-.1h0m-37.6-.6h0m-24.3-.2h0m69.2 .4h0m-34-.2h0m-3.6 .1h0m-23.1-.1h0"/>
<path class=f d="M309.5 458.2h0m-20.1-.2h0"/>
<path class=i d="M214.2 460.2h0m65.5-.9h0m-65.5 .1h0m-4.9 .5h0m81.3 .1h0m-72.8-.5h0m-15.8-.2h0m38.9-.9h0m-30.4 .8h0m38.9-.3h0m-30.4-.8h0"/>
<path class=v d="M274.9 459.5h0m-66.8-.1h0m57 .6h0m-60.7-.3h0m25.5-.6h0m-21.8-.6h0m26.7-.1h0m-1.2 .3h0"/>
<path class=g d="M268.8 459h0m-43.7 .5h0m-8.5-.1h0m12.1 .4h0m41.3-1h0m-34-.7h0"/>
<path class=p d="M239.6 459.7h0m21.9 .5h0m1.2-.3h0m1.2-1h0m-61.9-.1h0m60.7 0h0m-13.3-.4h0m-35.2 .8h0m72.8-.2h0m-61.9 0h0m48.5-.1h0m-47.3 .1h0m-1.2-.5h0m-3.7-.4h0m-9.7-.3h0m19.5 .7h0m-9.8-.9h0m-7.2 .1h0m47.3 .3h0m-10.9 0h0m15.8-.2h0m-53.5-.2h0m8.5-.7h0m64.4 0h0m38.6-.2h0"/>
<path class=i d="M242.1 457.7h0m-13.4-.1h0m46.2 .3h0m-58.3 .3h0m-14.6 0h0m3.7-.7h0m3.6-.9h0m-6.1 1.3h0m12.2-.7h0m-4.9-.1h0m-8.5 .5h0m-1.2-.1h0m3.6-.7h0m9.8 0h0m7.2-.3h0m19.5-.2h0m-31.6 .1h0m-3.6 .2h0m9.7 0h0"/>
<path class=g d="M211.7 457.2h0m24.3-.1h0m31.6-.1h0"/>
<path class=v d="M261.5 457.8h0m-36.4 .4h0m60.7 .7h0m-20.7-1h0m-37.6 .3h0m36.4-.8h0m-31.5 1h0m32.7-2h0m-63.1-.2h0m52.2 .9h0m-53.4-.3h0m70.4-.4h0m-40-.1h0m46.1 1h0m-44.9-.2h0m31.5-.1h0m-21.8-.4h0m-24.3-.6h0m44.9 .7h0m-37.6-.3h0m17-.3h0m-35.2-.6h0m57 .1h0m6.1-.3h0m-27.9 .5h0m25.5-.6h0m-18.2-.1h0m-20.7 .3h0m40.1-.5h0m-51 .1h0m48.6 0h0m-62 .3h0"/>
<path class=i d="M209.3 456.2h0m7.3-.1h0m46.1-.1h0m-27.9 0h0m-34-.8h0m10.9 .2h0m2.5 .1h0m-6.1-.2h0m-7.3-1h0"/>
<path class=f d="M321.5 454.6h0"/>
<path class=g d="M261.5 456.7h0m-36.4-1.4h0m10.9-.3h0m35.2 0h0m9.7-.6h0"/>
<path class=p d="M202 456.1h0m89.8 0h0m-54.6 .2h0m24.3-.2h0m-30.3-.1h0m-4.9 .2h0m36.4-.8h0m-34-.4h0m17 .1h0m-2.4-.2h0m29.1 .2h0m13.4-.8h0m-35.2 .1h0m1.2-.2h0"/>
<path class=f d="M382.5 454.4h0m28.9-1.8h0"/>
<path class=p d="M272.4 454.2h0m-55.8 .1h0m71.6-.3h0m-31.6-.3h0m-25.4 .5h0m31.5 .3h0m-6.1-.5h0m-37.6-.2h0m-14.6 .6h0m23.1-.4h0m59.5 0h0m-81.3-.7h0m38.8 .3h0m48.6-.1h0m-55.9-.5h0"/>
<path class=i d="M202 454.6h0m74.1-.2h0m65.3 .2h0m-117.5 0h0m37.6-.5h0m-43.7 .3h0m-2.4-.8h0m35.2 .6h0m-25.5-.4h0m7.3 1.1h0m1.2-.6h0m-31.6 0h0m30.4-1h0m-14.6 .9h0m13.4-1.2h0m-15.8 .4h0m65.5-.9h0m-69.2 .4h0m-7.3-.2h0m57.1 .3h0m-57.1-.8h0"/>
<path class=v d="M267.6 454.3h0m-3.7 .5h0m8.5-1h0m-70.4 0h0m60.7 .2h0m-19.4-.2h0m-15.8-.3h0m35.2-.2h0m-61.9 .2h0m29.1 .1h0m4.9-.5h0m-13.4 .1h0"/>
<path class=i d="M225.1 452.1h0m-19.4-.5h0m-3.7 1.4h0m65.6-.7h0m-58.3-.3h0m-7.3 .6h0m0-1.1h0m61.9 1.1h0m38.5-1.1h0m-90.7-.5h0m-1.2 .4h0m-1.2 .4h0m0-1.1h0"/>
<path class=g d="M287 452.2h0m36.2 .7h0m-53.2-.7h0m15.8-1.7h0m4.8-.1h0"/>
<path class=p d="M229.9 451.8h0m31.6 .8h0m-24.3 0h0m26.7-.5h0m2.5-.1h0m-42.5-1.2h0m26.7 .4h0m23-.8h0m-59.4 .5h0m46.1 .4h0m-23.1-.2h0m59.5-.6h0"/>
<path class=v d="M228.7 452.4h0m-10.9 .4h0m8.5 0h0m14.6-.9h0m29.1-.3h0m-41.3 .1h0m38.9-.2h0m-34 .4h0m27.9 .3h0m-55.8-.7h0m59.4 .5h0m-47.3-.1h0m21.8-.2h0m26.8-1h0m-20.7 .1h0m15.8 .5h0m-13.4 .3h0m23.1-1.3h0m51.1-.5h0m-121.5 .5h0m52.2-1.5h0"/>
<path class=f d="M294.3 449.6h0"/>
<path class=g d="M261.5 450.5h0"/>
<path class=i d="M272.4 450.7h0m-38.8-.2h0m-29.2-.3h0m21.9 .1h0m-7.3 .3h0m-18.2-.9h0m40.1 .7h0m-40.1-1.2h0m36.4 1.4h0m-9.7-.3h0m-21.8-.9h0m9.7-.1h0m-4.9-.1h0m-7.3 .5h0m6.1-.9h0"/>
<path class=p d="M228.7 450.6h0m7.3 .4h0m41.3-.6h0m7.3 .4h0m-20.7-.2h0m-61.9 .1h0m60.7 .1h0m-1.2-.8h0m-18.2 0h0m-14.6 0h0m1.2 .3h0m8.5-.4h0m-24.2 0h0m50.9 .3h0m-57-.7h0m77.7 .4h0m-23.1-.6h0m-26.7-.1h0m52.2 .4h0m-61.9-.5h0m-4.9 0h0m40.1 0h0m-41.3-.7h0m-6 1.2h0m9.7-.3h0m2.4-.4h0"/>
<path class=g d="M266.4 450.1h0m20.6-2h0m-18.2 .7h0m7.3-.4h0m9.7 0h0"/>
<path class=v d="M263.9 449.5h0m-25.5-.8h0m25.5 0h0m-43.7-.4h0m47.4-.7h0"/>
<path class=i d="M255.4 449h0m7.3-.5h0m23.1-.4h0m-20.7 .1h0m-18.2-.5h0m-37.6 .8h0m63.1-.7h0m-55.8 .4h0m47.3-.6h0m-43.7 0h0m-10.9-.6h0m9.7 .7h0m17 .3h0"/>
<path class=f d="M200.8 448.6h0"/>
<path class=p d="M274.9 449.1h0m-49.8 .3h0m37.6-1h0m-13.3 .4h0m-15.8-.2h0m-30.4 .3h0m58.3-.5h0m-29.1 0h0m-4.9 .1h0m-25.5-.6h0m23.1 .6h0m-21.9-.6h0m35.2-.1h0m23.1 0h0m-2.4-.3h0m-34 .4h0m37.6-.3h0m0-.3h0m-36.4 0h0m-9.7 .3h0m10.9 .1h0m58.3-.5h0m-57.1-.4h0m58.3-.1h0m-6.1 .3h0m-19.4-.3h0m18.2-1.1h0m-26.7-.3h0m57.8 .2h0m31.3-.7h0"/>
<path class=v d="M273.6 447.4h0m-48.5-1h0m60.7 .6h0m-59.5 0h0m7.3 .2h0m-32.8 .3h0m38.8-1.3h0m-8.4-.1h0m-6.1-.3h0m31.5-1.3h0m-36.4 .2h0m31.6 .3h0m34 .5h0"/>
<path class=i d="M204.4 447.6h0m42.5-.7h0m-9.7 .4h0m-34-.6h0m32.8-.3h0m32.8 .6h0m-60.7-.3h0m14.6-.5h0m-6.1 .3h0m46.1 0h0m78.2-.8h0m-64.8 .3h0m-3.7-.1h0m-2.4 .1h0m-68-.8h0m25.5 .5h0m-26.7-.4h0m60.7 .6h0m-57.1-.8h0m58.3 .6h0m-60.7-.7h0m1.2-.4h0"/>
<path class=g d="M265.1 446.7h0m-35.2 .1h0m46.2 .1h0m-13.4-1.7h0m93-.9h0m-79.6-.2h0"/>
<path class=v d="M233.6 444.5h0m7.3 .1h0m29.1 0h0m-49.8-.2h0m61.9-.6h0m-59.4-.5h0m52.2 0h0"/>
<path class=i d="M265.1 444.7h0m-47.3-.2h0m17 .3h0m-34 .3h0m6.1 .1h0m61.9-.7h0m-4.9-.1h0m-54.6 .1h0m143.1-.2h0m-134.6 0h0m68 .5h0m-53.4-1h0m-26.7 .1h0m48.5 .3h0m-25.5 .8h0m7.3-1.3h0m-17-.1h0m-4.8 0h0m37.6-.4h0m-40.1 1h0"/>
<path class=f d="M267.6 445.1h0m4.8-.5h0"/>
<path class=p d="M261.5 445.6h0m-23.1-.4h0m-13.3 .2h0m64.3-.1h0m-64.3-.4h0m23-.4h0m-21.8-.3h0m0-.2h0m17 .4h0m20.6-.3h0m-61.9-.1h0m64.4 .5h0m7.2-.8h0m-46.1 .3h0m35.2-.4h0m-42.5-.6h0m-10.9 .4h0m-6.1 .1h0"/>
<path class=i d="M210.5 443.5h0m15.8-.3h0m-1.2-.4h0m-7.3 .1h0m-8.5-.2h0m59.5-.2h0"/>
<path class=f d="M324.4 444.3h0"/>
<path class=p d="M208.1 443.3h0m53.4 .4h0m6.1-.1h0m-40.1 0h0m8.5-.3h0m30.4-.6h0m-29.2 0h0m-7.3 .5h0m-10.9-.5h0m71.6 .6h0m-64.3-.6h0m-12.1-.5h0m65.5 .2h0m-59.5-.2h0m25.5-.7h0m3.7 .5h0m-35.2-.7h0"/>
<path class=v d="M261.5 442.2h0m-30.3 1.3h0m12.1-.1h0m-9.7-1.1h0m-8.5 .2h0m13.3 .4h0m-37.6 .4h0m37.6-1.6h0m34 .8h0m-69.2 .1h0m64.4-.7h0m14.5 .8h0m-80.1-1.3h0m7.3 .5h0m66.8 0h0"/>
<path class=g d="M229.9 442.8h0m55.9 .1h0m-23.1 .7h0m-31.5-1.2h0m6-.5h0m-10.9-.2h0m-25.5-.4h0"/>
<path class=f d="M270 441.4h0"/>
<path class=v d="M266.4 441h0m-36.5 .4h0m37.7-.5h0m-65.6 .3h0m36.4-.2h0m2.5-.5h0m53.4-.4h0m-7.3-.4h0"/>
<path class=i d="M263.9 441.5h0m-32.7 0h0m30.3 0h0m-37.6-.5h0m3.6 0h0m42.5 0h0m-7.3 .1h0m-60.7 0h0m59.5 .1h0m3.6-.3h0m-48.5 0h0m-3.7-.2h0m34-.7h0m-46.1 0h0"/>
<path class=p d="M243.3 441.7h0m-9.7 .1h0m9.7-.5h0m29.1 0h0m-52.2 .6h0m49.8-1.3h0m-61.9 .9h0m55.8-.6h0m-54.6 0h0m54.6-.1h0m-2.4 .3h0m6.1-1h0m-4.9-.2h0m-34 .7h0m-6-1h0m-8.5 1h0m-8.5-.3h0m47.3-.5h0m14.6 0h0m-20.7-.2h0"/>
<path class=g d="M321.5 441.7h0m-96.4-.5h0m-8.5-.6h0m9.7 .5h0m47.3-.8h0"/>
<path class=p d="M261.5 440.4h0m-58.3-.2h0m72.9-.8h0m9.7 0h0m-59.5-.4h0m-1.2-.7h0m47.3 .6h0m-6 .3h0m-1.3-.1h0m11-1.2h0m-25.5 .5h0"/>
<path class=g d="M261.5 439.8h0m-48.6-1.2h0m25.5 .3h0m23.1 .5h0"/>
<path class=i d="M215.4 439.5h0m-9.7 .1h0m25.5-.4h0m-13.4-.9h0m65.6 0h0m-18.3 .7h0m-35.2-.3h0m9.7-.1h0m-27.9-.5h0m37.7 .1h0m-31.6-.1h0m105.6 0h0m-100.7 .5h0m-18.3 .4h0"/>
<path class=v d="M202 440h0m0-1h0m26.7-.4h0m34 .9h0m-61.9-.1h0m8.5-.9h0m61.9 .3h0m-8.5 .1h0m-24.3-.2h0m-3.6 .3h0m-10.9-.2h0m-2.5-.7h0m7.3 .2h0m14.6 .1h0m18.2 .2h0m24.3-.3h0m-44.9-.3h0m34-.1h0m-72.9 .4h0m46.1-.1h0m-44.9 .1h0m-1.2-.4h0m-1.2-.8h0m21.9 .4h0m69.1-.5h0m-91-.2h0m38.8-.4h0m47.4-.4h0"/>
<path class=p d="M244.5 437.5h0m-34-.3h0m-6.1 .6h0m58.3 .2h0m-35.2-.4h0m-18.2 .1h0m15.8-.1h0m12.1 .2h0m24.3 .5h0m0-.4h0m-47.3-.4h0m15.7-.3h0m24.3-.5h0m-1.2-.4h0"/>
<path class=i d="M231.2 438h0m-12.2-.2h0m13.4 .4h0m-6.1-.8h0m36.4 .6h0m-46.1-.4h0m46.1-.7h0m-13.3 .3h0m-23.1-.1h0m19.4 .6h0m-41.3-.6h0m117.8 .4h0m-121.4-1h0m122.6 .3h0m-95.9-.3h0m14.6 .2h0m-6.1 .2h0m-19.4-1.1h0m10.9 .5h0m-24.3-.6h0"/>
<path class=g d="M265.1 437.2h0m-23-.5h0m35.2-.6h0m-40.1-.5h0"/>
<path class=i d="M233.6 436h0m-32.8-.5h0m25.5 .1h0m-7.3 .7h0m-9.7-.6h0m-7.3 .1h0m15.8-.4h0m7.3-.2h0m38.8 .5h0m-63.1-.6h0m2.4-.2h0m68-.7h0m-58.3 .9h0m110.5 .2h0m-66.8-.4h0m18.3-.7h0m-74.1-.3h0"/>
<path class=g d="M288.2 435.6h0m-25.5 .1h0m4.9 .1h0m78.9 .8h0"/>
<path class=f d="M265.1 435.2h0"/>
<path class=v d="M209.3 435.6h0m21.9-.5h0m19.4 1h0m-31.6-.9h0m-7.3-.7h0m-9.7 .4h0m125.1 .5h0m-112.9-.5h0m13.3 .4h0"/>
<path class=p d="M288.2 436.9h0m-37.6-1.5h0m77.7 .4h0m-85-.3h0m23.1-.2h0m-31.6-.6h0m12.1 .6h0m-6-.8h0m24.2 .5h0m-35.2 .5h0m1.3-1.5h0m-14.6 .2h0m29.1 .4h0m15.8 .8h0m13.4-1.6h0m-54.7 1h0m4.9 .3h0m38.8-.8h0m-1.2 .3h0m37.6-.6h0"/>
<path class=f d="M323.4 433.5h0m-35.2-1.2h0"/>
<path class=g d="M239.6 433.8h0"/>
<path class=v d="M263.9 433.5h0m-60.7 .6h0m15.8-.2h0m24.3-.7h0m-25.5 .7h0m58.3-.8h0m4.8-.5h0m41.3-.8h0m-64.3 .3h0"/>
<path class=p d="M261.5 433.9h0m-36.4 .2h0m15.8-.3h0m74-.6h0m20.7 .2h0m-68 .4h0m-6.1 .1h0m-20.6-.4h0m7.2 .4h0m-47.3-.1h0m132.3-1.2h0m-61.9 .5h0m-66.8-.2h0m-1.2-.2h0m24.3 .4h0m10.9 .2h0m25.5-.2h0m-61.9 0h0m43.7-.6h0"/>
<path class=i d="M214.2 434.2h0m80.1-.1h0m-87.4-.7h0m54.6 .2h0m4.9 .2h0m-45 .3h0m40.1-.6h0m0-.6h0m29.1 .1h0m-66.7-.1h0m44.9 .3h0m-26.7-.4h0m-41.3-.2h0m1.2-.4h0m25.5 .6h0m37.6-.4h0m1.3 0h0m-65.6 0h0m98.3-.2h0m-89.8 .2h0m63.1-.2h0m-9.7 .3h0"/>
<path class=p d="M262.7 432.4h0m-20.6-.2h0m-3.7-.6h0m6.1-.6h0m78.9 0h0m-108-.2h0m74-.3h0"/>
<path class=g d="M273.6 432.7h0m51-1.5h0"/>
<path class=f d="M328.3 431.2h0m-6.1-.2h0"/>
<path class=i d="M226.3 432.1h0m-25.5-.4h0m87.4 0h0m38.9-.2h0m-95.9 .5h0m-13.4-.1h0m-17-.3h0m18.2-.4h0m3.7 .4h0m-15.8 0h0m21.8-.8h0m75.3 .6h0m19.4-.7h0m-89.8 .2h0m32.8 .6h0m-38.9-.7h0m-10.9-.7h0m52.2 .5h0m8.5-.4h0m-75.3 .7h0m63.1-.3h0m-55.8-.4h0"/>
<path class=v d="M261.5 432.4h0m-36.4-.3h0m60.7-.3h0m-13.4-.2h0m-8.5 .3h0m8.5-1h0m-69.2 .5h0m60.7-.3h0m-38.8-.5h0m-4.9-.1h0m-8.5-.2h0m66.8 .3h0m-34 .2h0m26.7-.6h0m-6.1 .1h0m15.8-.7h0m-42.5 .4h0m0-.6h0m91.1 .1h0"/>
<path class=g d="M287 430.5h0m-34-.6h0m-27.9-.7h0m-4.9-1h0m26.7 .5h0"/>
<path class=p d="M236 430.4h0m52.2 .2h0m-23.1-.8h0m-53.4 0h0m19.5-.1h0m92.2 .3h0m-37.6-1.4h0m43.7 .2h0"/>
<path class=i d="M226.3 429.7h0m37.6 .9h0m9.7 0h0m-64.3-.5h0m1.2 .3h0m-6.1-.4h0m-3.6-.5h0m63.1 .7h0m-2.4-.2h0m7.3-.5h0m-23.1 .5h0m15.8-.8h0m-58.3 .5h0m28-1.2h0m-25.5 .7h0m-3.7 .2h0m7.3-.5h0m53.4 .8h0m1.2-1.2h0m-63.1-.1h0m31.6-.3h0m37.6 .4h0m55.8-.3h0m-123.8 .5h0m32.8-.5h0"/>
<path class=f d="M325.8 430.2h0m-2.4-1h0m12.2 0h0"/>
<path class=v d="M237.2 428.4h0m52.2-.7h0m-27.9 .5h0m-15.8 .2h0m158.5-1h0m-148.8 0h0m-19.4-.5h0"/>
<path class=g d="M266.4 428.2h0"/>
<path class=i d="M263.9 428.3h0m-61.9 0h0m6.1 .1h0m57 .2h0m-23-.3h0m-34-.6h0m8.5 .3h0m70.4 .1h0m-17-.3h0m-43.7 0h0m-12.1-.7h0m109.2 .7h0m-31.6-1.2h0m-72.8 .2h0m25.5 .4h0m54.6-.2h0m-10.9-.6h0m-74 .4h0m3.6 .2h0m-3.6-.6h0m-2.5 .4h0m38.9-.5h0"/>
<path class=p d="M263.9 427.9h0m-36.4-.5h0m58.3 .8h0m-85-.2h0m60.7 0h0m13.4-.3h0m-41.3 .1h0m29.1 0h0m-59.5-.2h0m3.7 .2h0m84.9 .1h0m-57-1h0m-4.9 1.2h0m68-1.1h0m-12.1-.1h0m-53.4 .9h0m98.3-.4h0m-63.1 .2h0m-49.8-1.3h0m105.6 .6h0m-69.2-.3h0m-35.2 0h0"/>
<path class=v d="M270 427h0m30.3-1h0m-27.9-.7h0m-1.2 0h0m89.8-.4h0m-156.6 .5h0"/>
<path class=i d="M222.7 426.6h0m-2.5-.4h0m6.1 .1h0m-1.2 .4h0m-4.9-.7h0m65.6-.5h0m-29.2 .6h0m-47.3-.9h0m-6.1 .2h0m8.5 .6h0m18.2 0h0m43.7-.8h0m-50.9 .3h0m-8.5 .7h0m60.7-.1h0m-60.7-1.1h0"/>
<path class=p d="M290.6 426.2h0m-65.5-.3h0m41.3 .2h0m-3.7 .9h0m76.5-.8h0m-100.8-.3h0m-12.1 .2h0m82.5 .3h0m-41.2-.4h0m58.2-.2h0m-89.8 .9h0m30.4-1.4h0m-36.5 .1h0m-29.1 .2h0m30.4 .4h0m47.3-.3h0m7.3-.4h0m-36.4-.9h0m23 .2h0m-20.6 .5h0"/>
<path class=g d="M282.1 426.3h0m-20.6 .2h0m1.2-.1h0m-1.2-1.2h0m15.8 .2h0m-58.3 .8h0m-4.8-1.9h0m-12.2 .9h0m29.2-.4h0"/>
<path class=p d="M223.9 424.4h0m49.7 .4h0m86.2-.3h0m-91-.2h0m-26.7 .5h0m42.5-.3h0m-68 0h0m51-.7h0m4.8 .1h0m-18.2 .2h0m14.6-.2h0m41.3-.1h0m-66.8 .4h0m-8.5-.6h0m36.4-.3h0m-48.5 .4h0"/>
<path class=v d="M287 425h0m-27.9-1h0m-32.8 0h0m25.5 .3h0m13.3-.5h0m-48.5 0h0m122.6-.3h0m-70.4 .1h0m-37.6 .2h0m-14.6-.1h0m53.4-.4h0m-43.7 .7h0m108-.8h0"/>
<path class=f d="M285.8 424.5h0m170.7-.9h0"/>
<path class=i d="M261.5 424.6h0m-57.1-.2h0m57.1-.3h0m27.9 1h0m-83.7-.4h0m23-.1h0m35.2-.1h0m-58.2-.4h0m36.4-.1h0m-1.2-.6h0m21.8 1h0m-54.6-.7h0m115.3-.6h0m-95.9 0h0m44.9 .1h0m-47.3 .4h0m-8.5-.3h0m58.3 1h0m-52.2-1.3h0m-8.5 .2h0"/>
<path class=g d="M285.8 423.2h0m-10.9 2.1h0m-12.2-.9h0m-60.7-.5h0m65.6-1h0"/>
<path class=f d="M285.8 421.3h0"/>
<path class=g d="M329.5 423.3h0m0-.3h0m-64.4-.2h0"/>
<path class=i d="M228.7 422.9h0m41.3-.7h0m-65.6 .7h0m18.3 0h0m-9.8-.5h0m116.6-.1h0m-121.4-.1h0m-1.2-.5h0m-3.7 .4h0m20.7 .3h0m-8.5-1.7h0m6-.1h0"/>
<path class=v d="M280.9 422.8h0m-17 .7h0m-37.6-.7h0m104.4-.9h0m-78.9 .5h0m-20.6-.4h0m8.4 .8h0m-21.8-.7h0m-12.1-.1h0m4.8 .4h0m77.7-.4h0m-77.7-.1h0m35.2-.3h0m-44.9-1h0"/>
<path class=p d="M287 422.9h0m-24.3 .3h0m-1.2-.2h0m-36.4-.6h0m10.9 .7h0m87.4-.1h0m-94.7-.3h0m36.4-.4h0m4.9-.2h0m-1.2 .7h0m-2.4-.9h0m8.5 .3h0m-13.4-.4h0m26.7 0h0m-86.2-.2h0m121.4-.1h0m1.2-.4h0m-99.5 .8h0m36.4-.5h0"/>
<path class=g d="M237.2 420.8h0m23.1-1.4h0m61.9 .4h0"/>
<path class=p d="M262.7 421.6h0m1.2-.2h0m9.7 0h0m-34-.2h0m204.6-.8h0m-182.7 .4h0m4.9 .1h0m20.6-.4h0m-81.3-.3h0m35.2-.1h0m111.7 .2h0m-86.2-.3h0m-4.9 .4h0m-20.6-.5h0m54.6 .1h0m37.6-.8h0m-89.8 .5h0"/>
<path class=f d="M324.6 420.8h0m-63.1-.8h0"/>
<path class=v d="M225.1 421.1h0m-13.4-.8h0m15.8 .7h0m94.7-1.3h0m1.2 1.2h0m31.6-1.5h0m-104.4 .3h0m35.2 .5h0m-71.6-.5h0"/>
<path class=i d="M225.1 420.8h0m46.1-.7h0m-2.4 1.1h0m-34-.1h0m29.1-1h0m-61.9-.1h0m32.8 .1h0m-15.8 .3h0m44.9-.4h0m-59.5-.6h0m58.3 1.1h0m-47.3-1h0m47.3 .3h0m-31.5-.7h0m-7.3 .6h0m-11-.5h0m114.2-.1h0m-95.9-.3h0m38.8 1.7h0m-7.3-1h0m0-.2h0m-52.2-.5h0m66.8 .9h0"/>
<path class=g d="M287 418.9h0m42.5-.4h0m-59.5 .3h0m-7.3 .2h0m-47.3-.5h0m106.8-.3h0"/>
<path class=i d="M266.4 419.2h0m-46.2-.6h0m102 .4h0m-121.4 0h0m60.7-.2h0m61.9-.4h0m-105.6-.6h0m7.3 .9h0m-18.2-.7h0m6 .4h0m-1.2-.4h0m80.1 0h0m-36.4-.6h0"/>
<path class=p d="M271.2 419.6h0m-37.6-1.2h0m2.4 .5h0m26.7-.1h0m2.4-.4h0m-3.6 .3h0m1.2-.5h0m-1.2-.5h0m-44.9 .3h0m74 .5h0m-82.5-.8h0m53.4-.2h0m3.6 0h0"/>
<path class=v d="M287 418.6h0m-78.9 .7h0m31.5-.7h0m-14.5-.3h0m3.6-.4h0m43.7 .8h0m19.4-.3h0m17-.6h0m-31.5 0h0m-7.3 .2h0m-7.3 0h0m23.1 0h0m-21.9 0h0m-44.9-.9h0m51-.2h0"/>
<path class=i d="M323.4 417.4h0m-121.4-.2h0m17-.6h0m8.5-.1h0m34 .2h0m10.9-.2h0m-7.3 .3h0m-49.7-.6h0m-14.6-.2h0m1.2 .7h0m19.4-.4h0m23.1-.7h0m-1.2 .3h0m-19.4-.5h0m54.6 .4h0m-65.6-.5h0"/>
<path class=p d="M284.6 417h0m-59.5-.1h0m7.3 0h0m31.5-.6h0m3.7 .8h0m19.4-.3h0m-10.9-1.4h0m-6.1 1.2h0m-60.7-.3h0m17 .5h0m42.5-.4h0m-64.4-1.3h0m62 .5h0"/>
<path class=g d="M289.4 416.1h0m-55.8 .6h0m27.9-.4h0m-47.3-.6h0m108-.2h0"/>
<path class=f d="M324.6 416.1h0m-59.5-.9h0"/>
<path class=v d="M231.2 417.1h0m95.9-.3h0m-89.9 .3h0m-1.2-.4h0m26.7-.5h0m-36.4 .1h0m-25.5 .7h0m1.2-.4h0m121.4-1.5h0m-80.1 .7h0m18.2-.2h0m21.9-.2h0m-81.4-.3h0m30.4 .5h0m97.1-.4h0m-66.8 .4h0m-49.8-.7h0m49.8-.1h0m23.1 .4h0m1.2-.3h0m-72.8-.4h0m109.2-1h0m-70.4 .4h0m-51-.6h0m4.9 .6h0m-3.7-.2h0m25.5 0h0m49.8-.1h0m-76.5-.6h0"/>
<path class=f d="M288.2 413.8h0"/>
<path class=p d="M274.9 415h0m-11-.2h0m21.9-.5h0m60.7 0h0m-132.3-.1h0m3.6 .3h0m7.3 .2h0m30.3-.4h0m6.1 .2h0m-23.1-.2h0m-1.2 .4h0m-24.3-.9h0m52.2 .4h0m-40 .3h0m93.5-1.2h0m7.2 .6h0m-55.8-.4h0m-12.1-.1h0m-21.9-1.1h0"/>
<path class=i d="M210.5 414.3h0m55.9-.2h0m-38.9 .5h0m34-.4h0m-14.6-.1h0m38.9-.1h0m-46.2-.1h0m85 .2h0m-99.5 0h0m36.4-.5h0m1.2 1h0m13.4-1.2h0m-6.1-.2h0m-51 .6h0m23.1-.3h0m-40.1-.6h0m23.1 .3h0m-24.3-.2h0m15.8 .3h0m-12.2-1h0m20.7 .3h0m54.6 .7h0"/>
<path class=g d="M339.2 414.1h0m-112.9-1.3h0m59.5 .5h0m-71.6-1.4h0m24.2 .2h0"/>
<path class=i d="M222.7 412.6h0m-21.9 .1h0m31.6-.8h0m89.8 .9h0m-109.3-1.2h0m-7.2 .1h0m69.2 .5h0m-68-.9h0m14.5-.4h0m-6 .9h0m71.6-.2h0m-69.2 .1h0m10.9 .1h0m53.4-1.1h0m-70.4-.3h0"/>
<path class=v d="M278.5 412.8h0m44.9-.3h0m-65.5-.1h0m-32.8-.5h0m9.7-.6h0m26.7 0h0m12.1-.2h0"/>
<path class=f d="M266.4 412.9h0m19.4-1.5h0m6-.2h0"/>
<path class=p d="M270 412.8h0m-31.6-.9h0m28 .3h0m-63.2-.3h0m28-.5h0m9.7-.1h0m93.4 .1h0m-93.4-.7h0m83.7 .8h0m-63.1-1.2h0m-25.5 .6h0m-7.3 .5h0m61.9-.5h0m-14.5-.5h0"/>
<path class=g d="M262.7 413h0m6.1-.6h0m59.5 .3h0m-91.1-1.1h0m27.9 .6h0m-17-.2h0m-4.8 .1h0m20.6-1.6h0m-36.4-.1h0"/>
<path class=p d="M262.7 410.2h0m3.7 .6h0m-25.5-.3h0m0-.4h0m8.5 0h0m-23.1 .7h0m0-.5h0m4.9-.1h0m32.7-.1h0m-26.7-1h0m53.4 .9h0m68-1.1h0m-138.4 .5h0m-14.5-1h0"/>
<path class=v d="M330.7 410.4h0m-95.9-.5h0m59.5 .4h0m31.5 .2h0m-40-.4h0m-20.7-.2h0m-18.2 .3h0m109.3-.5h0m-81.3 .2h0m-47.4-.7h0m104.4-.3h0m-110.5-.1h0m24.3-.3h0m-25.5 .6h0"/>
<path class=g d="M225.1 410.5h0m97.1-.8h0m-41.3 .5h0"/>
<path class=f d="M262.7 409.9h0"/>
<path class=i d="M217.8 410.7h0m49.8 .2h0m-52.2-1h0m55.8 .7h0m57.1-.7h0m-41.3 .2h0m-25.5-.2h0m-29.1 0h0m29.1-.2h0m-18.2 .3h0m-17-.7h0m43.7 .2h0m-40.1-.8h0m61.9 1.6h0m-30.3-.7h0m-59.5-.4h0m60.7 0h0m2.4 0h0m-53.4 .3h0m112.9 .1h0m-38.8-.1h0m34-.8h0m-80.2 .1h0m24.3-.1h0m-53.4 0h0m4.9-.6h0"/>
<path class=v d="M330.7 408.8h0m-125-.6h0m57 .5h0m59.5-.6h0m-72.8 0h0m-3.7-.7h0m20.7 .6h0m55.8-.8h0m-121.4-.1h0"/>
<path class=g d="M270 408.7h0"/>
<path class=i d="M282.1 408.5h0m-72.8 .6h0m51 .1h0m88.6-1.2h0m-81.3-.1h0m1.2 .4h0m-27.9-1.4h0m-2.5 1.3h0m-18.2-.2h0m11 .5h0m-24.3-.8h0m19.4-.7h0m65.5 1h0m-76.4-.6h0m-11-.4h0m6.1 .4h0m48.6 0h0m-58.3-1h0"/>
<path class=p d="M272.4 408.7h0m-69.2-.6h0m83.8 .1h0m-25.5 .6h0m-42.5-.5h0m29.1-.4h0m15.8-.3h0m-18.2 .3h0m74.1-.2h0m-57.1-.3h0m-37.6 .5h0m7.3-1.1h0m34 .6h0m3.6 .4h0m-32.8-.4h0m29.2-.9h0m-4.9 .4h0m3.6 .3h0m8.5-.2h0m37.7 .2h0m15.8 .2h0m-47.4-.7h0m135.5-.2h0m33.9-1h0m-162.1 .8h0m-21.9 0h0m6.1-.1h0m-37.6 .3h0m30.3 0h0"/>
<path class=i d="M263.9 406.1h0m36.4-.1h0m-13.3-.6h0m35.2 .7h0m-106.8-.3h0m0-.5h0m12.1 .2h0m-26.7-.7h0m76.5 .7h0m-68-.2h0m2.4-.8h0m74.1-.4h0m12.1 .4h0m24.3 .3h0m-97.1-.4h0m114.1 .3h0m-53.4-1.4h0m-52.2 .2h0"/>
<path class=v d="M398.3 406.3h0m-125.9 .1h0m-65.5-1.1h0m83.7 1.3h0m-1.2-1h0m21.9-.3h0m-108.1-.4h0m95.9-.5h0m-6-.5h0m-69.2-.1h0m-8.5-.2h0"/>
<path class=g d="M382.9 405.4h0m-60.7-1.5h0"/>
<path class=p d="M271.2 405.9h0m-9.7 .3h0m2.4-.5h0m4.9 0h0m-18.2 .3h0m13.3-.8h0m59.5 0h0m2.4-.1h0m-84.9 .4h0m-14.6-.9h0m51 .7h0m-13.4-.5h0m-60.7-.2h0m58.3 1h0m0-1h0m6.1 .4h0m-6.1-.8h0m-19.4 .7h0m-37.7-1.3h0m58.3 .8h0m71.6 0h0m-92.2-.4h0m-13.4 .3h0m-12.1-.8h0m-13.4 .7h0m61.9-.7h0m119-.6h0"/>
<path class=v d="M228.7 403.5h0m37.7-.1h0m-30.4-.6h0m52.2 .3h0m-26.7 .5h0m24.3-.7h0m-34-.7h0m41.3-.2h0m-48.6 .2h0"/>
<path class=i d="M274.9 403.2h0m49.7 .7h0m-61.9-.1h0m-37.6-.1h0m1.2-.4h0m125-.1h0m-149.3 .1h0m21.9 0h0m-9.7-1h0m81.3 .9h0m-61.9-1h0m20.6-.1h0m-46.1 .1h0m66.8 .1h0m14.5 0h0m-74 .2h0m46.1-.7h0m-44.9-.4h0"/>
<path class=g d="M236 402.1h0m-10.9 .4h0m0-.3h0"/>
<path class=f d="M445.1 402.5h0"/>
<path class=p d="M229.9 402.9h0m36.5 .3h0m27.9 .2h0m-26.7 .3h0m-4.9-.5h0m0-.1h0m-47.3 .2h0m108 0h0m-49.8-.8h0m18.2 .2h0m-64.3 .2h0m37.6-1.1h0m6.1 .4h0m46.1 .3h0m-94.6-.6h0m19.4-.3h0m20.6 1.1h0m23.1 0h0m-48.6-.7h0m91.1 0h0m-65.6 .1h0m24.3-.1h0m-85-.8h0m85-.8h0m111.3 0h0m-170.8 1.4h0m36.4 0h0m63.2-.6h0m-36.5-.3h0m-51-.2h0m2.5-.6h0m63.1-.2h0m93.1-.2h0m-71.2-.3h0"/>
<path class=f d="M276.1 400.2h0"/>
<path class=i d="M324.6 401.4h0m-61.9 .1h0m25.5-.1h0m-53.4-.4h0m36.4 .3h0m64.4-.8h0m-79 .1h0m-31.5 .2h0m36.4 .8h0m1.2-.9h0m-32.8-.1h0m-29.1 .4h0m63.1-.9h0m9.7-.3h0m-71.6 .6h0m86.2-.4h0m-23.1-.8h0m21.9 .3h0m-85 .4h0m83.8-1.2h0m36.4 .8h0m-60.7-.9h0m-48.6 .2h0"/>
<path class=v d="M322.2 401.3h0m-121.4-.1h0m23.1-.3h0m51 .5h0m-36.5-.8h0m43.7-.4h0m-20.6 .5h0m1.2-.2h0m6.1 .1h0m0-.8h0m7.3-.2h0m-64.4-.6h0m-9.7 .2h0"/>
<path class=g d="M261.5 400.6h0m61.9-.3h0m-104.4-.5h0m55.9 .2h0m105.6-.3h0m-103.2-1h0"/>
<path class=v d="M267.6 398.9h0m-47.4-.2h0m54.7-.7h0m-12.2 .5h0m-1.2-.7h0m23.1-1.6h0m-82.6 .7h0m12.2-.3h0"/>
<path class=p d="M222.7 399.5h0m67.9-1h0m-21.8 .4h0m-53.4-.5h0m4.8-.2h0m53.4 0h0m-35.2-.4h0m88.7-.3h0m-25.5-.6h0m-98.4-.4h0m82.6 0h0"/>
<path class=f d="M323.4 399.2h0m4.9-.4h0m-8.5-1.8h0m124.6-.5h0m-172-.1h0"/>
<path class=g d="M270 399.5h0m-4.9-.5h0m-15.7-1.3h0m74 .3h0m2.4-.5h0"/>
<path class=i d="M265.1 398.3h0m-59.4 .9h0m44.9 0h0m-43.7 .1h0m21.8-.6h0m3.7 .2h0m69.2-.7h0m-75.3 .5h0m-1.2-.3h0m0-.5h0m38.8-.1h0m-31.5-.4h0m29.1 .4h0m0-.9h0m-59.5-.1h0m89.8 .2h0m-4.8-.6h0m52.2 .9h0m-77.7-.8h0m3.6 1.1h0m2.5-.8h0m-65.6-.1h0m60.7 .1h0m-32.8-.6h0m4.9-.7h0m44.9 .4h0"/>
<path class=v d="M322.2 396.7h0m-31.6-.7h0m-23-.9h0m10.9-.3h0m-31.6 .3h0m104.4-1.5h0m-126.2-.1h0m35.2 1h0"/>
<path class=i d="M270 396.2h0m-8.5-.1h0m-47.3-.2h0m-13.4-.6h0m125 1.1h0m-60.7-1.4h0m-64.3-.2h0m1.2 .2h0m31.6-.5h0m-3.7 .5h0m-18.2-.6h0m87.4-.8h0m-83.7-.1h0m17 .6h0"/>
<path class=g d="M273.6 396.1h0m12.2-.8h0m-24.3 .4h0m-43.7-1.5h0m225.4 .2h0"/>
<path class=p d="M209.3 395.3h0m53.4 1h0m14.6 .3h0m2.4-1h0m-15.8 .4h0m-38.8 .5h0m98.3-.1h0m-78.9-.3h0m24.3-.8h0m3.6-.6h0m49.8-.2h0m-60.7 .4h0m71.6 .1h0m-85 .5h0m-20.6-.2h0m35.2-.6h0m60.7 .3h0m-59.5-1.1h0m-1.2 .2h0m-36.4 .4h0m44.9-.4h0m2.4 .6h0m2.5-.8h0m-48.6 .1h0m24.3 0h0m-14.6-.2h0m25.5 .1h0m-36.4-.4h0m8.5-.7h0m88.6 1.2h0m-104.4-1.6h0m126.3 0h0m-53.5 .6h0m62-1.2h0m-131.1-.1h0m97.1-.2h0m-42.5-.7h0m-44.9 .1h0m7.2 1.2h0m-25.4 .2h0m117.7-1.3h0"/>
<path class=i d="M285.8 393.6h0m-60.7-1.2h0m42.5 .6h0m-49.8 .1h0m43.7 .1h0m-36.4-.9h0m48.5 0h0m-49.7-.3h0m29.1-.1h0m-10.9 .3h0m-41.3 0h0m41.3-1.7h0"/>
<path class=v d="M205.7 392.8h0m55.8 .1h0m-35.2-.5h0m59.5 .6h0m2.4-.7h0m23.1-.7h0m-41.3 .5h0m-40.1-.6h0m31.6 .3h0"/>
<path class=f d="M325.8 393.8h0m-2.4-.9h0m20.7-.7h0m-72.9-1.3h0"/>
<path class=g d="M263.9 393.2h0m26.7-.7h0m37.7-.4h0m-6.1 .5h0m-74.1 .2h0m1.3-.8h0m13.3-.2h0m-4.8-.8h0m15.7-.3h0"/>
<path class=p d="M215.4 391.2h0m114.1-.2h0m-52.2-.3h0m-8.5-.4h0m-10.9 .2h0m32.7-.5h0m32.8 .5h0m-40-.2h0m-17 .3h0m-1.3-.3h0m-31.5-.3h0m105.6-.2h0m-53.4 .3h0m-54.6-.2h0m37.6-.3h0m31.5-1.2h0m-82.5-.2h0m65.6-.5h0m-6.1-.4h0"/>
<path class=f d="M261.5 390.5h0m64.3-.7h0m-2.4 .3h0m-35.2-.6h0m35.2-.9h0"/>
<path class=g d="M238.4 391h0m83.8-2.6h0"/>
<path class=i d="M274.9 390.5h0m-49.8 .7h0m63.1-.3h0m-81.3-.3h0m21.8-.5h0m-27.9-.1h0m25.5 .1h0m0-.3h0m102-.8h0m-122.6 .1h0m27.9-.3h0m-3.7 .7h0m30.4-1h0m-42.5-.5h0m63.1 .2h0m-57-.2h0m6 .2h0"/>
<path class=v d="M262.7 390.4h0m-37.6 .4h0m42.5 0h0m-31.6 .1h0m25.5-.9h0m-44.9 0h0m34-.2h0m35.2-.2h0m-8.5 .8h0m-14.6-.9h0m-19.4 .1h0m18.2-.2h0m0-.6h0m2.4-.9h0m-61.9 .9h0m66.8-.5h0m55.8-.4h0m1.2-.2h0m-58.2-.5h0m-24.3-.4h0m2.4-.6h0m-43.7-1.1h0m120.2-.1h0"/>
<path class=f d="M323.4 387.1h0"/>
<path class=p d="M271.2 387.5h0m14.6 0h0m36.4 .7h0m-91-.3h0m6-.9h0m-35.2 .9h0m78.9-.3h0m-55.8-.7h0m36.4 .8h0m1.2-.1h0m31.6-.3h0m-24.3-.3h0m72.8-.2h0m-131.1 0h0m31.6-.8h0m25.5 .2h0m61.9 0h0m-8.5-.1h0m10.9-.3h0m-104.4-.7h0m2.5 .4h0m151.7-.3h0"/>
<path class=g d="M348.9 387.4h0m-86.2-.5h0m23.1 0h0m37.6-.7h0m37.6-.2h0"/>
<path class=i d="M225.1 388.6h0m41.3-1h0m55.8-.3h0m-120.2 .1h0m71.6 .5h0m-12.1-.4h0m14.6-.8h0m-9.7-.3h0m-46.2 .6h0m70.4-.6h0m-18.2 .8h0m55.9-.6h0m-65.6-.4h0m-1.2-.4h0m-59.5 .7h0m4.9-.6h0m12.1 .1h0m-17 .1h0m60.7-.7h0m9.7 1.1h0m-46.1-.4h0m48.6-.4h0m10.9 .5h0m-20.7-.9h0m-21.8 .3h0"/>
<path class=p d="M346.5 385.5h0m-60.7-.1h0m-24.3 .2h0m-29.1-1.2h0m6 .1h0m34 .1h0m54.7-.8h0m-52.2-.2h0m110.4-.5h0m-139.6 0h0"/>
<path class=f d="M265.1 384.5h0"/>
<path class=i d="M211.7 385.2h0m55.9-.1h0m-6.1-.1h0m0-1.5h0m9.7 1.6h0m-31.6-1h0m31.6 .6h0m-7.3-.2h0m6.1-.8h0m20.6 .1h0m-1.2 0h0m-57-.2h0m-15.8-.2h0m14.6 .4h0m41.2-1.3h0m-38.8-.4h0m37.6 .2h0m-70.4-.7h0m10.9 .7h0m49.8 .1h0m0-.3h0"/>
<path class=v d="M245.7 385.2h0m17-.4h0m94.7 .1h0m-94.7-.8h0m60.7 .7h0m-85-.9h0m86.2 .2h0m-116.5-.5h0m58.3 .3h0m20.6-.6h0m4.8 .1h0m-63.1-.9h0m35.2 .1h0m-2.4-1h0m20.6 1.1h0m-17-.9h0m-63.1 .2h0"/>
<path class=g d="M333.1 384.5h0m-7.3-1.2h0m-1.2 .4h0m4.9-.1h0m-4.9-.2h0m-49.7-.3h0m-3.7-1.3h0"/>
<path class=v d="M330.7 381.7h0m-7.3 .3h0m-57-.9h0m46.1-.3h0m-66.8-.5h0m133.6-.7h0"/>
<path class=i d="M251.8 381.8h0m-35.2 .1h0m53.4-.1h0m-41.3 .3h0m-26.7-.7h0m61.9 0h0m-31.5-1h0m-24.3 .7h0m46.1-.7h0m-14.6 .2h0m-37.6-.2h0m23.1-.5h0m-13.4 .1h0m21.9 .7h0m-27.9-.3h0m138.4-.7h0m-108.1 .2h0m91.1-.5h0m-100.8 .7h0m10.9-1.3h0"/>
<path class=g d="M328.3 382h0m-4.9-.2h0m-46.1-1.8h0m65.5-.5h0m-8.5 .4h0m-60.7-.6h0"/>
<path class=f d="M287 381.4h0"/>
<path class=p d="M323.4 381.3h0m-35.2 .6h0m-20.6-.7h0m13.3-.1h0m2.5-.4h0m58.2 .4h0m-69.2 .4h0m-9.7 .3h0m24.3-1.1h0m-23.1-.1h0m-58.2-.3h0m57 .3h0m60.7 .5h0m-61.9-.8h0m3.6-.3h0m2.5 .2h0m4.8 .5h0m-6-.8h0m58.2 0h0m14.6 .3h0m-76.5-.3h0m59.5 .4h0m1.2-.3h0m-36.4-.1h0m-19.4 0h0m6-1.1h0m-10.9 .7h0"/>
<path class=i d="M285.8 379.4h0m-24.3 0h0m61.9-.6h0m-37.6 .1h0m-41.3-.5h0m-12.1 .2h0m25.5 .1h0m-57.1-.9h0m32.8 .3h0m102-.3h0m-115.4 .3h0m49.8-.1h0m-8.5-.2h0m65.6 .2h0m-88.7-.5h0m100.8-.3h0"/>
<path class=v d="M284.6 378.3h0m37.6 .5h0m12.1-.5h0m-47.3-.2h0m-24.3 .5h0m-59.5 1.2h0m38.9-1.8h0m34 .3h0m-3.7-.8h0"/>
<path class=p d="M267.6 379h0m-29.2 .2h0m-4.8 .5h0m30.3-1.1h0m-1.2-.2h0m63.1-.1h0m-36.4 .7h0m-85 .3h0m38.9-1h0m127.5-.4h0m-108.1-.3h0m1.2 .3h0m29.2 .5h0m-3.7-.4h0m-26.7-.6h0m59.5 .4h0m-60.7-.8h0m-35.2 .4h0m8.5-.6h0m26.7-.1h0m17-.2h0m57.1 .5h0"/>
<path class=g d="M284.6 379.1h0m40-.9h0m-58.2-.3h0m55.8-.5h0m-77.7-.8h0"/>
<path class=p d="M262.7 376.9h0m8.5-.6h0m14.6-.4h0m-80.1 .2h0m21.8 .3h0m112.9-1.1h0m-18.2 .2h0m-42.5-.9h0m-31.6 1h0m80.2-.9h0m-36.5 0h0m-18.2-.6h0m109.3-1.2h0"/>
<path class=g d="M323.4 376.4h0m-104.4 0h0m69.2-1.1h0m155-1h0m-165.9-1h0"/>
<path class=v d="M226.3 376.6h0m35.2-.7h0m-54.6 .2h0m59.5 .1h0m-23.1-.7h0m86.2-.8h0m2.4 .8h0m-114.1 0h0m106.8 .3h0m-2.4-.5h0m-49.8-.8h0m7.3 0h0m-49.8 0h0m31.6-.6h0m-19.4-.1h0m-14.6-.5h0"/>
<path class=i d="M262.7 376h0m21.9-.1h0m10.9-.2h0m-26.7 .6h0m-6.1-.4h0m1.2-.8h0m21.9 .2h0m-81.4-.4h0m-2.4 .6h0m23.1-1h0m37.6 .7h0m3.7-1.7h0m-4.9 1h0m-44.9-.5h0m46.1 .3h0m-37.6-.6h0m98.3 .5h0m-121.4-.6h0m65.6 .5h0m-44.9-.1h0m2.4-.7h0m37.6 0h0m-59.5 .4h0m35.2-.5h0m54.7 .5h0m-6.1-.8h0m3.6 .3h0m-26.7-.3h0m27.9 .5h0m-7.2 .1h0m-59.5-.5h0m184.1 .3h0m-62.7-.9h0m-111.7 0h0m-31.6-.6h0m58.3-.1h0m38.8 .6h0m-77.6-.3h0m-17 .1h0m7.2-.6h0m-3.6-.5h0m24.3 .7h0m74-1.2h0"/>
<path class=f d="M522 371.3h0"/>
<path class=v d="M322.2 373.3h0m-121.4-.2h0m24.3-1.1h0m99.5 .5h0m-1.2-.3h0m4.9 .2h0m10.9-1.1h0m-17-.2h0"/>
<path class=g d="M356.2 372.8h0m-146.9 0h0m59.5-.4h0m7.3 .3h0"/>
<path class=p d="M297.9 373h0m-18.2 .3h0m-6.1-.7h0m-34 .6h0m46.2-.6h0m-23.1 .4h0m65.6-.7h0m13.3 .2h0m-17-.4h0m-60.7 .2h0m63.2-.5h0m-116.6 .9h0m60.7-.8h0m-41.3-.1h0m123.9-.1h0m-64.4-.6h0m57.1-.1h0m-85 .7h0m9.7-.8h0m36.4 .8h0m-35.2-.7h0m-9.7 .4h0m18.2 0h0m-17-.2h0m-35.2-.3h0"/>
<path class=g d="M323.4 369.9h0m10.9-.6h0m-4.8 0h0"/>
<path class=i d="M262.7 371.1h0m2.4-.6h0m-40 .2h0m-9.7-.5h0m35.2 .4h0m13.3-.3h0m0-.1h0m65.6-1.2h0m-80.1-.6h0m111.6-.7h0m-145.6 .4h0m-13.4-.1h0"/>
<path class=f d="M268.8 370h0m8.5-.5h0"/>
<path class=p d="M285.8 369.8h0m-57.1 .8h0m32.8 0h0m-25.5-.4h0m-30.3 .5h0m67.9 .3h0m-7.2-.2h0m-7.3-.8h0m3.6 .1h0m2.4-.8h0m-40 .2h0m82.5-.6h0m-36.4 .5h0m-27.9-.5h0m58.3 .2h0m24.2-.7h0m17 .9h0m-77.7-.3h0m2.5-.5h0m-1.2-.2h0m54.6 .4h0m-53.4-.6h0"/>
<path class=v d="M327.1 370.3h0m-110.5 .1h0m59.5 0h0m-3.7-.3h0m-9.7-.3h0m59.5 .5h0m-92.3-.8h0m4.9-.5h0m150.5 .5h0m-60.7-.3h0m-1.2-1.3h0m-95.9 1.1h0m35.2-.5h0m-1.2 .3h0m-41.3-.9h0m42.5 0h0m-31.5 .5h0m7.2-.4h0"/>
<path class=g d="M279.7 366.2h0m3.7-.8h0m84.9-.6h0m-160.2-.8h0"/>
<path class=i d="M271.2 368.6h0m-4.8-.8h0m58.2-.7h0m-38.8 .8h0m-24.3-.6h0m-43.7 .1h0m60.7-.6h0m-55.8 .2h0m19.4-.1h0m-17-1.9h0m1.2 1h0m0-.9h0m-4.9 0h0m17 .3h0m11-.7h0m82.5 .3h0"/>
<path class=v d="M261.5 367h0m-31.6-.5h0m31.6-.4h0m8.5 .6h0m19.4-.9h0m-59.5-.3h0m46.2 .5h0m-14.6-.1h0m99.5-.9h0"/>
<path class=p d="M330.7 368.2h0m-43.7 0h0m10.9-1.2h0m24.3 .1h0m0 .7h0m-57.1 0h0m-2.4-.9h0m72.9-.4h0m-63.2 0h0m52.2 .2h0m-54.6-.3h0m-1.2-.1h0m-65.6 .5h0m68-.9h0m-6.1-.7h0m-2.4 .9h0m60.7 .2h0m-121.4-.5h0m121.4-.4h0m-61.9 .3h0m-53.4-.5h0m85-.4h0m-25.5-.1h0m19.4 .2h0m-24.3-.1h0m63.1 .6h0m-2.4-.3h0"/>
<path class=f d="M232.4 366.5h0m60.7-4.5h0"/>
<path class=g d="M356.2 364.5h0m-59.5-.7h0m-12.1-.6h0"/>
<path class=i d="M261.5 365.3h0m-41.3-1.2h0m8.5 0h0m120.2-.2h0m-18.2 0h0m-3.6-.1h0m-58.3 .3h0m-3.7-.5h0m21.9 .9h0m53.4-2h0m-112.9 1.1h0m-15.8-.9h0m3.7-.4h0m1.2 .3h0m25.5-1h0m30.3 .3h0m-58.2-.5h0m92.2 .8h0m-94.7-.7h0"/>
<path class=p d="M226.3 364.1h0m64.3 .3h0m-27.9-.6h0m-23.1 .3h0m150.6-1h0m-104.4-.2h0m12.1-.1h0m7.3-.3h0m30.4 .8h0m-34-1.1h0m-24.3 .3h0m-6.1-.4h0m-40-.5h0m108-.1h0"/>
<path class=v d="M287 364.2h0m35.2-.4h0m-85-.1h0m24.3 .2h0m31.6 0h0m29.1-.7h0m-53.4-.6h0m-66.8 .4h0m38.9 0h0m20.6-.6h0m3.6 .2h0m-63.1 .1h0m34 0h0m87.4-.4h0m-35.2 0h0m-21.8-.1h0m15.7 .1h0m57.1 .9h0m-77.7-.9h0m-32.8-.4h0m94.7 .1h0m-98.3-.3h0m23-1h0"/>
<path class=p d="M289.4 361.2h0m-20.6-.2h0m54.6-.6h0m-1.2-.6h0m-109.3 .6h0m110.5-.4h0m6.1 .2h0m2.4-.9h0m-9.7 .2h0m-36.4 .6h0m0-.4h0m-54.6-.8h0m94.6 .3h0m-32.7 .5h0m36.4-.6h0m-126.3-.4h0m32.8-.1h0m46.1 .3h0m9.7-.5h0"/>
<path class=f d="M291.8 360.7h0"/>
<path class=v d="M289.4 361.1h0m-24.3-.3h0m-2.4 .4h0m24.3-.3h0m-25.5-.1h0m-18.2-.4h0m103.2-.2h0m0-.7h0m-74.1-1.1h0m-29.1-.4h0"/>
<path class=g d="M202 360.8h0m87.4-1.9h0m32.8 .2h0"/>
<path class=i d="M211.7 361.3h0m15.8-.2h0m109.3-.9h0m-70.4 .2h0m-64.4-.7h0m59.5 .5h0m-26.7-1.2h0m-23.1 .6h0m119 .4h0m-61.9-.5h0m-4.9 .4h0m60.7-1.1h0m-60.7 .3h0m24.3-.6h0m-23.1 .2h0m7.3-.7h0m-10.9 .7h0m0-.6h0"/>
<path class=p d="M249.4 357.8h0m-13.4-.9h0m146.9 .1h0m-60.7-.1h0m-35.2 .5h0m8.5-1.2h0m48.6 .5h0m-89.9-.4h0m68-1.2h0"/>
<path class=i d="M204.4 357.6h0m4.9 .2h0m27.9-.2h0m41.3-.1h0m19.4-.6h0m-26.7-.3h0m-44.9 .8h0m-1.2-1.3h0m132.3 .6h0m-156.6 .2h0m75.3-.6h0m-57.1 .4h0m57.1-.6h0m-60.7-.3h0m19.4 .2h0m30.3 .1h0m-61.9-.4h0m65.6-1h0m-24.3 0h0m-13.3 .3h0m-3.7-.8h0"/>
<path class=f d="M328.3 357.6h0m1.2-1.4h0m-10.9-1.3h0"/>
<path class=v d="M331.9 358h0m-68-.4h0m60.7 .4h0m-61.9-.2h0m0 1h0m25.5-1.9h0m-48.6 .2h0m83.8 .2h0m30.4-1h0m-57.1 .7h0m-10.9-.1h0m-7.3-1.2h0m51-.7h0m-103.2-.1h0m-7.3-.4h0"/>
<path class=g d="M261.5 358h0m10.9-.1h0m52.2-.9h0m9.7-.2h0m-61.9-.6h0m13.4-.8h0m-24.3 .4h0m15.8-.3h0"/>
<path class=v d="M273.6 355h0m49.8-.7h0m-42.5-.3h0m42.5 .3h0m0-.5h0m-46.1-.6h0m71.6 0h0m-48.6-1.4h0m26.8 .2h0"/>
<path class=i d="M262.7 354.9h0m-1.2 .3h0m2.4-.8h0m1.2-.3h0m-63.1-.3h0m34 0h0m-30.3-.1h0m54.6 .2h0m26.7 0h0m-30.4-.9h0m-25.4-.2h0"/>
<path class=p d="M291.8 354.9h0m-21.8 .6h0m-7.3-1h0m-23.1-.3h0m66.8-.4h0m-4.8 .5h0m12.1 .1h0m-20.6-.2h0m-92.3-.5h0m60.7 .1h0m63.1-.4h0m-60.7 .5h0m-2.4 .3h0m29.1-.7h0m11 0h0m21.8-.1h0m-1.2 .8h0m-36.4-1.1h0m-23.1-.2h0m6.1 .3h0m3.6-.8h0m199.8 1.1h0m-207.1-.3h0m11-.7h0m-46.2-.3h0m32.8-.3h0m-42.5-.3h0m61.9-.7h0m-41.2 .7h0"/>
<path class=g d="M291.8 353.7h0m-70.4-.4h0m100.8-1.2h0m-105.6 0h0"/>
<path class=i d="M277.3 351.5h0m46.1 .8h0m-61.9-1.6h0m35.2 .3h0m38.9-.8h0m-104.4-.1h0m31.5 .9h0m-35.2-.4h0m40.1-.2h0m-4.9-.1h0m-55.8-.4h0m134.7 .8h0m-76.5-.5h0m0-.4h0m-55.8-.8h0m32.8 1.2h0m-29.2-1.1h0m14.6-.5h0m72.8-.7h0"/>
<path class=p d="M280.9 350.5h0m41.3 .7h0m-43.7 .2h0m-21.9 .2h0m68-.2h0m9.7-1.3h0m-10.9 .6h0m-120.2-.2h0m83.8 .7h0m38.8-.8h0m-25.5-.1h0m-1.2 .4h0m-47.3-.5h0m25.5-.2h0m-9.7-.9h0m-4.9 1.1h0m-59.5-.1h0m86.2 .1h0m-24.3-.7h0m64.4-.1h0m-99.6-1.2h0m55.9 .5h0"/>
<path class=g d="M333.1 350.2h0m-58.2-.5h0m54.6-1.4h0"/>
<path class=v d="M323.4 350.7h0m-52.2 .4h0m9.7-.2h0m-48.5-.2h0m29.1-.3h0m61.9-.9h0m-65.5 .4h0m33.9 .3h0m-18.2-1.1h0m48.6 .2h0m1.2-.1h0m36.4-1.3h0m-97.1 1.1h0m59.5-.7h0m-37.6 .1h0m40 .8h0m-122.6-1h0"/>
<path class=f d="M285.8 346.2h0"/>
<path class=g d="M231.2 346.6h0m58.2 .3h0m-23 .1h0"/>
<path class=p d="M251.8 348.5h0m18.2-1.2h0m31.6-.1h0m35.2-1.5h0m41.2 1h0m-127.4-.2h0m37.6-1.1h0m9.7-.2h0m24.3 .3h0m8.5-.3h0m-25.5 .3h0m-32.8-.5h0m70.4 .4h0m-9.7-1h0m-63.1 .1h0m85-.1h0"/>
<path class=v d="M294.3 348h0m41.3-.2h0m-102-.2h0m104.4-.4h0m-10.9 0h0m-52.2-1.6h0m-13.4 .7h0m30.3-.9h0m-27.9-.2h0m-31.5-.3h0m95.9 .3h0m-40.1 .1h0m0-.7h0"/>
<path class=i d="M323.4 347.6h0m-116.5 .6h0m20.6-.9h0m-14.6-.3h0m126.3 .5h0m-75.3 .2h0m-1.2-.1h0m-35.2-.7h0m41.3-.1h0m54.6-.6h0m-82.5 .9h0m21.8-.7h0m0-.3h0m207.3 .2h0m34.1-1h0m-156.4 0h0m-92.3 .3h0m23.1 .7h0m-61.9-1.5h0m19.4 .7h0m13.4-.3h0m12.1 .2h0m60.7-1.1h0m-121.4 .3h0m71.6-.9h0m2.5 .9h0m10.9-.2h0m-78.9-.4h0m78.9-1.1h0m36.4-.8h0m-34-1h0m-87.4 .8h0m26.7-.7h0m131.1 .5h0m-13.3-.8h0m-143.3-1.2h0"/>
<path class=v d="M328.3 343.6h0m-41.3 .7h0m60.7-2.1h0m-121.4 1.1h0m97.1-1.2h0m-108 0h0m76.4-.5h0m-18.2 .2h0m49.8 .2h0m6.1-1.1h0m-51-.1h0m-4.9 .2h0"/>
<path class=g d="M340.4 344.8h0m-77.7 .1h0m59.5-5h0m23.1 .2h0m3.6-.5h0"/>
<path class=f d="M300.3 341.1h0"/>
<path class=p d="M257.9 344.9h0m67.9-.6h0m-63.1-.3h0m-49.8 0h0m143.3-.5h0m-59.5-.8h0m30.4 .6h0m-60.7-1h0m103.1 .3h0m-83.7-.3h0m-10.9-.4h0m18.2 .2h0m30.3-.4h0m-61.9 1.3h0m63.1-1.4h0m-61.9 .2h0m0-.2h0m59.5-.4h0m-57.1 .2h0m75.3-.6h0m-60.7-.2h0m53.4 .1h0m-61.9-.3h0m35.2 .7h0m23.1-.5h0m-97.1-.6h0m122.6-.3h0"/>
<path class=f d="M323.4 340.3h0m-31.6-.5h0"/>
<path class=p d="M285.8 340.2h0m-1.2 .1h0m-23.1 .4h0m97.1-1.2h0m-76.5-.2h0m46.2-.4h0m42.5 .2h0m-133.6-.6h0m106.9-.7h0m-41.3-.7h0"/>
<path class=g d="M287 339.9h0m51-2.8h0"/>
<path class=i d="M227.5 340.9h0m98.3-.8h0m-60.7 .4h0m-37.6-.7h0m63.1-.3h0m32.8 .1h0m-100.7 .1h0m42.4 0h0m-38.8 0h0m52.2-.2h0m48.6-.1h0m-59.5-.5h0m-63.2 .4h0m20.7 .2h0m-10.9-1.4h0m-13.4 .3h0m75.3-.1h0m13.3 .1h0m-80.1-.2h0m125-.9h0m-57 .3h0m25.5 .9h0m-36.4-1.2h0m35.2-.2h0m27.9 .4h0m-64.4-.4h0m-59.4-.5h0m69.2-.3h0"/>
<path class=v d="M262.7 340.4h0m59.5-2.2h0m-58.3-.1h0m-1.2 1.5h0m23.1-.4h0m-54.6-.1h0m30.3-.7h0m61.9-.7h0m34 .1h0m-32.8-.5h0m-105.6 .7h0m17-.9h0m26.7 .1h0m44.9-.2h0m-34-.7h0"/>
<path class=i d="M262.7 336.5h0m74.1-.5h0m-58.3-.8h0m3.6 .2h0m-59.4-.6h0m6 .2h0m-7.3-1h0m23.1-.3h0m-10.9-1.3h0"/>
<path class=f d="M273.6 334.8h0"/>
<path class=v d="M266.4 336h0m-25.5 .8h0m-11-1h0m97.2-.1h0m-36.5-.1h0m53.5-.4h0m-46.2 .6h0m-26.7-.9h0m-2.4-.7h0m53.4-.4h0m-57.1 .5h0m74.1-.5h0m-69.2-.4h0"/>
<path class=p d="M272.4 337.1h0m-9.7-.7h0m59.5-.5h0m1.2 .1h0m-34 0h0m-64.3-.1h0m61.9 .1h0m2.4-.7h0m37.7 .1h0m-3.7-.1h0m2.4-.2h0m4.9 .2h0m0-.6h0m-44.9-.4h0m53.4-.3h0m-75.3 1h0m1.2-1.8h0m26.7 .6h0m-33.9-.9h0"/>
<path class=g d="M261.5 336.1h0m0 1h0m61.9-2.9h0m-71.6 1.3h0m72.8-1.3h0"/>
<path class=v d="M330.7 332.6h0m-69.2 0h0m30.3-.2h0m6.1-.7h0m25.5 .5h0m-32.8-.7h0m-2.4-1.5h0m-26.7 .5h0m105.6-.8h0"/>
<path class=p d="M327.1 333h0m-62-.1h0m12.2-.8h0m-7.3-.3h0m25.5 .4h0m55.8-.1h0m-144.4 .6h0m118.9-1h0m-3.6 .1h0m-48.6 .1h0m12.2-.8h0m41.3-.4h0m-51-.1h0m2.4 .2h0m19.4-.9h0m24.3 .9h0m17-1.7h0m-10.9-.1h0"/>
<path class=g d="M333.1 330.6h0m-1.2 .9h0m4.9-.9h0m-9.7-.2h0m17-1.1h0m-1.3-.2h0"/>
<path class=f d="M390.2 332.8h0m-127.5-.2h0"/>
<path class=i d="M276.1 332.5h0m48.5-.1h0m-59.5 0h0m1.3 .3h0m20.6-.7h0m75.3-.3h0m-85-.3h0m-14.6-.3h0m-61.9 .4h0m69.2-.4h0m52.2-.5h0m-69.2 .2h0m18.2 .2h0m-55.8-.9h0m46.1 .1h0m-18.2 .6h0m34 .4h0m-14.6-.7h0m63.1 .1h0m87.2-1.2h0m-163.6 .3h0m72.8-.1h0m-59.5-.7h0m14.6 .4h0m-15.8 .2h0m-59.5-.5h0m6.1 .8h0m17-.8h0m15.8-.8h0m-8.5 .8h0m0-.5h0m58.2-.6h0m-23 .6h0m-51-.5h0m58.3-.3h0m47.3-.1h0m-57.1-1.8h0m18.3 .5h0m8.4 .8h0m-71.6-.9h0m7.3 .1h0"/>
<path class=g d="M261.5 328.6h0"/>
<path class=f d="M261.5 328.4h0"/>
<path class=p d="M262.7 328.5h0m63.1 .5h0m-2.4 .6h0m9.7-1.5h0m-47.3 1.2h0m55.8-.9h0m-54.6-.1h0m-25.5-.3h0m2.4-.1h0m24.3-.6h0m-60.7 .3h0m160.3 .3h0m-123.9-.2h0m25.5-.4h0m-1.2-.6h0m155 .7h0m-104-.9h0m-9.7-.6h0"/>
<path class=v d="M202 328.5h0m121.4 .6h0m-93.5-.5h0m69.2-.2h0m-21.8-1.1h0m2.4 .2h0m20.6 .1h0m25.5-.3h0m-115.3-.2h0m52.2 .6h0m60.7-.8h0m-53.4-.2h0m-44.9 .8h0m7.3-1.3h0m53.4 .8h0m58.3-1.4h0m-104.5 .6h0m126.3 0h0m-76.5-.6h0m35.2 .7h0"/>
<path class=p d="M270 325.4h0m68-.1h0m-15.8 .5h0m3.6 .2h0m59.5-.9h0m-54.6-.3h0m-6.1 .6h0m-1.2 0h0m-74-.3h0m91-.4h0m-1.2-.1h0m-55.8-.4h0m31.5-1.8h0m19.4 .6h0m-83.7-.2h0m65.5-.3h0"/>
<path class=v d="M322.2 325.4h0m-51-.7h0m55.9 0h0m-4.9 .2h0m-29.1-1h0m-32.8-.2h0m65.5-.4h0m29.2-1.1h0m-13.4-.2h0"/>
<path class=g d="M261.5 326h0m24.3 .1h0m40-.6h0m-64.3-1.4h0m60.7 .3h0m3.6-1.9h0m-46.1-.2h0"/>
<path class=i d="M278.5 326h0m-15.8 .3h0m-53.4-.9h0m176-.6h0m-99.5 1.1h0m-23.1-.4h0m0-.3h0m1.2-.6h0m-32.7 1.1h0m37.6-1.3h0m70.4-.5h0m-49.8 .2h0m-58.2-.4h0m91-.3h0m-58.3 .7h0m9.7-.2h0m-12.1-.4h0m1.2-.2h0m20.7-.5h0m-37.7 .5h0m-23 .3h0m-14.6-.6h0m31.5-.5h0m-3.6 0h0m-21.8-.6h0m116.5 .2h0m-121.4-1.1h0m31.6 .1h0m-17-.5h0m7.3 1h0m-2.5-.2h0m-26.7-.5h0m115.3-.6h0m-89.8-.9h0m3.7-.5h0m-6.1-.3h0"/>
<path class=v d="M323.4 322.4h0m-1.2-.4h0m-100.8 .7h0m111.7-1.3h0m-98.3 .7h0m23.1 .2h0m78.9-1.1h0m10.9 .2h0m-71.6-1.1h0m68-.1h0m-12.2-.4h0m-40.1-.2h0m-66.7-.3h0m100.7-.5h0m19.5-.9h0"/>
<path class=f d="M338 319.4h0m14.6 .1h0"/>
<path class=g d="M324.6 320.2h0m-52.2 0h0"/>
<path class=p d="M262.7 322h0m13.4-.1h0m-4.9 .4h0m-2.4-1.1h0m53.4 .3h0m19.4 .1h0m-80.1-.2h0m1.2-.1h0m59.5-.6h0m-55.8 0h0m24.2 .1h0m-53.4-.5h0m82.6 .3h0m-55.9 0h0m21.9 .2h0m63.1-.7h0m-87.4 .3h0m63.1-1.3h0m-61.9 1.2h0m-1.2-.5h0m24.3 .1h0m100.7-.8h0m-64.3 0h0m-60.7-.3h0m61.9-.4h0m8.5 0h0"/>
<path class=g d="M330.7 318h0m-7.3 0h0m-10.9-.7h0m26.7-.3h0m-21.9-1.7h0m-36.4-.3h0"/>
<path class=f d="M322.2 315.3h0"/>
<path class=i d="M266.4 317.8h0m-2.5 .4h0m0-.2h0m-2.4 .3h0m23.1-.4h0m-18.2-.5h0m123.8 0h0m-104.4 .5h0m-24.3-.7h0m55.8-.8h0m-80.1 .4h0m85-.6h0m-120.2-.3h0m145.7 .2h0m-81.3-1.2h0m7.2 1.2h0m-47.3-1h0m3.6-1h0m66.8 .4h0"/>
<path class=v d="M289.4 318.7h0m-26.7-.2h0m72.9-.5h0m2.4 .1h0m-15.8-.4h0m-8.5-.2h0m-78.9-1.1h0m100.8 0h0m-71.7 .3h0m82.6-1h0m4.8-.6h0m-59.5 .5h0"/>
<path class=p d="M355 318h0m-24.3-.1h0m-59.5 .1h0m20.6 .1h0m30.4-1.1h0m6.1 0h0m-4.9 .7h0m46.1-.4h0m6.1-.8h0m-44.9-.4h0m-43.7-.4h0m-23.1 .2h0m63.2-.3h0m-111.7-.6h0m77.7 .9h0m31.5-.3h0m24.3 .5h0m1.2-.4h0m-26.7-.9h0m-60.7 .7h0m-1.2-.7h0m25.5-.1h0m68-.3h0"/>
<path class=f d="M239.6 313.2h0"/>
<path class=i d="M334.3 314.7h0m-65.5-.6h0m42.5 .1h0m47.3-1.3h0m-82.5-.4h0m88.6 1.1h0m-120.2 .2h0m81.3-.7h0m26.8-.7h0m-127.5-.2h0m1.2 .1h0m35.2-.7h0m69.2 .2h0m-3.6-.1h0"/>
<path class=g d="M395.9 311.3h0"/>
<path class=v d="M333.1 313.4h0m-71.6 .4h0m21.9 .8h0m-20.7-.9h0m-30.3-1h0m99.5-.2h0m-26.7-.9h0m-85 .4h0m24.3 .6h0m-8.5-1.8h0m-14.6 .6h0m119 .2h0"/>
<path class=p d="M324.6 314.4h0m-55.8-.5h0m54.6 .4h0m13.4-.6h0m-49.8 0h0m36.4 0h0m-60.7-.4h0m1.2 .5h0m2.5-.1h0m59.4-.7h0m-82.5-.8h0m80.1 .1h0m-37.6 .8h0m49.8-1.4h0m-49.8 .1h0m37.6 0h0m0 0h0m-52.2-.1h0m51-.2h0m1.2-.4h0m6.1-.6h0m36.4-.2h0m-27.9 .8h0m-12.2-.1h0m-59.4-.7h0m23 1.1h0m-78.9-1.6h0m136 .4h0m-24.3-.3h0m-35.2 .7h0m-2.4-.7h0m4.8 0h0m-27.9 .1h0m24.3-.6h0m-9.7 .2h0m68-.6h0m-48.6 .6h0m89.8 0h0m-142-1h0m120.2-.7h0m-19.4-.4h0m-8.5-.5h0"/>
<path class=v d="M335.6 310.3h0m20.6-1.4h0m17-.1h0m-136 .3h0m30.4-1.1h0m86.2 0h0m-19.5-.7h0m-46.1-.5h0m53.4 .8h0"/>
<path class=g d="M270 308h0m116.5-.9h0"/>
<path class=i d="M285.8 310.1h0m61.9-.6h0m-86.2 .4h0m24.3 .3h0m63.1-.1h0m-72.8-.8h0m-13.4-.1h0m29.1-.8h0m-29.1 .6h0m2.4 .2h0m57.1 .4h0m12.1-.8h0m-72.8 0h0m72.8 .1h0m-12.1-1.2h0m6.1 .1h0m-116.6-.1h0m121.4 .3h0m-46.1-1.5h0m-25.5 .6h0m-41.3-.2h0m-19.4-.1h0m129.9-.4h0"/>
<path class=f d="M323.4 310.7h0m2.4-.9h0m-1.2-1.9h0m-30.3-1.4h0"/>
<path class=p d="M273.6 306.6h0m48.6-1.4h0m24.3-.1h0m-117.8-.5h0m47.4 1h0m92.2-1.4h0m14.6-.6h0m-97.1-.2h0m47.3 .5h0"/>
<path class=g d="M324.6 306.1h0m3.7-.8h0m-25.5-.4h0m48.5-.8h0"/>
<path class=f d="M328.3 304.3h0"/>
<path class=v d="M323.4 306.1h0m-61.9-.3h0m24.3 .3h0m-17-.6h0m-43.7 .5h0m151.7-.3h0m-99.5-.1h0m53.4-.8h0m-60.7-.6h0m3.6 .5h0m58.3-.6h0m21.9-.8h0"/>
<path class=i d="M262.7 305.8h0m27.9 .1h0m-10.9 .1h0m52.2-.3h0m-69.2-.4h0m59.5 .4h0m-35.2-.6h0m-71.6 .1h0m70.4 0h0m-60.7-.3h0m49.8 .1h0m-70.5 .1h0m62-.1h0m2.4-1.4h0m54.6 .6h0m-98.3-.6h0m114.1-.1h0m-72.8 .6h0m-63.2-.4h0m59.5 .1h0m99.6-.2h0m-87.4 .4h0m-13.4-.2h0m13.4-.6h0m50.9 .3h0m-58.2 .8h0m-58.3-.8h0m136-.2h0"/>
<path class=g d="M346.5 303.2h0m-35.2-1h0m-24.3-.4h0m-10.9 .2h0"/>
<path class=i d="M232.4 302.7h0m67.9-.6h0m-26.7 0h0m54.7 1.1h0m-3.7-.8h0m-63.1 .3h0m3.6-.4h0m-19.4 .3h0m21.9-.1h0m-4.9-1h0m1.2 .1h0m-20.6 .1h0m-17-.1h0m42.5-.6h0m-42.5-.2h0m37.6 .4h0m-1.2-.7h0m-43.7 0h0m30.4-.4h0m30.3 0h0m-52.2-1.1h0"/>
<path class=v d="M261.5 301.3h0m70.4 .6h0m-53.4-.4h0m17 0h0m64.3-.3h0m-81.3-.8h0m8.5 .1h0m-1.2 .3h0m-15.8-.7h0m-8.5 .1h0"/>
<path class=p d="M336.8 303.1h0m-14.6 .1h0m-30.4-1h0m92.3 .1h0m-156.6 .7h0m-1.2-.1h0m100.8-.9h0m23 .5h0m-26.7-.4h0m-42.5 0h0m43.7-.1h0m14.6-.9h0m4.9 .3h0m-46.2 .4h0m24.3-.8h0m38.8 .9h0m-143.2-1.1h0m106.8 .4h0m4.9-.7h0m-55.9-.3h0m-10.9-.6h0m1.2 0h0m97.1 0h0m-19.4-.5h0m102.6 .3h0m-120.8-.2h0"/>
<path class=f d="M347.7 296.4h0"/>
<path class=g d="M296.7 298.9h0m36.4-2h0m12.2-1.3h0"/>
<path class=p d="M322.2 300h0m-60.7-.9h0m15.8 0h0m20.6-.8h0m25.5-.3h0m26.7 .6h0m-121.4-1.2h0m82.6-.1h0m19.4-1.1h0m-20.6 .2h0m42.5-.5h0m-55.9-.1h0m38.9-1h0m-4.9 .6h0"/>
<path class=v d="M248.1 298.7h0m28 .2h0m52.2-1.4h0m-1.2 1h0m-60.7-.1h0m55.8 .1h0m42.5-.8h0m-88.6 .3h0m15.7-1.5h0m81.4-.7h0m-18.2-.7h0"/>
<path class=i d="M263.9 299.2h0m-2.4-.6h0m2.4 .1h0m-1.2-.3h0m-30.3-.7h0m53.4 .7h0m-15.8-.4h0m-18.2 .5h0m17-.5h0m-7.3 .2h0m4.9-.8h0m18.2 .2h0m41.2-.6h0m-2.4 .3h0m-48.5 .1h0m-53.5-.2h0m40.1 .3h0m-60.7-1.2h0m121.4 .4h0m-32.8-.1h0m47.4 0h0m-70.4-.9h0m55.8-.3h0m-31.6 .8h0"/>
<path class=v d="M373.2 295.1h0m-110.5-.6h0m0-.2h0m29.1-.1h0m114.8 1.1h0m-204.6-1.4h0m60.7 0h0m93.5 0h0m-24.3-.2h0m12.2-.5h0m-3.7-.7h0m-10.9-.6h0m-48.6-.2h0m89.9-.9h0m-14.6 .7h0"/>
<path class=i d="M223.9 295.2h0m140.8-1.5h0m-95.9 1.6h0m53.4-.5h0m-41.3 0h0m-41.3-.1h0m47.4 .3h0m-53.4-1.1h0m53.4-.2h0m-1.2-.2h0m-47.4-.4h0m24.3 .5h0m4.9 0h0m54.6-2.5h0"/>
<path class=p d="M323.4 295h0m-61.9-.1h0m66.8 .4h0m13.3-.7h0m-80.1-.4h0m18.2 .7h0m42.5-1.3h0m30.4-.3h0m-76.5 .5h0m-14.6-.1h0m105.6-.5h0m-8.5-1.2h0m-104.4-.1h0m19.4-.6h0m64.4 .5h0m29.1-1.5h0"/>
<path class=f d="M291.8 294.4h0m-6-1.9h0"/>
<path class=g d="M272.4 295.3h0m-3.6-.2h0m54.6-.3h0m1.2-.9h0m-1.2-.1h0m3.7-.1h0m-40.1-1.2h0m-21.9-.7h0m83.8 .1h0"/>
<path class=p d="M266.4 291.8h0m2.4-.5h0m9.7-.7h0m55.8-1.1h0m0-1h0m-23 .2h0m64.3 .2h0m-17-1.4h0m-36.4-.1h0m12.1 .6h0m52.2-.3h0m-52.2-.7h0m34-.4h0"/>
<path class=i d="M328.3 290.5h0m-87.4 0h0m98.3 .4h0m-89.8-.7h0m19.4 .1h0m53.4-.2h0m-48.6-1.1h0m77.7 .6h0m-100.7-1.4h0m-17 0h0m49.8-.5h0m-34 .1h0m17-.2h0m77.7 .7h0m-58.3-.2h0m42.5-.6h0m-29.2-.5h0m30.4-.1h0m-68-.3h0"/>
<path class=g d="M322.2 288.3h0m17-.5h0"/>
<path class=v d="M271.2 291h0m54.6-.1h0m-40 0h0m0-1h0m-24.3 .4h0m0-.1h0m2.4-.8h0m76.5-.1h0m-30.3-.1h0m46.1-.6h0m-64.4 .1h0m-18.2-1h0m83.8 0h0m-8.5-.5h0m-81.3 0h0m-60.7 0h0m23-.6h0"/>
<path class=f d="M322.2 289.6h0m2.4 .4h0m58.3-.4h0m-59.5 .2h0m-32.8-1.9h0"/>
<path class=i d="M263.9 285.9h0m23.1 .1h0m-25.5-1.2h0m60.7-.8h0m-20.6 .2h0m-64.4-.2h0m-17-.5h0m57.1-.7h0m-51-.1h0m35.2 .2h0m-23.1 .3h0m53.4-1.1h0m-87.4-.9h0"/>
<path class=v d="M323.4 286.3h0m4.9-.5h0m-36.5-.3h0m-29.1 .1h0m35.2-.6h0m35.2-.8h0m-71.6 .3h0m88.6 .1h0m-18.2-.7h0m34-1.2h0m-27.9 .5h0m9.7 .1h0m-86.2-.1h0m3.6-.8h0m105.7-1.4h0m-41.3 2h0m-61.9-1h0m-64.4-.4h0"/>
<path class=p d="M327.1 286.5h0m-2.5-.1h0m-57 .2h0m1.2-.7h0m17-.2h0m37.6 0h0m0-.6h0m6.1 0h0m-3.7 .4h0m-2.4-1.4h0m-83.8 .2h0m46.2-.5h0m-23.1 .2h0m82.6-.5h0m-132.4 .3h0m109.3-.9h0m-34 .2h0m-18.2-.6h0m55.8-.3h0m7.3 .4h0m11 .1h0m-4.9-.8h0"/>
<path class=f d="M273.6 284.5h0m32.8-2.8h0"/>
<path class=g d="M311.3 285.1h0m-25.5-.6h0m2.4-1.1h0m34-1h0m-51 1.1h0m116.6-1.3h0m-64.4 .2h0"/>
<path class=v d="M340.4 280.6h0m-77.7 .6h0m81.4-1.5h0m-8.5-.6h0m-64.4-1.2h0m-54.6-.6h0"/>
<path class=i d="M323.4 282.1h0m-105.6-1.3h0m81.3 .9h0m24.3-.3h0m-37.6-.1h0m88.6-.1h0m-60.7-.6h0m-49.8-.2h0m70.4 .2h0m-2.4-.2h0m-69.2-1.2h0m78.9-1.6h0m-77.7 .9h0m-26.7 0h0m42.5-1.4h0m12.1 .2h0"/>
<path class=p d="M325.8 281.3h0m-55.8 .2h0m53.4-.5h0m3.7-.4h0m-30.4 .2h0m-24.3-.2h0m13.4-1.1h0m37.6 1.3h0m46.1-1.2h0m-101.9 .4h0m54.6 .1h0m-49.8-.5h0m49.8 1.1h0m6.1-1.6h0m-35.2 .4h0m77.7-.5h0m-89.9-.3h0m-9.7 .5h0m63.1-.8h0m-67.9-.9h0m12.1 1h0m-3.6-.6h0m47.3 .4h0m-40.1-.5h0"/>
<path class=g d="M322.2 281.6h0m2.4-1.5h0m-48.5-.1h0m167.1-.9h0m-181.7 .1h0m47.3 .2h0m-47.3-.6h0m68-1.9h0"/>
<path class=f d="M322.2 277.8h0"/>
<path class=g d="M322.2 277h0m-71.6-1.2h0m140.8 .4h0m-51-.8h0m-72.8-1.2h0"/>
<path class=p d="M322.2 277.4h0m-35.2-.3h0m-24.3 .7h0m63.1-.8h0m-50.9-.5h0m67.9-.5h0m-15.7 .9h0m33.9-.1h0m-35.2-.2h0m11-.4h0m-1.2 .2h0m83.3-.2h0m-157.4-1.3h0m102 .4h0m6-.1h0m-10.9-.4h0m12.2-.4h0m-24.3 .8h0m-6.1-.8h0m-52.2-.1h0m47.4-.1h0m-63.2-.8h0m58.3-.2h0m-44.9 .3h0m1.2-.7h0"/>
<path class=i d="M262.7 277.3h0m60.7-1h0m-37.6 0h0m15.8-.1h0m-70.4-1.7h0m103.1 0h0m-64.3-.4h0m65.6-1.2h0m17-.3h0m-8.5 .7h0m-82.6 .1h0m19.4-.6h0"/>
<path class=v d="M365.9 277.1h0m-104.4-.3h0m3.6 .6h0m31.6-1.3h0m-34-.9h0m63.1 1.1h0m6.1-.7h0m-20.6-.9h0m12.1 .4h0m3.7-.8h0m2.4 .8h0m-95.9-1.8h0m89.8 .6h0m3.7 0h0m18.2 .1h0m-23.1-.1h0m3.6-1h0"/>
<path class=i d="M285.8 273h0m-17-.3h0m30.3 .4h0m-81.3-.5h0m-15.8-.9h0m123.8 .6h0m-89.8-1.8h0m110.5 .3h0m-8.5 .3h0m-49.8 .4h0m-54.6-1h0m27.9 .9h0m15.8-.9h0m44.9 .7h0m-108-1.1h0m78.9-1h0m-38.9-.4h0m24.3-.6h0"/>
<path class=v d="M270 272.7h0m31.6-.3h0m-31.6-.6h0m78.9-.2h0m27.9-.3h0m-42.5-.9h0m-4.8-.2h0m9.7 .7h0m3.6-.7h0m40.1-.4h0m-157.8-.3h0m43.7 .1h0"/>
<path class=f d="M270 271.6h0"/>
<path class=g d="M323.4 273.1h0m1.2-1.1h0m-57 .2h0m123.8-2.7h0"/>
<path class=p d="M367.1 272.6h0m-44.9 .3h0m0-.1h0m35.2 .3h0m-70.4-1.2h0m-24.3 .8h0m63.1-1.7h0m31.6 .4h0m-95.9-.4h0m80.1 1.4h0m-77.7-1.5h0m76.5 .7h0m-18.2 .2h0m-35.2-1h0m36.4-.3h0m242.1-.1h0m-279.7 .2h0m68-.3h0m-80.2 .1h0m63.2 .5h0m3.6-.2h0m-1.2-1.3h0m-3.6 .2h0m-12.2 .7h0m10.9-1.4h0m-12.1-.1h0m-36.4-.3h0m69.2-.7h0"/>
<path class=g d="M277.3 267.8h0m55.8-.7h0m-47.3-.1h0m98.3-.2h0"/>
<path class=v d="M313.7 266.9h0m27.9 .2h0m106.1-.7h0m-158.3-.7h0m-2.4-1.2h0m55.8-.9h0m-49.7 .8h0m57-.8h0"/>
<path class=i d="M296.7 267.5h0m-77.7 .8h0m42.5-.6h0m30.3 .5h0m-8.4-.8h0m-75.3-.3h0m64.3-.3h0m2.5-.8h0m8.5-.3h0m-21.9 .4h0m92.3-.4h0m-92.3-1.2h0m12.1 .2h0m-32.7-.6h0m20.6-.9h0"/>
<path class=f d="M325.8 268.5h0m47.4-1.9h0"/>
<path class=p d="M323.4 268.3h0m7.3 .2h0m-68-.6h0m121.4 .3h0m-38.8 .4h0m-21.9-.5h0m-57-.4h0m55.8-.2h0m8.5-.8h0m48.6 .1h0m-46.2 0h0m-57-.7h0m116.5 .4h0m-95.9 0h0m34-.7h0m-48.6 .1h0m40.1-.6h0m12.1 .6h0m-9.7 .6h0m4.9-1.3h0m3.6 .5h0m-61.9 .4h0m55.9 .1h0m85.7-.8h0m-63.9 .2h0m-12.1 0h0m-13.4-.8h0m0-.1h0m29.2-.9h0"/>
<path class=g d="M333.1 262.9h0m26.7-.6h0m-25.5 .9h0m17-5h0"/>
<path class=i d="M261.5 263.9h0m122.6-1.2h0m-119 .3h0m-1.2 1.3h0m18.2-1.2h0m41.3 .5h0m-114.1-1.1h0m102 .1h0m-48.6-.2h0m-47.3-.6h0m89.8-.1h0m-37.6-2.5h0"/>
<path class=v d="M270 263.3h0m88.6 .8h0m-127.4-1.7h0m61.9 .8h0m-54.7-1.2h0m49.8-.8h0m65.6 .1h0m-75.3-.7h0m7.3-.5h0m-35.2-.5h0m10.9-.5h0m-36.4 .2h0"/>
<path class=p d="M325.8 263.7h0m15.8-.3h0m42.5 .1h0m-55.8-.3h0m-53.4-1.3h0m48.5 1.4h0m6.1-.7h0m-42.5 .2h0m-21.9-1.2h0m62-.3h0m35.2-.4h0m-23.1 1h0m-77.7-.7h0m61.9 .9h0m35.2-1.1h0m-24.3 .4h0m-48.5-.7h0m19.4 .4h0m31.6-.3h0m-66.8 0h0m-4.9-.4h0m58.3 .3h0m-61.9-1h0m68-.4h0m29.1 .4h0m-19.4 .4h0m-13.4-.8h0m-54.6-.1h0m25.5-.5h0"/>
<path class=f d="M324.6 262.3h0m-2.4-2.5h0m2.4 .1h0m-1.2-.2h0"/>
<path class=p d="M322.2 257.8h0m1.2 .3h0m3.7-.5h0m35.2-.7h0m-3.7 .1h0m-94.7 .9h0m94.7-1h0m-19.4 .4h0m-29.1-.2h0m-24.3-1.1h0m102 .2h0m-36.5-.9h0m-69.2-1.6h0m12.2-.9h0"/>
<path class=v d="M341.6 257.7h0m-49.8-.6h0m1.3 .1h0m49.7 .5h0m-6-1h0m-42.5-.1h0m49.8 .7h0m-12.2-1.2h0m-30.3 .4h0m-76.5-.3h0m117.7-.1h0m30.4-.4h0m-51-.6h0m-94.7 .8h0m100.8-.4h0m19.4-1.3h0m4.9 .7h0m-64.4-.9h0m42.5 .6h0m-65.6-1.2h0"/>
<path class=i d="M324.6 258.9h0m-55.8 .2h0m19.4-1.6h0m35.2 .2h0m-91-1.1h0m93.4-.4h0m-52.2 .4h0m49.8 0h0m15.8-2h0m-3.6 .9h0m0-2h0m-48.6 1.5h0m17-1.2h0m-42.5 0h0m71.6 .6h0m-105.6-.5h0"/>
<path class=g d="M271.2 258.3h0m-8.5-.4h0m29.1-1.2h0m41.3-.2h0m6.1-2.1h0m-37.6-.7h0m72.8 .4h0m12.1-2.6h0m-125-.1h0m88.6 .2h0m24.3-3.8h0"/>
<path class=f d="M491.4 249.3h0"/>
<path class=v d="M356.2 253h0m6.1-1.6h0m-74.1-.4h0m23.1 .1h0m77.7 .7h0m-159.1-1.3h0m110.5-.6h0m10.9 .6h0m-7.2-.9h0m43.7 .6h0m-104.4-.2h0m74-.7h0m0 .4h0m207.1-.4h0m-289.6 .3h0m15.7-.8h0"/>
<path class=i d="M355 252.4h0m-19.4-.8h0m-74.1 .7h0m24.3-.7h0m9.7-.4h0m40.1-1h0m17 .4h0m-89.9-.4h0m-1.2-.7h0m60.7-.6h0"/>
<path class=p d="M323.4 253.7h0m-1.2-.4h0m6.1-.2h0m32.7-.1h0m-29.1-.4h0m-9.7-.2h0m34-.1h0m-17-.2h0m-13.4-.6h0m-3.6-.2h0m61.9-.2h0m-60.7 .5h0m-1.2-.7h0m8.5 .1h0m-66.8-1.3h0m116.6-.1h0m-47.4 .5h0m-9.7-.6h0m-36.4-.2h0m63.1-.4h0m-21.8 0h0"/>
<path class=v d="M262.7 247.5h0m23.1-.6h0m59.5-1.3h0m-77.7-1.3h0m60.7 .6h0m10.9-.4h0"/>
<path class=i d="M333.1 247.2h0m13.4 1.1h0m-23.1-.3h0m44.9-.6h0m-32.7-.6h0m108.6 .7h0m-119.6 .2h0m-61.9-.4h0m1.2 .2h0m21.9-1.3h0m-10.9-.2h0m-11 .5h0m-3.6-.7h0m3.6-.7h0m-15.8-.2h0m15.8-.5h0m20.7-.7h0m-11 .1h0"/>
<path class=g d="M350.1 247.9h0m-10.9-1.5h0m-99.6-2.6h0"/>
<path class=p d="M330.7 248.3h0m-1.2 .1h0m-1.2-.1h0m-3.7-1h0m-35.2-.5h0m-27.9-.4h0m60.7 .8h0m21.9-.1h0m-59.5-.7h0m100.7-1h0m-63.1 1h0m59.5 0h0m-59.5-.8h0m60.7-.4h0m-112.9 1h0m52.2-1h0m1.2 .2h0m3.7 .2h0m6 .1h0m-10.9-1.1h0m-36.4 .1h0m-24.3 .3h0m108-1.1h0m14.6 .2h0m-60.7 .8h0m201-1.5h0m-177.9 1.3h0m18.2-.5h0m-139.6-.4h0"/>
<path class=v d="M322.2 242.8h0m-60.7 .1h0m85-.3h0m9.7 0h0m-15.8 .8h0m-1.2-1h0m42.5-1h0m-115.3-1.5h0m24.2-1.1h0m-20.6-.4h0"/>
<path class=p d="M358.6 243.7h0m-82.5-.4h0m12.1 .6h0m72.8 .6h0m-99.5-1h0m32.8-.2h0m-30.4-.7h0m64.4 .2h0m-12.2-.3h0m32.8-1.1h0m-26.7 1h0m15.8-.7h0m-109.3-1.2h0m115.4 1h0m-58.3-.6h0m70.4 .3h0m-17-.4h0m18.2 .1h0m8.5-.9h0m-97.1 .2h0m131.7-.4h0m-34.6-.8h0m4.9-.1h0m-8.5 .8h0"/>
<path class=i d="M225.1 243h0m49.8 .3h0m-46.2 0h0m94.7 .2h0m10.9-.8h0m-10.9 .6h0m0-.5h0m-34-.1h0m34-.5h0m1.2-.1h0m3.7-.5h0m-6.1 .5h0m-27.9-1.1h0m-8.5-.5h0m46.1 .8h0m-1.2-1.2h0m-41.3-.6h0m-25.5 .4h0m-24.3-.1h0m85 .1h0"/>
<path class=g d="M262.7 243.1h0m59.5-1.2h0m-82.6-.7h0m162.6 .4h0m-70.3-.8h0m-8.5-1.6h0m12.2-.4h0m-74.1 .6h0"/>
<path class=f d="M287 238.4h0"/>
<path class=g d="M321 238.7h0"/>
<path class=v d="M335.6 238h0m47.3-.6h0m-88.6-.3h0m40-1.7h0m-42.5-.8h0"/>
<path class=i d="M327.1 239h0m2.4-1.2h0m-43.7-.4h0m51-.2h0m-110.5-.4h0m95.9 0h0m-82.6-.4h0m74.1-.6h0m26.7-.9h0m-131.1 .4h0m122.6 .2h0m36.4-.3h0m24.8 .2h0m-168-.2h0m48.5-.7h0m-6 .5h0m-4.9-.9h0m-54.6 0h0"/>
<path class=p d="M325.8 238.3h0m-3.6 .9h0m-58.3-1.2h0m83.8 .5h0m-15.8 .5h0m13.4-.8h0m8.5-.3h0m-26.7 .2h0m13.3-.4h0m-9.7-.8h0m-68 .6h0m60.7-.7h0m1.2-.4h0m32.8-.1h0m-35.2-1h0m6.1 .4h0m13.3-.4h0m18.2 0h0m-10.9-.1h0m-80.1 .1h0m34-.8h0m23 .5h0m-52.2 .2h0m54.7-1.1h0m-64.4-.5h0"/>
<path class=v d="M327.1 234h0m-64.4-.8h0m69.2-.1h0m31.6-.2h0m-98.4-.7h0m25.5-2.5h0m31.6 .1h0m-114.1-1.2h0m98.3-.4h0"/>
<path class=p d="M348.9 233.8h0m-18.2 .8h0m44.9-.7h0m-54.6-.3h0m27.9-1.4h0m-53.4-.1h0m-14.6 .4h0m80.1-.7h0m-9.7 .3h0m-20.6-.3h0m7.3-.5h0m-54.6 .1h0m61.9-.4h0m-36.5 .8h0m21.9-1.2h0m-44.9-1h0m14.5-.4h0m36.5 1h0m21.8-1.1h0m-60.7 .2h0m-15.8-.2h0m89.9-.7h0"/>
<path class=g d="M322.2 233.6h0m4.9 .1h0m15.7-1.1h0m4.9 .4h0m-12.1-2.5h0m-8.5-.4h0m15.7-1.6h0"/>
<path class=i d="M322.2 233.4h0m-53.4 .3h0m175.4-.1h0m-158.4-.7h0m59.5 .5h0m-7.3-.3h0m-13.4-.3h0m-63.1 .1h0m0-1h0m60.7-.6h0m-35.2 .5h0m-13.4-.5h0m85 .2h0m-35.2-.6h0m-37.6-.3h0m57 1.1h0m-81.3-1.4h0m63.1 .2h0m-106.8-.1h0m126.3-1.1h0m-9.8 .5h0"/>
<path class=g d="M352.6 227.6h0m-85-.1h0m18.2-2.5h0m57-.8h0"/>
<path class=v d="M353.8 227.7h0m-2.5-.3h0m-1.2 .1h0m38.9-.5h0m-66.8 1h0m64.3-.3h0m-160.2-.6h0m111.7 .5h0m1.2-1.4h0m-41.3-.7h0m74.1-.1h0m-36.4 0h0m-1.3-.7h0m48.6 .2h0"/>
<path class=p d="M358.6 228.1h0m-94.7-.4h0m63.2 .1h0m7.2 .1h0m53.5 .4h0m-29.2-.7h0m-60.7 .3h0m24.3 .1h0m7.3-.3h0m-4.9 0h0m25.5 .2h0m21.9-.8h0m12.1 .1h0m-25.5-.8h0m-29.1 .2h0m-48.6-.7h0m47.4 0h0m-3.7 .5h0m-43.7-1h0m8.5-.1h0m-17-.4h0m49.8 .9h0m-29.1-.2h0m-51-.6h0m102-1.5h0m15.7 1.3h0m-83.7-.7h0m46.1-.1h0"/>
<path class=i d="M295.5 228.6h0m-69.2-.3h0m102-.2h0m-65.6-.5h0m99.6-1.4h0m-100.8-.2h0m61.9 .4h0m-59.5-1.2h0m-1.2 .3h0m60.7 .2h0m0-.3h0m36.4 .7h0m-69.2-1.2h0m34 1.1h0m-95.9-1.3h0m34 .2h0m83.8 0h0m-74.1-1.5h0m53.4 0h0m3.7-.1h0m-7.3 .1h0m-60.7-.4h0m136.8-.5h0m-181.7-.1h0m52.2-.4h0m-24.3-.4h0m-18.2-1.3h0m29.1-1.2h0"/>
<path class=p d="M333.1 223.9h0m-41.3-1.1h0m-29.1 .4h0m76.5 .2h0m47.3 .6h0m-47.3-2.6h0m4.9-.3h0m-82.6 .1h0m74.1-.6h0m-4.9-.9h0m13.4 .6h0m-82.6-.6h0m105.6 .4h0m-27.9-.6h0m41.3 .3h0m-41.3-.6h0"/>
<path class=v d="M267.6 223.8h0m55.8-.4h0m1.2 .1h0m11-.8h0m-12.2 .2h0m-36.4 .3h0m59.5-.4h0m-66.8-.4h0m18.2-.2h0m-32.8-.5h0m45-.1h0m-47.4 .3h0m64.4-.5h0m8.5-.3h0m-11-.4h0m-2.4 .1h0m1.2 .4h0m21.9-.4h0m-59.5-1.2h0m-49.8 .1h0m91.1 .2h0m-2.5 .2h0m-2.4-.9h0m-53.4-.3h0m-7.3-.3h0"/>
<path class=g d="M322.2 222.8h0m0-1h0m27.9-1.4h0m-60.7-.8h0"/>
<path class=f d="M443.2 221.3h0m-113.7 .4h0m64.8-2.2h0"/>
<path class=g d="M328.3 218.7h0m42.5-1h0m-104.4-3.5h0"/>
<path class=v d="M348.9 217.4h0m-110.5-.8h0m109.3-1.1h0m-3.6 .4h0m-57.1 .4h0m124.4-.9h0m-55.2 .3h0m-75.3 .5h0m-40-1.2h0"/>
<path class=i d="M353.8 219.4h0m-128.7-.5h0m72.8-1h0m-34 0h0m-1.2 .3h0m-53.4-.5h0m151.7 0h0m9.8-.9h0m-99.6-1.6h0m15.8-.2h0m-3.6-.8h0m-20.7 .1h0m133.2-.1h0"/>
<path class=p d="M323.4 219.3h0m51-.8h0m-51-.1h0m7.3-.1h0m-4.9 .6h0m20.7-1.4h0m-41.3 .6h0m18.2-.5h0m-49.8-.3h0m-12.1 .4h0m-3.6 .3h0m65.5-.5h0m-1.2 .1h0m10.9-1.3h0m26.7 .5h0m-27.9 .1h0m75.9-.3h0m-65-1.1h0m3.7 .7h0m-24.3-.4h0m30.4 0h0m-74.1-.2h0m104.4-.4h0m-98.3-.1h0m98.3-.7h0m-60.7 .5h0m4.9-.3h0m1.2 .1h0m-4.9 .4h0m-21.8-.6h0m23-.1h0m-2.4-.7h0"/>
<path class=f d="M262.7 218.7h0m7.3-1.4h0m19.4-4.8h0m291-.9h0"/>
<path class=i d="M345.3 213.5h0m-81.4-.6h0m13.4 0h0m48.5-.7h0m-40-.2h0m-24.3-.1h0m12.1-.7h0m114.2 .2h0m-60.7-.5h0m53.4-.7h0m-55.9 .3h0m-61.9-.6h0m61.9 .1h0m-76.5-.8h0m94.7-.1h0m14.6-.2h0m23.1 .1h0m-32.8-.5h0m51.6-.1h0"/>
<path class=v d="M285.8 213.8h0m-24.3-.3h0m131.1-.2h0m-120.2-1h0m57.1 .5h0m-66.8-.3h0m83.8-.4h0m-13.4-.1h0m-17-1.3h0m-54.6-.8h0m69.2 .1h0m-49.8-.2h0m43.7 0h0m-38.8-.6h0m0-1.3h0"/>
<path class=g d="M322.2 213.2h0m-41.3 0h0m64.4-.6h0m-72.9-1.2h0m59.5 .1h0m44.9-.9h0m-44.9-1.6h0m20.7-.8h0"/>
<path class=p d="M323.4 212.8h0m27.9 1.3h0m-19.4-1.2h0m-9.7-1.4h0m69.2 .8h0m-40.1 .1h0m-27.9-.5h0m13.4-.8h0m-35.2 1.1h0m40-1.2h0m-80.1-.2h0m61.9-.2h0m-1.2 .2h0m-27.9 .8h0m27.9-1.5h0m10.9-.2h0m23.1 .7h0m-32.8-.7h0m1.2-.4h0m-1.2-1.9h0"/>
<path class=g d="M355 208.2h0m-24.3-1.6h0m25.5-1.7h0m-61.9-1.6h0"/>
<path class=i d="M301.6 207.6h0m-40.1 .2h0m64.3-1.1h0m-1.2 .7h0m-51-.8h0m1.3-.6h0m-13.4-.3h0m119-.1h0m-82.6-2.8h0m-31.5 .5h0m3.6-.9h0m36.4 .7h0m-20.6-.8h0"/>
<path class=v d="M341.6 208.2h0m43.7-.5h0m-60.7-.8h0m-2.4-.2h0m15.8 0h0m47.3-.1h0m-63.1-.6h0m24.3-.3h0m-21.9 .5h0m3.7-.1h0m-92.3-.3h0m26.7-.7h0m68 .2h0m7.3-.3h0m-75.3-1.9h0m72.9 .8h0m-6.1-.8h0"/>
<path class=p d="M285.8 208.2h0m-24.3-.7h0m91.1-.1h0m-11-.8h0m-23 1h0m18.2-1.2h0m-65.6 .9h0m20.6-1h0m55.9-.1h0m-2.4-.1h0m-21.9-.1h0m1.2-1.2h0m9.7 .7h0m-1.2-.1h0m23.1 0h0m-31.6-1.1h0m2.5-.5h0m46.1 .3h0m-51-.2h0m4.9-.3h0m32.7 0h0m-72.8-.4h0m36.4-.9h0m49.8 .8h0m-41.3-1h0m-2.4 .2h0m31.5 .4h0"/>
<path class=i d="M323.4 201.7h0m-51-.2h0m1.2-1.2h0m13.4 .2h0m78.9-.6h0m-76.5 0h0m4.9-.6h0m43.7 0h0m44.9 .4h0m-51-1.8h0m-69.2-.4h0m23.1-.4h0m123.4 .2h0m-87-.6h0m-36.4-1.3h0"/>
<path class=g d="M335.6 199.4h0m17-1.4h0m-57.1 .3h0m63.1-1.5h0m-71.6-.3h0"/>
<path class=p d="M293.1 201.7h0m35.2-.3h0m0-.7h0m6 .3h0m37.7-.2h0m-49.8-.3h0m-42.5-.8h0m104.4-.5h0m-3.6-.5h0m-35.2 .6h0m38.8-.7h0m-78.9-.2h0m34 .3h0m25.5-.1h0m-75.3 .1h0m-25.5-.9h0m72.9 .2h0m-14.6 0h0m40.1-.4h0m-2.5 .1h0m-30.3-.5h0m14.6-1h0m-14.6-.2h0m19.4-.1h0m34-1h0"/>
<path class=v d="M323.4 200.9h0m-43.7 .1h0m44.9-.8h0m2.5-.3h0m-40.1-.2h0m41.3-.7h0m-3.7 .1h0m26.7-.3h0m1.3 .2h0m-30.4 .1h0m6.1-1h0m0-1.4h0m-4.9-1.3h0m-30.3-.7h0"/>
<path class=f d="M370.8 198.2h0m316.6-6.7h0m-304.5-1.5h0"/>
<path class=v d="M336.8 194.5h0m-8.5-.3h0m59.5-.3h0m-102-1.3h0m43.7-2h0m40-1.1h0m-106.8 .3h0m66.8-.1h0"/>
<path class=g d="M331.9 194.8h0m4.9-3h0"/>
<path class=p d="M340.4 194.5h0m-15.8 .2h0m-55.8-.4h0m17-.8h0m40 .3h0m-25.5 .3h0m48.6 .1h0m-4.8 .3h0m-18.3-1.2h0m-3.6 .5h0m-12.1-.5h0m50.9 1h0m-37.6-1.5h0m-1.2 .6h0m40.1-1.2h0m-4.9-.8h0m-94.7-.2h0m59.5-.2h0m14.6 0h0m-12.2-.4h0m-9.7-.4h0m10.9-.9h0"/>
<path class=i d="M323.4 195h0m-57 .2h0m-36.5-.5h0m93.5-.5h0m-51-.4h0m88.6 .3h0m-99.5-.6h0m85 .4h0m21.8-.2h0m-118.9-.7h0m17 0h0m76.4 .2h0m31.6-.4h0m-52.2 .4h0m-48.6-1.4h0m48.6 .4h0m-91-1.3h0m110.4 .4h0m-18.2-.8h0m23.1 0h0m-1.2-.4h0m-55.9-.7h0m77.7 .2h0"/>
<path class=v d="M368.3 189h0m-19.4-.2h0m-61.9-.6h0m35.2-.4h0m42.5-.6h0m-24.3-.5h0m-94.7-.1h0m110.5 .6h0m-71.6-1.1h0m86.2-1.5h0m17-.1h0m1.2-.3h0m-66.8-.5h0m7.3-.6h0"/>
<path class=f d="M350.1 189.1h0m-12.1-.5h0"/>
<path class=g d="M338 189.6h0m17-.2h0m29.1-.5h0m8.5-1.1h0m51.3-2.4h0m-119.3-.8h0m9.7 0h0"/>
<path class=p d="M325.8 188.7h0m45 0h0m-93.5-.7h0m54.6 .6h0m14.6 .4h0m6.1-1.4h0m-89.9-.2h0m111.7-.1h0m-10.9-.8h0m20.6 .3h0m-23.1-.5h0m-37.6 .5h0m54.6-2.2h0m-76.4-.4h0m29.1 .7h0m9.7-1.1h0m46.1 .6h0m-37.6-.8h0m31.6 .8h0m-58.3-1.2h0m-15.8-.1h0m66.8 .7h0"/>
<path class=i d="M324.6 189.6h0m0-.3h0m19.5-.6h0m-53.5 .3h0m31.6-.2h0m-40.1-.7h0m51-.2h0m-9.7-.6h0m25.5 .9h0m-20.6-.6h0m52.2-1h0m-110.5 .9h0m55.8-1h0m25.5 .2h0m-47.3-.5h0m-42.5 0h0m3.6-1.1h0m91.1 .1h0m-3.6-.6h0m-18.3-.6h0m-71.6 .4h0m-49.8-.4h0m60.7-.9h0m75.3 0h0m-83.8 .2h0m-3.6-.5h0m61.9-.3h0m23.1-.5h0m-23.1 .2h0m-43.7-.3h0m-54.6-.6h0m169.6-.1h0m-48.2-.4h0m3.6-.8h0m-70.4-.1h0m-15.8-.5h0m-1.2-.2h0m10.9-.1h0m48.6-1.2h0m-17-.1h0m77.7-1h0"/>
<path class=f d="M625.3 177.4h0"/>
<path class=v d="M265.1 183h0m86.2-.5h0m-40-.1h0m29.1-.1h0m-75.3-1.6h0m103.2-.7h0m-82.5-.9h0m27.9-.3h0m8.5-.7h0m-53.4-.3h0"/>
<path class=p d="M301.6 183.5h0m55.8-.5h0m7.3 .3h0m-4.9-.2h0m-2.4-.9h0m-12.1-.9h0m-3.7 .5h0m-13.3-.9h0m-66.8 .6h0m68 .3h0m34-.6h0m-98.4 .4h0m4.9 .1h0m115.3-1.2h0m-122.6-.3h0m120.2 .2h0m-52.2-.4h0m-8.5-.7h0m13.4-.1h0m-11 0h0m6.1 0h0m13.4-.8h0m4.8 .4h0m4.9-1.2h0m-28 .5h0m7.3-.3h0m6.1-.5h0"/>
<path class=g d="M323.4 182.1h0m64.4-2.4h0m-30.4 .2h0m-34-.8h0m78.4-.7h0m-22.5-.2h0m-43.7-.3h0m7.2-2.2h0m101.1-.2h0m-116.8-.8h0m75.7-2.2h0m-80.6-.9h0"/>
<path class=i d="M386.5 176.9h0m-99.5-.5h0m65.6-1.1h0m-17-.3h0m-38.9 .6h0m59.5-.1h0m-21.9-.9h0m-2.4 0h0m40.1 .2h0m-97.1-.2h0m18.2 0h0m40-.3h0m-47.3-.5h0m47.3-.3h0m43.7 .2h0m-101.9 .5h0m55.8-.8h0"/>
<path class=v d="M347.7 176.9h0m-21.9-.6h0m-38.8 .3h0m78.9-1.3h0m-99.5 0h0m-1.3-.1h0m45-.9h0m29.1 .6h0m-76.5-.4h0m63.1-.7h0m49.8 .3h0m-17-.9h0m-87.4-.6h0m65.6 .3h0m-48.6-.9h0m-26.7 .6h0"/>
<path class=p d="M323.4 177.2h0m25.5-1h0m99.2 .2h0m-124.7-.3h0m35.2-1h0m-35.2 .5h0m30.4 0h0m-76.5 .2h0m100.7-.3h0m6.1-.6h0m-37.6 .2h0m-23.1-.7h0m23.1 .1h0m-12.2-1.5h0m-2.4 .7h0m15.8 .4h0m21.8-.6h0m-46.1 0h0m-1.2 0h0m182.5-1h0m-150.9 .9h0m-29.2-.6h0m1.2-.1h0m118.1 .2h0m-95-.5h0m-30.3 .1h0m65.5-.3h0m-46.1-.2h0m-3.7-1.3h0m13.4-.1h0m-20.6-.7h0m29.1-.5h0m-248.9 522.4h0"/>
<path class=i d="M334.3 172.2h0m-7.2-.5h0m-102-.4h0m3.6-.4h0m32.8-.8h0m82.6-.5h0m51.8 .7h0m-50.6-.8h0m38.8 .3h0m-60.7-.5h0m-219.7 522.7h0m0-.3h0"/>
<path class=g d="M361 172.1h0m-36.4-.2h0m94.3-2.6h0"/>
<path class=v d="M323.4 172h0m20.7 .1h0m9.7-.3h0m-30.4-.3h0m-59.5-1.2h0m-151.7 521.4h0m-1.2 0h0"/>
<path class=i d="M109.8 691.7h0"/>
<path class=p d="M113.4 691.6h0m-9.7-.4h0"/>
<path class=g d="M115.8 691.6h0"/>
<path class=p d="M112.2 691.4h0"/>
<path class=v d="M107.3 691.7h0"/>
<path class=i d="M103.7 691.2h0"/>
<path class=v d="M111 691.3h0"/>
<path class=p d="M104.9 691h0m2.4 .4h0"/>
<path class=v d="M112.2 691.3h0m3.6 .2h0"/>
<path class=g d="M108.5 691.7h0"/>
<path class=p d="M118.2 690.9h0"/>
<path class=f d="M107.3 691.3h0"/>
<path class=p d="M109.8 691.4h0m7.2-.2h0"/>
<path class=v d="M115.8 691.4h0"/>
<path class=f d="M115.8 691.3h0"/>
<path class=p d="M109.8 691.2h0m1.2-.5h0"/>
<path class=v d="M118.2 690.7h0"/>
<path class=i d="M104.9 690.7h0m2.4 .4h0"/>
<path class=f d="M113.4 691.4h0"/>
<path class=v d="M107.3 690.8h0m1.2 .2h0m13.4-1h0"/>
<path class=i d="M117 691h0"/>
<path class=v d="M109.8 690.8h0"/>
<path class=p d="M117 690.7h0"/>
<path class=g d="M113.4 690.6h0m6.1-.1h0"/>
<path class=p d="M107.3 690.5h0m-3.6-.4h0m18.2-.3h0"/>
<path class=v d="M107.3 690.4h0m8.5 .3h0m-12.1-1.2h0m3.6 .6h0"/>
<path class=i d="M112.2 690.7h0"/>
<path class=p d="M120.7 690.1h0m0-.1h0m-4.9 .5h0m-6-.1h0"/>
<path class=v d="M114.6 690.2h0m-3.6 .1h0"/>
<path class=p d="M123.1 689.6h0m-15.8 .4h0"/>
<path class=v d="M118.2 690.2h0m-13.3-.8h0m15.8 .3h0m-3.7 .8h0"/>
<path class=i d="M103.7 689.3h0"/>
<path class=v d="M109.8 690h0"/>
<path class=p d="M111 690.3h0m4.8-.2h0m2.4-.4h0"/>
<path class=i d="M119.5 689.8h0m-9.7 0h0"/>
<path class=g d="M114.6 689.8h0"/>
<path class=i d="M107.3 689.7h0"/>
<path class=v d="M124.3 689.3h0"/>
<path class=p d="M108.5 689.9h0"/>
<path class=v d="M119.5 689.4h0"/>
<path class=g d="M108.5 689.4h0m8.5 .2h0"/>
<path class=p d="M111 689.4h0m10.9 .1h0m-14.6-.1h0"/>
<path class=i d="M112.2 689.4h0m-6.1-.6h0m1.2 .3h0"/>
<path class=f d="M125.5 689h0"/>
<path class=p d="M125.5 688.3h0m-4.8 .8h0"/>
<path class=i d="M107.3 689h0m12.2 .2h0"/>
<path class=v d="M108.5 689.1h0"/>
<path class=p d="M109.8 689.1h0m3.6 .5h0m2.4 .1h0m0-.4h0"/>
<path class=g d="M114.6 689h0"/>
<path class=f d="M123.1 689h0"/>
<path class=p d="M118.2 689.1h0m-7.2 0h0"/>
<path class=g d="M123.1 688.8h0m-19.4 0h0"/>
<path class=f d="M124.3 688.6h0"/>
<path class=v d="M109.8 688.8h0"/>
<path class=i d="M107.3 688.8h0"/>
<path class=p d="M115.8 689.1h0"/>
<path class=v d="M124.3 688.4h0m-12.1 .7h0"/>
<path class=i d="M109.8 688.5h0m13.3 .1h0m-17-.4h0m1.2 .3h0"/>
<path class=p d="M107.3 688.5h0m4.9 0h0"/>
<path class=f d="M115.8 688.8h0m14.6-1.1h0"/>
<path class=g d="M113.4 688.5h0"/>
<path class=i d="M115.8 688.7h0"/>
<path class=v d="M111 688.4h0"/>
<path class=p d="M118.2 688.8h0"/>
<path class=i d="M120.7 688.8h0"/>
<path class=f d="M125.5 687.7h0"/>
<path class=p d="M113.4 688.3h0m19.4-1.3h0"/>
<path class=v d="M118.2 688.3h0"/>
<path class=g d="M129.2 687.6h0"/>
<path class=p d="M109.8 688.2h0"/>
<path class=v d="M126.7 687.8h0m-19.4 .5h0m8.5 .1h0"/>
<path class=f d="M128 687.8h0"/>
<path class=g d="M112.2 688.2h0"/>
<path class=v d="M130.4 687.5h0m-8.5 .4h0m8.5-1.1h0"/>
<path class=p d="M109.8 687.7h0m14.5-.1h0"/>
<path class=g d="M114.6 688.3h0"/>
<path class=v d="M123.1 687.8h0"/>
<path class=p d="M112.2 687.7h0m-8.5-.4h0m9.7 .5h0m6.1 0h0"/>
<path class=v d="M111 687.4h0"/>
<path class=p d="M117 688.6h0"/>
<path class=i d="M109.8 687.4h0"/>
<path class=v d="M107.3 687.6h0m4.9-.3h0"/>
<path class=i d="M108.5 687.4h0m3.7-.2h0m-2.4-.1h0"/>
<path class=v d="M120.7 687.4h0"/>
<path class=g d="M126.7 687.4h0"/>
<path class=f d="M115.8 687.8h0"/>
<path class=p d="M119.5 687.5h0m8.5-.2h0"/>
<path class=i d="M108.5 686.8h0"/>
<path class=p d="M114.6 687.7h0"/>
<path class=v d="M114.6 687.6h0"/>
<path class=g d="M117 687.8h0"/>
<path class=f d="M117 687.4h0"/>
<path class=v d="M128 687.2h0"/>
<path class=g d="M113.4 687.5h0"/>
<path class=p d="M120.7 687.3h0m-8.5-.7h0m6 .6h0"/>
<path class=v d="M107.3 686.8h0m9.7 .2h0"/>
<path class=i d="M120.7 687h0"/>
<path class=v d="M124.3 687.3h0m-6.1-.5h0m-4.8 0h0"/>
<path class=g d="M111 686.8h0m24.2-.2h0m-23 0h0"/>
<path class=v d="M121.9 686.9h0m-14.6-.4h0"/>
<path class=p d="M115.8 687.2h0m-1.2-.7h0m-4.8 .3h0"/>
<path class=i d="M117 686.8h0"/>
<path class=p d="M111 686.4h0"/>
<path class=v d="M112.2 686.3h0"/>
<path class=f d="M121.9 686.4h0"/>
<path class=g d="M123.1 686.5h0m-2.4-.1h0"/>
<path class=p d="M107.3 686.4h0"/>
<path class=g d="M130.4 686.2h0m-14.6 .5h0m2.4-.3h0"/>
<path class=p d="M125.5 686.6h0m-8.5-.1h0"/>
<path class=i d="M113.4 686h0m7.3 .3h0m-13.4-.3h0m0 0h0"/>
<path class=v d="M128 686.5h0"/>
<path class=i d="M107.3 685.5h0"/>
<path class=p d="M131.6 686.1h0"/>
<path class=g d="M130.4 685.7h0m3.6-.3h0"/>
<path class=p d="M115.8 686.4h0"/>
<path class=v d="M109.8 686.4h0m4.8-.2h0m10.9-.5h0"/>
<path class=i d="M112.2 686.1h0m-3.7-.3h0"/>
<path class=g d="M117 686.2h0"/>
<path class=p d="M113.4 685.9h0m2.4 .1h0"/>
<path class=i d="M111 685.6h0"/>
<path class=g d="M123.1 686.1h0m-3.6 .3h0"/>
<path class=v d="M120.7 685.7h0m6-.1h0"/>
<path class=g d="M130.4 685.2h0m-1.2 .2h0m-13.4 .4h0"/>
<path class=v d="M131.6 684.9h0"/>
<path class=i d="M117 685.8h0m-7.2 .1h0"/>
<path class=p d="M115.8 685.6h0"/>
<path class=v d="M109.8 685.4h0m9.7 .3h0m1.2-.3h0m7.3-.3h0"/>
<path class=i d="M107.3 685.4h0"/>
<path class=f d="M131.6 684.5h0"/>
<path class=p d="M134 684.6h0m-15.8 1.1h0"/>
<path class=v d="M117 685.6h0m1.2-.2h0"/>
<path class=p d="M115.8 685.5h0"/>
<path class=i d="M128 684.9h0"/>
<path class=v d="M108.5 685.3h0"/>
<path class=i d="M124.3 685.5h0"/>
<path class=p d="M113.4 685.7h0"/>
<path class=i d="M140.1 684.7h0m-32.8 .2h0m14.6 .5h0"/>
<path class=v d="M124.3 685.2h0m-10.9-.2h0m7.3 .2h0"/>
<path class=p d="M123.1 684.8h0m6.1 .3h0"/>
<path class=g d="M136.5 683.9h0"/>
<path class=v d="M131.6 684.4h0m-12.1 1h0"/>
<path class=p d="M125.5 685.3h0"/>
<path class=i d="M126.7 684.6h0m-7.2 .7h0m10.9-.6h0"/>
<path class=p d="M125.5 684.8h0m6.1-.5h0m10.9 .1h0"/>
<path class=v d="M115.8 685.3h0"/>
<path class=g d="M120.7 685h0"/>
<path class=i d="M111 685.3h0m-2.5-.4h0"/>
<path class=v d="M125.5 684.5h0"/>
<path class=p d="M140.1 684h0m-15.8 .7h0m-8.5 .4h0m14.6-.8h0m-12.2 .9h0"/>
<path class=v d="M129.2 684.7h0m-19.4 0h0m2.4 .3h0"/>
<path class=i d="M120.7 684.7h0m4.8-.4h0m-3.6 .1h0"/>
<path class=g d="M117 684.8h0"/>
<path class=v d="M113.4 684.7h0"/>
<path class=i d="M107.3 684.3h0"/>
<path class=p d="M113.4 684.6h0"/>
<path class=f d="M131.6 683.6h0"/>
<path class=i d="M107.3 684h0m1.2 .4h0"/>
<path class=p d="M115.8 685h0m15.8-1.5h0"/>
<path class=f d="M140.1 683.9h0"/>
<path class=g d="M128 684.1h0"/>
<path class=p d="M115.8 684.4h0"/>
<path class=i d="M111 684.5h0m19.4-.4h0"/>
<path class=v d="M130.4 683.6h0m-4.9 .5h0"/>
<path class=f d="M129.2 684.2h0"/>
<path class=p d="M115.8 684.2h0"/>
<path class=g d="M131.6 683.2h0"/>
<path class=v d="M119.5 684.8h0m7.2-1h0"/>
<path class=p d="M117 684.3h0m3.7-.1h0"/>
<path class=i d="M109.8 683.7h0"/>
<path class=g d="M123.1 684.4h0m1.2-.2h0m-2.4 .1h0m4.8-.9h0"/>
<path class=p d="M113.4 684.2h0"/>
<path class=i d="M112.2 684.1h0m-4.9-.2h0m6.1-.6h0m2.4 .8h0m1.2 0h0m26.7-.5h0m-23 .3h0"/>
<path class=v d="M118.2 684.2h0"/>
<path class=g d="M118.2 684h0"/>
<path class=v d="M112.2 683.5h0m10.9 .4h0m-14.6-.3h0"/>
<path class=f d="M134 682.3h0"/>
<path class=i d="M111 683.7h0"/>
<path class=p d="M117 683.7h0"/>
<path class=v d="M120.7 683.7h0m-7.3-.5h0"/>
<path class=i d="M111 683.5h0"/>
<path class=p d="M125.5 683.5h0m-1.2 .3h0"/>
<path class=g d="M129.2 683.5h0"/>
<path class=f d="M130.4 683.3h0"/>
<path class=i d="M109.8 683.2h0"/>
<path class=v d="M118.2 683.7h0m12.2-.5h0m-6.1 .3h0"/>
<path class=p d="M118.2 683.6h0m-2.4 .3h0m9.7-.8h0"/>
<path class=i d="M107.3 682.6h0"/>
<path class=v d="M121.9 683.5h0m-2.4 .2h0m2.4-.4h0"/>
<path class=p d="M130.4 682.8h0"/>
<path class=i d="M112.2 683h0m10.9 .4h0m6.1-.3h0m-13.4 .3h0"/>
<path class=p d="M130.4 682.4h0"/>
<path class=i d="M125.5 682.8h0"/>
<path class=v d="M115.8 683.3h0m17-.9h0"/>
<path class=i d="M117 683.4h0"/>
<path class=g d="M119.5 683h0"/>
<path class=i d="M109.8 682.9h0m13.3 .4h0m-7.3-.1h0m-2.4-.5h0"/>
<path class=g d="M128 683.2h0"/>
<path class=p d="M115.8 683h0m1.2 .2h0"/>
<path class=i d="M121.9 682.9h0m-4.9-.1h0"/>
<path class=v d="M120.7 683.2h0m3.6-.1h0"/>
<path class=p d="M111 683h0m8.5-.1h0m9.7-.2h0"/>
<path class=v d="M124.3 682.8h0m6.1-.7h0m13.3-.3h0"/>
<path class=p d="M147.4 682.4h0"/>
<path class=i d="M109.8 682.5h0m10.9 .2h0m24.3-1.4h0"/>
<path class=v d="M117 682.7h0"/>
<path class=g d="M117 682.4h0"/>
<path class=v d="M109.8 681.8h0m16.9 .6h0m14.6-.4h0"/>
<path class=i d="M131.6 682h0m-15.8 .6h0m0-.1h0"/>
<path class=p d="M123.1 682.7h0"/>
<path class=v d="M120.7 682.5h0m20.6-.8h0"/>
<path class=i d="M125.5 682h0"/>
<path class=p d="M140.1 681.8h0"/>
<path class=i d="M121.9 682.3h0m-12.1-.6h0"/>
<path class=g d="M111 682.4h0"/>
<path class=p d="M147.4 681.2h0m-30.4 .9h0"/>
<path class=i d="M113.4 682.6h0m17-.8h0m-10.9 .7h0m0-.3h0"/>
<path class=v d="M132.8 681.4h0"/>
<path class=p d="M128 682.4h0m1.2-.5h0"/>
<path class=i d="M113.4 682h0m10.9 .1h0"/>
<path class=p d="M123.1 682.1h0"/>
<path class=v d="M120.7 682.1h0m8.5-.4h0"/>
<path class=i d="M111 681.9h0m4.8 .4h0"/>
<path class=p d="M137.7 681.2h0"/>
<path class=v d="M109.8 681.2h0m14.5 .8h0"/>
<path class=i d="M111 681.4h0"/>
<path class=p d="M143.7 680.7h0m-13.3 .7h0m-2.4 .3h0m-15.8 .1h0"/>
<path class=g d="M115.8 682h0"/>
<path class=f d="M141.3 680.9h0"/>
<path class=i d="M115.8 681.8h0"/>
<path class=v d="M117 681.7h0"/>
<path class=i d="M120.7 681.8h0"/>
<path class=v d="M126.7 681.7h0"/>
<path class=p d="M119.5 681.6h0"/>
<path class=v d="M123.1 681.6h0m-1.2 .1h0"/>
<path class=i d="M124.3 681.3h0"/>
<path class=f d="M135.2 680.7h0"/>
<path class=p d="M129.2 681.4h0m-3.7-.1h0"/>
<path class=v d="M124.3 681.1h0"/>
<path class=p d="M128 681.5h0m-13.4 0h0m17-.1h0m10.9-1.1h0"/>
<path class=v d="M121.9 681.4h0"/>
<path class=i d="M114.6 681.4h0"/>
<path class=p d="M124.3 681h0m-3.6 .3h0"/>
<path class=v d="M145 681h0m-18.3 .5h0"/>
<path class=f d="M140.1 681.2h0"/>
<path class=i d="M129.2 681.1h0"/>
<path class=p d="M121.9 681.1h0"/>
<path class=v d="M118.2 681.8h0m-1.2-.4h0"/>
<path class=i d="M112.2 680.9h0"/>
<path class=p d="M137.7 680.3h0"/>
<path class=v d="M115.8 681.4h0m10.9-.4h0m3.7 0h0m-9.7 .1h0"/>
<path class=f d="M148.6 680.1h0"/>
<path class=i d="M111 680.7h0"/>
<path class=v d="M128 680.8h0m7.2-.5h0m-4.8 .4h0m-10.9 .3h0"/>
<path class=p d="M140.1 680.6h0m-10.9 .1h0"/>
<path class=i d="M115.8 681h0"/>
<path class=p d="M131.6 680.8h0"/>
<path class=v d="M123.1 681h0m-4.9 .1h0m2.5-.2h0m2.4-.2h0"/>
<path class=i d="M115.8 680.8h0m20.7-1.1h0"/>
<path class=p d="M118.2 680.7h0m12.2-.2h0m-10.9 .4h0"/>
<path class=g d="M119.5 680.7h0"/>
<path class=i d="M112.2 680.1h0m0 .4h0m4.8 .2h0m1.2-.1h0"/>
<path class=p d="M129.2 680.5h0m10.9-.2h0m0-.3h0"/>
<path class=f d="M148.6 679.9h0"/>
<path class=v d="M145 680h0m-26.8 .4h0m7.3 .4h0"/>
<path class=i d="M115.8 680.6h0m1.2-.1h0"/>
<path class=p d="M132.8 680.4h0"/>
<path class=g d="M129.2 680.4h0"/>
<path class=i d="M114.6 680.3h0"/>
<path class=v d="M152.2 679.5h0m-31.5 1h0"/>
<path class=p d="M141.3 679.9h0"/>
<path class=f d="M151 679.4h0"/>
<path class=g d="M141.3 679.6h0"/>
<path class=p d="M123.1 680.6h0m26.7-1.6h0"/>
<path class=g d="M130.4 680.3h0m0-.2h0"/>
<path class=v d="M117 680.3h0"/>
<path class=i d="M113.4 680.4h0"/>
<path class=p d="M117 680.1h0m18.2-.6h0"/>
<path class=v d="M130.4 679.8h0m-14.6 .2h0"/>
<path class=g d="M126.7 680.5h0"/>
<path class=i d="M132.8 679.9h0m-4.8 .4h0"/>
<path class=f d="M147.4 679.5h0"/>
<path class=v d="M141.3 679.1h0m-13.3 .9h0m-4.9 .2h0"/>
<path class=i d="M114.6 679.8h0m-1.2-.3h0m13.3 .2h0"/>
<path class=v d="M132.8 679.6h0m-4.8 .2h0"/>
<path class=i d="M121.9 680.6h0"/>
<path class=v d="M140.1 679.3h0m-24.3 .5h0"/>
<path class=g d="M131.6 679.4h0"/>
<path class=p d="M115.8 679.7h0m1.2 0h0"/>
<path class=v d="M130.4 679.3h0m-1.2 .1h0"/>
<path class=i d="M118.2 679.8h0m7.3-.1h0"/>
<path class=p d="M119.5 680.1h0m3.6-.6h0"/>
<path class=v d="M121.9 679.5h0m6.1 .1h0"/>
<path class=i d="M113.4 679.2h0m21.8-.2h0"/>
<path class=v d="M120.7 679.7h0m0-.2h0m19.4-.6h0"/>
<path class=f d="M128 679.4h0"/>
<path class=v d="M124.3 679.2h0"/>
<path class=g d="M134 679.4h0m-7.3-.6h0m7.3 0h0"/>
<path class=p d="M141.3 678.5h0"/>
<path class=v d="M123.1 679.1h0m20.6-.7h0m-7.2-.1h0"/>
<path class=i d="M119.5 679.8h0m3.6-.9h0m2.4 .2h0"/>
<path class=g d="M129.2 679.3h0"/>
<path class=p d="M118.2 679.4h0"/>
<path class=i d="M121.9 678.9h0"/>
<path class=v d="M118.2 679.1h0"/>
<path class=i d="M115.8 679.6h0m14.6-.5h0"/>
<path class=g d="M151 678.6h0"/>
<path class=p d="M140.1 678.2h0m-7.3 .5h0m-2.4 .1h0m-4.9-.1h0m-6 .5h0"/>
<path class=v d="M120.7 679.3h0m14.5-1.3h0m-3.6 .6h0m-15.8 .1h0"/>
<path class=i d="M114.6 678.7h0"/>
<path class=f d="M148.6 677.5h0m-3.6 .7h0"/>
<path class=p d="M146.2 677.8h0m-29.2 1h0m4.9-.2h0m10.9-.5h0"/>
<path class=v d="M123.1 678.5h0m6.1 .4h0m-3.7-.4h0"/>
<path class=p d="M119.5 678.7h0m-1.3 .1h0m9.8-.1h0m8.5-.9h0"/>
<path class=v d="M126.7 678.4h0m13.4-.4h0m-20.6 .6h0"/>
<path class=p d="M143.7 677.9h0m-23 .8h0"/>
<path class=i d="M121.9 678.6h0m6.1-.2h0"/>
<path class=v d="M129.2 678.4h0m1.2-.2h0"/>
<path class=p d="M121.9 678.2h0m9.7 0h0m1.2-.2h0m8.5 .3h0"/>
<path class=f d="M147.4 677.6h0"/>
<path class=v d="M148.6 676.9h0m-20.6 1.4h0"/>
<path class=i d="M117 678.6h0"/>
<path class=g d="M121.9 678h0"/>
<path class=p d="M125.5 678.1h0m2.5-.1h0"/>
<path class=f d="M140.1 677.9h0"/>
<path class=v d="M124.3 678.2h0"/>
<path class=p d="M125.5 677.8h0"/>
<path class=f d="M132.8 678h0"/>
<path class=v d="M115.8 678.4h0m0-.3h0m13.4-.1h0m2.4-.2h0"/>
<path class=f d="M140.1 677.4h0"/>
<path class=g d="M120.7 678.2h0"/>
<path class=i d="M115.8 678h0"/>
<path class=p d="M124.3 677.8h0m-7.3 .3h0"/>
<path class=v d="M118.2 678.2h0m24.3-.8h0"/>
<path class=i d="M119.5 678.1h0"/>
<path class=p d="M118.2 678h0m21.9-.6h0"/>
<path class=v d="M123.1 677.8h0m6.1-.1h0m17-.8h0"/>
<path class=i d="M119.5 677.8h0m21.8-.4h0m-23.1-.1h0m18.3 .3h0"/>
<path class=p d="M120.7 677.9h0"/>
<path class=i d="M115.8 677.7h0"/>
<path class=v d="M121.9 677.4h0m18.2-.4h0m0-.1h0"/>
<path class=g d="M141.3 677.2h0m3.7-.3h0"/>
<path class=p d="M128 677.8h0m-7.3-.5h0m26.7-.6h0"/>
<path class=v d="M134 677.3h0"/>
<path class=g d="M145 676.5h0"/>
<path class=i d="M115.8 677.4h0"/>
<path class=p d="M135.2 676.8h0m-3.6 .3h0"/>
<path class=g d="M141.3 677h0"/>
<path class=i d="M126.7 677.4h0"/>
<path class=v d="M117 677.5h0"/>
<path class=p d="M123.1 677.5h0m2.4-.1h0"/>
<path class=i d="M115.8 677.3h0m3.7 .2h0m-2.5-.3h0"/>
<path class=p d="M118.2 677.2h0m21.9-.5h0"/>
<path class=v d="M135.2 676.3h0"/>
<path class=p d="M119.5 677.2h0m3.6-.1h0"/>
<path class=i d="M130.4 677.7h0m12.1-.7h0m-20.6 0h0"/>
<path class=v d="M140.1 676.5h0m-12.1 1.1h0m-3.7-.2h0"/>
<path class=i d="M118.2 676.9h0m4.9-.2h0"/>
<path class=v d="M115.8 677h0m10.9-.3h0m-9.7 .3h0m24.3-.5h0"/>
<path class=p d="M129.2 677.3h0m13.3-.7h0m-10.9 .4h0"/>
<path class=v d="M128 676.8h0"/>
<path class=g d="M143.7 676.4h0"/>
<path class=i d="M141.3 676.1h0"/>
<path class=p d="M136.5 676.5h0m6-.4h0m2.5 .2h0m8.5-.6h0m-6.1 .7h0"/>
<path class=v d="M145 675.8h0"/>
<path class=i d="M123.1 676.5h0"/>
<path class=p d="M136.5 675.7h0"/>
<path class=f d="M140.1 676.2h0m-14.6 .5h0"/>
<path class=p d="M128 676.6h0"/>
<path class=g d="M140.1 676h0"/>
<path class=i d="M131.6 676.5h0m-15.8 .1h0m4.9 .6h0"/>
<path class=v d="M123.1 676.3h0m-7.3 0h0m4.9-.3h0"/>
<path class=p d="M129.2 676.7h0m18.2-.6h0"/>
<path class=i d="M117 676.5h0m-1.2-.3h0"/>
<path class=g d="M115.8 676h0"/>
<path class=v d="M130.4 676.3h0m1.2-.5h0m6.1-.1h0m-8.5 .3h0"/>
<path class=f d="M140.1 676h0"/>
<path class=p d="M157.1 675.7h0m-25.5 0h0m-9.7 .5h0m20.6-.3h0m2.5-.3h0"/>
<path class=i d="M145 675.3h0"/>
<path class=v d="M132.8 675.7h0m-7.3 .4h0m2.5 0h0m7.2-.3h0"/>
<path class=g d="M140.1 675.8h0"/>
<path class=i d="M118.2 676.3h0m14.6-.8h0"/>
<path class=p d="M142.5 675.5h0"/>
<path class=i d="M117 675.8h0m4.9-.2h0"/>
<path class=v d="M124.3 676h0"/>
<path class=f d="M132.8 675.3h0"/>
<path class=p d="M126.7 675.7h0"/>
<path class=g d="M164.4 674.7h0m-32.8 .4h0"/>
<path class=p d="M128 675.7h0m2.4-.3h0"/>
<path class=v d="M140.1 675.5h0"/>
<path class=p d="M124.3 675.7h0"/>
<path class=i d="M120.7 675.7h0m8.5 .2h0m-13.4-.1h0"/>
<path class=p d="M129.2 675.4h0"/>
<path class=i d="M134 675.3h0m-14.5 .7h0"/>
<path class=v d="M129.2 675.3h0m-3.7 .4h0m14.6-.6h0m-9.7 0h0m-2.4 .4h0m12.1-.6h0m3.6 .2h0m-7.2-.4h0"/>
<path class=i d="M115.8 675.2h0m0-.5h0m0 0h0m1.2 1h0"/>
<path class=g d="M117 675.2h0m19.5-.6h0"/>
<path class=v d="M141.3 674.9h0m-12.1 .1h0m0 0h0"/>
<path class=i d="M123.1 675.5h0m-2.4-.2h0"/>
<path class=p d="M131.6 675h0"/>
<path class=v d="M140.1 674.5h0m-6.1 .2h0m8.5 .4h0"/>
<path class=p d="M128 675h0m20.6 .2h0m4.9-.4h0m-32.8 .4h0"/>
<path class=i d="M118.2 675.3h0m2.5-.6h0"/>
<path class=v d="M121.9 674.9h0"/>
<path class=i d="M125.5 674.9h0"/>
<path class=p d="M154.7 673.9h0m-24.3 .9h0m-6.1-.1h0m24.3-.3h0m-6.1 .2h0m-7.3 .2h0m4.9-.5h0"/>
<path class=v d="M147.4 674.8h0"/>
<path class=i d="M117 674.9h0m11-.1h0"/>
<path class=f d="M151 674.8h0m-15.8-.7h0"/>
<path class=i d="M145 674.9h0"/>
<path class=g d="M129.2 674.7h0"/>
<path class=p d="M125.5 674.4h0m23.1-.5h0"/>
<path class=f d="M149.8 674.1h0"/>
<path class=p d="M126.7 674.6h0m6.1-.5h0m-3.6 .3h0"/>
<path class=v d="M147.4 673.6h0"/>
<path class=g d="M128 674.5h0"/>
<path class=i d="M121.9 674.5h0"/>
<path class=p d="M132.8 673.9h0m-12.1 .5h0"/>
<path class=v d="M143.7 673.5h0m-17 .8h0"/>
<path class=g d="M135.2 673.7h0"/>
<path class=i d="M115.8 674.5h0m8.5-.1h0m-8.5-.1h0m6.1-.2h0"/>
<path class=f d="M134 673.5h0"/>
<path class=g d="M140.1 674.1h0m-21.9 .9h0m12.2-.7h0"/>
<path class=p d="M149.8 673.9h0m-29.1 .1h0m6 .3h0m14.6-.3h0"/>
<path class=f d="M165.6 673.6h0"/>
<path class=p d="M124.3 674.2h0"/>
<path class=i d="M119.5 674h0m25.5-.7h0"/>
<path class=v d="M123.1 673.9h0m19.4-.2h0"/>
<path class=g d="M125.5 673.8h0"/>
<path class=v d="M126.7 674h0"/>
<path class=g d="M147.4 673.1h0"/>
<path class=i d="M129.2 674.1h0"/>
<path class=p d="M148.6 673.3h0m-17 .9h0m-3.6 0h0m1.2-.4h0"/>
<path class=f d="M137.7 673.7h0"/>
<path class=v d="M121.9 674h0m-1.2-.2h0"/>
<path class=p d="M125.5 673.5h0"/>
<path class=i d="M140.1 673.8h0"/>
<path class=v d="M164.4 673h0"/>
<path class=i d="M117 674.3h0m9.7-.6h0"/>
<path class=f d="M142.5 673.4h0m14.6-.4h0"/>
<path class=g d="M143.7 673.3h0"/>
<path class=i d="M118.2 673.6h0m0-.2h0m9.8-.1h0"/>
<path class=g d="M123.1 673.6h0"/>
<path class=p d="M130.4 673.8h0m9.7-.3h0m-13.4-.2h0"/>
<path class=f d="M151 672.9h0"/>
<path class=i d="M120.7 673.5h0m19.4-.3h0m-23.1 .1h0"/>
<path class=v d="M115.8 673.5h0m25.5-.2h0"/>
<path class=p d="M129.2 673.3h0m3.6 .3h0m3.7-.3h0m9.7-.6h0m-11 .4h0"/>
<path class=i d="M128 673.1h0"/>
<path class=v d="M115.8 673.1h0m20.7-.1h0"/>
<path class=p d="M130.4 673.1h0m-8.5 .8h0"/>
<path class=g d="M145 673h0m-13.4 0h0m1.2-.2h0"/>
<path class=p d="M131.6 672.8h0"/>
<path class=f d="M149.8 672.5h0"/>
<path class=g d="M145 672.3h0"/>
<path class=v d="M121.9 673.1h0m9.7-.4h0"/>
<path class=i d="M119.5 673h0m-2.5 .1h0"/>
<path class=p d="M125.5 673.2h0m29.2-1.2h0"/>
<path class=g d="M140.1 673h0"/>
<path class=i d="M115.8 672.9h0m4.9 .1h0m17-.7h0m-18.2 .4h0"/>
<path class=v d="M125.5 673h0m-1.2 0h0m3.7-.3h0m-6.1 .2h0m19.4 0h0m-21.8-.2h0m21.8-.1h0"/>
<path class=g d="M136.5 672.7h0"/>
<path class=p d="M130.4 672.7h0m3.6-.4h0m-8.5 .6h0m3.7 .1h0"/>
<path class=v d="M124.3 672.7h0"/>
<path class=i d="M120.7 672.6h0"/>
<path class=p d="M138.9 671.7h0"/>
<path class=g d="M148.6 672.5h0m-8.5-.4h0"/>
<path class=i d="M115.8 672.8h0"/>
<path class=p d="M135.2 672.3h0m-3.6 .1h0m14.6-.4h0"/>
<path class=v d="M142.5 672.8h0m-26.7-.3h0m41.3-.6h0m-32.8 .4h0"/>
<path class=g d="M143.7 672.2h0m-20.6 .3h0m9.7-.1h0m17-.1h0"/>
<path class=i d="M141.3 672.1h0m-7.3 .1h0"/>
<path class=v d="M123.1 672.1h0"/>
<path class=p d="M118.2 672.6h0m0-.2h0"/>
<path class=i d="M129.2 672.6h0m2.4-.6h0m-15.8-.5h0m1.2 .5h0"/>
<path class=p d="M119.5 672.2h0m25.5-.7h0"/>
<path class=v d="M128 672.5h0m7.2-.7h0m-18.2 .1h0"/>
<path class=g d="M125.5 672.4h0m26.7-.4h0"/>
<path class=i d="M124.3 672h0"/>
<path class=p d="M168 671h0m-42.5 1.2h0"/>
<path class=f d="M149.8 671.5h0"/>
<path class=g d="M147.4 671.5h0"/>
<path class=i d="M117 671.8h0m19.5-.1h0m-14.6 .4h0"/>
<path class=v d="M146.2 671.5h0"/>
<path class=p d="M128 672.1h0m1.2 0h0"/>
<path class=g d="M164.4 670.7h0m-23.1 1.1h0"/>
<path class=f d="M129.2 671.8h0m0-.1h0"/>
<path class=v d="M132.8 671.6h0m-15.8-.1h0"/>
<path class=g d="M141.3 671.4h0"/>
<path class=p d="M119.5 672h0m12.1-.5h0m7.3-.1h0m-10.9 .4h0"/>
<path class=i d="M125.5 672h0m-8.5-.6h0"/>
<path class=v d="M124.3 671.7h0m23.1-.4h0m-7.3 .5h0"/>
<path class=i d="M115.8 671.3h0m30.4-.2h0m-11 .3h0"/>
<path class=p d="M143.7 671.4h0"/>
<path class=g d="M140.1 671.5h0"/>
<path class=p d="M131.6 671.2h0m-3.6 .4h0m-2.5-.3h0m4.9 .1h0m27.9-.9h0"/>
<path class=i d="M119.5 671.4h0"/>
<path class=v d="M132.8 670.7h0m17 .3h0"/>
<path class=f d="M151 671.1h0"/>
<path class=i d="M130.4 671.2h0m-13.4-.1h0m0-.3h0"/>
<path class=g d="M123.1 671h0"/>
<path class=v d="M119.5 671.2h0m26.7-.3h0"/>
<path class=p d="M125.5 671.1h0"/>
<path class=v d="M142.5 671.3h0m-15.8 .1h0m23.1-.9h0m-18.2 .4h0m-10.9 .4h0m21.8-.6h0"/>
<path class=i d="M129.2 671.2h0m-1.2-.1h0m0-.1h0m-7.3 .1h0"/>
<path class=p d="M136.5 671h0"/>
<path class=g d="M143.7 670.8h0"/>
<path class=i d="M121.9 671.3h0"/>
<path class=f d="M135.2 670.6h0m13.4 .5h0"/>
<path class=v d="M140.1 671h0m0-.2h0"/>
<path class=g d="M140.1 670.6h0"/>
<path class=p d="M148.6 670.4h0"/>
<path class=i d="M140.1 670.4h0m-19.4 .5h0m9.7-.3h0m-12.2-.2h0"/>
<path class=p d="M145 670.6h0m7.2-.7h0"/>
<path class=v d="M147.4 670.3h0m-13.4 .4h0"/>
<path class=p d="M135.2 670.4h0m4.9-.1h0"/>
<path class=i d="M120.7 670.2h0m-4.9 .6h0m12.2-.2h0m-4.9 0h0"/>
<path class=v d="M143.7 670.4h0"/>
<path class=f d="M141.3 670.4h0m32.8-.8h0"/>
<path class=v d="M159.5 669.9h0m-17 .5h0m7.3-.4h0"/>
<path class=p d="M142.5 670.1h0m-17 .7h0m14.6-.6h0m-7.3 .4h0"/>
<path class=g d="M148.6 669.9h0m-13.4 .4h0"/>
<path class=i d="M123.1 670.2h0m6.1 .3h0m38.8-1.5h0m-43.7 1.1h0"/>
<path class=f d="M140.1 669.9h0"/>
<path class=v d="M121.9 670.2h0m8.5 .1h0m3.6-.3h0"/>
<path class=i d="M120.7 669.8h0m4.8 .1h0m-3.6 0h0m-3.7-.1h0"/>
<path class=g d="M137.7 669.5h0"/>
<path class=p d="M143.7 670.2h0m-14.5-.1h0m1.2 0h0"/>
<path class=g d="M124.3 669.9h0"/>
<path class=i d="M117 669.9h0m4.9-.2h0m6.1 .1h0m-2.5-.4h0"/>
<path class=f d="M141.3 669.9h0"/>
<path class=v d="M126.7 669.4h0m28-.4h0"/>
<path class=p d="M152.2 669.4h0"/>
<path class=f d="M153.5 669.1h0"/>
<path class=g d="M138.9 669.4h0m25.5-.2h0m-18.2 .8h0"/>
<path class=i d="M145 669.4h0m-15.8 .4h0"/>
<path class=p d="M135.2 669.8h0m15.8-.8h0m-3.6 .4h0m-10.9 .1h0m3.6 .1h0m-15.8 0h0"/>
<path class=v d="M142.5 669.7h0m-2.4-.3h0m-4.9 .3h0m-6 0h0m-7.3-.1h0m24.3-.5h0"/>
<path class=i d="M134 669.5h0m-18.2-.2h0m12.2 .3h0m-11-.4h0m42.5-.1h0m-37.6 .2h0"/>
<path class=p d="M117 668.9h0m14.6 .8h0m34-1h0m-49.8-.4h0m29.2 .8h0"/>
<path class=i d="M121.9 669h0m18.2 0h0m-15.8 .1h0"/>
<path class=g d="M136.5 669.1h0"/>
<path class=p d="M131.6 669.3h0m10.9 .1h0m2.5-.5h0m2.4-.2h0m-19.4 .5h0"/>
<path class=v d="M145 668.7h0m4.8 .4h0m-19.4 0h0m8.5-.5h0m-20.7 .8h0m-2.4-1.4h0"/>
<path class=p d="M132.8 668.8h0"/>
<path class=v d="M140.1 668.7h0m-19.4 .3h0m19.4-.4h0"/>
<path class=i d="M118.2 668.4h0m9.8 .5h0"/>
<path class=g d="M136.5 668.7h0m15.7-.3h0m14.6-.1h0"/>
<path class=f d="M141.3 669.1h0"/>
<path class=v d="M132.8 668.5h0m9.7 .3h0m-13.3 .3h0"/>
<path class=g d="M165.6 667.7h0m-40.1 1.3h0"/>
<path class=i d="M135.2 669h0m-9.7-.4h0m-2.4 .4h0m-3.6-.4h0m1.2 0h0m25.5 .3h0m-17 0h0m-1.2-.5h0"/>
<path class=v d="M143.7 668.6h0m-2.4 .3h0m-12.1-.2h0m2.4 0h0m12.1-.4h0"/>
<path class=p d="M142.5 668.4h0m-2.4-.2h0m-2.4 .1h0"/>
<path class=i d="M131.6 668.5h0m-8.5 .2h0m2.4-.1h0m8.5-.7h0"/>
<path class=g d="M135.2 667.7h0m9.8 .6h0m7.2-.2h0m-10.9 0h0"/>
<path class=f d="M154.7 667.5h0"/>
<path class=i d="M136.5 667.5h0m-13.4 .5h0m1.2 0h0"/>
<path class=v d="M132.8 668.1h0m6.1-.2h0m-3.7-.3h0"/>
<path class=p d="M120.7 668.1h0m8.5 .4h0m3.6-.8h0"/>
<path class=g d="M140.1 668h0"/>
<path class=i d="M115.8 667.7h0"/>
<path class=p d="M146.2 668h0m-11-.7h0m-19.4 .3h0m32.8 .2h0m-20.6 .2h0"/>
<path class=v d="M130.4 668.5h0m1.2-.5h0m-4.9 .1h0m3.7 0h0m-8.5-.2h0m-1.2-.2h0"/>
<path class=i d="M125.5 667.7h0m-8.5 .3h0"/>
<path class=v d="M134 667.5h0m17 .4h0m2.5-.4h0m-7.3 .1h0m-14.6 .1h0m-1.2 .2h0m12.1 0h0m4.9-.5h0m-14.6 .2h0"/>
<path class=g d="M149.8 667.3h0"/>
<path class=v d="M153.5 667.2h0m-8.5 .2h0m-1.3 .4h0"/>
<path class=p d="M129.2 667.9h0"/>
<path class=i d="M128 667.8h0m-8.5 .5h0m7.2-1h0"/>
<path class=g d="M143.7 667.6h0"/>
<path class=v d="M153.5 667h0m-7.3 0h0"/>
<path class=g d="M115.8 667.2h0"/>
<path class=p d="M165.6 667h0"/>
<path class=i d="M123.1 667.4h0m-2.4-.4h0"/>
<path class=v d="M132.8 667.3h0"/>
<path class=i d="M145 667.2h0m-8.5 0h0m-12.2 .3h0m-1.2-.3h0m17 .5h0m-10.9-.2h0"/>
<path class=g d="M146.2 666.8h0m1.2-.1h0m-12.2 .6h0"/>
<path class=p d="M134 667.3h0m-6 .1h0m6-.2h0m8.5 .1h0m-12.1 .2h0m19.4-.2h0m15.8-.6h0m-30.4 0h0m-2.4 .3h0"/>
<path class=i d="M129.2 667.3h0m4.8-.9h0m-14.5 .4h0m-2.5 .1h0m7.3-.1h0"/>
<path class=v d="M137.7 666.5h0m10.9 .4h0m-19.4 .2h0m35.2-.3h0m-42.5 .4h0"/>
<path class=p d="M153.5 666.3h0m-21.9 .6h0m-4.9 .1h0m-3.6-.5h0"/>
<path class=i d="M140.1 667.1h0m4.9-.8h0m-4.9 .4h0m-24.3-.3h0"/>
<path class=v d="M141.3 667.1h0m2.4-.7h0m-17 .4h0"/>
<path class=i d="M149.8 666h0m-29.1 .5h0m3.6-.2h0"/>
<path class=p d="M147.4 666.4h0m-15.8 .1h0m9.7 .1h0m9.7-.8h0m-14.5 .7h0m-11-.2h0"/>
<path class=i d="M129.2 667h0m0-.2h0m-11-.1h0m-2.4-1.3h0"/>
<path class=v d="M118.2 666.2h0m11 .2h0"/>
<path class=p d="M172.9 665.6h0"/>
<path class=g d="M142.5 666.3h0"/>
<path class=i d="M117 665.7h0m15.8 .4h0m-9.7-.1h0m23.1 .4h0"/>
<path class=f d="M142.5 666.1h0"/>
<path class=v d="M128 666.4h0m27.9-.4h0m-10.9 .2h0m-9.8 .3h0"/>
<path class=p d="M121.9 666.3h0m18.2 .1h0m0-.4h0m7.3 .2h0"/>
<path class=i d="M118.2 665.8h0m2.5 0h0"/>
<path class=v d="M145 666h0"/>
<path class=p d="M123.1 665.9h0m2.4 .3h0m15.8-.2h0m-10.9 .4h0m13.3-.4h0"/>
<path class=f d="M168 665.3h0"/>
<path class=g d="M136.5 666.3h0"/>
<path class=i d="M132.8 665.9h0m9.7-.1h0m-23 .1h0m-2.5-.3h0"/>
<path class=v d="M143.7 665.4h0m-6-.4h0m-7.3 1h0"/>
<path class=p d="M166.8 665.5h0m-41.3 .5h0m8.5-.5h0m-2.4 .2h0"/>
<path class=g d="M153.5 665.6h0m-3.7 .3h0m-20.6 .1h0"/>
<path class=v d="M142.5 665.7h0"/>
<path class=i d="M120.7 665.5h0m9.7 .1h0"/>
<path class=g d="M128 666.2h0m21.8-.8h0m6.1-.4h0"/>
<path class=v d="M146.2 665.4h0m18.2 .1h0m-21.9 0h0"/>
<path class=i d="M126.7 666h0m1.3-.4h0m-6.1 0h0"/>
<path class=g d="M147.4 665.7h0m1.2-.5h0"/>
<path class=p d="M140.1 666h0m-7.3-.8h0m-6.1 0h0"/>
<path class=v d="M141.3 665.4h0m6.1-.7h0m-15.8 .7h0"/>
<path class=i d="M119.5 665.3h0m3.6 .2h0m1.2-.5h0"/>
<path class=g d="M142.5 665.3h0m2.5-.3h0"/>
<path class=p d="M135.2 665.2h0m-6 .3h0m36.4-.3h0m-12.1-.6h0m-21.9 .5h0m34-.8h0"/>
<path class=i d="M115.8 664.5h0m30.4 .4h0"/>
<path class=g d="M129.2 665.3h0m21.8 0h0"/>
<path class=v d="M132.8 664.7h0m37.7-.3h0m-38.9 .3h0"/>
<path class=p d="M149.8 664.9h0m-18.2-.2h0m3.6 .3h0"/>
<path class=i d="M120.7 664.7h0m7.3 .4h0m-8.5-.6h0m6 .6h0"/>
<path class=v d="M140.1 665.5h0m12.1-.7h0m-19.4-.3h0m18.2-.5h0m-21.8 1.1h0m-3.7-.4h0m12.2 .2h0m-12.2-.5h0m28-.5h0m-11 .9h0m-14.5 0h0m1.2 .1h0m35.2-.1h0"/>
<path class=p d="M121.9 664.7h0m19.4 0h0"/>
<path class=i d="M118.2 664.7h0m-1.2 .1h0m3.7-.6h0"/>
<path class=f d="M165.6 663.9h0m-29.1 1.2h0"/>
<path class=p d="M132.8 664.4h0"/>
<path class=g d="M130.4 664.5h0m18.2-.3h0"/>
<path class=v d="M128 664.7h0m14.5-.3h0m11-.7h0m-13.4 1.1h0"/>
<path class=i d="M160.7 663.9h0"/>
<path class=p d="M125.5 664.3h0m24.3-.4h0m14.6-.4h0m-34 .8h0"/>
<path class=g d="M136.5 664.2h0"/>
<path class=p d="M137.7 664h0m2.4 .1h0m9.7-.7h0m-8.5 .8h0"/>
<path class=v d="M145 664.9h0m-4.9-.9h0m-8.5 .3h0m15.8 .1h0"/>
<path class=i d="M143.7 664.6h0m1.3-.6h0m-17 .1h0m-7.3-.2h0m4.8-.2h0m4.9 .4h0m-12.2-.8h0"/>
<path class=p d="M132.8 663.8h0m4.9-.6h0m-15.8 1.1h0m32.8-1.1h0"/>
<path class=i d="M142.5 663.7h0m-19.4 0h0m17 .1h0m-19.4-.8h0m1.2 .5h0m2.4-.1h0"/>
<path class=g d="M151 663.2h0m-21.8 1.4h0m14.5-.8h0"/>
<path class=f d="M165.6 663.7h0m7.3-.1h0m-4.9 .6h0m-1.2-.8h0m3.7-.6h0"/>
<path class=v d="M170.5 661.9h0"/>
<path class=i d="M125.5 663.4h0m28 0h0m-21.9 .2h0m3.6-.3h0m-12.1 .2h0"/>
<path class=p d="M165.6 663.4h0m-20.6 .4h0"/>
<path class=g d="M146.2 663.7h0"/>
<path class=p d="M164.4 663.1h0m-20.7 .5h0m-2.4 .1h0"/>
<path class=g d="M147.4 663.6h0"/>
<path class=i d="M121.9 663.4h0m1.2-.1h0m3.6-.1h0m8.5-.2h0m-18.2 .1h0m21.9 .3h0"/>
<path class=v d="M145 663.4h0m-21.9-.2h0m7.3 .6h0"/>
<path class=f d="M180.2 662.4h0"/>
<path class=v d="M132.8 663.1h0m8.5 0h0m4.9 .1h0"/>
<path class=i d="M125.5 663.1h0m-6-.6h0"/>
<path class=g d="M130.4 663.6h0m9.7-.6h0"/>
<path class=p d="M124.3 663h0m43.7 .3h0m-42.5-.5h0m8.5 0h0m20.7 .2h0m-25.5 .5h0m9.7-.7h0m27.9-.4h0m-7.3-.5h0"/>
<path class=v d="M149.8 663.1h0m-1.2 .3h0m-19.4-.2h0m8.5-.5h0"/>
<path class=i d="M125.5 662.7h0m-3.6 .2h0m4.8-.2h0m-7.2-.5h0m8.5 .9h0"/>
<path class=g d="M146.2 663h0m3.6-.5h0m-21.8 .2h0"/>
<path class=p d="M134 662.4h0"/>
<path class=g d="M146.2 662.5h0m-6.1 .2h0"/>
<path class=v d="M131.6 662.9h0m10.9 .4h0m-4.8-1h0m26.7 .3h0m-10.9-.3h0m-6.1 .1h0m-6.1 .4h0m10.9 .3h0"/>
<path class=i d="M145 662.7h0m-15.8-.3h0m7.3-.5h0m-4.9 .5h0m-3.6 .1h0m-11-.5h0m0-.1h0m1.2 .3h0m12.2 .2h0"/>
<path class=v d="M147.4 662.1h0m-2.4 .4h0m-2.5 .1h0m3.7-.5h0"/>
<path class=g d="M135.2 662.6h0"/>
<path class=p d="M164.4 662.5h0m-42.5-.1h0m19.4 .3h0m-1.2-.1h0m4.9-.8h0m4.8 .4h0m14.6 0h0m-38.9 .4h0m4.9-.3h0m15.8-.5h0"/>
<path class=v d="M157.1 661.6h0"/>
<path class=f d="M152.2 662.4h0"/>
<path class=g d="M164.4 661.9h0"/>
<path class=p d="M172.9 661.7h0m-40.1 .3h0m7.3 .4h0m12.1-.5h0"/>
<path class=i d="M125.5 662.1h0"/>
<path class=g d="M149.8 661.9h0"/>
<path class=i d="M128 662.4h0m1.2-.4h0"/>
<path class=p d="M143.7 661.8h0m20.7-.2h0m-29.2 .2h0m21.9-.3h0m-8.5 .3h0"/>
<path class=v d="M165.6 662.1h0m-31.6-.7h0m1.2 0h0m-9.7 .3h0"/>
<path class=g d="M146.2 661.4h0"/>
<path class=p d="M141.3 662.4h0m-4.8-.9h0m8.5-.1h0"/>
<path class=i d="M131.6 662h0m25.5-.7h0m-2.4 .2h0m-11 .1h0m3.7-.1h0m-25.5 .7h0m18.2-.2h0m-13.4 .3h0"/>
<path class=f d="M188.7 661.2h0"/>
<path class=i d="M140.1 661.5h0m10.9-.2h0m-21.8 .6h0"/>
<path class=p d="M152.2 661.3h0m-18.2 0h0"/>
<path class=v d="M129.2 661.6h0m-2.5 0h0m0-.3h0m15.8 .3h0m25.5-.1h0m-12.1-1h0"/>
<path class=g d="M152.2 661.1h0m-17-.1h0"/>
<path class=i d="M121.9 661h0m20.6 .4h0m-9.7-.4h0m-13.3-1h0"/>
<path class=g d="M175.3 659.7h0m15.8 .7h0m-26.7 .9h0"/>
<path class=v d="M134 660.8h0m15.8 .7h0"/>
<path class=f d="M154.7 661.2h0"/>
<path class=p d="M165.6 660.8h0m-35.2 .5h0m6.1-.2h0m9.7 0h0m-1.2-.1h0m33.9-.3h0m-37.6 .9h0m10.9-.6h0"/>
<path class=g d="M143.7 661h0m4.9 .4h0"/>
<path class=v d="M132.8 660.7h0m-3.6 .7h0m10.9-.3h0"/>
<path class=i d="M128 661.3h0m7.2-.7h0m-3.6 .4h0m35.2-.8h0m-42.5 .5h0m4.9 .3h0m40-.7h0m-43.7 .7h0m2.5-.2h0m1.2 0h0m-6.1-.7h0"/>
<path class=g d="M136.5 660.7h0m-3.7-.4h0"/>
<path class=v d="M145 660.9h0m-4.9 0h0"/>
<path class=p d="M164.4 660.4h0m-6.1-.3h0m-8.5 .5h0m-7.3 .5h0"/>
<path class=f d="M171.7 661.2h0"/>
<path class=p d="M176.5 659.9h0m-41.3 .1h0"/>
<path class=v d="M136.5 660h0m14.5 .3h0m-21.8 .1h0"/>
<path class=i d="M140.1 660.6h0m-12.1-.2h0m-11-.6h0m47.4 .5h0m-47.4-.5h0"/>
<path class=f d="M146.2 660.9h0m1.2-.3h0"/>
<path class=g d="M153.5 660h0m12.1 0h0"/>
<path class=v d="M123.1 659.6h0m54.6-.1h0m-37.6 1h0m-13.4-.4h0m41.3 .1h0m-3.6 0h0m1.2-.4h0"/>
<path class=i d="M117 659.6h0m25.5 1h0m-14.5-.4h0"/>
<path class=p d="M164.4 660h0m-17 .3h0m-1.2 .2h0m9.7-1h0m20.6 .3h0"/>
<path class=g d="M152.2 659.7h0"/>
<path class=v d="M140.1 659.9h0m3.6 .6h0m2.5-.4h0"/>
<path class=p d="M141.3 660.3h0m4.9-.6h0m7.3 .1h0"/>
<path class=i d="M131.6 660.8h0m-3.6-.9h0m3.6-.3h0m10.9 .5h0m24.3-.5h0m-32.8 .1h0m20.7-.3h0m3.6-.4h0m-30.3 .7h0"/>
<path class=v d="M164.4 659.8h0m-24.3-.1h0"/>
<path class=g d="M142.5 660h0m25.5-.2h0"/>
<path class=p d="M137.7 659h0m3.6 1.1h0m-12.1-.3h0m-4.9 .6h0m18.2-.9h0"/>
<path class=f d="M194.7 659h0"/>
<path class=g d="M141.3 659.4h0m13.4-.2h0"/>
<path class=v d="M155.9 658.8h0m-10.9 .9h0m-12.2-.1h0"/>
<path class=i d="M158.3 659h0m-30.3 .5h0m21.8 .4h0m-17-.6h0m7.3 0h0m-13.4-.3h0"/>
<path class=p d="M157.1 659.1h0"/>
<path class=i d="M117 659.3h0m23.1-.1h0m-9.7 .4h0m17 .2h0"/>
<path class=p d="M152.2 659.6h0m-19.4-.5h0"/>
<path class=f d="M148.6 659.3h0"/>
<path class=v d="M147.4 659.3h0m-12.2 .1h0m9.8 0h0m8.5-.5h0"/>
<path class=g d="M171.7 658.7h0"/>
<path class=v d="M141.3 659.4h0"/>
<path class=f d="M175.3 658.7h0"/>
<path class=p d="M143.7 659.2h0m25.5-.4h0m-2.4 .2h0m1.2-.1h0m-19.4-.2h0m15.8 .5h0"/>
<path class=i d="M132.8 658.9h0m-4.8 .5h0m9.7-.5h0m32.8-.8h0"/>
<path class=g d="M145 659h0"/>
<path class=p d="M160.7 658.9h0m19.5-1.5h0m-32.8 1.3h0m2.4 .2h0"/>
<path class=v d="M166.8 658.1h0m-40.1 .6h0"/>
<path class=i d="M157.1 658.6h0m2.4-.3h0m-36.4 1h0"/>
<path class=g d="M151 658.7h0m-8.5 .4h0m21.9-.5h0m-21.9 .3h0m3.7 0h0m-14.6-.2h0m21.9-.1h0"/>
<path class=i d="M164.4 658.3h0m-15.8 .2h0"/>
<path class=p d="M146.2 658.4h0m-1.2 .1h0m24.2-.1h0m-42.5-.2h0m1.3 .4h0"/>
<path class=v d="M135.2 659h0m1.3-.8h0m19.4 .3h0m-29.2-.6h0m13.4 1h0"/>
<path class=f d="M180.2 658h0"/>
<path class=i d="M147.4 658.4h0m-17 .5h0m-2.4-.5h0m1.2 0h0"/>
<path class=v d="M137.7 658.4h0m34-1.1h0m-38.9 .9h0"/>
<path class=p d="M141.3 658.7h0m-19.4-.2h0m18.2 0h0m3.6 .2h0m3.7-.4h0m1.2-.2h0m1.2 .1h0m-27.9-.1h0m18.2 0h0m21.9 0h0m-3.7-.8h0"/>
<path class=i d="M141.3 658.1h0m-10.9 .3h0m-1.2-.3h0m1.2 0h0m-13.4 .3h0m19.5-.4h0m-11-.9h0"/>
<path class=v d="M143.7 658.2h0m2.5-.2h0"/>
<path class=f d="M174.1 657.2h0"/>
<path class=i d="M123.1 657.4h0"/>
<path class=p d="M157.1 657h0m-17 .9h0m-9.7-.1h0m19.4-.2h0"/>
<path class=g d="M135.2 658h0"/>
<path class=v d="M164.4 657.8h0m-21.9 .2h0m-1.2-.1h0m-13.3-.1h0m20.6 0h0m20.6-.1h0"/>
<path class=f d="M170.5 657.3h0m-3.7 .6h0m10.9-.3h0"/>
<path class=i d="M136.5 657.3h0m-8.5 .2h0m24.2 .1h0m-8.5 .1h0"/>
<path class=v d="M131.6 657.8h0m8.5-.3h0m17-.6h0"/>
<path class=p d="M138.9 657.2h0m14.6 .5h0m-6.1 .2h0"/>
<path class=f d="M165.6 657.2h0m-20.6 .7h0m21.8-.6h0"/>
<path class=p d="M131.6 657.5h0m4.9-.2h0"/>
<path class=v d="M169.2 656.9h0"/>
<path class=i d="M130.4 657.2h0m20.6 .2h0m-30.3-.3h0m8.5 .3h0m26.7-.5h0m-36.4 .1h0"/>
<path class=g d="M166.8 657h0m-1.2-.3h0m-15.8 .7h0m1.2-.3h0m-3.6-.1h0m-6.1 .7h0"/>
<path class=p d="M131.6 656.8h0m17 .4h0m-12.1-.2h0m6 .6h0"/>
<path class=g d="M146.2 657h0m42.5-.5h0m-51 .2h0m13.3 .2h0"/>
<path class=i d="M134 656.9h0m-4.8 .5h0m-11-.3h0m13.4-.5h0m21.9 .1h0m-8.5 .5h0m-17 0h0"/>
<path class=f d="M170.5 656.6h0"/>
<path class=v d="M171.7 656.6h0m-25.5 .2h0m-12.2 0h0m7.3 .5h0"/>
<path class=p d="M188.7 657h0m-20.7-.6h0m-30.3 .2h0m2.4 .7h0m24.3-.4h0m-8.5-.3h0"/>
<path class=g d="M170.5 656.1h0"/>
<path class=f d="M189.9 656.5h0"/>
<path class=i d="M125.5 657h0"/>
<path class=v d="M148.6 656.8h0m-9.7 .2h0m4.8-.1h0m23.1-.2h0"/>
<path class=f d="M143.7 656.7h0"/>
<path class=i d="M146.2 656.7h0m3.6 0h0m-25.5-.7h0m3.7 .2h0m17 .2h0m-13.4-.1h0"/>
<path class=v d="M119.5 656.6h0m21.8 .2h0m12.2-.3h0m-6.1 0h0m17 .2h0m-21.9-.1h0"/>
<path class=g d="M132.8 656.2h0"/>
<path class=i d="M131.6 656.3h0m-2.4 .7h0"/>
<path class=v d="M158.3 656.6h0m-19.4-.2h0m36.4-.4h0"/>
<path class=f d="M164.4 656.2h0m-20.7 .2h0m23.1-.1h0"/>
<path class=p d="M148.6 656.4h0m24.3-.9h0m-25.5 .8h0m-9.7 .1h0m17-.4h0m-6.1 .1h0m-15.8-.4h0m19.4 .7h0m-17-.3h0"/>
<path class=g d="M189.9 655.1h0"/>
<path class=v d="M165.6 656.3h0m-21.9-.1h0m-3.6 .1h0m-13.4-.9h0m14.6 1.3h0m12.2-.8h0"/>
<path class=i d="M120.7 655.7h0m8.5 .5h0m1.2-.1h0m6.1-.5h0m29.1 .4h0m-14.6 .2h0"/>
<path class=p d="M130.4 655.8h0m14.6 .3h0m-4.9 0h0m13.4-.7h0m13.3-.3h0"/>
<path class=v d="M135.2 655.9h0m25.5-.6h0m8.5 .7h0m-23-.2h0"/>
<path class=g d="M151 655.8h0m4.9 .4h0m-8.5-.2h0m-3.7-.4h0"/>
<path class=f d="M164.4 655.9h0m37.6-.7h0"/>
<path class=i d="M131.6 656h0m4.9-1h0m15.7 .3h0"/>
<path class=v d="M154.7 654.9h0m13.3 .2h0m8.5 .4h0"/>
<path class=p d="M140.1 655.9h0m6.1-.2h0m3.6 .4h0m0-.9h0m-8.5 1h0m30.4-1h0m-28 .2h0"/>
<path class=i d="M125.5 655.3h0m3.7 .2h0m2.4 .2h0m0-.4h0m-10.9-.5h0"/>
<path class=v d="M153.5 654.9h0m10.9 .6h0m-17-.2h0m-10.9-.7h0m-2.5 .4h0m11 .2h0m-4.9 .4h0"/>
<path class=g d="M132.8 654.8h0"/>
<path class=p d="M172.9 654.7h0m27.9-.4h0m-24.3 .7h0m-34 .1h0m34-.6h0m-24.3 .3h0m-13.3 .1h0"/>
<path class=v d="M164.4 655.2h0m-18.2-.1h0"/>
<path class=i d="M140.1 655.1h0m8.5 .3h0m1.2-.7h0m-8.5 .7h0m-10.9-.7h0m13.3 .1h0m-15.7 .4h0"/>
<path class=g d="M152.2 654.5h0m-24.2 .4h0"/>
<path class=v d="M142.5 654.9h0"/>
<path class=p d="M165.6 654.8h0m-14.6 0h0m-3.6 .2h0m-7.3-.2h0"/>
<path class=g d="M157.1 654h0"/>
<path class=i d="M131.6 654.8h0m-14.6 .3h0m37.7-1h0m-28 .7h0"/>
<path class=v d="M160.7 654.3h0m-8.5 .1h0"/>
<path class=i d="M130.4 654.4h0m18.2 .3h0m-15.8-.3h0m-3.6 .1h0"/>
<path class=f d="M188.7 653.9h0"/>
<path class=p d="M174.1 653.7h0m-9.7 1.1h0m3.6 0h0m-1.2-.2h0m-26.7-.2h0"/>
<path class=i d="M131.6 654.3h0m-7.3-.3h0m4.9 .3h0m-1.2 .2h0"/>
<path class=v d="M131.6 654.2h0m34-.1h0m-31.6 .3h0m23.1-.9h0"/>
<path class=p d="M145 654.7h0m-3.7-.1h0m23.1-.4h0m-29.2-.3h0m4.9 .2h0m-9.7-.4h0m21.8 .3h0m-6 .9h0"/>
<path class=g d="M168 653.8h0"/>
<path class=f d="M143.7 654.6h0"/>
<path class=i d="M147.4 654h0"/>
<path class=p d="M148.6 654.2h0m15.8-.3h0m-13.4 .2h0m-6 0h0m4.8-.1h0m-3.6 0h0m0-.1h0"/>
<path class=v d="M159.5 653.6h0m-32.8 .6h0m38.9-.7h0"/>
<path class=g d="M158.3 653.2h0m-17 1.1h0m12.2-.7h0"/>
<path class=v d="M131.6 653.9h0m20.6-.6h0m-3.6 .5h0m18.2-.5h0m-12.1 .7h0m-4.9-.6h0"/>
<path class=f d="M202 652.1h0"/>
<path class=i d="M128 653.9h0m23-.8h0m-1.2 .2h0m-4.8 .5h0m-17-.3h0m2.4 0h0"/>
<path class=p d="M157.1 653h0m-13.4 .8h0m32.8-.9h0"/>
<path class=g d="M171.7 653.8h0m-3.7-.7h0"/>
<path class=p d="M164.4 653.8h0m-13.4-1h0"/>
<path class=g d="M160.7 653h0m-3.6-.3h0m-9.7 1h0"/>
<path class=i d="M126.7 653.5h0m14.6 .2h0m-9.7-.3h0m3.6-.1h0m-15.7-1.1h0m29.1 1.2h0m-3.6 .2h0m-19.5-.1h0m21.9-.1h0"/>
<path class=v d="M143.7 653.5h0m11-.6h0m-14.6 1h0"/>
<path class=f d="M142.5 653.5h0m-3.6-.2h0"/>
<path class=i d="M131.6 652.9h0"/>
<path class=p d="M155.9 652.5h0m-12.2 .8h0m-7.2-.1h0m-1.3-.2h0m6.1 .3h0"/>
<path class=v d="M146.2 653.2h0m20.6-.2h0m-32.8 .4h0m28-.8h0m2.4 .8h0m-35.2-.3h0"/>
<path class=g d="M153.5 653.1h0m15.7-.7h0m-29.1 1.1h0"/>
<path class=i d="M132.8 653h0m14.6-.2h0m-7.3-.1h0m-15.8 .3h0m10.9-.4h0m-19.4-.2h0m12.2 .7h0"/>
<path class=v d="M135.2 651.9h0m8.5 1.1h0m20.7-.4h0m3.6 .1h0m-12.1-.3h0m18.2-.3h0"/>
<path class=f d="M166.8 652.8h0m-1.2 .3h0m-12.1-.1h0"/>
<path class=i d="M131.6 652.3h0m-2.4 .1h0"/>
<path class=p d="M145 653h0m-3.7-.3h0m2.4 .2h0m21.9-.2h0m-23.1 .2h0m11 0h0m13.3-.5h0m-2.4 0h0"/>
<path class=v d="M140.1 652.7h0m24.3-.5h0m-15.8 .9h0m-3.6-.4h0m8.5 0h0"/>
<path class=g d="M149.8 652.7h0"/>
<path class=p d="M147.4 652.1h0m23.1-.4h0m-40.1 .6h0m49.8-.4h0m3.6 .6h0"/>
<path class=i d="M130.4 652h0m1.2 0h0m37.6-.3h0m-17 .7h0"/>
<path class=v d="M140.1 652.4h0m2.4 0h0m-8.5-.8h0m34 .4h0m-14.5 .4h0m4.8-1.4h0m2.4 1h0m-19.4 .5h0m24.3 0h0"/>
<path class=g d="M172.9 652.2h0m-18.2-.3h0"/>
<path class=i d="M140.1 652h0m-10.9-.2h0"/>
<path class=f d="M205.7 651.9h0"/>
<path class=v d="M136.5 652.1h0m17-.2h0m-3.7 .4h0m13.4-.6h0m-23.1 .3h0m29.1-.6h0"/>
<path class=p d="M164.4 651.9h0m-14.6-.1h0m-18.2-.1h0m17 0h0m53.4-.8h0"/>
<path class=g d="M166.8 652.3h0m0-.1h0"/>
<path class=i d="M137.7 652h0m65.5-.3h0m-86.2-.2h0m26.7 .8h0"/>
<path class=v d="M141.3 651.9h0m26.7-.5h0m6.1-.2h0m-9.7 .4h0m-7.3-.7h0m-14.6 .9h0"/>
<path class=p d="M128 652.1h0m14.5-.4h0m3.7 .5h0m1.2-.5h0m-2.4 .4h0m0-.1h0m7.2-.3h0m40.1 0h0m-37.6-.3h0"/>
<path class=g d="M164.4 651.5h0m-24.3 .1h0"/>
<path class=i d="M130.4 651.5h0m-1.2 0h0m15.8-.1h0m-2.5 .2h0m36.4-.7h0m-13.3 .6h0m-31.6-.5h0"/>
<path class=g d="M189.9 650.7h0"/>
<path class=f d="M148.6 651.5h0"/>
<path class=i d="M153.5 651.2h0m-32.8-.7h0m15.8 .9h0m3.6-.1h0m-3.6-.8h0m-8.5 .4h0m14.5 .4h0"/>
<path class=p d="M155.9 651.2h0m-10.9 0h0m2.4 .4h0"/>
<path class=f d="M141.3 651.5h0m26.7-1.1h0"/>
<path class=v d="M143.7 651.1h0m21.9 0h0m-25.5 0h0m-8.5 .4h0m31.6-.7h0m1.2 .3h0m-14.6 .2h0"/>
<path class=g d="M181.4 650.4h0m-49.8 .2h0"/>
<path class=i d="M124.3 650.2h0m40.1 .6h0m-37.7-.6h0"/>
<path class=v d="M188.7 650.9h0m-53.5-.3h0m66.8-.7h0"/>
<path class=p d="M141.3 651.3h0m23.1-.9h0m-21.9 .7h0m-2.4-.1h0m8.5 .2h0m6.1-.9h0"/>
<path class=i d="M166.8 651.1h0m-35.2-.6h0m6.1-.2h0"/>
<path class=f d="M176.5 649.9h0"/>
<path class=p d="M152.2 650.9h0m13.4-.5h0m-6.1-.4h0"/>
<path class=v d="M172.9 650.3h0m-32.8 .6h0m34-1h0m-24.3 1.1h0"/>
<path class=g d="M155.9 650h0"/>
<path class=v d="M131.6 650.2h0m9.7 .2h0"/>
<path class=p d="M188.7 650.5h0m-48.6 0h0m0-.2h0m6.1 .8h0m-8.5-1.5h0"/>
<path class=i d="M153.5 650.3h0m35.2-1.2h0m-54.7 1.3h0m20.7-.3h0m-7.3 0h0m-18.2 .9h0m20.6-1h0"/>
<path class=f d="M202 649.4h0m-24.3 .5h0m31.6-.5h0"/>
<path class=v d="M166.8 650h0m4.9-.1h0m-31.6 .3h0"/>
<path class=i d="M168 650.1h0m-9.7 0h0m-23.1-.4h0m-12.1 0h0m53.4-.2h0m-46.1 .3h0m4.8-.4h0"/>
<path class=p d="M145 650.7h0m6-.4h0m0-.7h0"/>
<path class=g d="M148.6 649.9h0"/>
<path class=v d="M143.7 650.6h0m9.8-1.1h0"/>
<path class=i d="M126.7 649.8h0m2.5 0h0m3.6 .1h0m3.7-.5h0m31.5 .5h0"/>
<path class=p d="M141.3 650h0m-4.8-.7h0m21.8-.2h0m18.2 .1h0m-36.4 .8h0m0-.2h0m24.3 .4h0m-20.7-.1h0m2.5-.3h0m18.2 .4h0m-14.6-.7h0m-6.1-.1h0m21.9 .6h0m-12.1-.7h0"/>
<path class=g d="M152.2 649.3h0"/>
<path class=i d="M141.3 650h0m4.9-.5h0m31.5-.1h0m-52.2 0h0m46.2 .2h0"/>
<path class=f d="M170.5 648.7h0"/>
<path class=v d="M157.1 649.1h0m-9.7 .8h0m-7.3-.3h0m4.9-.3h0m29.1-.6h0"/>
<path class=p d="M171.7 648.2h0m-2.5 .7h0m-29.1 .1h0"/>
<path class=i d="M131.6 649.2h0m13.4-.1h0m19.4 .8h0m-6.1-1h0m-17 .5h0m-10.9 0h0m4.8-.7h0"/>
<path class=v d="M164.4 649.5h0m-36.4 .4h0m14.5-.6h0m60.7-.9h0m-47.3 .7h0"/>
<path class=p d="M143.7 649.3h0m20.7-.4h0m-14.6 .3h0m43.7-1.6h0m-23 .7h0m-13.4 .2h0"/>
<path class=i d="M132.8 648.9h0m41.3-.6h0"/>
<path class=v d="M189.9 648.7h0m-55.9 .2h0m54.7-.5h0m-55.9 .3h0m14.6 .7h0m-1.2-.4h0"/>
<path class=f d="M168 648.9h0m-9.7-.6h0m44.9-.2h0"/>
<path class=g d="M165.6 648.8h0m-21.9-.1h0"/>
<path class=p d="M146.2 648.7h0m42.5-.8h0m-41.3 .8h0m1.2-.3h0m25.5-.3h0"/>
<path class=g d="M166.8 648.5h0m-7.3 .1h0"/>
<path class=i d="M154.7 648.4h0m-2.5 .4h0m-24.2-.3h0m12.1 .4h0m-10.9 0h0m0-.4h0m1.2 0h0"/>
<path class=v d="M142.5 648.8h0m4.9-.3h0m-15.8-.3h0m1.2-.6h0m36.4 .6h0m-34 0h0m9.8 .3h0m7.2-.2h0m-2.4 .1h0"/>
<path class=f d="M200.8 647.5h0"/>
<path class=p d="M170.5 647.7h0m-2.5 .3h0m-23 .4h0m-15.8-.6h0"/>
<path class=i d="M143.7 648.1h0m-2.4 .4h0"/>
<path class=v d="M152.2 648.2h0m23.1-.6h0m-7.3 .3h0m-4.8-.8h0m7.3 .4h0m-28 .9h0m23.1 0h0m-25.5 .1h0m14.6-.3h0m0-.1h0m-4.9-.1h0m-2.4 .1h0m-7.3-.1h0m1.2 0h0m14.6-.9h0m20.6 .1h0"/>
<path class=p d="M164.4 648.4h0m3.6-1.3h0m-37.6 .8h0"/>
<path class=i d="M142.5 647.8h0m-1.2-.1h0m60.7-.5h0m-66.8 .6h0m-3.6-.5h0"/>
<path class=g d="M175.3 647h0m-10.9 .6h0m9.7-1h0"/>
<path class=p d="M157.1 647.2h0m-8.5 .8h0m-4.9-.4h0m21.9-.1h0m23.1 .2h0"/>
<path class=v d="M153.5 647.7h0m18.2-.5h0m-20.7 .6h0m-4.8 .2h0m-3.7-.7h0m24.3-.1h0m12.1-.1h0m-26.7 .6h0"/>
<path class=i d="M164.4 647.2h0m-19.4 .4h0m24.2-.5h0m-40-.2h0"/>
<path class=g d="M140.1 647.7h0"/>
<path class=i d="M171.7 646.4h0m-34 .9h0m10.9 .3h0"/>
<path class=f d="M188.7 646.5h0m12.1-.4h0m-19.4 .4h0"/>
<path class=p d="M158.3 647.7h0m-12.1-.4h0m13.3 0h0m-9.7 .3h0m3.7-.3h0m-1.3 .2h0m-21.8 0h0m48.5-.5h0"/>
<path class=v d="M145 647.2h0m-20.7-.7h0m12.2 .2h0m10.9 .4h0m21.8-.7h0"/>
<path class=f d="M171.7 646.1h0"/>
<path class=p d="M140.1 646.8h0m-13.4-.2h0m18.3 .4h0"/>
<path class=g d="M176.5 646.5h0m-31.5 .3h0"/>
<path class=i d="M164.4 646.9h0m-31.6-.2h0m10.9 .4h0m8.5 0h0m-10.9 .3h0m0-.1h0m-6.1-.6h0m6.1 .4h0m1.2-.6h0"/>
<path class=g d="M170.5 646.4h0m31.5-.1h0"/>
<path class=v d="M158.3 646.9h0m-18.2-.2h0m0-.3h0m13.4 .3h0m-9.8 0h0m1.3-.3h0"/>
<path class=f d="M205.7 646.3h0m-55.9 .8h0m14.6-.6h0"/>
<path class=i d="M148.6 647.1h0"/>
<path class=p d="M155.9 646.3h0m3.6 .3h0m43.7-.4h0m-54.6 .5h0m-4.9-.1h0m21.9 .2h0m-30.4-.4h0m7.3-.2h0"/>
<path class=v d="M146.2 646.4h0m20.6 .7h0m-13.3-.8h0m54.6-.2h0m-59.5 .4h0"/>
<path class=g d="M152.2 646.6h0"/>
<path class=f d="M159.5 645.7h0m30.4 .4h0m13.3-.7h0"/>
<path class=i d="M131.6 646.8h0m35.2-1h0m7.3 0h0m-41.3 .3h0m3.7-.3h0m67.9 0h0m-46.1 0h0"/>
<path class=v d="M169.2 646.1h0m-19.4 0h0m1.2 0h0m21.9-.7h0m-8.5 .9h0m-35.2-.8h0"/>
<path class=p d="M181.4 645.5h0m-36.4 .7h0m25.5 .1h0m-24.3-.2h0m9.7-.4h0"/>
<path class=i d="M143.7 646h0m-3.6 .4h0m-8.5-.1h0m18.2-.5h0m-4.8 0h0"/>
<path class=g d="M165.6 646h0m-13.4 .2h0"/>
<path class=f d="M189.9 645.7h0m-1.2 .3h0m-11-.4h0m-24.2 .3h0"/>
<path class=p d="M142.5 645.9h0m26.7-.4h0m12.2 0h0m-20.7 .3h0m18.2-.6h0m-25.4 .3h0m23-.5h0m-6-.3h0"/>
<path class=v d="M164.4 646.2h0m-18.2-.4h0m-1.2-.2h0"/>
<path class=g d="M151 645.7h0m13.4-.1h0m-10.9-.5h0m49.7-.1h0"/>
<path class=i d="M140.1 646h0m-3.6-.7h0m10.9 .7h0m-19.4-.6h0m13.3 .6h0m-1.2-.5h0m37.6-.6h0"/>
<path class=f d="M192.3 645.1h0"/>
<path class=p d="M154.7 644.9h0m-23.1 .9h0m14.6-.6h0m2.4 .3h0m-7.3-.1h0m9.7-.2h0m-10.9 .1h0"/>
<path class=i d="M128 645.3h0m37.6 .4h0m-19.4-.7h0m-6.1 .1h0m-9.7-.3h0m4.8 .4h0"/>
<path class=v d="M141.3 645.3h0m27.9 0h0m-32.7-.6h0m29.1 .8h0m-15.8-.3h0"/>
<path class=g d="M148.6 645.2h0m-19.4-.5h0"/>
<path class=i d="M164.4 645.4h0m-9.7-.7h0m-12.2 .6h0m-4.8-.3h0m2.4-.2h0m3.6 .1h0"/>
<path class=v d="M188.7 645.1h0"/>
<path class=f d="M202 644.7h0m0-.3h0m-1.2 .5h0"/>
<path class=p d="M149.8 644.7h0m6.1-.4h0"/>
<path class=f d="M168 645.3h0m-3.6-.1h0"/>
<path class=v d="M160.7 644.8h0m-6-.3h0m-1.2 0h0"/>
<path class=i d="M132.8 644.5h0"/>
<path class=g d="M135.2 644.6h0m31.6-.2h0"/>
<path class=p d="M181.4 643.8h0m-30.4 1h0m-8.5 0h0m21.9 .1h0m-15.8-.2h0m27.9-.6h0"/>
<path class=v d="M147.4 645.1h0m-6.1-.5h0m-3.6-.9h0m7.3 1h0m21.8-.4h0m-20.6 0h0m4.8 .4h0m-25.5-.5h0"/>
<path class=i d="M141.3 644.4h0m-24.3-.1h0m72.9 0h0m-20.7 .5h0m-12.1-.5h0m7.3 .4h0m-24.3-.3h0m1.2-.2h0"/>
<path class=g d="M152.2 644.7h0m15.8-.9h0"/>
<path class=v d="M148.6 644.3h0"/>
<path class=g d="M166.8 644.1h0"/>
<path class=p d="M178.9 643.6h0m-24.2 .5h0m9.7 .3h0m-15.8-.5h0m-8.5 .4h0m13.4-.6h0m3.6-.2h0m9.7 .2h0"/>
<path class=f d="M162 643.2h0"/>
<path class=i d="M143.7 644.3h0m14.6-.9h0m-19.4 .2h0m61.9 .5h0m-49.8 .1h0m-3.6-.1h0m19.4-.5h0"/>
<path class=v d="M155.9 643.7h0m-12.2 .1h0m32.8-.4h0"/>
<path class=i d="M131.6 643.9h0m1.2-.8h0m-3.6 .3h0"/>
<path class=f d="M172.9 644.5h0m30.3-1.1h0"/>
<path class=g d="M170.5 643.8h0"/>
<path class=p d="M148.6 643.6h0m0-.2h0m-8.5 .9h0m6.1-.5h0m4.8-.5h0m26.7 .5h0m24.3-.8h0m-48.5 .4h0m-11 .3h0m58.3-.3h0"/>
<path class=f d="M153.5 642.9h0m50.9 .1h0m-2.4-.3h0m-17 .3h0"/>
<path class=i d="M149.8 643.3h0m-18.2 .1h0m30.4-.9h0m-9.8 .4h0"/>
<path class=p d="M145 643.4h0m-4.9 .2h0m24.3 .3h0m49.8-1.1h0m-57.1 0h0m-9.7 .5h0m20.6-.1h0"/>
<path class=v d="M188.7 643.1h0m-37.7-.2h0m19.5 0h0m-25.5 .2h0m32.7 0h0m-4.8-.2h0m-24.3 .1h0m-4.9 .4h0m36.5-1.8h0m-49.8 1.2h0m43.7-.5h0m24.3-.6h0"/>
<path class=i d="M135.2 643.1h0m14.6-.4h0m-10.9 0h0m3.6 .7h0m4.9-.5h0"/>
<path class=p d="M165.6 643.7h0m1.2-1h0m-23.1 .4h0m0-.2h0m24.3-.3h0m-3.6 1h0m-6.1-1.3h0"/>
<path class=i d="M147.4 642.7h0m-12.2-.7h0m65.6 .7h0"/>
<path class=g d="M176.5 642.7h0"/>
<path class=v d="M155.9 642.4h0m47.3 0h0m-61.9 .4h0"/>
<path class=p d="M157.1 642.3h0m-27.9 .1h0m35.2 .3h0m12.1-1.1h0m-30.3 .8h0m-6.1 .4h0"/>
<path class=i d="M129.2 641.5h0m-3.7 .5h0m12.2-.6h0"/>
<path class=g d="M193.5 642.4h0m-52.2 0h0"/>
<path class=v d="M145 642.5h0m-1.3 0h0m6.1 0h0m-6.1-.1h0m17-.6h0m-32.7-.6h0"/>
<path class=f d="M178.9 641.8h0"/>
<path class=p d="M200.8 642.2h0m-36.4 .4h0m-10.9 .1h0m18.2-.1h0m-19.5-.2h0m-3.6-.5h0m40.1 .4h0m-36.5-.3h0m38.9-.2h0m-30.4-.8h0m-29.1 .9h0"/>
<path class=i d="M158.3 641.5h0m7.3 .8h0m-31.6-.9h0m11 .8h0m-6.1-.7h0"/>
<path class=v d="M154.7 641.7h0"/>
<path class=g d="M155.9 641.7h0m10.9 .8h0m4.9-.4h0m30.3-.8h0m-52.2 .4h0m19.4 0h0m19.5 .6h0m-18.2-.9h0"/>
<path class=p d="M172.9 641.1h0m-32.8 .9h0m24.3 .1h0m-10.9-.1h0m18.2-.4h0m-30.4 .7h0m9.7-.6h0"/>
<path class=f d="M200.8 641.1h0m-36.4 .7h0"/>
<path class=g d="M168 641.6h0m9.7 .4h0"/>
<path class=p d="M165.6 641.7h0m0-.1h0m-10.9-.2h0m10.9-.1h0"/>
<path class=v d="M168 641.5h0m-3.6 .1h0m13.3 0h0m14.6-.5h0m0-.6h0"/>
<path class=i d="M140.1 641.7h0m7.3 .3h0m-7.3-.6h0m0 0h0m13.4 .2h0m-9.8 .7h0m12.2-1.1h0m-13.4 .6h0m3.7-.5h0m-14.6 0h0"/>
<path class=f d="M208.1 641h0m-7.3-.1h0"/>
<path class=v d="M148.6 641.4h0"/>
<path class=p d="M147.4 641h0m4.8 .4h0m-9.7 .1h0m11-.5h0m-9.8 .4h0m11-.2h0m10.9-.1h0m-15.8 .2h0m38.9-.4h0"/>
<path class=f d="M152.2 640.9h0m7.3 0h0m17 .4h0"/>
<path class=i d="M175.3 640.7h0m-51-.2h0m17 .7h0m10.9-.4h0m13.4 .2h0m-21.9 .2h0"/>
<path class=g d="M170.5 641.3h0m-30.4-.2h0m37.6-.2h0"/>
<path class=f d="M217.8 640.2h0"/>
<path class=i d="M142.5 641h0m30.4-.2h0m-32.8-.1h0m0-.1h0m-9.7 .1h0m7.3 0h0"/>
<path class=p d="M163.2 641.2h0m-12.2-.6h0m17 .5h0m-19.4 .1h0m9.7-.3h0m2.4-.3h0m12.2-.1h0m-20.7 0h0m11 .5h0"/>
<path class=v d="M166.8 640.7h0m-20.6 .4h0m-1.2-.4h0m21.8-.2h0"/>
<path class=i d="M126.7 640.6h0m20.7 .1h0"/>
<path class=p d="M180.2 639.8h0m-3.7 .6h0m-10.9 .3h0m-23.1 0h0m12.2-.2h0m49.7-.5h0m-12.1-.1h0"/>
<path class=f d="M189.9 640.6h0"/>
<path class=v d="M155.9 640.4h0m-7.3 .1h0m6.1-.4h0m-9.7 .4h0m24.2 .5h0m-14.5-1.1h0m20.6 .4h0m-14.6-.6h0m-32.7 .9h0m60.7-.5h0"/>
<path class=g d="M202 639.5h0m-52.2 .8h0m35.2-1h0"/>
<path class=i d="M146.2 640.4h0m3.6-.5h0m-8.5 .2h0m-1.2 0h0m31.6 .2h0m-4.9 0h0m-23.1-.1h0m17-1.1h0m6.1 1h0"/>
<path class=p d="M181.4 639.7h0m-3.7 .3h0m-4.8 .3h0m2.4-.8h0m-17 .6h0m-9.7 0h0m21.9-.3h0"/>
<path class=f d="M206.9 639.1h0"/>
<path class=i d="M140.1 640h0m15.8-.5h0m-7.3 .2h0m-1.2 0h0m-1.2 .1h0"/>
<path class=p d="M200.8 639.8h0m-51-.1h0m24.3 0h0m26.7-.1h0m0-.4h0m-19.4 .1h0m-27.9 1h0"/>
<path class=g d="M146.2 639.6h0m36.4-1.1h0"/>
<path class=f d="M171.7 640h0"/>
<path class=v d="M168 639.8h0m-3.6 1h0m-20.7-1h0m20.7 .4h0m2.4-.2h0m-9.7-.7h0m-3.6 .3h0"/>
<path class=g d="M164.4 640h0"/>
<path class=v d="M200.8 639h0"/>
<path class=p d="M153.5 639.4h0m-4.9 .2h0m-4.9 .1h0m19.5-.7h0"/>
<path class=i d="M166.8 639.7h0m-25.5 .2h0m1.2 .3h0m-8.5-.9h0m37.7 .1h0m-26.7-.2h0m37.6-.2h0"/>
<path class=g d="M164.4 639.4h0"/>
<path class=i d="M166.8 639.5h0m-32.8-1h0m20.7 .9h0"/>
<path class=p d="M143.7 639.1h0m21.9 .4h0m-6.1-.4h0"/>
<path class=v d="M140.1 639.5h0m8.5-.4h0m41.3 0h0m-24.3-.1h0m-12.1 0h0m15.7 .7h0m-15.7-1.2h0"/>
<path class=f d="M147.4 639.1h0"/>
<path class=g d="M151 639.4h0m53.4-1.3h0"/>
<path class=i d="M175.3 639.3h0m-30.3-.4h0m27.9 .4h0m-25.5-.8h0m20.6 .6h0"/>
<path class=p d="M164.4 639.3h0m36.4-.8h0m-29.1 .3h0m-20.7 .1h0m19.5 0h0m31.5 0h0m-61.9 .1h0m24.3 .2h0"/>
<path class=v d="M141.3 639.5h0m3.7-1h0"/>
<path class=g d="M165.6 638.8h0m-13.4-.3h0m12.2 .3h0m0-.2h0"/>
<path class=v d="M143.7 638.7h0"/>
<path class=p d="M188.7 638.4h0m-35.2-.4h0m2.4 1.1h0m12.1-.7h0m-2.4-.1h0m10.9 .1h0m-9.7 0h0m-26.7 .1h0"/>
<path class=i d="M128 638.1h0m75.2 .8h0m-71.6-.3h0m18.2 .1h0m8.5-.2h0m6.1-.1h0m-23.1 .7h0m40.1-.2h0m-32.8-.6h0m0-.3h0"/>
<path class=f d="M132.8 637.7h0"/>
<path class=i d="M147.4 638.1h0m7.3 0h0m4.8-.4h0m-8.5 .2h0m18.2 .5h0"/>
<path class=g d="M175.3 638.3h0"/>
<path class=p d="M164.4 638.3h0m10.9-.5h0m-9.7 .4h0m7.3 .1h0"/>
<path class=v d="M203.2 637.7h0m-32.7 .4h0m-28 .3h0m25.5-.3h0m-13.3-.5h0"/>
<path class=p d="M145 638h0m19.4 .3h0m8.5-.3h0m-19.4-.1h0m-1.3-.4h0m14.6 .6h0"/>
<path class=i d="M170.5 637.5h0m-34 .3h0m52.2 .4h0m-42.5 .1h0m7.3-1h0"/>
<path class=v d="M200.8 637.3h0m-40.1 .2h0m-12.1 .4h0m26.7-.3h0m-31.6 .3h0m20.7 .1h0m-6.1-.5h0m30.4 .2h0"/>
<path class=f d="M188.7 637.2h0m19.4 0h0"/>
<path class=g d="M176.5 637.4h0"/>
<path class=f d="M205.7 636.9h0m-4.9 .3h0"/>
<path class=p d="M171.7 637.4h0m-6.1 .3h0m-19.4 .4h0m43.7-1.5h0m-20.7 .7h0m-10.9-.3h0"/>
<path class=i d="M141.3 638.2h0m27.9-1.2h0m-41.2 .2h0"/>
<path class=v d="M151 637.7h0m14.6-.1h0m13.3-.6h0m-32.7 .4h0m21.8-.1h0m-25.5 .8h0m21.9-.2h0m40-1.5h0m-40 1.3h0m-21.9-.7h0"/>
<path class=g d="M151 637.3h0"/>
<path class=p d="M157.1 637.6h0m-1.2-.6h0m24.3-.4h0m-30.4 1h0m40.1-1.4h0m-35.2 .3h0m-7.3 .9h0m30.3-.3h0m15.8-.4h0"/>
<path class=i d="M147.4 636.9h0m-7.3 1h0m3.6-1.2h0m-3.6 .5h0m32.8 0h0m-26.7-.2h0m18.2 .2h0"/>
<path class=f d="M141.3 637.2h0m24.3-.2h0"/>
<path class=v d="M174.1 636.8h0m-18.2-.7h0"/>
<path class=p d="M168 637.3h0m-17-.5h0m21.9-.3h0m-6.1 .2h0m9.7-.6h0m-3.6 .2h0m-1.2 .7h0m17-.4h0"/>
<path class=g d="M160.7 636.8h0"/>
<path class=f d="M195.9 636.5h0m-17 .3h0m23.1-.8h0"/>
<path class=i d="M146.2 636.6h0m18.2 .2h0m-24.3-.1h0m9.7 .3h0m21.9-.3h0m-26.7 .1h0m8.5 .2h0m-2.5-.5h0"/>
<path class=g d="M219 636.8h0"/>
<path class=v d="M177.7 635.7h0m-4.8 .1h0"/>
<path class=i d="M140.1 636.1h0m0-.3h0m6.1 .7h0m55.8-.7h0m-75.3-.1h0m21.9 .7h0"/>
<path class=f d="M164.4 636.3h0m41.3-.2h0"/>
<path class=p d="M168 636.4h0m-18.2 0h0m18.2-.4h0m-23 .6h0m-1.3-.1h0m8.5-.3h0m12.2 0h0"/>
<path class=f d="M200.8 636.1h0"/>
<path class=g d="M170.5 635.9h0m-19.5 .1h0m42.5-.9h0"/>
<path class=v d="M165.6 636.5h0m17-.8h0m-40.1 .6h0m35.2-1.2h0"/>
<path class=i d="M145 635.7h0m-3.7 .2h0m6.1 .2h0m21.8-.5h0m-26.7 0h0m11 .5h0m1.2-.2h0m34 .2h0"/>
<path class=p d="M146.2 635.9h0m59.5-.4h0m-57.1 .1h0"/>
<path class=v d="M166.8 636h0m-20.6-.3h0m-11-.6h0m29.2 .8h0m10.9-.5h0"/>
<path class=i d="M168 635.9h0m-27.9-.2h0m30.4-.6h0m-30.4 .6h0m17-.4h0"/>
<path class=p d="M143.7 635.6h0m36.5 .1h0m-24.3-1h0m9.7 1.4h0m-21.9-1h0m30.4 .5h0m-21.9-.3h0m-2.4 .1h0m18.2 .1h0m34-.4h0m-48.5 .1h0"/>
<path class=v d="M172.9 635.5h0m-26.7-.2h0m23 0h0m31.6-.1h0"/>
<path class=p d="M166.8 635.6h0m13.4-1h0m-2.5 .3h0m9.7-.2h0m-42.4 .4h0m21.8 .3h0"/>
<path class=g d="M188.7 635.2h0m-30.4-.1h0"/>
<path class=f d="M172.9 634.6h0m27.9 .1h0"/>
<path class=i d="M149.8 635.2h0m14.6 .4h0m7.3-.8h0m-25.5 .3h0m-6.1 .2h0m4.9-.3h0m43.7-.1h0m-48.6-.5h0m10.9 .2h0m7.3-.5h0m18.2 1h0m-8.5-.1h0m-31.5-.8h0m4.8 .5h0m1.2 .3h0"/>
<path class=g d="M142.5 634.9h0m1.2 .1h0m8.5-.4h0m-9.7 .2h0m21.9 .1h0"/>
<path class=v d="M157.1 633.8h0m-9.7 1.1h0m13.3-1.3h0m6.1 1.2h0"/>
<path class=p d="M188.7 634.7h0m1.2-.6h0m2.4 .4h0m-43.7 .8h0m19.4-1h0m1.2 .1h0"/>
<path class=g d="M149.8 634.4h0m36.4-.9h0"/>
<path class=i d="M143.7 634.7h0m12.2-.2h0"/>
<path class=p d="M165.6 634.6h0m42.5-.2h0m-4.9 .1h0m-12.1-1.1h0m-37.6 1.2h0m14.5-.3h0"/>
<path class=v d="M200.8 634.6h0m-24.3-.1h0m-25.5-.4h0m-2.4 .5h0m-3.6-.1h0m19.4 .2h0m-9.7-.5h0m25.5-.8h0m-1.3 1.1h0"/>
<path class=i d="M171.7 634.7h0m-31.6-.7h0m-10.9-.7h0m19.4 .5h0m-8.5-.2h0m37.6-.5h0m-35.2 1.4h0m58.3-1.2h0"/>
<path class=f d="M200.8 633h0"/>
<path class=v d="M141.3 633.8h0m30.4 0h0m-2.5 .3h0m3.7-.2h0m-27.9-.1h0"/>
<path class=p d="M146.2 633.5h0m18.2 .6h0m51-.4h0m-46.2-.1h0m-15.7 .1h0m44.9-.3h0m-54.7 .3h0m21.9 .6h0m0-.6h0m-9.7-.4h0m-4.9 .5h0m-15.8-1.2h0"/>
<path class=v d="M189.9 633.1h0m-1.2 1h0m-46.2-.2h0m18.2-.5h0m42.5 .1h0m-32.7 .2h0"/>
<path class=f d="M204.4 632.9h0"/>
<path class=p d="M153.5 633.5h0m23 .1h0m-17-.4h0"/>
<path class=i d="M209.3 633.8h0m-57.1-.1h0m18.3-.4h0m-21.9 .1h0m-1.2-.1h0m3.6 .2h0"/>
<path class=p d="M166.8 633.6h0m7.3 .4h0m6.1-1h0"/>
<path class=f d="M172.9 633h0"/>
<path class=v d="M178.9 632.5h0m-10.9 .7h0m1.2-.1h0m32.8 0h0m-40 .3h0"/>
<path class=i d="M177.7 632.7h0m-24.2 .6h0m35.2 .1h0m-23.1 0h0m-25.5 .1h0m2.4-.3h0m1.2 0h0"/>
<path class=g d="M147.4 633h0"/>
<path class=v d="M154.7 632.9h0m1.2-.3h0m42.5 .6h0m-38.9-.2h0m4.9 .9h0"/>
<path class=p d="M172.9 632.7h0m-27.9 .8h0m12.1-.6h0m19.4-.4h0m-17-.2h0m13.4-.5h0"/>
<path class=f d="M169.2 632.9h0m34-.7h0"/>
<path class=i d="M140.1 632.3h0m24.3 1.4h0m-14.6-.6h0m17-.3h0m-19.4-.1h0m23.1-.1h0m-4.9 .2h0m-20.6-.1h0m-4.9-.4h0"/>
<path class=g d="M188.7 633.3h0m-24.3-.1h0m30.3-.7h0m-6-.1h0"/>
<path class=v d="M168 632.4h0m8.5-.1h0m7.3-1.3h0"/>
<path class=p d="M143.7 632.8h0m2.5-.2h0m55.8 0h0"/>
<path class=i d="M202 632.2h0m-46.1-.1h0m8.5 .7h0m-23.1-.1h0m36.4-.8h0m-29.1 .9h0m4.9-.1h0"/>
<path class=p d="M181.4 631.9h0m-37.7 .1h0m17 .4h0m60.7-.9h0m-65.5 .4h0m32.8 .4h0m-19.5-.1h0m-9.7-.2h0m15.8 .8h0"/>
<path class=f d="M158.3 631.8h0m43.7-.2h0m-1.2 .2h0"/>
<path class=i d="M147.4 632h0m2.4 .6h0m-3.6-.8h0m1.2 .1h0m-4.9 .1h0"/>
<path class=g d="M228.7 631.8h0m-61.9 .6h0m1.2-.5h0m-17 .9h0m-1.2-.6h0"/>
<path class=p d="M175.3 631.9h0m17 0h0m-42.5 0h0m68-1.4h0m-37.6 .9h0m-30.4 0h0"/>
<path class=i d="M162 631.5h0m1.2 .5h0m25.5-.1h0m-17-.1h0m-25.5-.2h0m8.5 .2h0"/>
<path class=g d="M142.5 632h0m28 .3h0m0-1h0m-13.4 .3h0m38.8-.5h0m-7.2 .6h0m-21.9 .2h0m8.5-.4h0"/>
<path class=v d="M140.1 632.1h0m24.3 .4h0m36.4-.9h0m-20.6-.3h0m-26.7 .4h0m-12.2-.1h0m51 .1h0m-24.3-.3h0m-7.3-.7h0m14.6 .4h0"/>
<path class=f d="M164.4 632.1h0m44.9-.7h0"/>
<path class=i d="M143.7 631.3h0m2.5-.2h0m-4.9 0h0"/>
<path class=g d="M169.2 631.2h0m-19.4-.1h0"/>
<path class=p d="M165.6 631.8h0m8.5-.5h0m-26.7-.1h0m-7.3-.5h0m2.4 .7h0m35.2-.3h0"/>
<path class=v d="M165.6 631.4h0m-17-.2h0m19.4 .1h0m-3.6 .4h0m36.4-.8h0m-47.3 .5h0m35.2-.4h0m13.3 .4h0m-37.6 0h0m-23.1-.9h0m48.6 .9h0"/>
<path class=g d="M200.8 630.4h0"/>
<path class=p d="M172.9 631h0m-8.5 .3h0m-7.3-.4h0m15.8-.1h0m-32.8-.4h0m25.5 .8h0m-15.8-.5h0m32.8-.2h0m-15.8 .8h0"/>
<path class=i d="M154.7 631h0m1.2-.2h0m-12.2 .2h0m46.2-.8h0m-48.6 .1h0m4.9 .1h0m-2.5 .5h0m28-.1h0m-28-.4h0m36.5 0h0"/>
<path class=v d="M170.5 630.9h0m-18.3 .6h0m9.8-.8h0m-13.4-.1h0"/>
<path class=i d="M164.4 630.9h0m-17-.3h0m41.3-.4h0m-29.2 .1h0m-12.1-.2h0"/>
<path class=g d="M164.4 630.8h0m43.7-.5h0m-31.6 .7h0"/>
<path class=p d="M165.6 631h0m0-.4h0m-7.3 .1h0m44.9 .4h0m-26.7-1h0m-8.5 .7h0m21.9-.9h0"/>
<path class=g d="M188.7 629.8h0"/>
<path class=v d="M175.3 630.3h0m7.3-.2h0m-8.5-.3h0m15.8-.1h0m-42.5 0h0"/>
<path class=i d="M155.9 629.8h0m-1.2 .2h0m-11 .1h0m-3.6 .2h0m2.4-.7h0m28 1.1h0m-6.1-.3h0m-23.1-.6h0"/>
<path class=p d="M203.2 629.7h0m12.2 .1h0m-47.4 .7h0m38.9-1h0m-31.6 .6h0m26.7 .3h0m-37.6 0h0m48.5-.7h0m-32.7 .6h0"/>
<path class=g d="M222.7 629.7h0"/>
<path class=i d="M140.1 629.6h0m12.1 .3h0m-23-1.1h0"/>
<path class=p d="M145 630.3h0m19.4-.3h0m1.2 .5h0m10.9-.6h0m26.7-.8h0"/>
<path class=v d="M166.8 630.1h0m4.9 0h0m-23.1-.3h0m52.2-.4h0m-57.1 .4h0m20.7-.1h0m-10.9-.2h0m19.4 .1h0m0-.3h0m-32.8 .3h0m49.8-.1h0m-42.5 .1h0"/>
<path class=p d="M180.2 629h0"/>
<path class=i d="M169.2 630.3h0m-29.1-1.2h0m3.6 .1h0m12.2-.5h0m3.6 .9h0m41.3-.4h0m-12.1 .4h0m-36.5-.1h0m37.7-.5h0m-44.9 .3h0m-24.3 .1h0m80.1-.5h0"/>
<path class=v d="M188.7 629.1h0m-38.9 .9h0m1.2-1.3h0m13.4 .9h0m-3.7-.6h0m7.3 .6h0m25.5-1.2h0"/>
<path class=g d="M166.8 629.7h0m-1.2 .1h0m47.3-.9h0m-18.2-.8h0"/>
<path class=p d="M197.2 629.4h0m3.6-.7h0m-25.5 .7h0m-3.6-.3h0m-14.6-.1h0"/>
<path class=g d="M177.7 629.2h0"/>
<path class=v d="M172.9 629.1h0m-26.7 .3h0m12.1 0h0m13.4-.7h0m-4.9 .4h0m-13.3 0h0"/>
<path class=i d="M148.6 629.5h0m-1.2-.3h0m-7.3-.4h0m3.6-.2h0m47.4-.1h0m-18.2 .3h0m-25.5-.3h0"/>
<path class=f d="M203.2 628.6h0m23.1 .3h0m-1.2-1.6h0"/>
<path class=i d="M142.5 628.6h0m-2.4 .1h0m9.7-.3h0m-6.1 .1h0m17-.6h0m3.7 1.4h0m12.1-.7h0m30.4-.8h0"/>
<path class=g d="M151 628.4h0m51 .7h0"/>
<path class=v d="M171.7 628.6h0m-18.2 .3h0m18.2-.5h0m-25.5-.1h0m18.2 .7h0"/>
<path class=p d="M164.4 629h0m-4.9-1h0m-1.2 .3h0m24.3-.5h0m-13.4 1.6h0m20.7-.9h0m-21.9 .6h0"/>
<path class=i d="M155.9 628.6h0m-13.4-.1h0m6.1-.4h0m2.4 0h0m-10.9 .1h0m7.3-.5h0m-6.1 .3h0"/>
<path class=g d="M185 628.2h0"/>
<path class=p d="M154.7 628.3h0m36.4-.3h0m-2.4 .7h0m-34-.8h0m53.4-.2h0m-43.7 .8h0m26.7-.8h0m-21.9 .6h0m0-.1h0m4.9-.3h0"/>
<path class=v d="M202 628.1h0m-36.4 .2h0m12.1 .6h0m-36.4-1.5h0m13.4 .4h0m17 .1h0m31.5-.3h0m-59.5 .3h0m2.5-.2h0m60.7-.2h0m-51 .3h0"/>
<path class=f d="M204.4 627.5h0m-12.1-.1h0"/>
<path class=g d="M188.7 628.1h0m-15.8-.6h0m15.8 .2h0m-38.9 .2h0"/>
<path class=i d="M141.3 627.1h0m40.1 .9h0m-19.4-.6h0m-18.3 .3h0m1.3 .2h0m3.6 0h0"/>
<path class=p d="M168 628.2h0m-3.6-.1h0m1.2 .1h0m2.4-.8h0m-3.6 .4h0m2.4-.5h0"/>
<path class=f d="M211.7 627.7h0m-23-.2h0m0-.4h0m17-.2h0"/>
<path class=v d="M175.3 627.1h0m-26.7 .6h0m21.9 .2h0m30.3-.7h0m0-.1h0"/>
<path class=i d="M145 627.2h0m-2.5 0h0m4.9 .3h0m35.2-.3h0"/>
<path class=g d="M170.5 627.1h0m-6.1 .3h0m27.9-.3h0m-19.4 .2h0"/>
<path class=p d="M180.2 627h0m-15.8 .2h0m25.5-.2h0m-37.7 .3h0m25.5 .7h0m11-1.2h0m12.1 0h0m-9.7 .4h0m19.4 0h0m-31.6-.4h0"/>
<path class=i d="M163.2 626.8h0m1.2 .1h0m-24.3 0h0m25.5 .7h0"/>
<path class=g d="M208.1 627.3h0m-8.5-.9h0m-43.7 .9h0m-12.2 0h0"/>
<path class=p d="M175.3 626.9h0m-17 .4h0m26.7-.4h0m-31.5 .3h0"/>
<path class=v d="M166.8 627h0m-17 .7h0m63.1-.9h0m-44.9 .1h0m-17 .5h0m14.6-.5h0"/>
<path class=p d="M172.9 627.1h0m-8.5-.3h0m-8.5-.3h0m17 .5h0m-26.7-.3h0m57-.5h0m-31.5-.2h0"/>
<path class=g d="M200.8 626.3h0m7.3 .2h0"/>
<path class=i d="M152.2 626.8h0m26.7-.4h0m-36.4 .5h0m14.6-.5h0m-25.5-.1h0m14.6 0h0m7.3-.2h0"/>
<path class=v d="M189.9 626.7h0m-25.5-.1h0m-24.3 0h0m34-.2h0m3.6 .1h0m-29.1 .9h0"/>
<path class=f d="M188.7 626.2h0"/>
<path class=i d="M164.4 626.5h0m4.8 .3h0m-19.4-.6h0m-2.4 0h0m-6.1-.4h0"/>
<path class=v d="M176.5 625.8h0m-4.8 .2h0m3.6-.3h0m18.2 .2h0m-38.8 .4h0m-7.3-.8h0m17 1h0"/>
<path class=f d="M220.2 625.6h0"/>
<path class=p d="M202 626h0m-37.6 .2h0m27.9-.6h0m-41.3 .4h0m54.7-.3h0m-17 .2h0m12.1 .2h0m-34 .5h0m-2.4-.6h0m-10.9-.1h0m15.7-.1h0"/>
<path class=g d="M178.9 625.9h0m-23-.1h0m15.8-.2h0m42.5 .2h0m-62-.1h0m45 .1h0"/>
<path class=f d="M192.3 625.3h0m14.6 .1h0"/>
<path class=i d="M178.9 625.6h0m-10.9 .5h0m1.2-.6h0m-15.7-.5h0m-1.3 .6h0m-2.4-.2h0m-1.2 .3h0m-3.6 .2h0"/>
<path class=p d="M164.4 626h0m13.3-.4h0m-13.3 .3h0m-2.4-.9h0m-4.9 .5h0m20.6-.3h0"/>
<path class=v d="M189.9 625.9h0m-24.3 .1h0m-12.1-1.6h0m26.7 .8h0m-14.6 .6h0m-1.2-.2h0m3.6 0h0"/>
<path class=p d="M145 625.7h0m14.5-.3h0m41.3 .4h0m-44.9-1.3h0m30.3 .3h0m21.9 .8h0m-36.4-.3h0m-14.6-.5h0m31.6 .4h0"/>
<path class=i d="M202 625.7h0m-53.4-.5h0m21.9-.1h0m-28 .7h0m31.6-.2h0m-4.9-.4h0m-27.9-.1h0m70.4 .3h0m-63.1-.7h0"/>
<path class=v d="M163.2 625.3h0m13.3-.2h0m-6-.3h0m-2.5-.1h0m7.3 .3h0m-2.4-.4h0"/>
<path class=f d="M191.1 625.4h0m40.1-.9h0"/>
<path class=g d="M165.6 625.5h0m14.6-.5h0m-15.8 .5h0m37.6-.1h0m1.2-.7h0m-23 .3h0"/>
<path class=p d="M166.8 624.8h0m9.7 .2h0m-3.6-.4h0m14.5-.4h0"/>
<path class=i d="M145 625.2h0m-1.3-.5h0m6.1 .3h0m1.2-.7h0"/>
<path class=g d="M208.1 624.7h0m-36.4-.5h0m40-.4h0"/>
<path class=v d="M164.4 625h0m9.7-.7h0m-24.3 .1h0m52.2 .4h0m-63.1-.2h0m26.7 .4h0m3.6-.4h0m19.5 .5h0m-45-.4h0m34-.1h0m-15.7-.1h0m46.1-.5h0m-18.2 .3h0m-12.2 .2h0m-13.3 .4h0m-2.4-.9h0m42.4-.3h0"/>
<path class=i d="M145 624.3h0m80.1-.2h0m-72.9-.8h0m-4.8 .6h0m57 0h0m-59.4 0h0"/>
<path class=p d="M203.2 624.4h0m-2.4 .5h0m0-.8h0m-24.3-.7h0m-29.1 .1h0m27.9 .4h0m1.2 .1h0"/>
<path class=g d="M165.6 624.5h0m36.4-.1h0"/>
<path class=p d="M188.7 624.4h0m-40.1-.7h0m46.1-.1h0m-17 .4h0m23.1-.1h0m15.8-.2h0m-52.2 1h0m-24.3-1.3h0m48.6 0h0m-31.6 0h0m2.4 .8h0m9.7-.7h0m21.9 .1h0m-20.6 .3h0"/>
<path class=f d="M168 624.5h0m3.7-1.1h0"/>
<path class=g d="M165.6 624.1h0m8.5-.5h0m29.1-.2h0"/>
<path class=v d="M208.1 623.8h0m-51-.1h0m15.8 0h0m30.3 0h0m-48.5 .3h0m13.3-.1h0m-3.6 .5h0m36.4-.9h0m-36.4-.1h0m25.5 0h0m-1.2 .5h0m-23.1 0h0m-10.9-.5h0m21.8 .1h0m34-.2h0"/>
<path class=i d="M151 624h0m-2.4-.6h0m53.4 .4h0m-59.5 .5h0m2.5-.6h0m-2.5-.2h0m23.1 .2h0m-13.4 .2h0m0-.4h0m29.2 0h0m10.9 0h0m-23.1 .2h0m-2.4-.2h0m-15.8 .1h0m21.9-.1h0m-23.1-.1h0"/>
<path class=f d="M203.2 623.5h0"/>
<path class=v d="M216.6 623.6h0m-52.2-.2h0"/>
<path class=p d="M180.2 623.4h0m-15.8 .5h0m8.5-.6h0"/>
</g>
<path d="M79.4 718.7v3M200.8 718.7v3M322.2 718.7v3M443.6 718.7v3M565 718.7v3M686.4 718.7v3M74.9 701.2h-3.9M74.9 559.9h-3.9M74.9 418.6h-3.9M74.9 277.3h-3.9" stroke="#742828" stroke-width="1.1" fill="none"/>
<rect x="732" y="389.1" width="18.1" height="18.5" fill="#ebebeb"/>
<circle cx="741" cy="397.7" r="2.9" fill="#DA70D6"/>
<rect x="732" y="409.1" width="18.1" height="18.5" fill="#ebebeb"/>
<circle cx="741" cy="417.7" r="2.9" fill="#8B3A2F"/>
<rect x="732" y="429" width="18.1" height="18.5" fill="#ebebeb"/>
<circle cx="741" cy="437.7" r="2.9" fill="#EB9F4A"/>
<rect x="732" y="449" width="18.1" height="18.5" fill="#ebebeb"/>
<circle cx="741" cy="457.7" r="2.9" fill="#EE6A50"/>
<rect x="732" y="468.9" width="18.1" height="18.5" fill="#ebebeb"/>
<circle cx="741" cy="477.7" r="2.9" fill="#191970"/>
</svg>
<div class="t" style="left:69.4px;top:724px;width:20px;text-align:center;font-size:9.7px;color:#4a3550">0</div>
<div class="t" style="left:190.8px;top:724px;width:20px;text-align:center;font-size:9.7px;color:#4a3550">1</div>
<div class="t" style="left:312.2px;top:724px;width:20px;text-align:center;font-size:9.7px;color:#4a3550">2</div>
<div class="t" style="left:433.6px;top:724px;width:20px;text-align:center;font-size:9.7px;color:#4a3550">3</div>
<div class="t" style="left:555px;top:724px;width:20px;text-align:center;font-size:9.7px;color:#4a3550">4</div>
<div class="t" style="left:676.4px;top:724px;width:20px;text-align:center;font-size:9.7px;color:#4a3550">5</div>
<div class="t" style="left:20px;top:696.2px;width:48.3px;text-align:right;font-size:9.7px;color:#4a3550">0</div>
<div class="t" style="left:20px;top:554.9px;width:48.3px;text-align:right;font-size:9.7px;color:#4a3550">5000</div>
<div class="t" style="left:20px;top:413.6px;width:48.3px;text-align:right;font-size:9.7px;color:#4a3550">10000</div>
<div class="t" style="left:20px;top:272.3px;width:48.3px;text-align:right;font-size:9.7px;color:#4a3550">15000</div>
<div class="t" style="left:381.5px;top:735.5px;font-size:12.3px;color:#211d55">carat</div>
<div class="t" style="left:18.5px;top:424.5px;font-size:11.9px;letter-spacing:.25px;color:#211d55;transform:rotate(-90deg);transform-origin:center;width:27px;text-align:center">price</div>
<div class="t" style="left:731.5px;top:372.5px;font-size:12px;color:#211d55">cut</div>
<div class="t" style="left:753.5px;top:393.8px;font-size:10.05px;color:#35284f">Fair</div>
<div class="t" style="left:753.5px;top:413.8px;font-size:10.05px;color:#35284f">Good</div>
<div class="t" style="left:753.5px;top:433.8px;font-size:10.05px;color:#35284f">Very Good</div>
<div class="t" style="left:753.5px;top:453.8px;font-size:10.05px;color:#35284f">Premium</div>
<div class="t" style="left:753.5px;top:473.8px;font-size:10.05px;color:#35284f">Ideal</div>
<div class="t" style="left:644px;top:298.5px;font-size:15.1px;font-weight:700;color:#8a2c22">©tutorialgateway.org</div>

<svg class="a" style="left:829px;top:141px" width="12" height="8" viewBox="0 0 12 8"><path d="M1.600 6.500l4-4 4 4" fill="none" stroke="#cfc6c9" stroke-width="1.800"/></svg>
<svg class="a" style="left:829px;top:744px" width="12" height="8" viewBox="0 0 12 8"><path d="M1.600 1.500l4 4 4-4" fill="none" stroke="#cfc6c9" stroke-width="1.800"/></svg>
<svg class="a" style="left:3px;top:439px" width="8" height="13" viewBox="0 0 8 13"><path d="M1 1l6 5.400-6 5.400z" fill="#4f2a55"/></svg>
<svg class="a" style="left:845px;top:439px" width="8" height="13" viewBox="0 0 8 13"><path d="M7 1l-6 5.400 6 5.400z" fill="#4f2a55"/></svg>

<!-- window border -->
<div class="a" style="left:0;top:0;width:856px;height:1px;background:#2277c9"></div>
<div class="a" style="left:0;top:0;width:1px;height:756px;background:#0f6cc4"></div>
<div class="a" style="left:854.500px;top:0;width:1.500px;height:756px;background:#0f6cc4"></div>
</div>
</body></html>
